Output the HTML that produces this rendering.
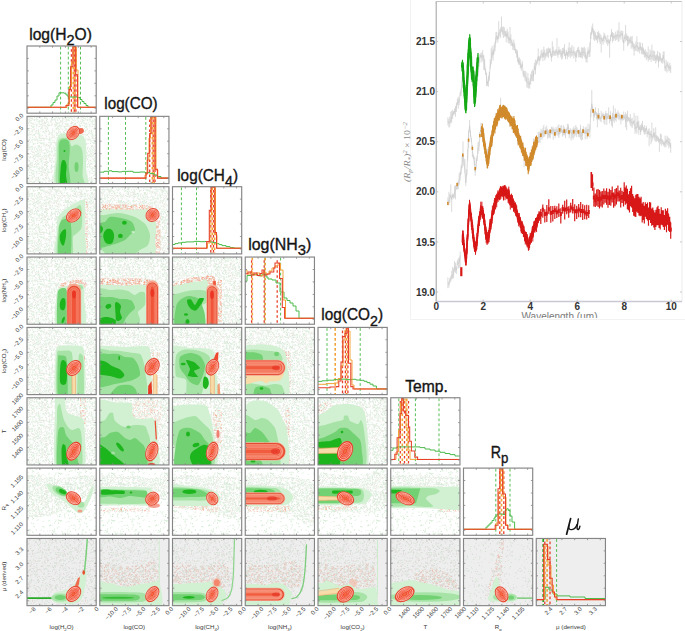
<!DOCTYPE html>
<html><head><meta charset="utf-8"><style>
html,body{margin:0;padding:0;background:#fff;width:685px;height:631px;overflow:hidden}
svg{display:block;font-family:"Liberation Sans", sans-serif}
</style></head><body>
<svg width="685" height="631" viewBox="0 0 685 631">
<defs><filter id="bl" x="-5%" y="-5%" width="110%" height="110%"><feGaussianBlur stdDeviation="0.55"/></filter><pattern id="spg" width="53" height="47" patternUnits="userSpaceOnUse"><path fill="#dcefdc" d="M7.1 39.8h1v1h-1zM22.9 35.8h1v1h-1zM11.5 19.8h1v1h-1zM52.6 40.4h1v1h-1zM29.0 45.0h1v1h-1zM9.4 27.5h1v1h-1zM1.7 44.3h1v1h-1zM4.4 0.8h1v1h-1zM17.1 22.3h1v1h-1zM15.8 45.5h1v1h-1zM22.1 11.9h1v1h-1zM46.2 42.3h1v1h-1zM12.4 34.1h1v1h-1zM7.2 25.9h1v1h-1zM47.5 5.1h1v1h-1zM0.8 19.4h1v1h-1zM36.1 7.5h1v1h-1zM34.6 1.9h1v1h-1zM51.4 45.6h1v1h-1zM4.7 35.4h1v1h-1zM21.3 12.6h1v1h-1zM38.6 1.0h1v1h-1zM24.8 40.4h1v1h-1zM26.6 37.4h1v1h-1zM45.7 11.6h1v1h-1zM49.4 45.9h1v1h-1zM24.6 4.0h1v1h-1zM11.5 26.8h1v1h-1zM5.4 34.6h1v1h-1zM13.2 35.2h1v1h-1zM28.9 23.1h1v1h-1zM10.9 38.1h1v1h-1zM37.1 45.5h1v1h-1zM51.3 13.7h1v1h-1zM37.5 39.7h1v1h-1zM10.9 32.0h1v1h-1zM49.2 44.9h1v1h-1zM6.3 32.6h1v1h-1zM13.7 23.3h1v1h-1zM48.2 46.7h1v1h-1zM7.7 31.2h1v1h-1zM29.9 11.9h1v1h-1zM24.5 39.5h1v1h-1zM2.3 12.9h1v1h-1zM34.0 11.4h1v1h-1zM9.4 4.5h1v1h-1zM48.7 40.2h1v1h-1zM6.9 37.3h1v1h-1zM50.7 27.5h1v1h-1zM51.4 38.3h1v1h-1zM42.2 27.5h1v1h-1zM18.6 46.4h1v1h-1zM47.5 31.5h1v1h-1zM18.8 19.5h1v1h-1zM38.3 39.2h1v1h-1zM22.7 44.9h1v1h-1zM2.5 30.6h1v1h-1zM34.1 40.7h1v1h-1zM17.9 22.8h1v1h-1zM21.6 29.6h1v1h-1zM22.4 0.2h1v1h-1zM31.9 24.4h1v1h-1zM6.4 16.3h1v1h-1zM30.4 16.3h1v1h-1zM0.4 41.7h1v1h-1zM33.5 25.8h1v1h-1zM32.0 0.4h1v1h-1zM39.6 44.3h1v1h-1zM21.6 28.5h1v1h-1zM37.3 0.0h1v1h-1zM13.4 29.4h1v1h-1zM0.6 19.5h1v1h-1zM43.8 44.5h1v1h-1zM5.0 38.3h1v1h-1zM51.8 11.2h1v1h-1zM50.8 10.6h1v1h-1zM37.7 3.9h1v1h-1zM8.1 31.4h1v1h-1zM42.4 29.2h1v1h-1zM9.9 0.7h1v1h-1zM5.0 31.9h1v1h-1zM52.0 36.5h1v1h-1zM18.1 2.4h1v1h-1zM14.2 16.6h1v1h-1zM29.5 46.9h1v1h-1zM22.0 46.9h1v1h-1zM1.8 17.4h1v1h-1zM5.2 33.9h1v1h-1zM51.6 9.3h1v1h-1zM0.5 46.1h1v1h-1zM8.7 42.2h1v1h-1zM0.5 35.9h1v1h-1zM25.1 1.1h1v1h-1zM45.7 2.5h1v1h-1zM18.9 36.9h1v1h-1zM13.6 25.4h1v1h-1zM16.4 41.3h1v1h-1zM11.1 3.8h1v1h-1zM35.6 38.6h1v1h-1zM51.6 38.1h1v1h-1zM39.4 41.3h1v1h-1zM26.4 31.7h1v1h-1zM22.8 39.6h1v1h-1zM19.8 10.8h1v1h-1zM6.9 43.4h1v1h-1zM38.8 40.1h1v1h-1zM17.6 0.9h1v1h-1zM11.6 8.3h1v1h-1zM42.1 31.2h1v1h-1zM48.3 28.4h1v1h-1zM6.4 44.6h1v1h-1zM21.4 16.9h1v1h-1zM16.8 22.6h1v1h-1zM29.6 6.4h1v1h-1zM9.1 6.7h1v1h-1zM29.8 23.4h1v1h-1zM7.1 43.7h1v1h-1zM12.4 41.2h1v1h-1zM52.3 46.7h1v1h-1zM15.0 7.3h1v1h-1zM2.9 33.9h1v1h-1zM14.5 41.2h1v1h-1zM29.5 37.5h1v1h-1zM5.5 4.8h1v1h-1zM17.0 13.2h1v1h-1zM8.1 5.0h1v1h-1zM20.4 36.4h1v1h-1zM8.5 45.5h1v1h-1zM47.4 16.4h1v1h-1zM10.0 37.5h1v1h-1zM41.6 20.7h1v1h-1zM41.3 27.5h1v1h-1zM19.3 2.8h1v1h-1zM6.6 44.7h1v1h-1zM19.4 7.1h1v1h-1zM25.0 1.3h1v1h-1zM32.4 32.8h1v1h-1zM5.9 30.7h1v1h-1zM4.8 22.9h1v1h-1zM33.3 31.5h1v1h-1zM26.2 38.6h1v1h-1zM28.7 5.9h1v1h-1zM36.6 26.6h1v1h-1zM9.0 29.0h1v1h-1zM3.7 28.0h1v1h-1zM42.9 2.8h1v1h-1zM12.3 23.2h1v1h-1zM29.3 19.8h1v1h-1zM14.0 39.0h1v1h-1zM27.0 17.7h1v1h-1zM32.4 16.3h1v1h-1zM51.5 40.5h1v1h-1zM48.8 12.5h1v1h-1zM36.4 31.4h1v1h-1zM47.8 9.8h1v1h-1zM20.6 12.8h1v1h-1zM50.7 42.7h1v1h-1zM0.8 37.6h1v1h-1zM12.1 42.4h1v1h-1zM13.5 13.5h1v1h-1zM1.8 0.9h1v1h-1zM32.7 32.0h1v1h-1zM14.4 15.8h1v1h-1zM37.3 10.6h1v1h-1zM29.1 30.8h1v1h-1zM41.3 25.0h1v1h-1zM39.4 44.5h1v1h-1zM14.0 18.1h1v1h-1zM37.5 21.8h1v1h-1zM32.9 14.9h1v1h-1zM45.3 32.4h1v1h-1zM6.7 42.0h1v1h-1zM13.8 23.0h1v1h-1zM14.5 12.0h1v1h-1zM51.4 39.2h1v1h-1zM41.5 2.0h1v1h-1zM2.0 30.9h1v1h-1zM42.9 2.3h1v1h-1zM4.6 40.9h1v1h-1zM27.0 41.6h1v1h-1zM19.4 33.3h1v1h-1zM14.6 16.6h1v1h-1zM41.0 33.7h1v1h-1zM35.5 18.5h1v1h-1zM34.8 45.5h1v1h-1zM2.7 35.0h1v1h-1zM33.2 15.2h1v1h-1zM5.9 13.5h1v1h-1zM36.0 10.3h1v1h-1zM14.9 12.2h1v1h-1zM33.7 17.6h1v1h-1zM18.9 18.3h1v1h-1zM45.7 13.6h1v1h-1zM2.8 28.6h1v1h-1zM36.0 35.9h1v1h-1zM14.5 44.4h1v1h-1zM35.5 46.9h1v1h-1zM15.9 9.9h1v1h-1zM52.9 26.3h1v1h-1zM20.2 4.4h1v1h-1zM38.2 38.5h1v1h-1zM47.3 21.8h1v1h-1zM17.5 15.6h1v1h-1z"/><path fill="#e3f2e3" d="M25.0 17.8h1v1h-1zM36.9 12.5h1v1h-1zM42.3 19.5h1v1h-1zM12.0 0.6h1v1h-1zM28.6 40.4h1v1h-1zM46.1 26.8h1v1h-1zM16.5 16.1h1v1h-1zM22.9 45.9h1v1h-1zM35.9 25.6h1v1h-1zM48.6 14.0h1v1h-1zM33.0 1.8h1v1h-1zM41.5 15.9h1v1h-1zM45.9 37.0h1v1h-1zM22.3 5.4h1v1h-1zM37.7 14.8h1v1h-1zM34.6 30.2h1v1h-1zM4.9 10.3h1v1h-1zM27.0 31.3h1v1h-1zM15.6 42.0h1v1h-1zM3.3 16.7h1v1h-1zM4.7 22.8h1v1h-1zM18.4 24.2h1v1h-1zM4.3 40.0h1v1h-1zM6.7 42.7h1v1h-1zM12.8 12.2h1v1h-1zM23.7 40.5h1v1h-1zM1.0 23.8h1v1h-1zM14.3 28.7h1v1h-1zM16.8 20.3h1v1h-1zM27.9 6.5h1v1h-1zM2.9 28.1h1v1h-1zM20.0 7.9h1v1h-1zM15.2 9.2h1v1h-1zM46.6 35.7h1v1h-1zM1.9 2.9h1v1h-1zM31.2 37.0h1v1h-1zM44.6 23.6h1v1h-1zM48.9 37.7h1v1h-1zM51.9 25.0h1v1h-1zM1.5 11.8h1v1h-1zM29.8 42.6h1v1h-1zM36.1 33.6h1v1h-1zM34.0 40.2h1v1h-1zM37.6 13.3h1v1h-1zM31.7 40.7h1v1h-1zM31.1 25.8h1v1h-1zM38.0 4.3h1v1h-1zM32.5 33.0h1v1h-1zM40.3 39.6h1v1h-1zM26.9 12.7h1v1h-1zM21.8 6.1h1v1h-1zM28.2 28.6h1v1h-1zM36.9 12.6h1v1h-1zM26.4 28.2h1v1h-1zM17.9 28.5h1v1h-1zM28.0 6.3h1v1h-1zM43.9 2.4h1v1h-1zM36.3 10.6h1v1h-1zM43.6 38.6h1v1h-1zM28.4 18.5h1v1h-1zM31.8 5.2h1v1h-1zM7.5 41.3h1v1h-1zM19.3 13.7h1v1h-1zM21.5 45.9h1v1h-1zM13.0 38.0h1v1h-1zM5.6 44.7h1v1h-1zM51.7 15.5h1v1h-1zM49.1 39.5h1v1h-1zM42.6 46.2h1v1h-1zM35.1 16.1h1v1h-1zM1.1 10.2h1v1h-1zM34.6 25.2h1v1h-1zM21.0 18.3h1v1h-1zM26.3 13.1h1v1h-1zM13.8 13.1h1v1h-1zM30.0 0.6h1v1h-1zM42.5 25.3h1v1h-1zM28.8 33.7h1v1h-1zM28.5 3.5h1v1h-1zM45.0 6.6h1v1h-1zM33.6 11.6h1v1h-1zM12.2 1.8h1v1h-1zM26.2 31.5h1v1h-1zM28.5 43.4h1v1h-1zM44.9 39.2h1v1h-1zM50.7 28.0h1v1h-1zM44.2 8.3h1v1h-1zM38.5 12.4h1v1h-1zM39.1 14.2h1v1h-1zM33.4 24.7h1v1h-1zM6.5 12.5h1v1h-1zM10.6 20.8h1v1h-1zM49.8 19.2h1v1h-1zM33.9 5.4h1v1h-1zM31.6 24.2h1v1h-1zM21.6 0.8h1v1h-1zM26.8 4.4h1v1h-1zM7.8 39.1h1v1h-1zM3.1 4.2h1v1h-1zM1.7 11.8h1v1h-1zM20.5 20.0h1v1h-1zM34.2 7.2h1v1h-1zM4.2 28.8h1v1h-1zM51.1 9.9h1v1h-1zM0.4 4.6h1v1h-1zM10.9 35.9h1v1h-1zM34.8 28.3h1v1h-1zM37.5 43.7h1v1h-1zM12.9 34.3h1v1h-1zM17.3 24.5h1v1h-1zM40.2 16.8h1v1h-1zM50.6 26.7h1v1h-1zM23.5 7.7h1v1h-1zM16.7 6.5h1v1h-1zM26.9 14.5h1v1h-1zM43.2 20.8h1v1h-1zM39.3 22.5h1v1h-1zM16.9 16.4h1v1h-1zM32.4 10.6h1v1h-1zM47.0 30.5h1v1h-1zM36.6 38.7h1v1h-1zM32.0 36.7h1v1h-1zM4.9 19.2h1v1h-1zM5.9 37.2h1v1h-1zM27.7 13.0h1v1h-1zM37.2 14.9h1v1h-1zM1.1 36.6h1v1h-1zM1.8 30.6h1v1h-1zM28.2 26.5h1v1h-1zM47.0 33.8h1v1h-1zM19.5 25.8h1v1h-1zM10.4 6.8h1v1h-1zM5.1 5.0h1v1h-1zM0.2 20.3h1v1h-1zM28.3 12.6h1v1h-1zM11.7 0.8h1v1h-1zM7.3 23.6h1v1h-1zM31.2 31.9h1v1h-1zM6.2 24.9h1v1h-1zM8.6 7.1h1v1h-1zM7.1 27.2h1v1h-1zM23.1 38.0h1v1h-1zM18.8 16.7h1v1h-1zM52.5 37.1h1v1h-1zM46.0 15.1h1v1h-1zM15.4 45.9h1v1h-1zM24.2 40.7h1v1h-1zM10.6 15.7h1v1h-1zM12.9 27.0h1v1h-1zM33.2 44.4h1v1h-1zM32.7 30.0h1v1h-1zM51.4 23.1h1v1h-1zM46.3 36.9h1v1h-1zM13.8 9.5h1v1h-1zM11.2 1.8h1v1h-1zM17.8 3.2h1v1h-1zM24.3 28.2h1v1h-1zM24.3 25.4h1v1h-1zM46.1 9.1h1v1h-1zM50.3 0.4h1v1h-1zM28.3 13.1h1v1h-1zM40.3 26.5h1v1h-1zM27.4 39.8h1v1h-1zM27.6 25.1h1v1h-1zM12.2 9.9h1v1h-1zM37.5 20.2h1v1h-1zM21.5 10.5h1v1h-1zM47.7 29.4h1v1h-1zM16.5 20.8h1v1h-1zM24.1 16.1h1v1h-1zM3.1 20.7h1v1h-1zM20.9 46.7h1v1h-1zM27.5 45.1h1v1h-1zM22.2 42.2h1v1h-1zM23.1 12.5h1v1h-1zM42.0 14.9h1v1h-1zM9.3 34.5h1v1h-1zM28.6 27.9h1v1h-1zM42.6 34.7h1v1h-1zM24.8 7.1h1v1h-1zM51.7 28.9h1v1h-1zM8.4 27.0h1v1h-1zM41.9 26.6h1v1h-1zM11.8 30.1h1v1h-1zM52.6 38.1h1v1h-1zM14.6 17.5h1v1h-1zM11.8 28.9h1v1h-1zM16.9 45.9h1v1h-1zM35.3 37.5h1v1h-1zM28.4 16.1h1v1h-1zM37.0 12.2h1v1h-1zM52.3 35.4h1v1h-1zM31.5 44.7h1v1h-1zM32.9 3.2h1v1h-1zM21.7 36.8h1v1h-1zM47.8 31.0h1v1h-1zM45.6 13.8h1v1h-1zM13.9 42.1h1v1h-1zM14.9 31.5h1v1h-1zM21.4 30.8h1v1h-1zM22.0 29.0h1v1h-1zM34.6 9.0h1v1h-1zM14.6 30.1h1v1h-1zM28.5 1.0h1v1h-1zM14.6 34.7h1v1h-1zM11.6 12.3h1v1h-1zM41.3 16.7h1v1h-1zM13.8 36.4h1v1h-1zM20.3 32.2h1v1h-1zM26.8 38.1h1v1h-1zM50.9 1.8h1v1h-1zM0.3 13.4h1v1h-1zM7.8 3.2h1v1h-1zM31.2 12.6h1v1h-1zM3.9 9.1h1v1h-1zM3.4 23.4h1v1h-1zM3.9 7.1h1v1h-1zM32.3 33.0h1v1h-1zM37.6 10.4h1v1h-1zM28.4 28.1h1v1h-1zM26.1 2.9h1v1h-1zM2.7 18.0h1v1h-1zM51.1 30.7h1v1h-1zM34.3 14.8h1v1h-1zM11.7 22.6h1v1h-1zM30.4 23.8h1v1h-1zM41.9 33.6h1v1h-1zM19.0 46.0h1v1h-1z"/><path fill="#d4ebd4" d="M31.3 4.8h1v1h-1zM11.6 21.6h1v1h-1zM44.0 31.5h1v1h-1zM49.9 19.4h1v1h-1zM42.3 37.5h1v1h-1zM40.0 13.2h1v1h-1zM5.8 29.4h1v1h-1zM15.4 7.9h1v1h-1zM28.0 7.9h1v1h-1zM1.6 31.7h1v1h-1zM16.2 40.4h1v1h-1zM5.5 31.3h1v1h-1zM26.8 12.0h1v1h-1zM4.3 12.5h1v1h-1zM48.2 13.8h1v1h-1zM31.6 21.1h1v1h-1zM21.1 3.0h1v1h-1zM46.0 22.0h1v1h-1zM13.7 25.5h1v1h-1zM10.6 16.9h1v1h-1zM20.7 14.4h1v1h-1zM47.4 14.2h1v1h-1zM41.1 46.3h1v1h-1zM28.9 34.0h1v1h-1zM52.3 9.7h1v1h-1zM24.0 18.6h1v1h-1zM31.5 6.5h1v1h-1zM40.6 41.5h1v1h-1zM48.2 31.0h1v1h-1zM15.1 25.5h1v1h-1zM20.3 26.2h1v1h-1zM41.3 18.7h1v1h-1zM21.8 32.2h1v1h-1zM9.0 24.0h1v1h-1zM11.0 41.6h1v1h-1zM41.9 40.7h1v1h-1zM47.4 20.7h1v1h-1zM23.4 31.2h1v1h-1zM20.7 29.7h1v1h-1zM33.8 45.5h1v1h-1zM38.2 35.4h1v1h-1zM24.9 17.4h1v1h-1zM27.8 4.2h1v1h-1zM37.2 25.2h1v1h-1zM27.6 4.6h1v1h-1zM6.7 3.0h1v1h-1zM43.2 30.6h1v1h-1zM22.1 15.0h1v1h-1zM0.5 5.7h1v1h-1zM48.5 15.3h1v1h-1zM30.4 21.2h1v1h-1zM2.6 23.1h1v1h-1zM38.5 38.3h1v1h-1zM34.0 25.4h1v1h-1zM27.2 46.7h1v1h-1zM21.6 29.6h1v1h-1zM39.0 26.6h1v1h-1zM14.3 12.8h1v1h-1zM33.7 40.1h1v1h-1zM52.7 38.3h1v1h-1zM45.5 27.7h1v1h-1zM15.2 19.8h1v1h-1zM29.1 25.1h1v1h-1zM40.2 34.3h1v1h-1zM49.1 45.5h1v1h-1zM3.0 29.4h1v1h-1zM28.3 2.7h1v1h-1zM16.7 23.2h1v1h-1zM26.7 31.0h1v1h-1zM33.2 40.5h1v1h-1zM38.4 4.9h1v1h-1zM13.2 24.9h1v1h-1zM12.8 31.9h1v1h-1zM38.4 5.9h1v1h-1zM25.7 37.6h1v1h-1zM36.0 13.0h1v1h-1zM26.9 16.7h1v1h-1zM16.6 41.3h1v1h-1zM32.7 19.5h1v1h-1zM34.1 22.9h1v1h-1zM38.0 4.7h1v1h-1zM40.6 31.4h1v1h-1zM7.1 26.4h1v1h-1zM19.1 43.6h1v1h-1zM13.5 16.4h1v1h-1zM35.1 46.4h1v1h-1zM39.7 8.4h1v1h-1zM15.5 24.2h1v1h-1zM11.1 21.8h1v1h-1zM32.6 35.5h1v1h-1zM32.8 2.4h1v1h-1zM12.4 19.3h1v1h-1zM40.8 19.8h1v1h-1zM44.9 18.1h1v1h-1zM45.8 37.0h1v1h-1zM28.1 4.7h1v1h-1zM0.2 7.6h1v1h-1zM7.9 5.1h1v1h-1zM45.9 19.8h1v1h-1zM4.4 33.3h1v1h-1zM43.6 3.5h1v1h-1zM7.1 20.8h1v1h-1zM42.3 1.8h1v1h-1zM9.6 32.2h1v1h-1zM43.8 27.4h1v1h-1zM32.0 7.8h1v1h-1zM11.1 22.4h1v1h-1zM16.2 0.7h1v1h-1zM39.7 30.1h1v1h-1zM11.1 7.1h1v1h-1zM52.6 20.5h1v1h-1zM46.3 24.1h1v1h-1zM15.5 25.8h1v1h-1zM2.9 1.6h1v1h-1zM29.6 22.0h1v1h-1zM15.7 25.9h1v1h-1zM37.1 1.7h1v1h-1zM12.2 35.1h1v1h-1zM11.7 13.4h1v1h-1zM44.1 23.0h1v1h-1zM46.9 25.0h1v1h-1zM27.1 17.4h1v1h-1zM18.9 14.8h1v1h-1zM51.0 23.9h1v1h-1zM11.8 23.8h1v1h-1zM7.5 10.7h1v1h-1zM25.2 24.1h1v1h-1zM10.4 37.8h1v1h-1zM19.2 2.3h1v1h-1zM35.5 14.6h1v1h-1zM17.9 40.0h1v1h-1zM3.3 30.9h1v1h-1zM1.0 8.5h1v1h-1zM12.0 12.3h1v1h-1zM49.1 10.2h1v1h-1zM23.9 27.9h1v1h-1zM2.7 34.1h1v1h-1zM23.8 18.3h1v1h-1zM14.7 19.2h1v1h-1zM20.5 33.7h1v1h-1zM20.5 39.9h1v1h-1zM49.5 2.4h1v1h-1zM48.0 35.7h1v1h-1zM22.2 1.4h1v1h-1zM46.3 9.8h1v1h-1zM20.6 42.4h1v1h-1zM12.4 38.7h1v1h-1zM20.4 33.4h1v1h-1zM5.1 0.2h1v1h-1zM11.1 33.3h1v1h-1zM37.6 22.7h1v1h-1zM7.6 17.5h1v1h-1zM0.4 20.2h1v1h-1zM20.1 39.1h1v1h-1zM11.6 42.7h1v1h-1zM39.5 20.6h1v1h-1zM43.8 12.2h1v1h-1zM41.8 25.4h1v1h-1zM24.9 26.8h1v1h-1zM42.9 36.9h1v1h-1zM4.9 23.4h1v1h-1zM38.9 4.6h1v1h-1zM24.1 35.3h1v1h-1zM2.1 21.4h1v1h-1zM24.9 16.8h1v1h-1zM18.8 24.7h1v1h-1zM40.9 10.2h1v1h-1zM44.1 15.2h1v1h-1zM31.2 30.9h1v1h-1zM21.2 5.3h1v1h-1zM40.9 33.9h1v1h-1zM32.1 42.7h1v1h-1zM3.3 40.9h1v1h-1zM2.8 39.5h1v1h-1zM13.1 44.7h1v1h-1zM24.1 24.1h1v1h-1zM27.8 28.9h1v1h-1zM4.3 1.9h1v1h-1zM38.6 29.3h1v1h-1zM52.5 35.2h1v1h-1zM46.1 25.9h1v1h-1zM47.1 30.2h1v1h-1zM31.6 5.2h1v1h-1zM45.4 15.5h1v1h-1zM37.7 36.3h1v1h-1zM0.4 1.1h1v1h-1zM31.6 35.8h1v1h-1zM13.4 6.9h1v1h-1zM49.4 44.5h1v1h-1zM47.7 20.7h1v1h-1zM44.3 11.4h1v1h-1zM4.8 37.6h1v1h-1zM40.0 1.5h1v1h-1zM11.8 22.2h1v1h-1zM13.3 30.5h1v1h-1zM17.0 13.1h1v1h-1zM26.6 40.5h1v1h-1zM26.4 12.4h1v1h-1zM2.1 27.4h1v1h-1zM36.8 14.4h1v1h-1zM41.8 22.4h1v1h-1zM15.7 34.2h1v1h-1zM17.7 31.3h1v1h-1zM13.1 13.7h1v1h-1zM15.2 13.2h1v1h-1zM24.1 14.5h1v1h-1zM32.8 32.6h1v1h-1zM48.6 46.5h1v1h-1zM35.8 44.7h1v1h-1zM40.6 2.3h1v1h-1zM38.2 26.9h1v1h-1zM27.1 31.5h1v1h-1zM45.5 17.2h1v1h-1z"/><path fill="#e8f1e8" d="M13.5 23.3h1v1h-1zM5.0 1.3h1v1h-1zM28.0 35.9h1v1h-1zM15.1 45.8h1v1h-1zM10.9 44.6h1v1h-1zM33.0 28.8h1v1h-1zM47.5 27.8h1v1h-1zM14.1 4.5h1v1h-1zM41.3 33.6h1v1h-1zM17.0 19.1h1v1h-1zM18.1 28.9h1v1h-1zM29.9 43.5h1v1h-1zM15.4 37.2h1v1h-1zM36.2 21.0h1v1h-1zM38.8 11.2h1v1h-1zM20.0 7.3h1v1h-1zM51.5 18.0h1v1h-1zM21.1 42.8h1v1h-1zM6.3 28.2h1v1h-1zM40.8 26.8h1v1h-1zM19.8 37.9h1v1h-1zM23.8 14.3h1v1h-1zM26.1 30.4h1v1h-1zM44.0 24.0h1v1h-1zM20.6 20.0h1v1h-1zM8.1 39.1h1v1h-1zM27.0 35.0h1v1h-1zM3.7 3.1h1v1h-1zM20.8 18.8h1v1h-1zM45.1 40.8h1v1h-1zM7.9 44.4h1v1h-1zM5.6 18.7h1v1h-1zM11.8 11.0h1v1h-1zM0.8 0.2h1v1h-1zM42.1 1.4h1v1h-1zM22.9 8.9h1v1h-1zM43.3 9.0h1v1h-1zM2.1 25.0h1v1h-1zM4.5 1.6h1v1h-1zM45.4 14.3h1v1h-1zM17.5 15.9h1v1h-1zM39.4 9.4h1v1h-1zM34.1 8.1h1v1h-1zM1.2 17.3h1v1h-1zM48.4 8.9h1v1h-1zM40.8 24.2h1v1h-1zM52.7 13.3h1v1h-1zM24.0 6.2h1v1h-1zM13.4 0.5h1v1h-1zM49.0 39.8h1v1h-1zM20.6 37.8h1v1h-1zM23.0 36.5h1v1h-1zM11.4 39.0h1v1h-1zM1.4 11.9h1v1h-1zM45.3 5.0h1v1h-1zM50.1 12.7h1v1h-1zM39.2 27.3h1v1h-1zM1.7 6.5h1v1h-1zM38.4 22.4h1v1h-1zM30.8 29.1h1v1h-1zM45.0 17.9h1v1h-1zM48.7 30.2h1v1h-1zM15.6 38.4h1v1h-1zM1.1 42.2h1v1h-1zM33.5 44.8h1v1h-1zM41.6 21.7h1v1h-1zM38.3 9.1h1v1h-1zM21.1 5.7h1v1h-1zM34.6 44.2h1v1h-1zM1.1 40.4h1v1h-1zM30.6 26.0h1v1h-1zM43.6 5.3h1v1h-1zM45.3 44.1h1v1h-1zM44.6 30.4h1v1h-1zM29.3 42.8h1v1h-1zM13.1 37.2h1v1h-1zM41.4 17.0h1v1h-1zM26.0 17.5h1v1h-1zM35.2 44.8h1v1h-1zM30.5 40.3h1v1h-1zM40.1 36.8h1v1h-1zM47.3 10.9h1v1h-1zM36.9 29.4h1v1h-1zM6.8 32.5h1v1h-1zM11.9 33.5h1v1h-1zM37.8 32.3h1v1h-1zM51.6 43.6h1v1h-1zM11.6 31.6h1v1h-1zM47.1 8.6h1v1h-1zM12.7 36.3h1v1h-1zM40.0 17.4h1v1h-1zM19.3 14.8h1v1h-1zM37.7 7.0h1v1h-1zM45.4 14.6h1v1h-1zM8.2 16.6h1v1h-1zM16.7 32.2h1v1h-1zM31.8 40.6h1v1h-1zM40.9 1.0h1v1h-1zM47.8 40.1h1v1h-1zM47.2 26.9h1v1h-1zM46.1 44.7h1v1h-1zM15.4 5.4h1v1h-1zM40.7 33.8h1v1h-1zM36.9 9.0h1v1h-1zM29.0 40.0h1v1h-1zM43.1 16.0h1v1h-1zM9.5 41.7h1v1h-1zM28.5 6.5h1v1h-1zM51.7 25.9h1v1h-1zM5.4 2.5h1v1h-1zM9.2 23.0h1v1h-1zM28.4 14.9h1v1h-1zM31.4 21.7h1v1h-1zM39.9 6.8h1v1h-1zM23.4 24.5h1v1h-1zM12.5 23.4h1v1h-1zM20.3 1.4h1v1h-1zM46.0 15.6h1v1h-1zM49.4 18.0h1v1h-1zM1.1 31.5h1v1h-1zM40.9 17.6h1v1h-1zM30.4 26.3h1v1h-1zM14.7 29.2h1v1h-1zM41.0 44.6h1v1h-1zM52.9 40.0h1v1h-1zM33.8 32.4h1v1h-1zM51.1 39.6h1v1h-1zM52.0 35.6h1v1h-1zM42.3 32.4h1v1h-1zM35.1 37.0h1v1h-1zM47.0 33.0h1v1h-1zM33.6 29.4h1v1h-1zM22.6 2.9h1v1h-1zM31.7 22.5h1v1h-1zM27.1 37.3h1v1h-1zM1.5 0.5h1v1h-1zM2.2 3.6h1v1h-1zM11.6 18.7h1v1h-1zM11.5 14.3h1v1h-1zM49.9 10.3h1v1h-1zM42.7 3.6h1v1h-1zM46.4 23.2h1v1h-1zM4.3 21.4h1v1h-1zM33.7 36.5h1v1h-1zM14.2 8.3h1v1h-1zM27.9 1.8h1v1h-1zM20.0 18.7h1v1h-1zM50.8 44.0h1v1h-1zM13.4 0.7h1v1h-1zM5.9 7.1h1v1h-1zM3.0 3.2h1v1h-1zM3.1 2.4h1v1h-1zM46.3 44.0h1v1h-1zM23.4 16.4h1v1h-1zM19.5 7.3h1v1h-1zM23.5 27.7h1v1h-1zM31.6 15.9h1v1h-1zM32.0 29.6h1v1h-1zM2.7 38.2h1v1h-1zM13.6 31.9h1v1h-1zM32.1 44.9h1v1h-1zM44.6 44.0h1v1h-1zM6.0 39.6h1v1h-1zM42.8 14.0h1v1h-1zM6.7 31.4h1v1h-1zM13.6 0.1h1v1h-1zM40.9 6.6h1v1h-1zM5.3 5.1h1v1h-1zM5.6 0.2h1v1h-1zM18.0 15.5h1v1h-1zM49.2 43.4h1v1h-1zM23.3 13.8h1v1h-1zM38.7 9.8h1v1h-1zM13.7 41.4h1v1h-1zM49.9 39.1h1v1h-1zM38.2 42.1h1v1h-1zM8.7 1.8h1v1h-1zM27.4 39.2h1v1h-1zM45.9 37.7h1v1h-1zM9.5 11.9h1v1h-1zM30.0 1.1h1v1h-1zM2.8 43.1h1v1h-1zM10.2 28.0h1v1h-1zM45.8 33.8h1v1h-1zM16.0 40.0h1v1h-1zM36.0 23.3h1v1h-1zM43.2 42.7h1v1h-1zM25.8 9.1h1v1h-1zM17.9 17.2h1v1h-1zM37.4 5.8h1v1h-1zM52.9 40.4h1v1h-1zM31.9 10.2h1v1h-1zM29.4 5.5h1v1h-1zM39.3 17.3h1v1h-1zM8.3 9.4h1v1h-1zM4.7 10.7h1v1h-1zM53.0 21.5h1v1h-1zM49.4 0.8h1v1h-1zM49.1 17.3h1v1h-1zM23.2 33.0h1v1h-1zM3.8 44.5h1v1h-1zM19.4 1.8h1v1h-1zM17.9 32.7h1v1h-1zM9.5 25.4h1v1h-1zM0.4 20.9h1v1h-1z"/><path fill="#dde9df" d="M1.6 1.2h1v1h-1zM49.1 19.6h1v1h-1zM26.5 45.5h1v1h-1zM44.8 23.7h1v1h-1zM26.9 36.6h1v1h-1zM45.0 28.9h1v1h-1zM20.9 8.0h1v1h-1zM21.4 16.2h1v1h-1zM27.2 6.1h1v1h-1zM22.0 0.1h1v1h-1zM27.0 9.8h1v1h-1zM50.9 20.9h1v1h-1zM29.7 40.0h1v1h-1zM43.4 45.2h1v1h-1zM26.7 0.8h1v1h-1zM8.3 40.3h1v1h-1zM28.3 36.1h1v1h-1zM7.0 7.8h1v1h-1zM11.3 35.7h1v1h-1zM18.0 13.7h1v1h-1zM4.1 25.9h1v1h-1zM10.0 36.9h1v1h-1zM23.1 45.3h1v1h-1zM13.3 36.9h1v1h-1zM9.9 37.3h1v1h-1zM5.4 28.7h1v1h-1zM16.2 33.3h1v1h-1zM29.1 25.4h1v1h-1zM21.1 18.9h1v1h-1zM11.6 43.3h1v1h-1zM34.2 17.3h1v1h-1zM15.8 14.1h1v1h-1zM47.5 45.1h1v1h-1zM28.8 46.7h1v1h-1zM50.9 6.5h1v1h-1zM50.9 24.8h1v1h-1zM1.1 29.5h1v1h-1zM6.3 35.1h1v1h-1zM51.6 6.4h1v1h-1zM26.7 16.8h1v1h-1zM18.0 34.4h1v1h-1zM9.0 29.1h1v1h-1zM44.9 36.1h1v1h-1zM14.6 14.3h1v1h-1zM3.6 32.9h1v1h-1zM34.9 22.0h1v1h-1zM39.0 46.8h1v1h-1zM38.0 12.2h1v1h-1zM38.8 40.9h1v1h-1zM36.2 23.2h1v1h-1zM43.2 45.3h1v1h-1zM12.5 13.3h1v1h-1zM16.9 18.0h1v1h-1zM18.5 28.5h1v1h-1zM3.7 12.6h1v1h-1zM2.8 4.3h1v1h-1zM6.9 38.3h1v1h-1zM52.4 33.8h1v1h-1zM17.2 35.2h1v1h-1zM19.6 14.4h1v1h-1zM40.6 44.1h1v1h-1zM2.7 4.7h1v1h-1zM13.9 29.7h1v1h-1zM22.5 31.8h1v1h-1zM21.6 0.4h1v1h-1zM4.0 28.9h1v1h-1zM51.5 25.5h1v1h-1zM28.7 38.5h1v1h-1zM50.3 19.4h1v1h-1zM35.4 13.8h1v1h-1zM26.4 18.5h1v1h-1zM27.6 19.6h1v1h-1zM15.3 23.1h1v1h-1zM48.4 37.1h1v1h-1zM13.6 4.1h1v1h-1zM21.5 31.9h1v1h-1zM11.4 20.4h1v1h-1zM1.1 25.3h1v1h-1zM51.8 17.1h1v1h-1zM36.2 7.3h1v1h-1zM24.4 36.6h1v1h-1zM44.1 27.6h1v1h-1zM42.3 11.2h1v1h-1zM6.0 24.1h1v1h-1zM40.1 5.7h1v1h-1zM48.7 7.3h1v1h-1zM39.0 42.9h1v1h-1zM36.9 46.6h1v1h-1zM4.0 25.2h1v1h-1zM50.9 8.3h1v1h-1zM10.1 23.7h1v1h-1zM21.1 21.9h1v1h-1zM34.1 18.2h1v1h-1zM14.7 19.5h1v1h-1zM40.8 29.9h1v1h-1zM37.6 16.3h1v1h-1zM6.4 9.5h1v1h-1zM20.0 22.7h1v1h-1zM35.6 43.3h1v1h-1zM10.4 16.9h1v1h-1zM2.3 23.5h1v1h-1zM21.0 46.7h1v1h-1zM16.8 7.0h1v1h-1zM30.5 5.3h1v1h-1zM17.8 17.3h1v1h-1zM25.7 29.8h1v1h-1zM23.6 23.5h1v1h-1zM19.1 6.9h1v1h-1zM52.8 40.0h1v1h-1zM29.2 27.0h1v1h-1zM21.9 5.9h1v1h-1zM18.0 13.9h1v1h-1zM22.1 7.7h1v1h-1zM31.1 45.8h1v1h-1zM27.8 8.1h1v1h-1zM50.1 3.5h1v1h-1zM50.6 27.3h1v1h-1zM49.3 31.0h1v1h-1zM27.3 23.2h1v1h-1zM29.9 25.9h1v1h-1zM35.8 24.6h1v1h-1zM40.5 18.6h1v1h-1zM13.7 14.6h1v1h-1zM37.1 8.6h1v1h-1zM15.6 19.8h1v1h-1zM47.0 11.2h1v1h-1zM8.9 26.6h1v1h-1zM44.4 14.3h1v1h-1zM12.3 13.7h1v1h-1zM30.4 23.9h1v1h-1zM45.7 20.6h1v1h-1zM27.1 31.2h1v1h-1zM21.0 24.5h1v1h-1zM4.2 3.3h1v1h-1zM30.1 22.5h1v1h-1zM32.7 14.5h1v1h-1zM37.4 22.0h1v1h-1zM29.3 8.0h1v1h-1zM9.6 21.1h1v1h-1zM1.9 9.1h1v1h-1zM41.1 8.2h1v1h-1zM26.9 7.7h1v1h-1zM45.9 41.5h1v1h-1zM24.0 46.5h1v1h-1zM39.3 14.2h1v1h-1zM18.1 27.3h1v1h-1zM8.8 25.2h1v1h-1zM10.3 7.7h1v1h-1zM37.0 2.0h1v1h-1zM38.1 46.7h1v1h-1zM2.9 38.3h1v1h-1zM26.8 6.1h1v1h-1zM39.8 46.0h1v1h-1zM22.8 22.1h1v1h-1zM37.5 18.5h1v1h-1zM28.9 19.3h1v1h-1zM23.2 3.2h1v1h-1zM31.0 8.6h1v1h-1zM36.7 46.5h1v1h-1zM28.5 36.2h1v1h-1zM0.6 12.5h1v1h-1zM5.2 15.1h1v1h-1zM44.5 20.5h1v1h-1zM49.5 1.0h1v1h-1zM38.8 43.7h1v1h-1zM26.3 33.2h1v1h-1zM17.3 44.3h1v1h-1zM51.5 1.3h1v1h-1zM38.1 36.4h1v1h-1zM3.6 38.9h1v1h-1zM16.3 14.5h1v1h-1zM43.2 45.4h1v1h-1zM6.4 21.8h1v1h-1zM0.8 14.5h1v1h-1zM33.7 6.4h1v1h-1zM23.3 34.2h1v1h-1zM12.1 22.3h1v1h-1zM48.4 4.0h1v1h-1zM13.8 18.7h1v1h-1zM14.8 12.2h1v1h-1zM20.4 19.0h1v1h-1zM38.6 27.9h1v1h-1zM1.8 26.1h1v1h-1zM49.4 12.5h1v1h-1zM17.9 22.3h1v1h-1zM35.0 20.3h1v1h-1zM49.9 16.7h1v1h-1zM35.9 13.0h1v1h-1zM25.9 18.0h1v1h-1zM30.0 15.3h1v1h-1zM35.2 39.2h1v1h-1zM0.2 25.3h1v1h-1zM44.3 23.9h1v1h-1zM46.5 7.5h1v1h-1zM51.3 3.2h1v1h-1zM47.7 3.8h1v1h-1zM2.9 6.5h1v1h-1zM22.4 34.6h1v1h-1zM52.7 0.8h1v1h-1zM49.2 37.9h1v1h-1zM15.6 38.1h1v1h-1zM17.2 21.3h1v1h-1zM18.7 28.4h1v1h-1zM39.3 25.8h1v1h-1zM17.4 29.2h1v1h-1zM2.8 13.9h1v1h-1zM7.5 31.3h1v1h-1zM17.3 35.1h1v1h-1zM48.9 42.4h1v1h-1zM13.6 18.9h1v1h-1zM33.0 10.6h1v1h-1zM25.2 20.5h1v1h-1zM22.0 5.1h1v1h-1zM18.3 29.4h1v1h-1zM23.0 33.5h1v1h-1zM52.9 15.7h1v1h-1zM30.5 28.2h1v1h-1zM21.2 0.5h1v1h-1zM36.1 30.1h1v1h-1zM36.2 31.6h1v1h-1zM4.9 21.2h1v1h-1zM8.6 30.3h1v1h-1zM25.6 7.2h1v1h-1zM20.1 44.3h1v1h-1zM28.7 23.0h1v1h-1zM29.1 45.4h1v1h-1zM28.0 8.4h1v1h-1zM24.9 36.8h1v1h-1zM12.9 4.9h1v1h-1zM23.1 45.2h1v1h-1zM7.8 11.8h1v1h-1zM43.8 37.8h1v1h-1zM14.9 45.6h1v1h-1zM52.5 35.7h1v1h-1z"/><path fill="#ebe5df" d="M0.5 41.4h1v1h-1zM29.3 16.2h1v1h-1zM48.9 4.7h1v1h-1zM39.4 42.1h1v1h-1zM45.2 22.6h1v1h-1zM19.5 41.5h1v1h-1zM39.1 4.1h1v1h-1zM44.5 17.4h1v1h-1zM1.6 2.0h1v1h-1zM18.7 42.8h1v1h-1zM20.3 40.3h1v1h-1zM31.8 37.8h1v1h-1zM34.4 13.8h1v1h-1zM13.7 11.9h1v1h-1zM0.9 6.9h1v1h-1zM51.8 29.6h1v1h-1zM27.4 10.5h1v1h-1zM35.0 20.0h1v1h-1zM24.4 38.9h1v1h-1zM18.4 9.7h1v1h-1zM49.4 16.2h1v1h-1zM43.9 0.6h1v1h-1zM41.7 43.5h1v1h-1zM43.5 29.3h1v1h-1zM48.1 39.5h1v1h-1zM22.9 7.4h1v1h-1zM9.1 22.8h1v1h-1zM28.0 23.5h1v1h-1zM48.8 43.7h1v1h-1zM36.4 45.0h1v1h-1zM21.8 26.3h1v1h-1zM48.6 12.9h1v1h-1zM19.7 33.0h1v1h-1zM26.2 18.5h1v1h-1zM52.0 38.0h1v1h-1zM44.6 31.0h1v1h-1zM16.5 35.6h1v1h-1zM15.7 31.7h1v1h-1zM17.2 5.8h1v1h-1zM33.7 33.9h1v1h-1zM31.8 24.3h1v1h-1zM37.7 46.4h1v1h-1zM10.5 24.7h1v1h-1zM17.8 29.2h1v1h-1zM26.1 35.1h1v1h-1zM21.6 29.6h1v1h-1zM0.5 42.9h1v1h-1zM36.6 18.9h1v1h-1zM39.0 7.9h1v1h-1zM41.6 8.9h1v1h-1zM23.5 42.9h1v1h-1zM39.8 11.3h1v1h-1zM30.7 10.0h1v1h-1zM33.8 35.0h1v1h-1zM29.0 25.3h1v1h-1zM46.6 19.9h1v1h-1zM35.2 42.1h1v1h-1zM47.6 21.0h1v1h-1zM3.1 12.3h1v1h-1zM25.4 42.9h1v1h-1zM41.5 33.0h1v1h-1zM17.9 46.6h1v1h-1zM10.1 14.1h1v1h-1zM22.3 13.2h1v1h-1zM10.9 7.0h1v1h-1zM41.1 4.7h1v1h-1zM38.9 31.9h1v1h-1zM39.3 46.8h1v1h-1zM14.8 22.5h1v1h-1zM45.5 37.0h1v1h-1zM6.3 41.7h1v1h-1zM4.5 10.6h1v1h-1zM13.3 36.2h1v1h-1zM19.7 33.8h1v1h-1zM18.7 37.8h1v1h-1zM13.9 5.9h1v1h-1zM5.5 17.6h1v1h-1zM44.7 34.0h1v1h-1zM14.3 31.3h1v1h-1zM5.3 36.6h1v1h-1zM41.5 26.7h1v1h-1zM18.9 22.3h1v1h-1zM6.2 1.9h1v1h-1zM27.5 2.6h1v1h-1zM19.6 30.6h1v1h-1zM24.6 38.1h1v1h-1zM42.1 44.0h1v1h-1zM42.6 26.0h1v1h-1zM41.4 29.2h1v1h-1zM39.6 18.0h1v1h-1zM7.3 28.1h1v1h-1zM8.5 6.2h1v1h-1zM26.7 18.7h1v1h-1zM11.2 44.5h1v1h-1zM48.9 6.3h1v1h-1zM30.7 34.1h1v1h-1zM25.9 18.5h1v1h-1zM0.9 14.3h1v1h-1zM19.5 33.4h1v1h-1zM2.2 27.7h1v1h-1zM17.8 45.3h1v1h-1zM18.8 43.5h1v1h-1zM3.9 19.7h1v1h-1zM45.3 28.2h1v1h-1zM32.2 10.9h1v1h-1zM32.2 29.0h1v1h-1zM49.8 5.2h1v1h-1zM46.1 35.2h1v1h-1zM3.1 14.8h1v1h-1zM3.0 2.5h1v1h-1zM6.1 44.8h1v1h-1zM27.9 40.9h1v1h-1zM17.3 16.8h1v1h-1zM46.0 18.0h1v1h-1zM48.6 39.7h1v1h-1zM28.3 46.3h1v1h-1zM50.6 30.5h1v1h-1zM45.5 36.7h1v1h-1zM42.9 17.6h1v1h-1zM51.8 41.6h1v1h-1zM4.4 11.2h1v1h-1zM46.0 4.1h1v1h-1zM30.5 39.4h1v1h-1zM50.4 13.8h1v1h-1zM30.5 28.6h1v1h-1zM8.0 22.6h1v1h-1zM26.9 26.8h1v1h-1zM20.5 34.0h1v1h-1zM23.2 32.3h1v1h-1zM17.5 8.5h1v1h-1zM20.1 30.8h1v1h-1zM45.0 20.8h1v1h-1zM50.4 26.3h1v1h-1zM19.2 28.0h1v1h-1zM48.1 14.7h1v1h-1zM17.3 41.0h1v1h-1zM7.1 15.7h1v1h-1zM36.5 37.5h1v1h-1zM22.0 40.4h1v1h-1zM44.6 11.5h1v1h-1zM26.6 6.0h1v1h-1zM51.6 18.7h1v1h-1zM31.6 22.4h1v1h-1zM4.8 16.6h1v1h-1zM11.4 31.9h1v1h-1zM11.6 7.3h1v1h-1zM27.6 5.0h1v1h-1zM0.1 14.7h1v1h-1zM37.9 36.8h1v1h-1zM47.8 1.2h1v1h-1zM7.4 4.0h1v1h-1zM21.8 3.9h1v1h-1zM45.4 8.0h1v1h-1zM32.0 46.4h1v1h-1zM3.9 18.1h1v1h-1zM35.1 5.4h1v1h-1zM46.6 3.1h1v1h-1zM43.1 44.0h1v1h-1zM9.6 40.8h1v1h-1zM6.9 7.9h1v1h-1zM35.1 10.3h1v1h-1zM45.9 31.9h1v1h-1zM25.9 3.9h1v1h-1zM18.3 39.7h1v1h-1zM11.8 44.1h1v1h-1zM44.4 28.4h1v1h-1zM4.1 39.1h1v1h-1zM12.7 25.5h1v1h-1zM45.2 3.4h1v1h-1zM15.4 10.8h1v1h-1zM22.9 42.5h1v1h-1zM7.7 33.8h1v1h-1zM6.1 9.6h1v1h-1zM12.4 29.0h1v1h-1zM9.1 35.2h1v1h-1zM21.2 23.0h1v1h-1zM10.3 21.6h1v1h-1zM28.7 12.8h1v1h-1zM38.5 14.7h1v1h-1zM33.8 13.6h1v1h-1zM45.8 42.6h1v1h-1zM40.4 14.8h1v1h-1zM41.7 32.6h1v1h-1zM37.2 19.3h1v1h-1zM8.8 26.8h1v1h-1zM52.3 43.0h1v1h-1zM5.7 43.8h1v1h-1zM17.3 40.2h1v1h-1zM24.3 5.5h1v1h-1zM37.5 22.7h1v1h-1zM11.4 17.2h1v1h-1zM3.9 32.3h1v1h-1zM18.2 27.7h1v1h-1zM4.4 15.7h1v1h-1zM23.5 7.9h1v1h-1zM45.2 20.2h1v1h-1zM46.1 25.4h1v1h-1zM27.1 4.2h1v1h-1zM29.1 5.9h1v1h-1zM5.1 7.6h1v1h-1zM10.6 8.2h1v1h-1zM47.3 33.5h1v1h-1zM33.5 17.0h1v1h-1zM17.9 0.2h1v1h-1zM40.0 43.8h1v1h-1zM4.3 34.2h1v1h-1zM2.9 14.7h1v1h-1zM45.7 21.8h1v1h-1zM32.3 13.3h1v1h-1zM33.7 2.5h1v1h-1zM1.5 30.3h1v1h-1zM8.9 9.3h1v1h-1zM16.7 37.3h1v1h-1zM16.9 31.4h1v1h-1zM11.2 16.7h1v1h-1zM16.3 8.1h1v1h-1zM51.2 30.6h1v1h-1z"/></pattern><pattern id="sps" width="53" height="47" patternUnits="userSpaceOnUse"><path fill="#d2e9d2" d="M25.4 4.2h1v1h-1zM21.3 43.1h1v1h-1zM8.5 14.3h1v1h-1zM7.7 31.7h1v1h-1zM24.3 2.0h1v1h-1zM41.1 19.3h1v1h-1zM17.6 0.4h1v1h-1zM31.6 45.6h1v1h-1zM2.7 43.6h1v1h-1zM52.5 18.9h1v1h-1zM40.6 12.7h1v1h-1zM0.7 41.2h1v1h-1zM48.5 20.7h1v1h-1zM2.2 3.7h1v1h-1zM15.7 16.3h1v1h-1zM0.3 14.7h1v1h-1zM52.2 29.5h1v1h-1zM35.8 41.5h1v1h-1zM15.9 1.1h1v1h-1zM27.8 35.5h1v1h-1zM42.5 37.9h1v1h-1zM35.0 46.6h1v1h-1zM40.3 45.5h1v1h-1zM21.4 18.3h1v1h-1zM32.0 14.7h1v1h-1zM1.0 11.5h1v1h-1zM10.9 44.6h1v1h-1zM52.0 13.1h1v1h-1zM16.1 37.1h1v1h-1zM8.3 39.9h1v1h-1zM47.3 41.5h1v1h-1zM49.2 8.3h1v1h-1zM6.2 46.0h1v1h-1zM33.0 0.9h1v1h-1zM40.5 30.3h1v1h-1zM5.0 24.4h1v1h-1zM36.3 46.0h1v1h-1zM44.4 35.7h1v1h-1zM11.2 15.5h1v1h-1zM47.4 22.6h1v1h-1zM31.8 34.1h1v1h-1zM13.7 15.7h1v1h-1zM26.2 38.9h1v1h-1zM7.6 33.4h1v1h-1zM28.6 16.3h1v1h-1zM28.8 12.4h1v1h-1zM28.1 35.4h1v1h-1zM3.8 20.4h1v1h-1zM42.4 37.1h1v1h-1zM43.4 9.5h1v1h-1zM52.9 0.5h1v1h-1zM35.4 29.6h1v1h-1zM31.1 5.6h1v1h-1zM31.9 0.2h1v1h-1zM52.9 27.3h1v1h-1zM5.1 46.8h1v1h-1zM27.6 2.2h1v1h-1zM15.4 4.2h1v1h-1zM5.1 2.6h1v1h-1zM20.8 7.7h1v1h-1z"/><path fill="#dcefdc" d="M5.4 2.9h1v1h-1zM14.7 27.4h1v1h-1zM1.0 13.6h1v1h-1zM15.5 11.8h1v1h-1zM52.0 19.9h1v1h-1zM6.0 2.9h1v1h-1zM41.0 19.2h1v1h-1zM13.2 41.8h1v1h-1zM13.4 24.7h1v1h-1zM26.2 4.4h1v1h-1zM49.3 26.9h1v1h-1zM3.9 45.6h1v1h-1zM2.4 42.3h1v1h-1zM11.6 0.2h1v1h-1zM46.5 25.9h1v1h-1zM29.7 12.1h1v1h-1zM3.5 41.4h1v1h-1zM22.4 37.5h1v1h-1zM19.7 7.7h1v1h-1zM28.7 42.5h1v1h-1zM44.9 16.8h1v1h-1zM32.5 20.8h1v1h-1zM7.1 3.9h1v1h-1zM21.3 44.0h1v1h-1zM17.5 17.5h1v1h-1zM9.1 22.5h1v1h-1zM45.2 32.3h1v1h-1zM21.8 0.6h1v1h-1zM47.3 36.6h1v1h-1zM49.0 3.2h1v1h-1zM32.3 29.7h1v1h-1zM38.8 30.8h1v1h-1zM36.8 34.0h1v1h-1zM25.7 3.2h1v1h-1zM17.8 8.1h1v1h-1zM31.8 1.7h1v1h-1zM42.8 3.9h1v1h-1zM26.4 25.6h1v1h-1zM0.6 32.8h1v1h-1zM33.5 18.9h1v1h-1zM29.7 13.3h1v1h-1zM37.3 20.6h1v1h-1zM14.0 13.5h1v1h-1zM32.5 14.7h1v1h-1zM24.1 46.5h1v1h-1zM46.1 27.4h1v1h-1zM48.1 3.6h1v1h-1zM47.7 35.1h1v1h-1zM52.3 7.6h1v1h-1zM2.6 2.5h1v1h-1zM5.5 9.4h1v1h-1zM12.6 27.0h1v1h-1zM19.3 33.3h1v1h-1zM10.1 16.4h1v1h-1zM18.6 0.3h1v1h-1zM20.3 10.9h1v1h-1zM28.8 17.2h1v1h-1zM46.8 28.0h1v1h-1zM37.6 2.2h1v1h-1zM15.0 39.7h1v1h-1zM27.2 31.3h1v1h-1zM41.0 27.9h1v1h-1zM27.8 25.2h1v1h-1zM30.8 26.8h1v1h-1zM50.0 7.6h1v1h-1zM14.3 40.4h1v1h-1zM46.4 32.1h1v1h-1zM26.9 41.3h1v1h-1z"/><path fill="#c8e4c8" d="M11.8 25.2h1v1h-1zM41.3 38.9h1v1h-1zM11.4 43.6h1v1h-1zM42.4 9.1h1v1h-1zM15.4 40.8h1v1h-1zM14.8 44.4h1v1h-1zM0.4 13.7h1v1h-1zM4.3 21.7h1v1h-1zM27.5 30.5h1v1h-1zM14.6 16.7h1v1h-1zM33.6 9.3h1v1h-1zM6.5 43.9h1v1h-1zM47.5 44.9h1v1h-1zM24.1 17.2h1v1h-1zM29.0 27.4h1v1h-1zM52.9 5.7h1v1h-1zM26.4 1.5h1v1h-1zM22.1 12.3h1v1h-1zM17.8 30.9h1v1h-1zM43.2 24.8h1v1h-1zM5.0 5.4h1v1h-1zM17.3 40.4h1v1h-1zM13.3 28.1h1v1h-1zM35.8 29.2h1v1h-1zM47.8 17.5h1v1h-1zM32.7 39.1h1v1h-1zM47.5 33.1h1v1h-1zM47.6 21.6h1v1h-1zM8.3 3.2h1v1h-1zM50.2 7.7h1v1h-1zM6.5 2.9h1v1h-1zM46.6 33.8h1v1h-1zM26.6 7.2h1v1h-1zM5.7 29.1h1v1h-1zM13.6 40.3h1v1h-1zM41.6 22.4h1v1h-1zM32.0 24.8h1v1h-1zM2.1 31.8h1v1h-1zM41.4 42.7h1v1h-1zM3.8 10.6h1v1h-1zM19.1 41.8h1v1h-1zM21.9 45.8h1v1h-1zM17.0 29.1h1v1h-1zM32.9 32.9h1v1h-1zM6.0 45.7h1v1h-1zM35.9 12.4h1v1h-1zM33.5 34.6h1v1h-1zM9.6 16.8h1v1h-1zM1.1 5.5h1v1h-1zM9.6 28.9h1v1h-1zM32.9 6.3h1v1h-1zM12.4 34.8h1v1h-1zM9.0 16.2h1v1h-1zM15.6 41.5h1v1h-1zM11.1 22.2h1v1h-1zM2.4 16.3h1v1h-1zM3.4 24.6h1v1h-1zM51.1 41.9h1v1h-1zM16.8 14.1h1v1h-1zM37.4 25.1h1v1h-1zM16.7 40.6h1v1h-1zM29.6 45.8h1v1h-1z"/><path fill="#e4efe4" d="M12.5 4.8h1v1h-1zM4.6 28.5h1v1h-1zM26.8 8.4h1v1h-1zM44.9 23.9h1v1h-1zM22.5 13.5h1v1h-1zM21.9 9.5h1v1h-1zM15.6 9.0h1v1h-1zM52.9 26.9h1v1h-1zM25.3 11.4h1v1h-1zM26.1 10.3h1v1h-1zM17.9 18.4h1v1h-1zM46.1 32.3h1v1h-1zM30.2 35.1h1v1h-1zM21.0 36.2h1v1h-1zM8.6 28.6h1v1h-1zM1.8 27.9h1v1h-1zM4.5 25.5h1v1h-1zM10.9 45.9h1v1h-1zM12.4 22.9h1v1h-1zM27.2 20.4h1v1h-1zM33.8 43.7h1v1h-1zM25.8 33.6h1v1h-1zM27.9 24.5h1v1h-1zM32.3 14.7h1v1h-1zM41.5 26.7h1v1h-1zM8.4 27.5h1v1h-1zM19.5 35.0h1v1h-1zM47.6 18.8h1v1h-1zM51.4 14.7h1v1h-1zM40.0 22.7h1v1h-1zM8.7 41.8h1v1h-1zM28.5 14.2h1v1h-1zM17.4 18.2h1v1h-1zM12.3 26.0h1v1h-1zM48.3 25.0h1v1h-1zM52.8 33.2h1v1h-1zM16.2 30.4h1v1h-1zM43.2 14.0h1v1h-1zM11.4 22.5h1v1h-1zM49.4 13.0h1v1h-1zM50.3 43.6h1v1h-1zM14.8 4.1h1v1h-1zM35.4 41.9h1v1h-1zM35.7 12.3h1v1h-1zM20.8 28.3h1v1h-1zM28.7 17.0h1v1h-1zM49.8 31.8h1v1h-1zM43.7 34.4h1v1h-1zM49.9 44.7h1v1h-1zM8.7 46.8h1v1h-1zM23.7 34.9h1v1h-1zM47.1 13.5h1v1h-1zM50.7 24.4h1v1h-1zM36.6 3.0h1v1h-1zM40.7 25.6h1v1h-1zM52.2 21.3h1v1h-1zM13.9 27.6h1v1h-1zM33.8 9.1h1v1h-1zM11.8 11.5h1v1h-1zM20.5 29.7h1v1h-1z"/></pattern><pattern id="spr" width="41" height="37" patternUnits="userSpaceOnUse"><path fill="#f5c2b0" d="M39.2 35.1h1v1h-1zM10.3 7.9h1v1h-1zM20.6 33.3h1v1h-1zM23.0 8.7h1v1h-1zM38.3 23.1h1v1h-1zM32.2 12.6h1v1h-1zM4.4 21.3h1v1h-1zM11.2 8.4h1v1h-1zM10.0 7.8h1v1h-1zM17.3 26.5h1v1h-1zM27.6 3.1h1v1h-1zM1.0 27.0h1v1h-1zM30.1 19.4h1v1h-1zM4.6 12.5h1v1h-1zM29.3 2.7h1v1h-1zM1.5 15.1h1v1h-1zM21.0 3.2h1v1h-1zM38.1 21.5h1v1h-1zM27.2 17.8h1v1h-1zM33.8 30.0h1v1h-1zM36.5 22.7h1v1h-1zM36.4 9.4h1v1h-1zM16.0 7.8h1v1h-1zM1.0 24.4h1v1h-1zM15.8 8.0h1v1h-1zM29.2 36.0h1v1h-1zM0.4 20.6h1v1h-1zM26.8 14.5h1v1h-1zM11.4 35.4h1v1h-1zM12.9 14.0h1v1h-1zM4.3 6.2h1v1h-1zM29.0 26.9h1v1h-1zM2.5 5.3h1v1h-1zM13.2 21.3h1v1h-1zM39.3 8.4h1v1h-1zM15.8 16.7h1v1h-1zM18.5 21.9h1v1h-1zM2.5 7.4h1v1h-1zM20.2 4.9h1v1h-1zM10.1 17.3h1v1h-1zM5.6 20.2h1v1h-1zM8.7 14.5h1v1h-1zM34.3 22.1h1v1h-1zM30.1 34.9h1v1h-1zM34.9 12.5h1v1h-1zM4.0 29.2h1v1h-1zM38.6 18.2h1v1h-1zM11.5 1.1h1v1h-1zM26.5 34.9h1v1h-1zM31.3 25.4h1v1h-1zM20.9 35.8h1v1h-1zM29.3 31.9h1v1h-1zM27.6 10.9h1v1h-1zM16.5 33.6h1v1h-1zM9.6 7.0h1v1h-1zM34.3 15.8h1v1h-1zM24.3 7.6h1v1h-1zM19.6 33.2h1v1h-1zM15.0 14.1h1v1h-1zM6.1 17.9h1v1h-1zM32.8 10.6h1v1h-1zM22.4 20.7h1v1h-1zM12.6 34.2h1v1h-1zM28.5 17.0h1v1h-1zM4.9 3.8h1v1h-1zM19.7 10.9h1v1h-1zM36.1 19.8h1v1h-1zM37.9 19.5h1v1h-1zM18.7 15.0h1v1h-1zM12.9 1.8h1v1h-1zM19.0 4.1h1v1h-1zM36.3 17.0h1v1h-1zM39.6 13.7h1v1h-1zM31.3 2.0h1v1h-1zM39.7 21.5h1v1h-1zM28.2 12.2h1v1h-1zM4.9 23.8h1v1h-1zM38.1 33.3h1v1h-1zM29.4 20.1h1v1h-1zM37.0 0.0h1v1h-1zM1.7 11.5h1v1h-1zM26.0 2.4h1v1h-1zM37.5 1.7h1v1h-1zM9.9 2.8h1v1h-1zM24.9 6.5h1v1h-1zM32.9 17.0h1v1h-1zM33.5 12.3h1v1h-1zM9.9 25.7h1v1h-1zM35.7 26.4h1v1h-1zM22.7 27.8h1v1h-1zM36.1 9.0h1v1h-1zM39.3 35.2h1v1h-1zM38.7 26.5h1v1h-1zM16.3 5.5h1v1h-1zM6.7 19.1h1v1h-1zM22.6 22.7h1v1h-1zM30.7 27.3h1v1h-1z"/><path fill="#f3ccbc" d="M3.8 13.4h1v1h-1zM17.4 32.7h1v1h-1zM30.3 24.2h1v1h-1zM29.7 18.0h1v1h-1zM38.6 30.1h1v1h-1zM2.3 13.3h1v1h-1zM15.3 4.7h1v1h-1zM15.8 1.6h1v1h-1zM26.8 25.9h1v1h-1zM27.5 9.4h1v1h-1zM38.3 36.8h1v1h-1zM11.4 27.8h1v1h-1zM4.1 6.7h1v1h-1zM15.6 25.3h1v1h-1zM16.8 18.0h1v1h-1zM3.1 27.9h1v1h-1zM40.5 24.0h1v1h-1zM7.1 10.6h1v1h-1zM21.1 6.3h1v1h-1zM16.0 20.6h1v1h-1zM7.9 29.8h1v1h-1zM40.7 25.0h1v1h-1zM25.8 11.4h1v1h-1zM35.6 17.1h1v1h-1zM8.9 10.1h1v1h-1zM4.1 8.8h1v1h-1zM30.8 31.3h1v1h-1zM14.6 29.4h1v1h-1zM18.1 3.2h1v1h-1zM17.9 20.1h1v1h-1zM11.7 23.6h1v1h-1zM3.9 5.3h1v1h-1zM10.3 12.7h1v1h-1zM17.6 28.8h1v1h-1zM38.4 25.1h1v1h-1zM6.7 3.9h1v1h-1zM8.3 12.6h1v1h-1zM1.3 20.4h1v1h-1zM2.0 28.6h1v1h-1zM28.3 36.9h1v1h-1zM26.1 20.1h1v1h-1zM37.9 7.4h1v1h-1zM19.4 9.4h1v1h-1zM23.8 4.9h1v1h-1zM26.4 18.3h1v1h-1zM6.2 11.1h1v1h-1zM2.5 24.6h1v1h-1zM19.5 14.1h1v1h-1zM28.9 27.2h1v1h-1zM9.9 1.8h1v1h-1zM27.5 16.2h1v1h-1zM17.6 8.9h1v1h-1zM39.7 20.9h1v1h-1zM38.1 33.8h1v1h-1zM17.5 29.0h1v1h-1zM2.2 35.5h1v1h-1zM18.3 18.3h1v1h-1zM4.5 25.3h1v1h-1zM31.3 3.2h1v1h-1zM40.2 6.7h1v1h-1zM9.2 21.7h1v1h-1zM16.3 9.8h1v1h-1zM25.2 29.3h1v1h-1zM37.6 36.8h1v1h-1zM26.4 31.4h1v1h-1zM4.7 30.4h1v1h-1zM14.4 31.3h1v1h-1zM34.2 26.7h1v1h-1zM33.3 13.1h1v1h-1zM13.8 8.4h1v1h-1zM34.1 6.3h1v1h-1zM28.3 30.9h1v1h-1zM33.6 31.4h1v1h-1zM19.3 23.6h1v1h-1zM5.2 18.9h1v1h-1zM20.8 33.0h1v1h-1zM22.4 11.2h1v1h-1zM29.8 29.3h1v1h-1zM2.1 29.0h1v1h-1zM13.8 16.5h1v1h-1zM41.0 2.7h1v1h-1zM27.0 15.2h1v1h-1zM8.4 4.9h1v1h-1zM40.8 18.5h1v1h-1zM33.3 35.2h1v1h-1zM24.9 17.8h1v1h-1zM26.7 16.0h1v1h-1zM38.4 28.1h1v1h-1zM1.1 4.6h1v1h-1zM4.6 36.3h1v1h-1zM26.4 21.7h1v1h-1zM6.0 12.0h1v1h-1zM30.7 32.7h1v1h-1zM30.9 32.6h1v1h-1zM30.0 25.0h1v1h-1zM29.0 1.6h1v1h-1zM10.4 28.3h1v1h-1zM11.8 0.2h1v1h-1zM31.6 2.1h1v1h-1zM5.3 21.1h1v1h-1zM13.2 33.0h1v1h-1z"/><path fill="#f1cec8" d="M30.2 24.8h1v1h-1zM32.7 27.2h1v1h-1zM26.7 21.8h1v1h-1zM30.0 18.1h1v1h-1zM30.9 5.1h1v1h-1zM6.2 1.3h1v1h-1zM13.4 32.4h1v1h-1zM15.0 25.5h1v1h-1zM29.7 18.4h1v1h-1zM39.3 5.2h1v1h-1zM38.2 30.9h1v1h-1zM33.5 3.6h1v1h-1zM19.9 25.0h1v1h-1zM1.1 3.0h1v1h-1zM28.3 26.3h1v1h-1zM3.1 30.5h1v1h-1zM13.7 35.1h1v1h-1zM27.7 29.1h1v1h-1zM8.8 13.2h1v1h-1zM16.4 30.5h1v1h-1zM20.6 25.5h1v1h-1zM7.2 35.4h1v1h-1zM13.6 5.2h1v1h-1zM0.4 3.9h1v1h-1zM21.7 8.8h1v1h-1zM25.3 23.2h1v1h-1zM17.5 14.7h1v1h-1zM36.9 17.2h1v1h-1zM39.5 5.8h1v1h-1zM27.4 1.2h1v1h-1zM23.7 4.7h1v1h-1zM35.6 19.8h1v1h-1zM8.1 11.6h1v1h-1zM19.3 26.3h1v1h-1zM2.7 21.8h1v1h-1zM8.3 26.0h1v1h-1zM17.7 8.6h1v1h-1zM5.3 5.2h1v1h-1zM1.4 18.9h1v1h-1zM19.4 34.9h1v1h-1zM24.8 4.0h1v1h-1zM11.3 17.7h1v1h-1zM31.2 26.6h1v1h-1zM28.4 3.0h1v1h-1zM17.5 17.0h1v1h-1zM35.0 5.4h1v1h-1zM34.8 5.9h1v1h-1zM14.9 29.5h1v1h-1zM12.3 26.4h1v1h-1zM4.7 34.9h1v1h-1zM7.3 30.8h1v1h-1zM36.3 22.3h1v1h-1zM8.3 27.4h1v1h-1zM23.5 8.9h1v1h-1zM25.3 0.8h1v1h-1zM37.3 23.7h1v1h-1zM33.4 8.2h1v1h-1zM31.2 27.8h1v1h-1zM20.2 15.4h1v1h-1zM31.9 8.5h1v1h-1zM37.9 24.2h1v1h-1zM29.1 19.9h1v1h-1zM11.0 9.9h1v1h-1zM23.4 35.7h1v1h-1zM35.4 14.3h1v1h-1zM10.8 18.6h1v1h-1zM1.2 1.1h1v1h-1zM23.9 23.9h1v1h-1zM7.7 7.9h1v1h-1zM11.4 34.0h1v1h-1zM11.0 16.7h1v1h-1zM11.2 29.9h1v1h-1zM35.8 1.8h1v1h-1zM24.3 15.4h1v1h-1zM10.8 30.0h1v1h-1zM20.4 33.8h1v1h-1zM19.1 29.1h1v1h-1z"/><path fill="#d2ead2" d="M23.8 5.9h1v1h-1zM38.9 20.1h1v1h-1zM14.9 34.5h1v1h-1zM23.0 36.8h1v1h-1zM32.4 13.1h1v1h-1zM36.2 33.3h1v1h-1zM35.9 22.8h1v1h-1zM30.3 33.4h1v1h-1zM35.4 26.1h1v1h-1zM13.0 3.8h1v1h-1zM10.6 22.4h1v1h-1zM29.1 9.5h1v1h-1zM0.9 21.9h1v1h-1zM12.6 32.4h1v1h-1zM19.0 27.9h1v1h-1zM11.0 19.5h1v1h-1zM29.5 26.9h1v1h-1zM7.2 20.2h1v1h-1zM27.5 25.2h1v1h-1zM22.2 35.1h1v1h-1zM18.9 26.0h1v1h-1zM7.4 18.9h1v1h-1zM38.4 26.1h1v1h-1zM9.2 23.0h1v1h-1zM7.3 3.5h1v1h-1zM0.3 25.1h1v1h-1zM10.4 20.9h1v1h-1zM18.8 32.5h1v1h-1zM7.1 27.8h1v1h-1zM5.5 6.0h1v1h-1zM15.0 19.9h1v1h-1zM12.6 24.0h1v1h-1zM18.8 6.2h1v1h-1zM11.0 20.4h1v1h-1zM3.0 11.4h1v1h-1zM14.8 7.5h1v1h-1zM27.3 18.3h1v1h-1zM34.5 16.8h1v1h-1zM9.0 0.9h1v1h-1zM19.1 31.8h1v1h-1zM25.7 7.8h1v1h-1zM33.3 20.8h1v1h-1zM11.2 19.5h1v1h-1zM23.3 15.3h1v1h-1zM28.4 29.1h1v1h-1zM35.7 35.9h1v1h-1zM23.8 16.5h1v1h-1zM7.0 22.4h1v1h-1zM14.1 16.3h1v1h-1zM38.7 27.1h1v1h-1zM4.9 16.9h1v1h-1zM28.3 18.7h1v1h-1zM21.2 19.5h1v1h-1zM21.2 16.3h1v1h-1zM16.9 23.3h1v1h-1zM19.3 7.0h1v1h-1zM10.7 10.0h1v1h-1zM39.0 27.9h1v1h-1zM30.6 24.2h1v1h-1zM40.5 29.9h1v1h-1zM10.8 11.6h1v1h-1zM27.5 24.7h1v1h-1zM13.2 11.7h1v1h-1zM32.1 19.5h1v1h-1zM16.5 34.0h1v1h-1zM29.0 0.3h1v1h-1zM6.8 11.2h1v1h-1zM23.3 26.9h1v1h-1zM20.9 6.0h1v1h-1zM24.9 6.7h1v1h-1zM8.1 6.8h1v1h-1zM39.3 6.5h1v1h-1zM25.2 13.0h1v1h-1zM1.5 35.9h1v1h-1zM40.7 23.9h1v1h-1zM17.8 7.1h1v1h-1zM12.7 15.4h1v1h-1zM40.4 6.4h1v1h-1zM3.0 0.3h1v1h-1zM30.1 36.4h1v1h-1zM35.5 11.4h1v1h-1zM1.7 20.8h1v1h-1zM39.2 23.9h1v1h-1zM15.1 36.0h1v1h-1zM1.9 11.9h1v1h-1zM26.7 28.1h1v1h-1zM4.3 12.6h1v1h-1zM5.6 21.8h1v1h-1zM8.5 2.1h1v1h-1zM6.9 7.2h1v1h-1zM40.6 10.2h1v1h-1zM24.1 8.3h1v1h-1zM35.9 29.9h1v1h-1zM32.0 30.0h1v1h-1zM25.0 6.1h1v1h-1zM38.5 8.0h1v1h-1zM36.1 27.7h1v1h-1zM26.6 19.6h1v1h-1zM2.5 28.6h1v1h-1z"/><path fill="#f7d2bc" d="M26.2 29.7h1v1h-1zM7.2 6.4h1v1h-1zM20.1 34.2h1v1h-1zM14.4 26.9h1v1h-1zM34.1 20.8h1v1h-1zM12.6 20.4h1v1h-1zM32.3 35.1h1v1h-1zM24.0 14.5h1v1h-1zM24.2 23.1h1v1h-1zM29.9 16.0h1v1h-1zM21.3 34.1h1v1h-1zM16.2 5.8h1v1h-1zM35.9 13.3h1v1h-1zM37.5 11.6h1v1h-1zM38.7 27.0h1v1h-1zM11.3 34.1h1v1h-1zM14.4 33.5h1v1h-1zM34.3 24.4h1v1h-1zM20.8 7.8h1v1h-1zM21.7 31.5h1v1h-1zM38.9 20.8h1v1h-1zM11.5 26.6h1v1h-1zM33.8 22.0h1v1h-1zM13.8 13.8h1v1h-1zM13.9 28.4h1v1h-1zM16.1 17.5h1v1h-1zM35.7 20.2h1v1h-1zM24.5 21.8h1v1h-1zM9.9 17.8h1v1h-1zM1.2 25.7h1v1h-1zM10.8 26.7h1v1h-1zM28.7 10.3h1v1h-1zM8.8 12.3h1v1h-1zM24.2 26.0h1v1h-1zM16.7 23.8h1v1h-1zM9.9 2.0h1v1h-1zM33.5 3.3h1v1h-1zM4.1 18.9h1v1h-1zM0.3 24.9h1v1h-1zM6.7 1.7h1v1h-1zM23.9 8.2h1v1h-1zM39.1 30.4h1v1h-1zM39.9 20.3h1v1h-1zM29.2 13.5h1v1h-1zM18.9 24.5h1v1h-1zM4.8 22.1h1v1h-1zM39.7 14.5h1v1h-1zM35.9 23.6h1v1h-1zM22.1 24.0h1v1h-1zM36.0 11.3h1v1h-1zM17.1 4.6h1v1h-1zM6.3 8.5h1v1h-1zM30.0 7.3h1v1h-1zM26.2 26.6h1v1h-1zM9.1 9.9h1v1h-1zM28.7 4.6h1v1h-1zM12.1 21.3h1v1h-1zM17.4 25.5h1v1h-1zM36.6 31.4h1v1h-1zM15.3 6.9h1v1h-1zM23.5 30.5h1v1h-1zM36.7 20.4h1v1h-1zM10.7 0.9h1v1h-1zM17.7 24.8h1v1h-1zM3.2 0.9h1v1h-1zM34.7 28.5h1v1h-1zM8.9 6.0h1v1h-1zM23.6 3.8h1v1h-1zM9.7 30.5h1v1h-1zM0.1 8.5h1v1h-1zM12.5 13.7h1v1h-1zM24.9 13.1h1v1h-1zM26.5 8.6h1v1h-1zM15.4 17.7h1v1h-1zM4.6 4.1h1v1h-1zM38.4 15.7h1v1h-1zM40.7 10.1h1v1h-1zM5.2 32.6h1v1h-1zM3.4 16.0h1v1h-1zM12.7 31.3h1v1h-1zM7.0 6.4h1v1h-1zM32.1 22.6h1v1h-1z"/><path fill="#f2b49e" d="M20.9 37.0h1v1h-1zM6.6 27.9h1v1h-1zM21.1 29.5h1v1h-1zM12.7 35.4h1v1h-1zM37.2 7.1h1v1h-1zM38.5 23.2h1v1h-1zM39.3 3.5h1v1h-1zM6.6 3.5h1v1h-1zM9.5 33.9h1v1h-1zM4.3 0.9h1v1h-1zM19.0 11.5h1v1h-1zM4.1 11.3h1v1h-1zM11.7 13.8h1v1h-1zM4.7 13.8h1v1h-1zM3.3 31.5h1v1h-1zM10.6 15.8h1v1h-1zM28.7 3.1h1v1h-1zM36.8 29.5h1v1h-1zM39.9 14.5h1v1h-1zM3.9 19.1h1v1h-1zM29.9 17.3h1v1h-1zM1.2 22.0h1v1h-1zM11.2 9.4h1v1h-1zM14.8 20.3h1v1h-1zM30.6 24.4h1v1h-1zM33.5 14.2h1v1h-1zM29.2 32.7h1v1h-1zM10.5 23.1h1v1h-1zM23.1 7.6h1v1h-1zM37.8 16.4h1v1h-1zM30.4 27.8h1v1h-1zM38.4 27.9h1v1h-1zM12.0 23.0h1v1h-1zM37.6 32.7h1v1h-1zM3.2 11.3h1v1h-1zM27.5 3.4h1v1h-1zM33.7 19.3h1v1h-1zM25.5 31.8h1v1h-1zM21.5 28.9h1v1h-1zM40.5 8.5h1v1h-1zM26.4 23.1h1v1h-1zM31.3 3.4h1v1h-1zM27.0 4.5h1v1h-1zM29.8 22.0h1v1h-1zM9.1 22.8h1v1h-1zM21.9 29.3h1v1h-1zM6.7 28.5h1v1h-1zM27.7 2.0h1v1h-1zM26.3 20.0h1v1h-1zM14.9 35.1h1v1h-1zM1.8 16.1h1v1h-1zM24.6 30.4h1v1h-1zM28.9 36.2h1v1h-1zM11.0 8.1h1v1h-1zM21.4 3.3h1v1h-1zM38.6 26.3h1v1h-1zM6.8 8.6h1v1h-1zM7.1 16.7h1v1h-1zM1.2 18.3h1v1h-1zM31.5 27.4h1v1h-1zM7.4 7.3h1v1h-1zM0.1 3.1h1v1h-1zM37.4 33.2h1v1h-1zM14.4 11.3h1v1h-1zM20.7 34.1h1v1h-1zM30.9 5.1h1v1h-1zM36.5 5.6h1v1h-1zM38.9 28.7h1v1h-1zM40.7 8.5h1v1h-1zM40.5 32.4h1v1h-1zM17.9 15.2h1v1h-1zM26.9 1.6h1v1h-1zM39.0 5.4h1v1h-1zM8.1 36.3h1v1h-1zM5.3 8.8h1v1h-1zM16.1 20.8h1v1h-1zM6.9 4.8h1v1h-1zM5.8 19.1h1v1h-1zM39.3 18.9h1v1h-1zM22.7 34.7h1v1h-1zM26.8 6.8h1v1h-1zM27.9 5.0h1v1h-1zM1.2 7.9h1v1h-1zM15.9 33.4h1v1h-1zM10.0 8.0h1v1h-1zM13.5 3.1h1v1h-1zM40.5 13.3h1v1h-1zM31.8 35.6h1v1h-1zM17.3 22.0h1v1h-1zM33.0 34.2h1v1h-1zM38.9 27.8h1v1h-1zM34.0 3.0h1v1h-1zM31.6 11.2h1v1h-1zM37.4 24.7h1v1h-1zM18.2 18.0h1v1h-1zM18.8 15.9h1v1h-1zM39.0 35.1h1v1h-1zM30.8 10.2h1v1h-1zM1.5 33.6h1v1h-1zM6.4 36.9h1v1h-1zM4.0 17.1h1v1h-1zM21.2 1.0h1v1h-1zM40.0 22.0h1v1h-1zM24.0 35.4h1v1h-1z"/></pattern><pattern id="sprd" width="37" height="31" patternUnits="userSpaceOnUse"><path fill="#f4b09a" d="M33.7 16.7h1v1h-1zM3.3 13.2h1v1h-1zM25.9 24.7h1v1h-1zM0.5 24.1h1v1h-1zM22.0 30.9h1v1h-1zM36.3 7.6h1v1h-1zM16.5 25.8h1v1h-1zM26.7 29.9h1v1h-1zM20.7 19.3h1v1h-1zM18.2 14.5h1v1h-1zM26.8 2.1h1v1h-1zM26.0 3.9h1v1h-1zM10.2 22.1h1v1h-1zM10.6 29.1h1v1h-1zM23.6 16.6h1v1h-1zM27.3 10.4h1v1h-1zM25.9 10.6h1v1h-1zM36.4 1.6h1v1h-1zM3.5 18.5h1v1h-1zM35.1 13.5h1v1h-1zM9.4 9.3h1v1h-1zM21.3 29.4h1v1h-1zM5.7 28.5h1v1h-1zM28.4 28.7h1v1h-1zM18.7 24.3h1v1h-1zM3.2 25.8h1v1h-1zM27.3 14.2h1v1h-1zM3.8 13.8h1v1h-1zM25.1 14.9h1v1h-1zM24.5 19.3h1v1h-1zM19.9 5.3h1v1h-1zM11.3 4.8h1v1h-1zM32.9 19.3h1v1h-1zM21.1 7.0h1v1h-1zM27.7 28.5h1v1h-1zM21.7 18.1h1v1h-1zM37.0 0.4h1v1h-1zM0.2 1.4h1v1h-1zM36.1 16.4h1v1h-1zM24.9 19.8h1v1h-1zM6.9 6.5h1v1h-1zM11.0 18.6h1v1h-1zM23.3 0.2h1v1h-1zM19.6 10.9h1v1h-1zM2.6 30.5h1v1h-1zM14.2 17.5h1v1h-1zM20.0 24.9h1v1h-1zM4.3 14.9h1v1h-1zM14.8 23.0h1v1h-1zM10.1 16.7h1v1h-1zM16.6 10.8h1v1h-1zM1.5 22.5h1v1h-1zM12.0 24.2h1v1h-1zM23.3 18.8h1v1h-1zM4.1 7.8h1v1h-1zM13.4 20.7h1v1h-1zM15.4 8.1h1v1h-1zM6.4 1.0h1v1h-1zM10.1 4.9h1v1h-1zM28.5 29.2h1v1h-1zM12.3 16.2h1v1h-1zM26.8 9.9h1v1h-1zM6.5 6.6h1v1h-1zM25.8 6.0h1v1h-1zM4.4 29.2h1v1h-1zM17.5 24.8h1v1h-1zM35.3 24.4h1v1h-1zM17.2 0.0h1v1h-1zM8.7 5.7h1v1h-1zM31.4 6.6h1v1h-1zM4.5 10.9h1v1h-1zM32.5 19.2h1v1h-1zM1.0 0.3h1v1h-1zM3.1 10.8h1v1h-1zM10.5 7.0h1v1h-1zM34.3 16.6h1v1h-1zM22.3 25.8h1v1h-1zM8.6 28.0h1v1h-1zM18.2 17.1h1v1h-1zM28.8 8.7h1v1h-1zM27.6 11.6h1v1h-1zM26.4 10.6h1v1h-1zM34.7 13.6h1v1h-1zM16.7 22.1h1v1h-1zM31.2 19.4h1v1h-1zM28.1 4.8h1v1h-1zM30.4 23.9h1v1h-1zM7.1 14.4h1v1h-1zM33.1 2.1h1v1h-1zM7.2 27.9h1v1h-1zM27.8 13.9h1v1h-1zM24.6 17.8h1v1h-1zM36.8 1.2h1v1h-1zM12.2 18.4h1v1h-1zM32.4 16.5h1v1h-1zM26.8 16.4h1v1h-1zM18.6 11.0h1v1h-1zM12.6 25.1h1v1h-1zM10.8 21.7h1v1h-1zM20.0 19.7h1v1h-1zM32.5 12.9h1v1h-1zM1.6 12.7h1v1h-1zM23.7 6.1h1v1h-1zM21.4 22.5h1v1h-1zM1.9 3.3h1v1h-1zM13.5 13.4h1v1h-1zM4.5 16.3h1v1h-1zM7.0 20.3h1v1h-1zM29.7 26.8h1v1h-1zM18.7 7.1h1v1h-1zM5.7 1.9h1v1h-1zM20.8 5.1h1v1h-1zM5.3 3.4h1v1h-1zM7.9 29.0h1v1h-1zM18.0 16.8h1v1h-1zM0.7 30.2h1v1h-1zM27.5 28.9h1v1h-1zM1.5 5.1h1v1h-1zM7.0 3.5h1v1h-1zM15.3 20.2h1v1h-1zM26.8 22.9h1v1h-1zM15.5 5.7h1v1h-1zM25.7 13.8h1v1h-1zM36.9 2.8h1v1h-1zM5.6 23.8h1v1h-1zM16.9 17.1h1v1h-1zM7.8 19.9h1v1h-1zM21.3 25.6h1v1h-1z"/><path fill="#f2bca6" d="M28.2 1.1h1v1h-1zM16.5 2.9h1v1h-1zM35.2 18.2h1v1h-1zM17.9 4.3h1v1h-1zM30.2 29.2h1v1h-1zM23.1 18.8h1v1h-1zM1.9 30.8h1v1h-1zM25.6 23.5h1v1h-1zM13.8 20.7h1v1h-1zM28.8 24.4h1v1h-1zM13.4 21.4h1v1h-1zM7.1 13.9h1v1h-1zM12.5 7.8h1v1h-1zM7.2 12.8h1v1h-1zM30.3 7.6h1v1h-1zM26.9 4.2h1v1h-1zM29.1 29.3h1v1h-1zM33.0 29.2h1v1h-1zM17.7 12.4h1v1h-1zM29.4 30.7h1v1h-1zM28.5 15.5h1v1h-1zM2.0 27.6h1v1h-1zM26.9 27.7h1v1h-1zM20.1 11.8h1v1h-1zM33.3 3.3h1v1h-1zM28.3 27.6h1v1h-1zM3.7 0.7h1v1h-1zM11.9 19.1h1v1h-1zM29.6 16.5h1v1h-1zM24.8 4.3h1v1h-1zM10.2 26.0h1v1h-1zM10.7 20.6h1v1h-1zM3.8 27.6h1v1h-1zM36.9 5.0h1v1h-1zM1.4 16.8h1v1h-1zM7.5 11.6h1v1h-1zM4.1 1.5h1v1h-1zM32.1 8.4h1v1h-1zM10.8 12.6h1v1h-1zM31.9 27.9h1v1h-1zM7.3 14.5h1v1h-1zM21.4 28.3h1v1h-1zM11.3 30.6h1v1h-1zM22.8 24.6h1v1h-1zM13.1 17.5h1v1h-1zM2.7 27.8h1v1h-1zM18.4 29.5h1v1h-1zM35.7 10.9h1v1h-1zM12.6 13.1h1v1h-1zM6.3 25.9h1v1h-1zM8.2 3.2h1v1h-1zM23.5 9.3h1v1h-1zM0.0 9.2h1v1h-1zM35.3 30.9h1v1h-1zM10.1 22.8h1v1h-1zM5.5 7.6h1v1h-1zM11.7 22.8h1v1h-1zM6.6 29.8h1v1h-1zM2.6 30.2h1v1h-1zM19.4 15.3h1v1h-1zM16.7 23.4h1v1h-1zM13.5 11.5h1v1h-1zM5.7 26.5h1v1h-1zM36.2 22.4h1v1h-1zM35.4 8.3h1v1h-1zM24.3 17.1h1v1h-1zM36.9 23.1h1v1h-1zM35.0 17.4h1v1h-1zM33.4 0.2h1v1h-1zM23.5 14.9h1v1h-1zM0.9 17.5h1v1h-1zM21.9 28.8h1v1h-1zM23.9 1.3h1v1h-1zM32.4 15.5h1v1h-1zM11.1 15.5h1v1h-1zM20.8 23.8h1v1h-1zM36.3 4.5h1v1h-1zM19.9 14.5h1v1h-1zM31.1 12.3h1v1h-1zM3.4 24.6h1v1h-1zM36.8 16.0h1v1h-1zM16.2 7.1h1v1h-1zM0.1 20.3h1v1h-1zM25.1 26.3h1v1h-1zM1.8 8.3h1v1h-1zM4.5 13.6h1v1h-1zM21.1 0.9h1v1h-1zM25.5 22.6h1v1h-1zM3.6 19.0h1v1h-1zM23.5 28.0h1v1h-1zM14.2 24.5h1v1h-1zM10.6 25.7h1v1h-1zM33.4 15.2h1v1h-1zM3.6 6.9h1v1h-1zM9.3 29.6h1v1h-1zM4.3 27.8h1v1h-1zM17.1 26.6h1v1h-1zM27.0 3.3h1v1h-1zM22.6 18.2h1v1h-1zM21.4 15.2h1v1h-1zM30.6 30.2h1v1h-1zM4.8 28.6h1v1h-1zM15.2 2.5h1v1h-1zM22.2 30.8h1v1h-1zM14.3 19.5h1v1h-1zM7.4 11.5h1v1h-1zM14.7 5.3h1v1h-1z"/><path fill="#f0a888" d="M13.8 23.9h1v1h-1zM13.4 12.7h1v1h-1zM36.1 0.9h1v1h-1zM9.1 13.3h1v1h-1zM16.7 28.8h1v1h-1zM13.9 18.7h1v1h-1zM29.4 29.0h1v1h-1zM4.1 22.3h1v1h-1zM2.3 6.0h1v1h-1zM6.0 19.6h1v1h-1zM30.8 9.0h1v1h-1zM18.6 8.5h1v1h-1zM35.8 13.4h1v1h-1zM23.7 4.0h1v1h-1zM8.3 17.5h1v1h-1zM15.7 22.0h1v1h-1zM12.7 0.9h1v1h-1zM2.5 0.1h1v1h-1zM3.2 18.3h1v1h-1zM23.2 14.9h1v1h-1zM13.4 0.2h1v1h-1zM19.4 30.0h1v1h-1zM24.6 30.0h1v1h-1zM21.2 22.8h1v1h-1zM23.2 28.3h1v1h-1zM3.8 28.9h1v1h-1zM3.8 25.9h1v1h-1zM5.3 23.4h1v1h-1zM10.1 9.4h1v1h-1zM0.1 25.3h1v1h-1zM23.8 25.9h1v1h-1zM19.3 19.9h1v1h-1zM11.1 13.2h1v1h-1zM33.2 5.0h1v1h-1zM3.4 21.3h1v1h-1zM0.0 8.2h1v1h-1zM20.7 1.0h1v1h-1zM18.1 2.2h1v1h-1zM15.2 18.3h1v1h-1zM36.1 16.0h1v1h-1zM8.6 22.8h1v1h-1zM30.7 18.9h1v1h-1zM11.1 15.3h1v1h-1zM13.2 11.5h1v1h-1zM33.9 11.2h1v1h-1zM0.5 6.5h1v1h-1zM1.5 12.0h1v1h-1zM36.6 28.4h1v1h-1zM29.4 26.7h1v1h-1zM8.7 29.5h1v1h-1zM6.2 5.5h1v1h-1zM34.3 18.0h1v1h-1zM21.0 7.0h1v1h-1zM28.6 18.5h1v1h-1zM10.2 13.4h1v1h-1zM21.7 27.0h1v1h-1zM7.1 30.5h1v1h-1zM17.0 13.3h1v1h-1zM32.3 25.7h1v1h-1zM8.5 18.7h1v1h-1zM34.7 10.0h1v1h-1zM35.6 5.0h1v1h-1zM35.8 0.4h1v1h-1zM24.1 11.4h1v1h-1zM33.1 9.0h1v1h-1zM9.2 22.3h1v1h-1zM16.4 10.5h1v1h-1zM36.3 26.3h1v1h-1zM10.8 15.6h1v1h-1zM6.9 4.0h1v1h-1zM0.8 26.0h1v1h-1zM17.6 13.9h1v1h-1zM34.9 5.9h1v1h-1zM18.8 11.6h1v1h-1zM15.7 15.0h1v1h-1zM2.2 13.8h1v1h-1zM31.0 21.3h1v1h-1zM25.8 15.2h1v1h-1zM21.6 24.8h1v1h-1zM18.3 22.3h1v1h-1zM4.4 26.6h1v1h-1zM6.3 26.6h1v1h-1zM27.1 28.5h1v1h-1zM3.4 24.2h1v1h-1zM24.9 24.6h1v1h-1zM12.8 17.3h1v1h-1zM13.6 23.5h1v1h-1zM8.7 9.3h1v1h-1zM16.4 1.9h1v1h-1zM9.2 14.6h1v1h-1zM5.1 22.4h1v1h-1zM16.4 10.9h1v1h-1zM30.8 18.3h1v1h-1zM13.2 13.5h1v1h-1zM5.5 4.1h1v1h-1zM35.3 23.5h1v1h-1zM5.0 22.1h1v1h-1zM35.0 2.7h1v1h-1zM27.7 9.8h1v1h-1zM0.8 8.9h1v1h-1zM20.8 29.0h1v1h-1zM1.8 9.1h1v1h-1zM30.0 1.8h1v1h-1zM22.0 22.9h1v1h-1zM11.2 3.6h1v1h-1zM12.9 28.5h1v1h-1zM28.2 0.1h1v1h-1zM8.4 8.0h1v1h-1zM11.8 14.4h1v1h-1zM31.0 13.1h1v1h-1zM4.2 6.1h1v1h-1zM26.9 14.0h1v1h-1zM25.4 7.6h1v1h-1zM34.8 22.1h1v1h-1zM21.3 27.9h1v1h-1z"/><path fill="#f6c4a8" d="M29.4 25.5h1v1h-1zM18.1 6.1h1v1h-1zM30.6 28.3h1v1h-1zM9.9 22.3h1v1h-1zM22.9 9.5h1v1h-1zM37.0 1.7h1v1h-1zM33.0 20.8h1v1h-1zM27.6 8.2h1v1h-1zM36.3 28.7h1v1h-1zM22.7 8.3h1v1h-1zM14.0 9.5h1v1h-1zM3.9 20.0h1v1h-1zM33.6 27.7h1v1h-1zM5.1 29.2h1v1h-1zM5.8 21.0h1v1h-1zM20.2 14.4h1v1h-1zM5.6 17.6h1v1h-1zM20.9 28.2h1v1h-1zM14.3 23.6h1v1h-1zM6.1 19.4h1v1h-1zM2.7 0.4h1v1h-1zM1.2 16.8h1v1h-1zM6.7 30.3h1v1h-1zM28.4 16.8h1v1h-1zM8.0 20.0h1v1h-1zM8.3 3.9h1v1h-1zM1.1 30.8h1v1h-1zM24.7 14.5h1v1h-1zM21.4 10.8h1v1h-1zM34.2 6.8h1v1h-1zM24.3 2.7h1v1h-1zM3.5 23.7h1v1h-1zM4.2 24.9h1v1h-1zM17.6 17.8h1v1h-1zM33.4 11.3h1v1h-1zM23.9 30.9h1v1h-1zM13.6 13.3h1v1h-1zM29.6 2.2h1v1h-1zM35.0 19.2h1v1h-1zM17.6 3.2h1v1h-1zM17.9 29.0h1v1h-1zM2.1 6.2h1v1h-1zM14.8 1.0h1v1h-1zM15.0 11.1h1v1h-1zM34.2 17.9h1v1h-1zM1.5 11.6h1v1h-1zM10.3 23.5h1v1h-1zM32.2 2.9h1v1h-1zM6.9 1.4h1v1h-1zM24.4 26.2h1v1h-1zM30.1 9.8h1v1h-1zM14.6 15.1h1v1h-1zM15.2 15.5h1v1h-1zM15.5 12.3h1v1h-1zM4.5 3.4h1v1h-1zM28.6 22.5h1v1h-1zM16.1 17.0h1v1h-1zM10.4 7.5h1v1h-1zM32.9 3.7h1v1h-1zM15.1 5.4h1v1h-1zM36.9 25.9h1v1h-1zM5.5 18.9h1v1h-1zM25.3 4.4h1v1h-1zM8.6 30.4h1v1h-1zM20.1 20.3h1v1h-1zM18.5 3.3h1v1h-1zM7.1 27.7h1v1h-1zM14.4 27.6h1v1h-1zM24.8 20.3h1v1h-1zM0.3 21.9h1v1h-1zM1.7 8.7h1v1h-1zM14.6 5.7h1v1h-1zM22.0 28.5h1v1h-1zM25.6 11.1h1v1h-1zM8.0 26.5h1v1h-1zM2.6 9.3h1v1h-1zM6.7 3.4h1v1h-1zM34.6 12.8h1v1h-1zM13.0 25.3h1v1h-1zM23.8 5.3h1v1h-1zM24.0 0.1h1v1h-1zM10.7 23.8h1v1h-1zM9.3 22.8h1v1h-1zM11.6 30.2h1v1h-1zM5.9 16.8h1v1h-1zM35.0 15.7h1v1h-1zM10.1 25.6h1v1h-1zM31.3 10.2h1v1h-1zM10.0 15.8h1v1h-1zM4.9 21.8h1v1h-1zM18.5 12.7h1v1h-1zM11.2 25.7h1v1h-1zM8.8 13.7h1v1h-1zM36.1 10.4h1v1h-1zM0.2 6.6h1v1h-1zM6.6 24.5h1v1h-1zM34.1 20.5h1v1h-1zM2.0 20.7h1v1h-1zM17.9 7.5h1v1h-1zM28.9 10.8h1v1h-1zM31.6 7.6h1v1h-1zM5.7 20.0h1v1h-1zM4.4 6.5h1v1h-1zM27.7 6.6h1v1h-1zM8.2 25.6h1v1h-1zM11.0 23.6h1v1h-1zM15.2 26.2h1v1h-1zM3.5 23.7h1v1h-1zM24.3 19.0h1v1h-1zM24.5 19.5h1v1h-1zM14.5 5.6h1v1h-1zM22.4 4.0h1v1h-1zM4.9 7.6h1v1h-1z"/><path fill="#eec0b8" d="M34.5 28.2h1v1h-1zM21.3 30.1h1v1h-1zM30.9 27.2h1v1h-1zM0.8 3.8h1v1h-1zM29.7 5.8h1v1h-1zM12.0 20.4h1v1h-1zM6.8 18.9h1v1h-1zM36.4 15.4h1v1h-1zM22.7 13.1h1v1h-1zM17.7 13.6h1v1h-1zM1.2 2.7h1v1h-1zM19.2 0.9h1v1h-1zM20.8 0.1h1v1h-1zM19.5 0.3h1v1h-1zM20.0 20.9h1v1h-1zM3.4 2.4h1v1h-1zM10.3 0.4h1v1h-1zM32.2 10.3h1v1h-1zM8.5 3.9h1v1h-1zM36.3 13.3h1v1h-1zM19.0 3.7h1v1h-1zM14.5 15.1h1v1h-1zM6.5 12.6h1v1h-1zM19.2 29.6h1v1h-1zM4.9 3.4h1v1h-1zM22.6 30.7h1v1h-1zM16.2 7.9h1v1h-1zM19.5 25.3h1v1h-1zM11.9 26.6h1v1h-1zM8.1 22.6h1v1h-1zM4.1 13.6h1v1h-1zM28.4 28.6h1v1h-1zM15.1 12.3h1v1h-1zM17.8 2.2h1v1h-1zM10.3 5.9h1v1h-1zM22.5 24.5h1v1h-1zM36.7 3.1h1v1h-1zM8.2 6.6h1v1h-1zM24.6 22.6h1v1h-1zM22.0 20.3h1v1h-1zM34.2 2.8h1v1h-1zM30.9 24.3h1v1h-1zM8.3 7.9h1v1h-1zM2.2 26.8h1v1h-1zM12.0 26.9h1v1h-1zM2.2 20.3h1v1h-1zM5.9 3.9h1v1h-1zM16.7 3.5h1v1h-1zM33.1 13.8h1v1h-1zM24.5 12.1h1v1h-1zM18.9 10.3h1v1h-1zM28.5 30.6h1v1h-1zM16.4 12.8h1v1h-1zM5.8 0.5h1v1h-1zM34.2 22.5h1v1h-1zM33.6 30.1h1v1h-1zM28.5 8.6h1v1h-1zM21.1 28.4h1v1h-1zM8.2 10.2h1v1h-1zM8.9 3.6h1v1h-1zM3.4 2.9h1v1h-1zM12.5 28.5h1v1h-1zM25.1 28.0h1v1h-1zM25.9 20.6h1v1h-1zM6.8 7.3h1v1h-1zM18.3 26.2h1v1h-1zM30.1 7.3h1v1h-1zM16.7 17.3h1v1h-1zM6.0 9.4h1v1h-1zM16.9 30.3h1v1h-1zM25.3 1.7h1v1h-1zM22.7 8.6h1v1h-1zM6.3 20.2h1v1h-1zM14.5 17.4h1v1h-1zM6.9 26.8h1v1h-1zM2.2 8.7h1v1h-1zM9.7 4.6h1v1h-1zM28.3 3.8h1v1h-1zM1.7 30.5h1v1h-1zM31.9 17.5h1v1h-1zM26.3 0.5h1v1h-1zM5.8 12.0h1v1h-1zM11.6 4.5h1v1h-1zM10.9 26.5h1v1h-1zM28.5 3.7h1v1h-1zM12.8 0.9h1v1h-1zM36.9 4.3h1v1h-1zM0.8 25.8h1v1h-1zM19.0 6.1h1v1h-1zM7.6 0.1h1v1h-1zM15.2 18.8h1v1h-1zM6.0 26.5h1v1h-1zM2.6 8.4h1v1h-1zM7.2 17.0h1v1h-1zM0.0 26.9h1v1h-1zM3.4 9.5h1v1h-1zM9.3 27.6h1v1h-1zM7.4 18.5h1v1h-1zM5.8 2.2h1v1h-1zM34.6 25.6h1v1h-1zM4.7 10.7h1v1h-1zM14.5 11.8h1v1h-1zM22.3 10.7h1v1h-1zM24.3 7.2h1v1h-1zM32.4 12.6h1v1h-1zM0.8 2.5h1v1h-1zM10.6 3.5h1v1h-1zM5.3 9.0h1v1h-1zM12.0 15.0h1v1h-1z"/><path fill="#f39c80" d="M24.5 14.6h1v1h-1zM7.1 17.2h1v1h-1zM9.8 24.9h1v1h-1zM21.8 2.8h1v1h-1zM19.4 3.6h1v1h-1zM24.0 17.3h1v1h-1zM19.5 9.0h1v1h-1zM19.1 14.6h1v1h-1zM24.3 15.3h1v1h-1zM23.9 30.2h1v1h-1zM13.7 29.8h1v1h-1zM1.4 20.7h1v1h-1zM18.5 0.6h1v1h-1zM26.2 5.7h1v1h-1zM29.5 29.3h1v1h-1zM20.4 20.5h1v1h-1zM8.6 16.9h1v1h-1zM28.1 3.6h1v1h-1zM32.0 5.2h1v1h-1zM16.2 29.7h1v1h-1zM27.8 21.0h1v1h-1zM16.4 6.3h1v1h-1zM29.2 23.1h1v1h-1zM35.1 0.9h1v1h-1zM10.6 18.2h1v1h-1zM32.7 10.2h1v1h-1zM21.9 26.9h1v1h-1zM8.0 10.5h1v1h-1zM27.9 1.9h1v1h-1zM11.8 0.3h1v1h-1zM28.7 9.1h1v1h-1zM32.7 14.0h1v1h-1zM22.5 8.3h1v1h-1zM36.4 1.7h1v1h-1zM2.3 15.6h1v1h-1zM36.3 1.8h1v1h-1zM12.8 12.5h1v1h-1zM31.6 22.2h1v1h-1zM29.0 19.9h1v1h-1zM22.0 27.7h1v1h-1zM21.7 14.4h1v1h-1zM13.9 11.2h1v1h-1zM22.5 14.9h1v1h-1zM2.2 0.8h1v1h-1zM22.2 0.9h1v1h-1zM30.8 12.0h1v1h-1zM25.7 27.5h1v1h-1zM34.1 29.2h1v1h-1zM2.8 2.5h1v1h-1zM21.1 30.2h1v1h-1zM24.9 6.2h1v1h-1zM31.4 13.1h1v1h-1zM8.0 9.2h1v1h-1zM16.0 23.4h1v1h-1zM35.8 18.5h1v1h-1zM23.4 2.7h1v1h-1zM34.1 5.4h1v1h-1zM28.9 0.2h1v1h-1zM0.3 27.4h1v1h-1zM0.6 20.4h1v1h-1zM8.8 27.3h1v1h-1zM8.0 25.9h1v1h-1zM8.0 17.6h1v1h-1zM3.0 10.8h1v1h-1zM25.6 0.3h1v1h-1zM17.4 19.9h1v1h-1zM23.3 17.6h1v1h-1zM13.8 3.5h1v1h-1zM20.3 25.5h1v1h-1zM15.1 10.0h1v1h-1zM14.1 19.6h1v1h-1zM32.2 23.1h1v1h-1zM31.7 28.1h1v1h-1zM20.3 26.7h1v1h-1zM28.0 17.7h1v1h-1zM0.8 10.3h1v1h-1zM9.5 28.1h1v1h-1zM14.9 4.1h1v1h-1zM5.1 25.8h1v1h-1zM26.2 6.7h1v1h-1zM15.8 13.2h1v1h-1zM27.2 16.9h1v1h-1zM32.5 13.4h1v1h-1zM30.1 20.7h1v1h-1zM19.1 7.2h1v1h-1zM19.8 21.3h1v1h-1zM5.4 22.0h1v1h-1zM35.0 23.6h1v1h-1zM36.3 11.9h1v1h-1zM24.7 30.5h1v1h-1zM11.2 29.6h1v1h-1zM35.1 25.3h1v1h-1zM7.7 21.0h1v1h-1zM3.7 2.7h1v1h-1zM16.3 30.9h1v1h-1zM30.2 9.4h1v1h-1zM32.3 22.2h1v1h-1zM4.1 1.2h1v1h-1zM23.9 23.8h1v1h-1zM33.0 3.2h1v1h-1zM18.5 22.3h1v1h-1zM9.0 25.1h1v1h-1zM30.6 30.8h1v1h-1zM36.9 14.5h1v1h-1zM12.5 17.6h1v1h-1zM1.4 11.7h1v1h-1zM4.5 21.1h1v1h-1zM28.9 24.7h1v1h-1zM16.4 24.9h1v1h-1zM17.3 29.0h1v1h-1zM17.5 7.9h1v1h-1zM35.6 30.8h1v1h-1zM5.6 1.7h1v1h-1zM5.8 7.7h1v1h-1zM30.8 19.5h1v1h-1zM5.3 18.6h1v1h-1zM23.5 25.9h1v1h-1zM21.8 24.2h1v1h-1zM9.7 29.7h1v1h-1zM18.6 22.9h1v1h-1zM2.1 2.7h1v1h-1zM1.4 1.3h1v1h-1zM8.7 10.0h1v1h-1zM15.3 4.5h1v1h-1zM36.2 24.6h1v1h-1zM12.9 12.7h1v1h-1zM6.7 2.5h1v1h-1zM14.1 1.3h1v1h-1z"/></pattern><pattern id="spgg" width="53" height="47" patternUnits="userSpaceOnUse"><path fill="#d6d6d6" d="M46.0 24.6h1v1h-1zM47.9 32.1h1v1h-1zM40.7 41.0h1v1h-1zM15.5 12.4h1v1h-1zM27.6 25.8h1v1h-1zM37.5 34.7h1v1h-1zM31.2 44.9h1v1h-1zM17.4 31.9h1v1h-1zM9.7 13.1h1v1h-1zM6.4 11.5h1v1h-1zM2.6 22.6h1v1h-1zM9.1 14.1h1v1h-1zM11.7 5.7h1v1h-1zM22.4 22.2h1v1h-1zM45.4 36.4h1v1h-1zM6.6 3.2h1v1h-1zM26.0 7.4h1v1h-1zM22.7 6.0h1v1h-1zM38.0 17.9h1v1h-1zM11.9 6.1h1v1h-1zM41.0 2.1h1v1h-1zM9.5 1.1h1v1h-1zM27.1 33.6h1v1h-1zM47.6 7.0h1v1h-1zM1.5 46.7h1v1h-1zM45.4 18.8h1v1h-1zM34.4 36.5h1v1h-1zM9.9 33.1h1v1h-1zM47.7 12.0h1v1h-1zM16.6 19.9h1v1h-1zM47.0 42.7h1v1h-1zM35.7 25.2h1v1h-1zM35.3 23.9h1v1h-1zM23.8 38.0h1v1h-1zM18.7 39.8h1v1h-1zM8.0 27.7h1v1h-1zM29.9 42.8h1v1h-1zM47.5 31.4h1v1h-1zM31.9 34.2h1v1h-1zM4.3 39.4h1v1h-1zM52.9 9.6h1v1h-1zM25.7 5.1h1v1h-1zM20.7 22.2h1v1h-1zM23.2 21.4h1v1h-1zM28.3 7.5h1v1h-1zM8.9 23.0h1v1h-1zM21.6 33.1h1v1h-1zM33.3 16.2h1v1h-1zM3.0 20.5h1v1h-1zM31.4 0.2h1v1h-1zM2.3 8.1h1v1h-1zM43.6 4.3h1v1h-1zM17.0 28.2h1v1h-1zM21.2 44.9h1v1h-1zM24.8 29.3h1v1h-1zM43.8 5.3h1v1h-1zM43.7 32.0h1v1h-1zM21.4 31.1h1v1h-1zM0.4 14.1h1v1h-1zM18.1 9.0h1v1h-1zM27.5 11.7h1v1h-1zM17.8 20.2h1v1h-1zM24.9 27.6h1v1h-1zM49.3 24.4h1v1h-1zM1.1 44.7h1v1h-1zM44.3 28.4h1v1h-1zM22.2 12.2h1v1h-1zM7.1 0.8h1v1h-1zM16.8 12.7h1v1h-1zM13.3 46.1h1v1h-1zM26.2 45.0h1v1h-1zM37.0 5.4h1v1h-1zM33.4 38.4h1v1h-1zM49.9 45.8h1v1h-1zM14.2 25.7h1v1h-1zM34.3 6.7h1v1h-1zM11.4 25.8h1v1h-1zM19.7 20.6h1v1h-1zM0.0 3.0h1v1h-1zM23.1 9.3h1v1h-1zM23.4 32.1h1v1h-1zM31.7 4.0h1v1h-1zM23.1 4.6h1v1h-1zM48.4 29.7h1v1h-1zM10.7 18.4h1v1h-1zM27.8 27.0h1v1h-1zM44.6 14.8h1v1h-1zM17.3 11.6h1v1h-1zM2.8 45.4h1v1h-1zM29.3 17.2h1v1h-1zM26.8 7.9h1v1h-1zM41.9 34.5h1v1h-1zM5.2 33.1h1v1h-1zM11.9 21.5h1v1h-1zM6.3 10.2h1v1h-1zM38.7 12.2h1v1h-1zM23.5 8.3h1v1h-1zM35.3 11.5h1v1h-1zM33.2 4.2h1v1h-1zM27.2 45.2h1v1h-1zM12.8 8.5h1v1h-1zM30.6 17.7h1v1h-1zM48.5 9.1h1v1h-1zM49.2 11.9h1v1h-1zM11.0 34.3h1v1h-1zM9.9 46.1h1v1h-1zM16.6 17.0h1v1h-1zM44.5 39.7h1v1h-1zM23.9 35.0h1v1h-1zM39.3 5.1h1v1h-1zM35.3 9.5h1v1h-1zM14.9 31.1h1v1h-1zM16.1 15.1h1v1h-1zM45.6 33.0h1v1h-1z"/><path fill="#cfe0cf" d="M33.9 7.1h1v1h-1zM38.6 27.1h1v1h-1zM46.6 4.6h1v1h-1zM28.3 19.2h1v1h-1zM45.4 46.6h1v1h-1zM47.9 26.7h1v1h-1zM14.4 29.8h1v1h-1zM1.1 28.9h1v1h-1zM15.8 28.3h1v1h-1zM11.8 37.8h1v1h-1zM35.8 10.5h1v1h-1zM4.2 34.9h1v1h-1zM46.9 21.2h1v1h-1zM41.7 1.6h1v1h-1zM42.7 16.2h1v1h-1zM52.3 20.4h1v1h-1zM51.1 25.6h1v1h-1zM47.9 32.6h1v1h-1zM9.1 37.2h1v1h-1zM38.0 22.3h1v1h-1zM9.6 3.6h1v1h-1zM50.4 27.6h1v1h-1zM7.2 35.3h1v1h-1zM31.0 14.8h1v1h-1zM25.4 18.0h1v1h-1zM24.8 10.8h1v1h-1zM50.8 40.1h1v1h-1zM47.2 36.5h1v1h-1zM39.3 23.0h1v1h-1zM39.3 30.4h1v1h-1zM6.5 43.8h1v1h-1zM22.3 14.1h1v1h-1zM24.3 14.7h1v1h-1zM37.4 5.0h1v1h-1zM35.5 18.4h1v1h-1zM42.3 25.6h1v1h-1zM5.7 35.5h1v1h-1zM10.5 36.8h1v1h-1zM5.9 13.3h1v1h-1zM46.1 32.6h1v1h-1zM45.7 20.5h1v1h-1zM21.6 39.7h1v1h-1zM11.9 0.1h1v1h-1zM9.1 19.0h1v1h-1zM1.4 45.4h1v1h-1zM12.8 18.3h1v1h-1zM44.3 26.0h1v1h-1zM19.2 19.5h1v1h-1zM52.8 0.1h1v1h-1zM4.3 30.5h1v1h-1zM36.5 45.9h1v1h-1zM31.0 0.5h1v1h-1zM16.9 41.5h1v1h-1zM4.5 21.9h1v1h-1zM13.3 15.2h1v1h-1zM15.5 43.9h1v1h-1zM47.3 1.3h1v1h-1zM25.1 46.9h1v1h-1zM42.8 14.0h1v1h-1zM51.9 1.7h1v1h-1zM1.6 1.8h1v1h-1zM48.4 38.0h1v1h-1zM27.3 17.4h1v1h-1zM15.6 3.5h1v1h-1zM2.0 22.8h1v1h-1zM10.3 43.3h1v1h-1zM9.3 22.9h1v1h-1zM7.6 42.6h1v1h-1zM10.0 38.7h1v1h-1zM52.8 46.1h1v1h-1zM15.7 35.2h1v1h-1zM15.9 40.4h1v1h-1zM16.8 39.5h1v1h-1zM28.6 20.7h1v1h-1zM51.7 14.0h1v1h-1zM17.7 37.1h1v1h-1zM31.0 6.9h1v1h-1zM23.6 17.1h1v1h-1zM27.0 43.6h1v1h-1zM29.3 5.5h1v1h-1zM35.1 24.8h1v1h-1zM45.4 34.7h1v1h-1zM33.4 23.2h1v1h-1zM12.5 17.2h1v1h-1zM11.0 14.3h1v1h-1zM29.9 11.5h1v1h-1zM17.0 16.4h1v1h-1zM26.1 27.4h1v1h-1zM37.8 15.2h1v1h-1zM16.9 34.1h1v1h-1zM32.1 33.0h1v1h-1zM12.2 12.3h1v1h-1zM7.8 17.4h1v1h-1zM14.0 36.7h1v1h-1zM17.3 35.8h1v1h-1zM33.9 9.9h1v1h-1zM39.5 43.3h1v1h-1zM25.7 34.7h1v1h-1zM33.1 41.6h1v1h-1zM33.2 20.7h1v1h-1zM42.4 16.2h1v1h-1zM20.2 42.2h1v1h-1zM6.7 47.0h1v1h-1zM6.0 32.0h1v1h-1zM39.7 34.0h1v1h-1zM41.7 35.1h1v1h-1zM50.7 22.4h1v1h-1zM38.1 28.2h1v1h-1zM27.9 6.5h1v1h-1zM20.9 30.4h1v1h-1zM26.9 14.0h1v1h-1zM3.7 11.8h1v1h-1zM15.4 16.2h1v1h-1zM42.1 36.6h1v1h-1zM41.3 20.6h1v1h-1zM25.6 5.7h1v1h-1zM2.0 24.0h1v1h-1zM11.5 27.6h1v1h-1zM27.7 31.5h1v1h-1zM45.6 13.2h1v1h-1z"/><path fill="#dbe3db" d="M12.6 25.6h1v1h-1zM2.3 36.7h1v1h-1zM26.9 18.1h1v1h-1zM33.5 46.4h1v1h-1zM38.1 15.6h1v1h-1zM26.8 46.9h1v1h-1zM51.9 16.0h1v1h-1zM49.6 20.6h1v1h-1zM41.8 46.4h1v1h-1zM19.3 14.7h1v1h-1zM5.4 15.1h1v1h-1zM22.3 24.4h1v1h-1zM24.6 29.8h1v1h-1zM45.7 40.3h1v1h-1zM25.3 36.8h1v1h-1zM45.7 2.3h1v1h-1zM16.1 12.5h1v1h-1zM2.8 29.5h1v1h-1zM1.0 10.3h1v1h-1zM42.0 31.4h1v1h-1zM13.4 28.2h1v1h-1zM45.1 25.3h1v1h-1zM45.2 27.5h1v1h-1zM47.1 14.4h1v1h-1zM6.3 12.4h1v1h-1zM1.9 21.3h1v1h-1zM28.9 5.6h1v1h-1zM28.0 32.9h1v1h-1zM40.1 13.9h1v1h-1zM5.7 44.4h1v1h-1zM30.1 9.5h1v1h-1zM16.7 42.6h1v1h-1zM33.6 45.9h1v1h-1zM1.0 16.0h1v1h-1zM37.9 34.8h1v1h-1zM38.1 17.2h1v1h-1zM44.6 18.9h1v1h-1zM8.7 29.3h1v1h-1zM48.4 27.9h1v1h-1zM13.2 12.5h1v1h-1zM18.0 22.5h1v1h-1zM49.8 1.6h1v1h-1zM6.1 18.3h1v1h-1zM23.6 33.0h1v1h-1zM24.7 40.8h1v1h-1zM45.5 4.8h1v1h-1zM34.0 35.8h1v1h-1zM49.0 32.3h1v1h-1zM2.1 35.0h1v1h-1zM39.3 35.1h1v1h-1zM51.9 41.2h1v1h-1zM19.1 40.1h1v1h-1zM1.6 17.6h1v1h-1zM18.8 45.4h1v1h-1zM12.7 13.0h1v1h-1zM41.0 20.9h1v1h-1zM29.1 22.9h1v1h-1zM41.6 35.4h1v1h-1zM5.4 31.4h1v1h-1zM9.6 29.5h1v1h-1zM20.7 46.4h1v1h-1zM5.5 5.4h1v1h-1zM4.1 9.0h1v1h-1zM26.8 17.6h1v1h-1zM31.3 33.0h1v1h-1zM45.7 39.3h1v1h-1zM6.5 23.5h1v1h-1zM22.6 39.8h1v1h-1zM7.4 3.8h1v1h-1zM25.2 41.8h1v1h-1zM44.1 8.6h1v1h-1zM31.1 44.6h1v1h-1zM3.4 41.2h1v1h-1zM46.7 10.6h1v1h-1zM23.7 33.9h1v1h-1zM9.4 11.8h1v1h-1zM9.4 14.2h1v1h-1zM26.0 27.2h1v1h-1zM8.1 43.3h1v1h-1zM31.4 27.5h1v1h-1zM28.7 46.5h1v1h-1zM19.6 8.5h1v1h-1zM14.5 22.5h1v1h-1zM35.3 11.6h1v1h-1zM22.7 37.8h1v1h-1zM26.8 44.8h1v1h-1zM38.5 39.2h1v1h-1zM0.6 25.2h1v1h-1zM1.3 1.2h1v1h-1zM27.6 20.0h1v1h-1zM12.0 24.7h1v1h-1zM48.0 2.3h1v1h-1zM16.2 22.2h1v1h-1zM41.3 37.7h1v1h-1zM33.4 3.9h1v1h-1zM49.1 19.8h1v1h-1zM18.2 44.1h1v1h-1zM16.2 34.7h1v1h-1zM19.3 34.1h1v1h-1zM20.4 45.9h1v1h-1zM12.9 10.4h1v1h-1zM12.2 42.4h1v1h-1zM41.4 21.4h1v1h-1zM3.0 42.5h1v1h-1zM10.6 43.4h1v1h-1zM47.6 18.7h1v1h-1zM6.5 8.1h1v1h-1zM18.2 8.0h1v1h-1zM28.8 19.1h1v1h-1zM19.6 40.1h1v1h-1zM19.9 17.0h1v1h-1zM38.8 43.9h1v1h-1zM0.5 3.5h1v1h-1zM35.0 8.2h1v1h-1zM32.8 43.0h1v1h-1zM40.2 25.6h1v1h-1z"/><path fill="#e0d6d2" d="M3.5 0.6h1v1h-1zM13.7 11.0h1v1h-1zM28.7 25.8h1v1h-1zM25.1 33.8h1v1h-1zM37.8 43.3h1v1h-1zM26.2 12.1h1v1h-1zM41.3 40.2h1v1h-1zM15.1 3.0h1v1h-1zM4.7 37.6h1v1h-1zM47.5 0.9h1v1h-1zM32.1 35.8h1v1h-1zM1.7 9.3h1v1h-1zM50.8 42.1h1v1h-1zM20.0 40.9h1v1h-1zM3.2 29.5h1v1h-1zM51.1 11.8h1v1h-1zM44.7 12.4h1v1h-1zM22.2 19.2h1v1h-1zM30.0 2.0h1v1h-1zM32.0 36.8h1v1h-1zM33.7 2.0h1v1h-1zM22.3 32.6h1v1h-1zM36.8 3.4h1v1h-1zM41.9 12.3h1v1h-1zM29.9 31.0h1v1h-1zM1.3 5.4h1v1h-1zM34.2 21.3h1v1h-1zM29.5 45.4h1v1h-1zM26.5 45.7h1v1h-1zM44.7 45.5h1v1h-1zM36.3 7.3h1v1h-1zM30.2 11.2h1v1h-1zM41.0 6.7h1v1h-1zM0.4 15.7h1v1h-1zM4.0 20.3h1v1h-1zM9.5 41.8h1v1h-1zM40.0 25.5h1v1h-1zM19.0 12.5h1v1h-1zM2.8 6.4h1v1h-1zM18.8 15.6h1v1h-1zM9.8 8.9h1v1h-1zM31.4 6.9h1v1h-1zM19.6 13.8h1v1h-1zM47.2 44.6h1v1h-1zM26.1 24.6h1v1h-1zM2.0 23.5h1v1h-1zM28.5 19.8h1v1h-1zM16.1 21.8h1v1h-1zM23.7 17.0h1v1h-1zM13.7 17.4h1v1h-1zM12.7 1.8h1v1h-1zM14.6 37.0h1v1h-1zM41.8 45.2h1v1h-1zM47.7 9.4h1v1h-1zM39.8 29.7h1v1h-1zM4.7 13.8h1v1h-1zM28.4 36.6h1v1h-1zM9.3 34.8h1v1h-1zM48.5 32.8h1v1h-1zM46.6 41.0h1v1h-1zM17.9 14.6h1v1h-1zM15.5 44.4h1v1h-1zM24.6 33.4h1v1h-1zM50.3 22.8h1v1h-1zM15.6 24.4h1v1h-1zM26.1 1.8h1v1h-1zM7.6 20.9h1v1h-1zM23.5 9.7h1v1h-1zM40.4 32.9h1v1h-1zM50.0 20.3h1v1h-1zM10.8 36.2h1v1h-1zM23.9 12.3h1v1h-1zM50.5 35.0h1v1h-1zM0.9 30.2h1v1h-1zM52.6 25.7h1v1h-1zM1.8 22.9h1v1h-1zM34.7 44.3h1v1h-1zM50.0 14.9h1v1h-1zM29.4 1.7h1v1h-1zM22.9 46.2h1v1h-1zM36.6 22.0h1v1h-1zM11.4 36.6h1v1h-1zM3.4 25.7h1v1h-1zM5.5 39.8h1v1h-1zM1.1 16.2h1v1h-1zM16.2 7.0h1v1h-1zM2.8 46.0h1v1h-1zM0.7 40.9h1v1h-1zM36.9 12.9h1v1h-1zM31.3 10.3h1v1h-1zM38.6 11.7h1v1h-1zM51.2 21.3h1v1h-1zM52.3 24.8h1v1h-1zM52.7 2.4h1v1h-1zM3.1 40.2h1v1h-1zM42.2 18.0h1v1h-1zM7.4 9.6h1v1h-1zM3.5 0.4h1v1h-1zM43.8 15.6h1v1h-1zM21.0 16.2h1v1h-1zM9.7 4.9h1v1h-1zM6.3 42.9h1v1h-1zM3.0 37.0h1v1h-1zM27.5 19.7h1v1h-1zM11.8 38.4h1v1h-1zM18.3 46.8h1v1h-1zM40.2 5.4h1v1h-1zM39.0 16.5h1v1h-1zM37.0 26.4h1v1h-1zM28.7 21.9h1v1h-1zM29.3 5.5h1v1h-1zM46.0 24.2h1v1h-1zM50.2 22.4h1v1h-1zM7.0 42.3h1v1h-1zM15.7 12.8h1v1h-1zM8.2 1.5h1v1h-1zM3.7 32.1h1v1h-1zM5.4 37.7h1v1h-1zM8.4 18.4h1v1h-1zM42.4 8.4h1v1h-1zM6.5 23.5h1v1h-1zM42.5 34.8h1v1h-1zM0.2 33.3h1v1h-1zM26.3 17.0h1v1h-1zM29.7 18.4h1v1h-1zM19.0 30.6h1v1h-1zM52.9 2.3h1v1h-1zM34.7 42.9h1v1h-1zM19.3 38.4h1v1h-1zM40.6 1.5h1v1h-1zM38.6 4.9h1v1h-1zM29.6 28.8h1v1h-1zM45.3 42.6h1v1h-1zM52.6 7.4h1v1h-1zM10.5 9.7h1v1h-1zM18.5 4.2h1v1h-1zM29.5 0.9h1v1h-1zM20.3 24.2h1v1h-1zM25.4 23.3h1v1h-1zM51.9 2.5h1v1h-1zM42.4 2.3h1v1h-1z"/><path fill="#d2dcd2" d="M48.5 22.3h1v1h-1zM35.6 3.0h1v1h-1zM37.0 15.3h1v1h-1zM0.4 5.1h1v1h-1zM34.1 28.0h1v1h-1zM5.4 45.7h1v1h-1zM18.7 43.1h1v1h-1zM5.6 38.2h1v1h-1zM36.2 6.2h1v1h-1zM16.7 39.3h1v1h-1zM8.3 0.2h1v1h-1zM1.7 21.5h1v1h-1zM47.5 42.3h1v1h-1zM27.8 19.4h1v1h-1zM6.0 5.9h1v1h-1zM43.6 0.4h1v1h-1zM13.2 29.1h1v1h-1zM45.3 4.0h1v1h-1zM18.6 30.4h1v1h-1zM49.6 17.6h1v1h-1zM36.6 44.1h1v1h-1zM29.9 4.8h1v1h-1zM44.3 44.8h1v1h-1zM15.9 4.2h1v1h-1zM29.4 4.7h1v1h-1zM3.2 15.2h1v1h-1zM36.6 35.5h1v1h-1zM26.4 22.7h1v1h-1zM35.6 40.2h1v1h-1zM37.2 9.7h1v1h-1zM44.2 38.6h1v1h-1zM20.1 3.7h1v1h-1zM38.1 31.9h1v1h-1zM48.8 30.3h1v1h-1zM26.7 11.6h1v1h-1zM7.2 37.2h1v1h-1zM48.9 1.2h1v1h-1zM12.4 3.7h1v1h-1zM33.7 6.5h1v1h-1zM36.1 0.9h1v1h-1zM1.9 2.5h1v1h-1zM14.3 8.0h1v1h-1zM15.2 9.8h1v1h-1zM27.3 23.7h1v1h-1zM43.2 9.7h1v1h-1zM22.4 30.5h1v1h-1zM38.5 41.1h1v1h-1zM19.5 9.0h1v1h-1zM7.0 25.0h1v1h-1zM27.0 39.1h1v1h-1zM24.8 31.3h1v1h-1zM42.6 21.3h1v1h-1zM8.2 14.8h1v1h-1zM43.9 43.8h1v1h-1zM14.5 14.9h1v1h-1zM2.6 45.2h1v1h-1zM6.7 16.6h1v1h-1zM30.2 21.8h1v1h-1zM44.1 9.4h1v1h-1zM32.6 8.4h1v1h-1zM52.6 32.2h1v1h-1zM11.2 3.5h1v1h-1zM22.8 40.8h1v1h-1zM19.2 14.1h1v1h-1zM28.6 43.3h1v1h-1zM2.8 24.3h1v1h-1zM9.5 38.6h1v1h-1zM30.4 16.1h1v1h-1zM7.0 25.0h1v1h-1zM27.5 14.8h1v1h-1zM11.4 31.5h1v1h-1zM12.3 32.1h1v1h-1zM20.9 25.4h1v1h-1zM18.0 34.4h1v1h-1zM45.1 22.5h1v1h-1zM33.0 33.0h1v1h-1zM49.0 19.9h1v1h-1zM2.3 23.1h1v1h-1zM39.5 23.7h1v1h-1zM13.6 29.5h1v1h-1zM6.2 15.8h1v1h-1zM5.1 32.8h1v1h-1zM20.7 21.4h1v1h-1zM9.1 1.5h1v1h-1zM16.7 26.9h1v1h-1zM11.8 21.3h1v1h-1zM14.1 35.8h1v1h-1zM26.5 4.7h1v1h-1zM49.7 7.0h1v1h-1zM1.1 1.1h1v1h-1zM4.4 35.0h1v1h-1zM13.5 41.5h1v1h-1zM25.3 17.8h1v1h-1zM51.9 6.5h1v1h-1zM47.7 5.7h1v1h-1zM11.4 43.2h1v1h-1zM26.4 29.4h1v1h-1zM31.3 16.1h1v1h-1zM29.6 36.4h1v1h-1zM49.5 35.4h1v1h-1zM48.0 43.0h1v1h-1zM30.7 38.9h1v1h-1zM13.3 5.8h1v1h-1zM2.5 36.6h1v1h-1zM8.7 30.1h1v1h-1zM52.9 31.8h1v1h-1zM17.3 20.9h1v1h-1zM37.2 16.4h1v1h-1zM23.2 18.3h1v1h-1z"/></pattern><pattern id="spgs" width="53" height="47" patternUnits="userSpaceOnUse"><path fill="#d6d6d6" d="M17.2 7.1h1v1h-1zM2.0 20.4h1v1h-1zM12.8 25.9h1v1h-1zM33.4 27.4h1v1h-1zM19.7 25.7h1v1h-1zM49.5 19.8h1v1h-1zM30.7 21.4h1v1h-1zM50.1 22.3h1v1h-1zM8.0 31.0h1v1h-1zM20.8 18.8h1v1h-1zM5.8 28.2h1v1h-1zM0.0 7.1h1v1h-1zM50.3 28.8h1v1h-1zM19.2 32.4h1v1h-1zM40.2 14.0h1v1h-1zM10.6 23.2h1v1h-1zM42.4 4.0h1v1h-1zM24.5 34.9h1v1h-1zM8.3 25.8h1v1h-1zM0.8 45.6h1v1h-1zM28.9 39.2h1v1h-1zM9.1 22.3h1v1h-1zM28.1 22.7h1v1h-1zM24.0 1.3h1v1h-1zM44.5 6.4h1v1h-1zM16.9 33.9h1v1h-1zM17.9 21.6h1v1h-1zM30.2 32.9h1v1h-1zM22.5 3.4h1v1h-1zM33.6 37.7h1v1h-1zM21.4 16.3h1v1h-1zM31.7 32.6h1v1h-1zM13.2 36.5h1v1h-1zM30.1 38.2h1v1h-1zM36.1 23.0h1v1h-1zM48.3 13.5h1v1h-1z"/><path fill="#cfe0cf" d="M30.9 42.8h1v1h-1zM43.8 5.8h1v1h-1zM30.6 18.6h1v1h-1zM16.3 38.4h1v1h-1zM5.5 26.8h1v1h-1zM15.9 37.3h1v1h-1zM22.2 35.6h1v1h-1zM1.2 21.7h1v1h-1zM32.4 23.2h1v1h-1zM40.7 6.1h1v1h-1zM50.8 7.1h1v1h-1zM19.6 26.6h1v1h-1zM25.5 18.8h1v1h-1zM3.6 9.8h1v1h-1zM46.3 28.9h1v1h-1zM39.2 22.5h1v1h-1zM48.1 16.7h1v1h-1zM33.7 28.8h1v1h-1zM42.7 38.5h1v1h-1zM50.6 17.1h1v1h-1zM48.2 36.8h1v1h-1zM38.4 8.0h1v1h-1zM52.3 9.2h1v1h-1zM1.0 20.7h1v1h-1zM32.3 36.5h1v1h-1zM46.8 2.7h1v1h-1zM48.9 42.0h1v1h-1zM20.8 14.9h1v1h-1zM41.5 42.2h1v1h-1zM46.9 7.7h1v1h-1zM27.1 3.0h1v1h-1zM14.4 42.6h1v1h-1zM14.8 37.6h1v1h-1zM33.0 2.0h1v1h-1zM33.3 25.0h1v1h-1zM15.4 23.5h1v1h-1zM51.4 14.5h1v1h-1zM52.1 16.1h1v1h-1zM51.5 25.7h1v1h-1zM1.8 41.5h1v1h-1zM4.4 13.1h1v1h-1zM50.8 40.1h1v1h-1zM7.9 34.0h1v1h-1zM43.8 27.5h1v1h-1zM42.9 39.8h1v1h-1z"/><path fill="#dbe3db" d="M3.8 25.2h1v1h-1zM2.5 40.3h1v1h-1zM36.1 20.1h1v1h-1zM24.7 43.4h1v1h-1zM46.4 34.3h1v1h-1zM40.5 26.9h1v1h-1zM52.6 38.6h1v1h-1zM38.0 41.7h1v1h-1zM25.7 27.7h1v1h-1zM16.5 6.8h1v1h-1zM36.9 12.3h1v1h-1zM28.2 36.6h1v1h-1zM13.7 32.5h1v1h-1zM23.7 44.0h1v1h-1zM5.4 22.1h1v1h-1zM44.5 22.5h1v1h-1zM25.3 8.4h1v1h-1zM52.0 30.9h1v1h-1zM12.7 27.6h1v1h-1zM32.1 9.4h1v1h-1zM46.5 44.3h1v1h-1zM22.7 10.0h1v1h-1zM49.8 30.2h1v1h-1zM21.4 19.8h1v1h-1zM20.4 24.3h1v1h-1zM51.5 4.9h1v1h-1zM45.0 31.8h1v1h-1zM32.2 10.5h1v1h-1zM45.7 21.3h1v1h-1zM52.7 19.6h1v1h-1zM49.7 45.6h1v1h-1zM2.7 9.5h1v1h-1zM14.3 37.8h1v1h-1zM44.4 0.7h1v1h-1zM46.1 31.5h1v1h-1zM0.2 17.1h1v1h-1zM31.1 18.5h1v1h-1zM4.5 2.0h1v1h-1zM3.5 34.6h1v1h-1z"/><path fill="#e0d6d2" d="M29.9 29.1h1v1h-1zM4.3 14.1h1v1h-1zM18.0 16.5h1v1h-1zM21.1 43.1h1v1h-1zM14.7 6.4h1v1h-1zM45.8 13.1h1v1h-1zM52.3 32.1h1v1h-1zM34.7 34.8h1v1h-1zM19.3 5.8h1v1h-1zM52.6 21.9h1v1h-1zM52.4 37.1h1v1h-1zM4.6 44.5h1v1h-1zM1.5 27.8h1v1h-1zM27.9 43.9h1v1h-1zM48.2 16.6h1v1h-1zM24.0 25.1h1v1h-1zM7.6 41.5h1v1h-1zM11.6 44.8h1v1h-1zM14.3 6.1h1v1h-1zM29.2 8.9h1v1h-1zM13.0 21.0h1v1h-1zM34.8 25.7h1v1h-1zM22.8 2.6h1v1h-1zM24.4 7.4h1v1h-1zM18.9 0.1h1v1h-1zM14.0 4.2h1v1h-1zM20.6 15.3h1v1h-1zM50.9 17.7h1v1h-1zM38.7 9.6h1v1h-1zM26.2 18.0h1v1h-1z"/><path fill="#d2dcd2" d="M22.2 25.4h1v1h-1zM32.3 3.4h1v1h-1zM3.2 33.0h1v1h-1zM4.3 21.1h1v1h-1zM14.9 6.8h1v1h-1zM36.6 24.2h1v1h-1zM47.7 36.7h1v1h-1zM33.6 44.9h1v1h-1zM27.4 9.6h1v1h-1zM10.8 29.3h1v1h-1zM42.7 6.9h1v1h-1zM1.5 10.0h1v1h-1zM35.1 38.3h1v1h-1zM22.3 43.1h1v1h-1zM6.9 7.1h1v1h-1zM29.5 15.3h1v1h-1zM14.7 36.3h1v1h-1zM23.5 28.8h1v1h-1zM26.9 11.6h1v1h-1zM8.6 20.3h1v1h-1zM21.5 25.2h1v1h-1zM2.0 0.9h1v1h-1zM16.1 10.9h1v1h-1zM34.8 33.7h1v1h-1zM2.3 39.3h1v1h-1zM33.2 34.5h1v1h-1zM7.4 24.6h1v1h-1zM29.6 29.5h1v1h-1zM24.2 3.3h1v1h-1zM47.6 4.3h1v1h-1z"/></pattern><pattern id="sprg" width="41" height="37" patternUnits="userSpaceOnUse"><path fill="#e8c0b4" d="M26.6 33.3h1v1h-1zM22.3 21.2h1v1h-1zM25.3 4.7h1v1h-1zM12.4 22.3h1v1h-1zM24.4 26.2h1v1h-1zM28.9 2.1h1v1h-1zM1.5 35.0h1v1h-1zM18.7 15.6h1v1h-1zM9.0 25.4h1v1h-1zM9.8 33.4h1v1h-1zM3.7 30.4h1v1h-1zM39.4 9.1h1v1h-1zM32.0 30.6h1v1h-1zM21.2 31.9h1v1h-1zM36.9 17.2h1v1h-1zM11.0 3.2h1v1h-1zM25.2 30.5h1v1h-1zM4.4 14.0h1v1h-1zM11.5 21.1h1v1h-1zM3.5 24.7h1v1h-1zM1.2 26.8h1v1h-1zM27.9 8.3h1v1h-1zM39.4 13.4h1v1h-1zM16.2 3.6h1v1h-1zM37.9 13.7h1v1h-1zM7.6 13.4h1v1h-1zM23.2 34.8h1v1h-1zM9.7 29.7h1v1h-1zM26.4 18.4h1v1h-1zM12.5 1.9h1v1h-1zM3.5 11.6h1v1h-1zM21.4 4.9h1v1h-1zM4.7 11.5h1v1h-1zM12.8 4.8h1v1h-1zM2.5 25.9h1v1h-1zM15.6 28.5h1v1h-1zM23.6 16.4h1v1h-1zM25.4 6.0h1v1h-1zM28.1 7.7h1v1h-1zM15.0 29.9h1v1h-1zM1.5 6.3h1v1h-1zM3.7 7.4h1v1h-1zM37.9 25.6h1v1h-1zM8.5 10.6h1v1h-1zM38.1 8.7h1v1h-1zM32.7 29.5h1v1h-1zM31.4 8.3h1v1h-1zM5.6 19.2h1v1h-1zM34.5 17.6h1v1h-1zM0.1 24.9h1v1h-1zM25.6 35.7h1v1h-1zM36.5 36.6h1v1h-1zM39.4 4.9h1v1h-1zM20.3 35.6h1v1h-1zM26.3 28.3h1v1h-1zM14.6 30.0h1v1h-1zM33.5 5.2h1v1h-1zM7.9 29.7h1v1h-1zM26.1 1.3h1v1h-1zM5.7 13.4h1v1h-1zM39.6 5.2h1v1h-1zM9.7 24.6h1v1h-1zM12.4 6.2h1v1h-1zM18.6 2.2h1v1h-1zM19.8 5.3h1v1h-1zM23.0 0.4h1v1h-1zM28.4 22.6h1v1h-1zM23.7 19.8h1v1h-1zM3.6 13.1h1v1h-1zM18.3 21.2h1v1h-1zM10.8 23.3h1v1h-1zM39.2 4.3h1v1h-1zM34.6 21.6h1v1h-1zM4.1 31.7h1v1h-1zM16.8 32.2h1v1h-1zM2.7 2.5h1v1h-1zM16.7 17.1h1v1h-1zM13.3 13.4h1v1h-1zM4.7 19.9h1v1h-1zM18.6 30.4h1v1h-1zM16.6 26.3h1v1h-1zM5.5 7.5h1v1h-1zM26.9 28.0h1v1h-1zM13.4 25.5h1v1h-1zM6.5 18.3h1v1h-1zM9.8 30.7h1v1h-1zM22.6 29.8h1v1h-1zM36.6 19.6h1v1h-1zM6.0 2.1h1v1h-1zM19.5 19.3h1v1h-1zM40.6 7.4h1v1h-1zM16.2 1.2h1v1h-1zM16.0 28.6h1v1h-1zM10.3 25.2h1v1h-1zM6.2 0.3h1v1h-1zM16.1 20.7h1v1h-1zM7.1 13.0h1v1h-1zM12.7 25.1h1v1h-1zM38.0 32.9h1v1h-1zM11.4 16.6h1v1h-1zM34.1 21.8h1v1h-1zM38.2 10.8h1v1h-1zM1.5 35.7h1v1h-1zM21.6 19.0h1v1h-1zM38.3 4.6h1v1h-1zM30.1 1.5h1v1h-1zM24.2 25.9h1v1h-1zM11.7 24.3h1v1h-1zM15.2 29.0h1v1h-1z"/><path fill="#e4c8bc" d="M1.2 17.2h1v1h-1zM30.0 15.1h1v1h-1zM37.6 28.3h1v1h-1zM39.9 0.2h1v1h-1zM39.4 6.1h1v1h-1zM35.9 23.2h1v1h-1zM12.3 13.4h1v1h-1zM1.9 6.7h1v1h-1zM7.3 2.9h1v1h-1zM21.9 15.0h1v1h-1zM4.4 16.1h1v1h-1zM2.4 15.6h1v1h-1zM18.6 37.0h1v1h-1zM11.9 14.9h1v1h-1zM39.2 12.6h1v1h-1zM5.8 36.3h1v1h-1zM29.5 1.0h1v1h-1zM24.0 23.1h1v1h-1zM40.4 36.3h1v1h-1zM27.2 2.7h1v1h-1zM26.3 13.7h1v1h-1zM15.4 16.0h1v1h-1zM15.7 31.6h1v1h-1zM19.7 20.7h1v1h-1zM38.3 28.9h1v1h-1zM16.1 31.5h1v1h-1zM33.3 2.5h1v1h-1zM2.0 31.2h1v1h-1zM28.9 16.2h1v1h-1zM25.0 15.3h1v1h-1zM30.4 32.5h1v1h-1zM21.2 4.9h1v1h-1zM24.3 21.2h1v1h-1zM4.1 5.7h1v1h-1zM33.6 27.8h1v1h-1zM11.9 25.0h1v1h-1zM30.0 26.6h1v1h-1zM31.8 6.5h1v1h-1zM38.4 2.0h1v1h-1zM26.3 7.0h1v1h-1zM3.6 36.5h1v1h-1zM24.5 31.7h1v1h-1zM36.7 24.2h1v1h-1zM5.3 2.4h1v1h-1zM1.1 4.5h1v1h-1zM38.9 22.6h1v1h-1zM21.6 4.6h1v1h-1zM11.0 22.4h1v1h-1zM4.8 11.7h1v1h-1zM2.0 24.7h1v1h-1zM8.8 10.3h1v1h-1zM12.4 19.1h1v1h-1zM25.3 14.8h1v1h-1zM30.9 10.4h1v1h-1zM7.3 24.2h1v1h-1zM28.2 36.4h1v1h-1zM19.8 22.1h1v1h-1zM30.2 30.2h1v1h-1zM15.0 30.1h1v1h-1zM2.1 15.6h1v1h-1zM11.1 26.6h1v1h-1zM35.6 2.9h1v1h-1zM37.5 14.0h1v1h-1zM36.6 5.5h1v1h-1zM27.3 4.6h1v1h-1zM1.5 15.2h1v1h-1zM39.4 22.2h1v1h-1zM38.4 1.2h1v1h-1zM33.3 3.2h1v1h-1zM30.9 13.8h1v1h-1zM22.5 16.4h1v1h-1zM22.4 27.1h1v1h-1zM9.5 26.5h1v1h-1zM26.4 2.0h1v1h-1zM15.9 23.3h1v1h-1zM26.7 6.5h1v1h-1zM20.6 35.2h1v1h-1zM31.8 20.1h1v1h-1zM19.1 3.8h1v1h-1zM8.6 19.0h1v1h-1zM15.7 23.5h1v1h-1zM26.1 9.5h1v1h-1zM18.3 8.7h1v1h-1zM10.5 17.2h1v1h-1zM0.1 35.9h1v1h-1zM15.8 23.9h1v1h-1zM26.5 34.0h1v1h-1zM15.3 21.5h1v1h-1zM7.8 7.0h1v1h-1zM15.1 3.3h1v1h-1zM36.7 25.5h1v1h-1zM5.4 33.3h1v1h-1zM7.9 19.7h1v1h-1zM24.9 19.9h1v1h-1zM2.9 19.9h1v1h-1zM3.6 12.7h1v1h-1zM4.4 0.3h1v1h-1z"/><path fill="#dcd0c8" d="M38.4 9.8h1v1h-1zM0.7 29.1h1v1h-1zM30.7 29.5h1v1h-1zM8.5 19.0h1v1h-1zM3.8 25.4h1v1h-1zM30.4 12.7h1v1h-1zM28.2 11.8h1v1h-1zM14.8 29.1h1v1h-1zM28.5 24.6h1v1h-1zM14.9 26.1h1v1h-1zM34.2 9.8h1v1h-1zM31.7 12.1h1v1h-1zM19.0 30.2h1v1h-1zM21.2 34.6h1v1h-1zM25.6 28.7h1v1h-1zM2.2 4.9h1v1h-1zM13.9 21.5h1v1h-1zM24.4 9.6h1v1h-1zM20.3 15.4h1v1h-1zM38.8 11.4h1v1h-1zM20.1 31.2h1v1h-1zM0.7 4.7h1v1h-1zM21.9 12.4h1v1h-1zM30.0 1.0h1v1h-1zM28.5 32.9h1v1h-1zM29.2 5.0h1v1h-1zM20.1 13.1h1v1h-1zM37.5 5.1h1v1h-1zM9.7 30.8h1v1h-1zM7.4 26.4h1v1h-1zM15.4 30.9h1v1h-1zM13.7 22.7h1v1h-1zM32.6 14.0h1v1h-1zM36.5 17.8h1v1h-1zM6.2 9.4h1v1h-1zM1.4 33.2h1v1h-1zM34.8 5.8h1v1h-1zM37.4 26.1h1v1h-1zM25.6 16.3h1v1h-1zM39.7 24.7h1v1h-1zM28.8 29.5h1v1h-1zM36.3 2.7h1v1h-1zM29.8 25.9h1v1h-1zM5.6 18.4h1v1h-1zM33.9 16.1h1v1h-1zM7.6 14.4h1v1h-1zM22.0 29.6h1v1h-1zM12.6 34.4h1v1h-1zM30.9 24.8h1v1h-1zM3.8 4.5h1v1h-1zM36.4 7.9h1v1h-1zM7.8 22.0h1v1h-1zM20.1 34.7h1v1h-1zM0.6 30.0h1v1h-1zM30.8 7.2h1v1h-1zM23.6 11.0h1v1h-1zM19.3 3.2h1v1h-1zM17.3 36.0h1v1h-1zM8.9 15.6h1v1h-1zM19.2 2.9h1v1h-1zM9.8 25.6h1v1h-1zM18.5 24.2h1v1h-1zM4.8 32.8h1v1h-1zM39.7 9.7h1v1h-1zM10.7 30.7h1v1h-1zM5.6 1.9h1v1h-1zM29.6 2.6h1v1h-1zM4.9 27.9h1v1h-1zM18.6 11.1h1v1h-1zM15.6 24.3h1v1h-1zM22.6 9.3h1v1h-1zM12.0 4.0h1v1h-1zM13.8 3.8h1v1h-1zM26.1 26.8h1v1h-1zM12.8 10.8h1v1h-1zM32.9 17.8h1v1h-1zM23.8 9.3h1v1h-1zM5.0 28.3h1v1h-1zM11.6 12.4h1v1h-1zM15.2 28.6h1v1h-1zM0.0 34.9h1v1h-1zM39.5 15.4h1v1h-1zM21.5 7.4h1v1h-1zM17.8 30.2h1v1h-1zM19.1 30.7h1v1h-1zM10.9 21.1h1v1h-1zM3.4 24.2h1v1h-1zM39.8 19.1h1v1h-1zM14.6 3.8h1v1h-1zM4.0 31.9h1v1h-1zM24.4 32.9h1v1h-1zM18.0 32.5h1v1h-1zM2.8 3.0h1v1h-1zM17.8 11.0h1v1h-1zM19.0 1.4h1v1h-1zM3.6 16.2h1v1h-1zM16.0 31.7h1v1h-1z"/><path fill="#d0dcd0" d="M15.2 32.1h1v1h-1zM38.6 25.6h1v1h-1zM12.7 30.3h1v1h-1zM28.6 6.8h1v1h-1zM38.9 13.2h1v1h-1zM15.4 31.1h1v1h-1zM4.9 9.1h1v1h-1zM29.6 11.4h1v1h-1zM40.1 23.6h1v1h-1zM38.9 23.3h1v1h-1zM40.0 16.8h1v1h-1zM39.4 23.2h1v1h-1zM35.6 6.7h1v1h-1zM14.3 23.8h1v1h-1zM14.4 31.2h1v1h-1zM34.3 34.7h1v1h-1zM11.6 2.9h1v1h-1zM1.5 17.2h1v1h-1zM14.4 35.2h1v1h-1zM6.4 14.2h1v1h-1zM20.2 17.7h1v1h-1zM12.0 22.5h1v1h-1zM7.8 15.9h1v1h-1zM24.4 25.5h1v1h-1zM35.2 31.1h1v1h-1zM12.4 0.1h1v1h-1zM23.9 24.0h1v1h-1zM37.3 5.3h1v1h-1zM27.2 0.9h1v1h-1zM40.1 36.9h1v1h-1zM35.4 16.8h1v1h-1zM35.4 18.7h1v1h-1zM9.8 32.4h1v1h-1zM34.8 35.0h1v1h-1zM3.4 33.7h1v1h-1zM26.6 29.8h1v1h-1zM7.6 7.2h1v1h-1zM37.8 12.0h1v1h-1zM2.9 32.2h1v1h-1zM28.2 24.9h1v1h-1zM9.4 2.9h1v1h-1zM38.6 23.9h1v1h-1zM29.8 10.0h1v1h-1zM2.5 28.8h1v1h-1zM2.0 30.8h1v1h-1zM19.9 21.1h1v1h-1zM37.4 11.4h1v1h-1zM32.0 9.7h1v1h-1zM19.3 25.8h1v1h-1zM18.3 34.7h1v1h-1zM18.9 16.1h1v1h-1zM0.1 4.7h1v1h-1zM1.3 21.3h1v1h-1zM28.9 13.1h1v1h-1zM5.9 8.8h1v1h-1zM32.7 27.9h1v1h-1zM15.7 17.6h1v1h-1zM35.4 34.8h1v1h-1zM40.0 20.1h1v1h-1zM39.7 24.8h1v1h-1zM37.3 22.7h1v1h-1zM36.8 6.2h1v1h-1zM29.8 15.4h1v1h-1zM36.5 12.2h1v1h-1zM22.8 20.8h1v1h-1zM29.9 2.3h1v1h-1zM13.1 31.5h1v1h-1zM31.2 21.3h1v1h-1zM8.5 13.9h1v1h-1zM10.1 34.8h1v1h-1zM15.7 10.8h1v1h-1zM38.7 2.3h1v1h-1zM11.1 3.6h1v1h-1zM17.7 6.7h1v1h-1zM35.1 9.1h1v1h-1zM0.9 20.8h1v1h-1zM24.5 31.0h1v1h-1zM20.8 2.0h1v1h-1zM17.3 26.8h1v1h-1zM31.1 2.8h1v1h-1zM8.1 0.7h1v1h-1zM3.7 4.1h1v1h-1zM15.4 13.6h1v1h-1zM0.3 28.5h1v1h-1zM31.8 20.6h1v1h-1zM38.4 35.1h1v1h-1zM12.3 20.4h1v1h-1zM5.7 13.0h1v1h-1zM28.8 21.9h1v1h-1zM1.1 15.2h1v1h-1zM3.8 2.5h1v1h-1zM21.1 33.4h1v1h-1zM12.9 22.6h1v1h-1zM5.9 9.9h1v1h-1zM22.8 24.5h1v1h-1zM26.8 24.6h1v1h-1zM2.9 11.3h1v1h-1zM30.5 9.5h1v1h-1zM6.9 3.3h1v1h-1zM23.7 17.8h1v1h-1zM5.4 15.5h1v1h-1zM17.3 31.0h1v1h-1zM22.1 17.9h1v1h-1zM18.8 16.2h1v1h-1zM8.4 24.1h1v1h-1zM12.3 27.0h1v1h-1zM16.8 1.0h1v1h-1zM31.3 32.2h1v1h-1zM36.2 26.4h1v1h-1zM7.5 20.1h1v1h-1zM29.8 32.8h1v1h-1zM29.6 13.7h1v1h-1zM3.9 27.0h1v1h-1zM1.7 19.0h1v1h-1zM8.9 11.2h1v1h-1zM6.5 23.2h1v1h-1zM34.7 21.1h1v1h-1zM16.9 7.3h1v1h-1z"/><path fill="#eab8a8" d="M25.5 27.4h1v1h-1zM31.2 2.7h1v1h-1zM11.9 35.6h1v1h-1zM14.1 13.1h1v1h-1zM10.3 17.1h1v1h-1zM37.6 12.6h1v1h-1zM6.6 1.8h1v1h-1zM13.7 7.7h1v1h-1zM4.6 30.4h1v1h-1zM11.2 28.9h1v1h-1zM23.8 0.4h1v1h-1zM40.0 35.4h1v1h-1zM7.0 28.9h1v1h-1zM39.7 17.9h1v1h-1zM35.5 25.5h1v1h-1zM15.3 1.3h1v1h-1zM12.4 10.9h1v1h-1zM33.6 15.5h1v1h-1zM39.2 35.8h1v1h-1zM15.7 12.1h1v1h-1zM22.1 12.0h1v1h-1zM5.9 0.9h1v1h-1zM14.8 27.6h1v1h-1zM5.4 0.1h1v1h-1zM18.7 33.9h1v1h-1zM22.1 15.7h1v1h-1zM2.8 7.9h1v1h-1zM0.4 3.4h1v1h-1zM6.2 23.4h1v1h-1zM11.9 34.9h1v1h-1zM25.5 9.7h1v1h-1zM39.5 4.0h1v1h-1zM33.6 5.2h1v1h-1zM0.0 17.4h1v1h-1zM1.4 26.4h1v1h-1zM7.0 1.2h1v1h-1zM39.0 7.2h1v1h-1zM36.6 37.0h1v1h-1zM4.4 29.8h1v1h-1zM11.7 2.4h1v1h-1zM13.5 0.5h1v1h-1zM21.8 35.9h1v1h-1zM28.0 31.9h1v1h-1zM4.2 22.4h1v1h-1zM27.8 22.6h1v1h-1zM18.4 29.1h1v1h-1zM39.3 0.7h1v1h-1zM3.6 13.2h1v1h-1zM36.8 25.4h1v1h-1zM25.1 7.7h1v1h-1zM13.3 31.2h1v1h-1zM23.4 23.2h1v1h-1zM12.4 10.4h1v1h-1zM1.2 4.3h1v1h-1zM38.0 8.5h1v1h-1zM3.8 5.6h1v1h-1zM29.2 34.2h1v1h-1zM15.4 4.3h1v1h-1zM31.6 18.5h1v1h-1zM38.5 24.5h1v1h-1zM6.2 19.2h1v1h-1zM32.5 2.1h1v1h-1zM23.3 10.2h1v1h-1zM21.7 14.4h1v1h-1zM0.2 20.9h1v1h-1zM37.5 30.9h1v1h-1zM29.6 22.6h1v1h-1zM28.9 26.6h1v1h-1zM12.5 19.4h1v1h-1zM26.2 16.2h1v1h-1zM37.5 6.3h1v1h-1zM17.4 31.3h1v1h-1zM38.7 29.2h1v1h-1zM9.3 1.0h1v1h-1zM22.2 24.1h1v1h-1zM17.9 10.1h1v1h-1zM13.4 30.0h1v1h-1zM12.6 20.5h1v1h-1zM28.6 20.1h1v1h-1zM35.9 19.3h1v1h-1zM13.9 27.1h1v1h-1zM34.3 1.6h1v1h-1zM6.9 6.3h1v1h-1zM26.9 21.5h1v1h-1zM30.1 13.8h1v1h-1zM31.5 25.9h1v1h-1zM25.6 30.9h1v1h-1zM24.8 33.6h1v1h-1zM28.6 7.4h1v1h-1zM32.5 15.4h1v1h-1zM30.0 7.5h1v1h-1zM15.0 3.5h1v1h-1zM38.9 27.5h1v1h-1zM9.4 10.9h1v1h-1zM10.8 30.4h1v1h-1zM32.2 15.6h1v1h-1zM21.6 36.9h1v1h-1zM35.0 31.1h1v1h-1zM19.5 11.8h1v1h-1z"/></pattern></defs>
<rect width="685" height="631" fill="#fff"/>
<rect x="27.00" y="46.00" width="69.2" height="67.2" fill="#ffffff"/>
<rect x="27.00" y="116.35" width="69.2" height="67.2" fill="#ffffff"/>
<rect x="99.75" y="116.35" width="69.2" height="67.2" fill="#ffffff"/>
<rect x="27.00" y="186.70" width="69.2" height="67.2" fill="#ffffff"/>
<rect x="99.75" y="186.70" width="69.2" height="67.2" fill="#ffffff"/>
<rect x="172.50" y="186.70" width="69.2" height="67.2" fill="#ffffff"/>
<rect x="27.00" y="257.05" width="69.2" height="67.2" fill="#ffffff"/>
<rect x="99.75" y="257.05" width="69.2" height="67.2" fill="#ffffff"/>
<rect x="172.50" y="257.05" width="69.2" height="67.2" fill="#ffffff"/>
<rect x="245.25" y="257.05" width="69.2" height="67.2" fill="#ffffff"/>
<rect x="27.00" y="327.40" width="69.2" height="67.2" fill="#ffffff"/>
<rect x="99.75" y="327.40" width="69.2" height="67.2" fill="#ffffff"/>
<rect x="172.50" y="327.40" width="69.2" height="67.2" fill="#ffffff"/>
<rect x="245.25" y="327.40" width="69.2" height="67.2" fill="#ffffff"/>
<rect x="318.00" y="327.40" width="69.2" height="67.2" fill="#ffffff"/>
<rect x="27.00" y="397.75" width="69.2" height="67.2" fill="#ffffff"/>
<rect x="99.75" y="397.75" width="69.2" height="67.2" fill="#ffffff"/>
<rect x="172.50" y="397.75" width="69.2" height="67.2" fill="#ffffff"/>
<rect x="245.25" y="397.75" width="69.2" height="67.2" fill="#ffffff"/>
<rect x="318.00" y="397.75" width="69.2" height="67.2" fill="#ffffff"/>
<rect x="390.75" y="397.75" width="69.2" height="67.2" fill="#ffffff"/>
<rect x="27.00" y="468.10" width="69.2" height="67.2" fill="#ffffff"/>
<rect x="99.75" y="468.10" width="69.2" height="67.2" fill="#ffffff"/>
<rect x="172.50" y="468.10" width="69.2" height="67.2" fill="#ffffff"/>
<rect x="245.25" y="468.10" width="69.2" height="67.2" fill="#ffffff"/>
<rect x="318.00" y="468.10" width="69.2" height="67.2" fill="#ffffff"/>
<rect x="390.75" y="468.10" width="69.2" height="67.2" fill="#ffffff"/>
<rect x="463.50" y="468.10" width="69.2" height="67.2" fill="#ffffff"/>
<rect x="27.00" y="538.45" width="69.2" height="67.2" fill="#eeeeee"/>
<rect x="99.75" y="538.45" width="69.2" height="67.2" fill="#eeeeee"/>
<rect x="172.50" y="538.45" width="69.2" height="67.2" fill="#eeeeee"/>
<rect x="245.25" y="538.45" width="69.2" height="67.2" fill="#eeeeee"/>
<rect x="318.00" y="538.45" width="69.2" height="67.2" fill="#eeeeee"/>
<rect x="390.75" y="538.45" width="69.2" height="67.2" fill="#eeeeee"/>
<rect x="463.50" y="538.45" width="69.2" height="67.2" fill="#eeeeee"/>
<rect x="536.25" y="538.45" width="69.2" height="67.2" fill="#eeeeee"/>
<line x1="60.6" y1="46.7" x2="60.6" y2="112.5" stroke="#4cbc4c" stroke-width="0.95" stroke-dasharray="2.8,2.2" stroke-dashoffset="0"/><line x1="68.3" y1="46.7" x2="68.3" y2="112.5" stroke="#4cbc4c" stroke-width="0.95" stroke-dasharray="2.8,2.2" stroke-dashoffset="0"/><line x1="80.5" y1="46.7" x2="80.5" y2="112.5" stroke="#4cbc4c" stroke-width="0.95" stroke-dasharray="2.8,2.2" stroke-dashoffset="0"/><line x1="73.3" y1="46.7" x2="73.3" y2="112.5" stroke="#f2a43a" stroke-width="1.6" stroke-dasharray="2.6,2.4" stroke-dashoffset="0"/><line x1="75.0" y1="46.7" x2="75.0" y2="112.5" stroke="#f2a43a" stroke-width="1.6" stroke-dasharray="2.6,2.4" stroke-dashoffset="0"/><line x1="71.4" y1="46.7" x2="71.4" y2="112.5" stroke="#e8402a" stroke-width="1.3" stroke-dasharray="2.6,2.4" stroke-dashoffset="2.5"/><line x1="74.3" y1="46.7" x2="74.3" y2="112.5" stroke="#e8402a" stroke-width="1.3" stroke-dasharray="2.6,2.4" stroke-dashoffset="2.5"/><line x1="75.9" y1="46.7" x2="75.9" y2="112.5" stroke="#e8402a" stroke-width="1.3" stroke-dasharray="2.6,2.4" stroke-dashoffset="2.5"/><path d="M27.0,107.3H51.0V105.0H53.0V102.5H55.0V100.0H57.0V96.0H59.0V92.8H64.0V93.2H66.0V95.0H68.0V97.0H78.0V97.5H80.0V99.5H82.0V101.5H84.0V103.5H86.0V105.5H88.0V107.3H96.2" fill="none" stroke="#4cbb4c" stroke-width="1.0" stroke-opacity="1"/><path d="M27.0,107.3H67.0V104.0H69.5V86.0H71.5V62.0H73.3V46.8H76.3V70.0H78.0V107.3H96.2" fill="none" stroke="#f2a43a" stroke-width="1.0" stroke-opacity="1"/><path d="M27.0,107.3H66.0V105.5H68.9V89.6H70.6V66.8H72.9V46.6H75.7V74.8H77.5V107.3H96.2" fill="none" stroke="#e8402a" stroke-width="1.05" stroke-opacity="1"/><line x1="108.4" y1="117.0" x2="108.4" y2="182.9" stroke="#4cbc4c" stroke-width="0.95" stroke-dasharray="2.8,2.2" stroke-dashoffset="0"/><line x1="125.5" y1="117.0" x2="125.5" y2="182.9" stroke="#4cbc4c" stroke-width="0.95" stroke-dasharray="2.8,2.2" stroke-dashoffset="0"/><line x1="145.8" y1="117.0" x2="145.8" y2="182.9" stroke="#4cbc4c" stroke-width="0.95" stroke-dasharray="2.8,2.2" stroke-dashoffset="0"/><line x1="152.3" y1="117.0" x2="152.3" y2="182.9" stroke="#f2a43a" stroke-width="1.6" stroke-dasharray="2.6,2.4" stroke-dashoffset="0"/><line x1="154.2" y1="117.0" x2="154.2" y2="182.9" stroke="#f2a43a" stroke-width="1.6" stroke-dasharray="2.6,2.4" stroke-dashoffset="0"/><line x1="149.7" y1="117.0" x2="149.7" y2="182.9" stroke="#e8402a" stroke-width="1.3" stroke-dasharray="2.6,2.4" stroke-dashoffset="2.5"/><line x1="153.2" y1="117.0" x2="153.2" y2="182.9" stroke="#e8402a" stroke-width="1.3" stroke-dasharray="2.6,2.4" stroke-dashoffset="2.5"/><line x1="155.0" y1="117.0" x2="155.0" y2="182.9" stroke="#e8402a" stroke-width="1.3" stroke-dasharray="2.6,2.4" stroke-dashoffset="2.5"/><path d="M99.8,172.2H104.0V171.3H109.0V170.8H112.0V171.6H118.0V171.9H122.0V171.4H128.0V171.3H133.0V172.3H140.0V172.0H145.0V172.6H150.0V173.6H154.0V175.0H157.0V176.5H161.0V178.1H168.9" fill="none" stroke="#4cbb4c" stroke-width="1.0" stroke-opacity="1"/><path d="M99.8,178.1H145.0V175.0H147.0V160.0H149.0V138.0H150.5V117.0H154.5V117.0H156.0V170.0H157.8V178.1H168.9" fill="none" stroke="#f2a43a" stroke-width="1.0" stroke-opacity="1"/><path d="M99.8,178.1H146.0V173.3H147.7V153.3H149.7V133.4H151.2V116.8H155.2V169.3H157.4V178.1H168.9" fill="none" stroke="#e8402a" stroke-width="1.05" stroke-opacity="1"/><line x1="181.4" y1="187.4" x2="181.4" y2="253.2" stroke="#4cbc4c" stroke-width="0.95" stroke-dasharray="2.8,2.2" stroke-dashoffset="0"/><line x1="196.5" y1="187.4" x2="196.5" y2="253.2" stroke="#4cbc4c" stroke-width="0.95" stroke-dasharray="2.8,2.2" stroke-dashoffset="0"/><line x1="212.2" y1="187.4" x2="212.2" y2="253.2" stroke="#f2a43a" stroke-width="1.6" stroke-dasharray="2.6,2.4" stroke-dashoffset="0"/><line x1="214.6" y1="187.4" x2="214.6" y2="253.2" stroke="#f2a43a" stroke-width="1.6" stroke-dasharray="2.6,2.4" stroke-dashoffset="0"/><line x1="210.8" y1="187.4" x2="210.8" y2="253.2" stroke="#e8402a" stroke-width="1.3" stroke-dasharray="2.6,2.4" stroke-dashoffset="2.5"/><line x1="213.5" y1="187.4" x2="213.5" y2="253.2" stroke="#e8402a" stroke-width="1.3" stroke-dasharray="2.6,2.4" stroke-dashoffset="2.5"/><path d="M172.5,244.5H175.0V243.6H178.0V242.9H182.0V242.3H186.0V241.9H194.0V241.4H200.0V241.7H205.0V241.5H210.0V242.0H213.0V242.6H216.0V243.6H219.0V244.6H222.0V245.6H226.0V246.6H230.0V247.5H234.0V248.2H241.7" fill="none" stroke="#4cbb4c" stroke-width="1.0" stroke-opacity="1"/><path d="M172.5,248.2H207.5V243.0H210.0V215.0H211.5V187.3H215.5V235.0H217.0V248.2H241.7" fill="none" stroke="#f2a43a" stroke-width="1.0" stroke-opacity="1"/><path d="M172.5,248.2H206.7V241.6H209.3V210.2H211.0V187.2H214.8V232.5H216.5V248.2H241.7" fill="none" stroke="#e8402a" stroke-width="1.05" stroke-opacity="1"/><line x1="264.9" y1="257.7" x2="264.9" y2="323.5" stroke="#4cbc4c" stroke-width="0.95" stroke-dasharray="2.8,2.2" stroke-dashoffset="0"/><line x1="280.6" y1="257.7" x2="280.6" y2="323.5" stroke="#4cbc4c" stroke-width="0.95" stroke-dasharray="2.8,2.2" stroke-dashoffset="0"/><line x1="252.3" y1="257.7" x2="252.3" y2="323.5" stroke="#f2a43a" stroke-width="1.6" stroke-dasharray="2.6,2.4" stroke-dashoffset="0"/><line x1="265.2" y1="257.7" x2="265.2" y2="323.5" stroke="#f2a43a" stroke-width="1.6" stroke-dasharray="2.6,2.4" stroke-dashoffset="0"/><line x1="251.6" y1="257.7" x2="251.6" y2="323.5" stroke="#e8402a" stroke-width="1.3" stroke-dasharray="2.6,2.4" stroke-dashoffset="2.5"/><line x1="264.2" y1="257.7" x2="264.2" y2="323.5" stroke="#e8402a" stroke-width="1.3" stroke-dasharray="2.6,2.4" stroke-dashoffset="2.5"/><line x1="277.2" y1="257.7" x2="277.2" y2="323.5" stroke="#e8402a" stroke-width="1.3" stroke-dasharray="2.6,2.4" stroke-dashoffset="2.5"/><path d="M245.2,281.2H247.0V275.5H252.0V274.5H258.0V275.8H262.0V274.2H266.0V277.0H268.0V279.0H272.0V280.0H276.0V283.0H280.0V292.0H284.0V298.0H287.0V300.5H290.0V303.0H293.0V306.0H296.0V311.0H299.0V318.3H314.4" fill="none" stroke="#4cbb4c" stroke-width="1.0" stroke-opacity="1"/><path d="M245.2,270.0H247.0V274.0H250.0V272.0H253.0V275.0H256.0V273.0H260.0V276.0H263.0V272.0H266.0V274.0H269.0V271.0H272.0V268.0H275.0V266.0H278.0V263.5H280.5V270.0H283.0V300.0H285.5V318.3H314.4" fill="none" stroke="#f2a43a" stroke-width="1.0" stroke-opacity="1"/><path d="M245.2,273.8H248.0V272.0H251.0V275.0H254.0V273.0H257.0V275.5H260.0V273.5H262.0V270.0H264.0V275.0H267.0V274.0H270.0V272.0H273.8V268.0H275.0V263.0H279.5V278.4H282.3V307.5H284.6V318.3H314.4" fill="none" stroke="#e8402a" stroke-width="1.05" stroke-opacity="1"/><line x1="327.0" y1="328.1" x2="327.0" y2="393.9" stroke="#4cbc4c" stroke-width="0.95" stroke-dasharray="2.8,2.2" stroke-dashoffset="0"/><line x1="360.2" y1="328.1" x2="360.2" y2="393.9" stroke="#4cbc4c" stroke-width="0.95" stroke-dasharray="2.8,2.2" stroke-dashoffset="0"/><line x1="335.2" y1="328.1" x2="335.2" y2="393.9" stroke="#f2a43a" stroke-width="1.6" stroke-dasharray="2.6,2.4" stroke-dashoffset="0"/><line x1="346.6" y1="328.1" x2="346.6" y2="393.9" stroke="#f2a43a" stroke-width="1.6" stroke-dasharray="2.6,2.4" stroke-dashoffset="0"/><line x1="342.5" y1="328.1" x2="342.5" y2="393.9" stroke="#e8402a" stroke-width="1.3" stroke-dasharray="2.6,2.4" stroke-dashoffset="2.5"/><line x1="345.4" y1="328.1" x2="345.4" y2="393.9" stroke="#e8402a" stroke-width="1.3" stroke-dasharray="2.6,2.4" stroke-dashoffset="2.5"/><line x1="347.9" y1="328.1" x2="347.9" y2="393.9" stroke="#e8402a" stroke-width="1.3" stroke-dasharray="2.6,2.4" stroke-dashoffset="2.5"/><path d="M318.0,381.4H322.0V380.8H328.0V380.2H334.0V379.6H340.0V379.2H346.0V379.6H352.0V379.3H356.0V380.0H360.0V380.3H364.0V381.3H367.0V382.6H370.0V384.2H373.0V386.0H376.4V388.9H387.2" fill="none" stroke="#4cbb4c" stroke-width="1.0" stroke-opacity="1"/><path d="M318.0,384.3H326.0V383.6H334.0V383.0H338.0V378.5H341.0V366.0H343.0V340.0H345.0V330.0H348.0V331.0H350.0V360.0H352.0V385.0H354.0V388.9H387.2" fill="none" stroke="#f2a43a" stroke-width="1.0" stroke-opacity="1"/><path d="M318.0,387.7H330.0V387.0H336.5V386.6H338.8V380.9H341.0V362.0H342.8V336.4H345.0V333.5H346.8V328.2H348.5V363.2H350.8V386.6H353.0V388.9H387.2" fill="none" stroke="#e8402a" stroke-width="1.05" stroke-opacity="1"/><line x1="398.8" y1="398.4" x2="398.8" y2="464.2" stroke="#4cbc4c" stroke-width="0.95" stroke-dasharray="2.8,2.2" stroke-dashoffset="0"/><line x1="415.4" y1="398.4" x2="415.4" y2="464.2" stroke="#4cbc4c" stroke-width="0.95" stroke-dasharray="2.8,2.2" stroke-dashoffset="0"/><line x1="439.0" y1="398.4" x2="439.0" y2="464.2" stroke="#4cbc4c" stroke-width="0.95" stroke-dasharray="2.8,2.2" stroke-dashoffset="0"/><line x1="402.3" y1="398.4" x2="402.3" y2="464.2" stroke="#f2a43a" stroke-width="1.6" stroke-dasharray="2.6,2.4" stroke-dashoffset="0"/><line x1="406.8" y1="398.4" x2="406.8" y2="464.2" stroke="#f2a43a" stroke-width="1.6" stroke-dasharray="2.6,2.4" stroke-dashoffset="0"/><line x1="400.3" y1="398.4" x2="400.3" y2="464.2" stroke="#e8402a" stroke-width="1.3" stroke-dasharray="2.6,2.4" stroke-dashoffset="2.5"/><line x1="404.5" y1="398.4" x2="404.5" y2="464.2" stroke="#e8402a" stroke-width="1.3" stroke-dasharray="2.6,2.4" stroke-dashoffset="2.5"/><line x1="408.5" y1="398.4" x2="408.5" y2="464.2" stroke="#e8402a" stroke-width="1.3" stroke-dasharray="2.6,2.4" stroke-dashoffset="2.5"/><path d="M390.8,450.3H393.0V448.0H397.0V446.9H420.0V447.6H425.0V449.0H430.0V450.0H435.0V451.2H440.0V452.3H445.0V453.5H450.0V454.6H455.0V456.0H459.9" fill="none" stroke="#4cbb4c" stroke-width="1.0" stroke-opacity="1"/><path d="M390.8,459.4H396.0V452.0H398.5V430.0H400.5V403.0H404.0V399.0H406.0V428.0H408.0V450.0H410.0V459.4H459.9" fill="none" stroke="#f2a43a" stroke-width="1.0" stroke-opacity="1"/><path d="M390.8,459.4H394.8V454.3H397.1V437.8H400.0V413.8H401.7V398.6H403.4V411.0H405.7V415.5H408.5V427.0H409.7V441.2H411.4V450.9H414.8V457.1H417.6V459.4H459.9" fill="none" stroke="#e8402a" stroke-width="1.05" stroke-opacity="1"/><line x1="495.8" y1="468.8" x2="495.8" y2="534.6" stroke="#4cbc4c" stroke-width="0.95" stroke-dasharray="2.8,2.2" stroke-dashoffset="0"/><line x1="510.0" y1="468.8" x2="510.0" y2="534.6" stroke="#4cbc4c" stroke-width="0.95" stroke-dasharray="2.8,2.2" stroke-dashoffset="0"/><line x1="501.5" y1="468.8" x2="501.5" y2="534.6" stroke="#f2a43a" stroke-width="1.6" stroke-dasharray="2.6,2.4" stroke-dashoffset="0"/><line x1="499.8" y1="468.8" x2="499.8" y2="534.6" stroke="#e8402a" stroke-width="1.3" stroke-dasharray="2.6,2.4" stroke-dashoffset="2.5"/><line x1="503.8" y1="468.8" x2="503.8" y2="534.6" stroke="#e8402a" stroke-width="1.3" stroke-dasharray="2.6,2.4" stroke-dashoffset="2.5"/><path d="M463.5,529.3H486.0V527.0H488.0V525.0H490.0V523.0H492.0V520.5H494.0V518.0H495.2V516.2H497.0V514.0H503.0V514.5H505.0V510.5H506.6V508.8H508.3V510.5H510.0V516.0H512.0V522.0H514.6V529.3H532.7" fill="none" stroke="#4cbb4c" stroke-width="1.0" stroke-opacity="1"/><path d="M463.5,529.3H496.0V523.0H498.6V492.0H500.3V468.6H503.2V497.0H506.0V525.0H508.0V529.3H532.7" fill="none" stroke="#f2a43a" stroke-width="1.0" stroke-opacity="1"/><path d="M463.5,529.3H495.2V525.3H498.0V488.8H499.8V468.6H502.6V494.0H505.5V525.3H507.7V529.3H532.7" fill="none" stroke="#e8402a" stroke-width="1.05" stroke-opacity="1"/><line x1="556.6" y1="539.1" x2="556.6" y2="604.9" stroke="#4cbc4c" stroke-width="0.95" stroke-dasharray="2.8,2.2" stroke-dashoffset="0"/><line x1="547.1" y1="539.1" x2="547.1" y2="604.9" stroke="#f2a43a" stroke-width="1.6" stroke-dasharray="2.6,2.4" stroke-dashoffset="0"/><line x1="544.8" y1="539.1" x2="544.8" y2="604.9" stroke="#e8402a" stroke-width="1.3" stroke-dasharray="2.6,2.4" stroke-dashoffset="2.5"/><line x1="550.0" y1="539.1" x2="550.0" y2="604.9" stroke="#e8402a" stroke-width="1.3" stroke-dasharray="2.6,2.4" stroke-dashoffset="2.5"/><line x1="543.2" y1="539.1" x2="543.2" y2="604.9" stroke="#22a822" stroke-width="1.6" stroke-dasharray="2.8,2.2" stroke-dashoffset="0"/><path d="M536.2,599.6H545.0V587.3H549.0V590.0H553.0V594.0H557.0V595.9H570.0V597.0H585.0V598.5H605.5" fill="none" stroke="#4cbb4c" stroke-width="1.0" stroke-opacity="1"/><path d="M536.2,599.6H544.5V546.0H548.0V565.0H551.0V585.0H553.5V594.0H556.0V599.6H605.5" fill="none" stroke="#f2a43a" stroke-width="1.0" stroke-opacity="1"/><path d="M536.2,599.6H543.7V544.2H547.5V559.4H550.0V578.2H552.2V591.9H554.5V597.0H557.0V599.6H605.5" fill="none" stroke="#e8402a" stroke-width="1.05" stroke-opacity="1"/>
<defs><clipPath id="cp10"><rect x="27.00" y="116.35" width="69.2" height="67.2"/></clipPath><clipPath id="cp20"><rect x="27.00" y="186.70" width="69.2" height="67.2"/></clipPath><clipPath id="cp21"><rect x="99.75" y="186.70" width="69.2" height="67.2"/></clipPath><clipPath id="cp30"><rect x="27.00" y="257.05" width="69.2" height="67.2"/></clipPath><clipPath id="cp31"><rect x="99.75" y="257.05" width="69.2" height="67.2"/></clipPath><clipPath id="cp32"><rect x="172.50" y="257.05" width="69.2" height="67.2"/></clipPath><clipPath id="cp40"><rect x="27.00" y="327.40" width="69.2" height="67.2"/></clipPath><clipPath id="cp41"><rect x="99.75" y="327.40" width="69.2" height="67.2"/></clipPath><clipPath id="cp42"><rect x="172.50" y="327.40" width="69.2" height="67.2"/></clipPath><clipPath id="cp43"><rect x="245.25" y="327.40" width="69.2" height="67.2"/></clipPath><clipPath id="cp50"><rect x="27.00" y="397.75" width="69.2" height="67.2"/></clipPath><clipPath id="cp51"><rect x="99.75" y="397.75" width="69.2" height="67.2"/></clipPath><clipPath id="cp52"><rect x="172.50" y="397.75" width="69.2" height="67.2"/></clipPath><clipPath id="cp53"><rect x="245.25" y="397.75" width="69.2" height="67.2"/></clipPath><clipPath id="cp54"><rect x="318.00" y="397.75" width="69.2" height="67.2"/></clipPath><clipPath id="cp60"><rect x="27.00" y="468.10" width="69.2" height="67.2"/></clipPath><clipPath id="cp61"><rect x="99.75" y="468.10" width="69.2" height="67.2"/></clipPath><clipPath id="cp62"><rect x="172.50" y="468.10" width="69.2" height="67.2"/></clipPath><clipPath id="cp63"><rect x="245.25" y="468.10" width="69.2" height="67.2"/></clipPath><clipPath id="cp64"><rect x="318.00" y="468.10" width="69.2" height="67.2"/></clipPath><clipPath id="cp65"><rect x="390.75" y="468.10" width="69.2" height="67.2"/></clipPath><clipPath id="cp70"><rect x="27.00" y="538.45" width="69.2" height="67.2"/></clipPath><clipPath id="cp71"><rect x="99.75" y="538.45" width="69.2" height="67.2"/></clipPath><clipPath id="cp72"><rect x="172.50" y="538.45" width="69.2" height="67.2"/></clipPath><clipPath id="cp73"><rect x="245.25" y="538.45" width="69.2" height="67.2"/></clipPath><clipPath id="cp74"><rect x="318.00" y="538.45" width="69.2" height="67.2"/></clipPath><clipPath id="cp75"><rect x="390.75" y="538.45" width="69.2" height="67.2"/></clipPath><clipPath id="cp76"><rect x="463.50" y="538.45" width="69.2" height="67.2"/></clipPath></defs>
<g clip-path="url(#cp10)"><rect x="27.00" y="116.35" width="69.2" height="67.2" fill="url(#spg)" filter="url(#bl)"/><path d="M55.8,186.6 C50.6,182.1 55.4,167.4 55.5,160.0 C55.6,152.6 55.7,146.2 56.3,142.0 C56.9,137.8 57.4,136.5 59.0,135.0 C60.6,133.5 63.3,133.2 66.0,133.0 C68.7,132.8 72.0,133.3 75.0,134.0 C78.0,134.7 82.1,134.3 84.0,137.0 C85.9,139.7 86.0,144.5 86.3,150.0 C86.6,155.5 86.0,163.9 86.0,170.0 C86.0,176.1 91.5,183.8 86.5,186.6 C81.5,189.3 61.0,191.0 55.8,186.6 Z" fill="#d2f0d2" fill-opacity="1"/><path d="M57.5,186.6 C53.2,181.3 57.2,162.6 57.3,155.0 C57.4,147.4 57.3,143.9 58.3,141.0 C59.2,138.1 61.2,138.1 63.0,137.8 C64.8,137.5 67.6,137.6 69.0,139.0 C70.4,140.4 70.3,145.1 71.5,146.0 C72.7,146.9 74.3,144.2 76.0,144.5 C77.7,144.8 80.3,145.4 81.5,148.0 C82.7,150.6 82.8,155.5 83.0,160.0 C83.2,164.5 82.5,170.6 82.5,175.0 C82.5,179.4 87.2,184.6 83.0,186.6 C78.8,188.5 61.8,191.8 57.5,186.6 Z" fill="#a7e3a7" fill-opacity="1"/><path d="M59.3,186.6 C57.4,182.1 58.8,167.3 58.8,160.0 C58.8,152.7 58.5,146.4 59.3,143.0 C60.1,139.6 62.0,139.6 63.5,139.3 C65.0,139.0 67.5,139.2 68.5,141.0 C69.5,142.8 69.8,146.0 69.8,150.0 C69.8,154.0 68.7,158.9 68.7,165.0 C68.7,171.1 71.6,183.0 70.0,186.6 C68.4,190.1 61.2,191.0 59.3,186.6 Z" fill="#72d172" fill-opacity="1"/><ellipse cx="76.5" cy="167" rx="2" ry="5" fill="#72d172" fill-opacity="1"/><path d="M60.3,186.6 C59.2,183.8 60.2,174.2 60.5,170.0 C60.8,165.8 61.1,163.1 61.8,161.5 C62.5,159.9 64.0,159.8 64.8,160.5 C65.6,161.2 66.4,163.6 66.6,166.0 C66.8,168.4 65.9,171.6 66.0,175.0 C66.1,178.4 68.0,184.6 67.0,186.6 C66.0,188.5 61.4,189.3 60.3,186.6 Z" fill="#1db51d" fill-opacity="1"/><ellipse cx="64.5" cy="151" rx="1" ry="1" fill="#1db51d" fill-opacity="1"/><ellipse cx="80.5" cy="131" rx="3.5" ry="2.8" fill="#f05a3e" fill-opacity="0.9" transform="rotate(-20 80.5 131)"/><g transform="translate(73.2 133) rotate(-50)"><ellipse rx="8.1" ry="6.1" fill="#f7ac98" fill-opacity=".5"/><ellipse rx="7.3999999999999995" ry="5.3999999999999995" fill="#f0462e" stroke="#dc3520" stroke-width=".7"/><ellipse rx="6.38" ry="4.70" fill="none" stroke="#ffe4d8" stroke-width="0.7" stroke-opacity=".9"/><ellipse rx="5.09" ry="3.75" fill="none" stroke="#fdd0bf" stroke-width="0.6" stroke-opacity=".9"/><ellipse rx="3.80" ry="2.80" fill="none" stroke="#fcc2ae" stroke-width="0.55" stroke-opacity=".9"/><ellipse rx="2.51" ry="1.85" fill="none" stroke="#fbb89e" stroke-width="0.5" stroke-opacity=".9"/><ellipse rx="1.37" ry="1.01" fill="#f26a40"/></g></g><g clip-path="url(#cp20)"><rect x="27.00" y="186.70" width="69.2" height="67.2" fill="url(#spg)" filter="url(#bl)"/><rect x="83" y="200" width="5" height="53.89999999999998" fill="url(#spr)" fill-opacity="0.9" filter="url(#bl)"/><rect x="73" y="245" width="15" height="8.899999999999977" fill="url(#spr)" fill-opacity="0.9" filter="url(#bl)"/><path d="M55.8,256.9 C52.1,254.0 56.2,240.3 56.5,235.0 C56.8,229.7 56.7,220.5 58.0,217.0 C59.3,213.5 63.7,210.9 66.0,209.0 C68.3,207.1 72.7,204.3 75.0,203.0 C77.3,201.7 81.9,199.8 83.2,199.5 C84.5,199.2 84.8,197.6 85.0,201.0 C85.2,204.4 84.7,217.5 84.6,225.0 C84.5,232.5 88.1,252.6 84.3,256.9 C80.5,261.2 59.5,259.8 55.8,256.9 Z" fill="#d2f0d2" fill-opacity="1"/><path d="M57.5,256.9 C55.6,254.0 57.4,239.3 57.6,235.0 C57.8,230.7 58.3,227.4 59.0,225.0 C59.7,222.6 61.5,218.6 63.0,217.0 C64.5,215.4 67.7,214.6 70.0,213.0 C72.3,211.4 78.4,204.9 80.0,205.0 C81.6,205.1 81.8,210.9 82.0,214.0 C82.2,217.1 82.2,225.3 81.4,228.0 C80.6,230.7 77.1,232.7 76.0,234.0 C74.9,235.3 73.4,234.5 72.9,237.6 C72.4,240.7 74.1,254.3 72.0,256.9 C69.9,259.5 59.4,259.8 57.5,256.9 Z" fill="#a7e3a7" fill-opacity="1"/><path d="M58.5,256.9 C57.0,253.6 58.7,236.3 58.8,232.0 C58.9,227.7 59.1,226.6 59.5,225.0 C59.9,223.4 61.0,220.8 62.0,220.0 C63.0,219.2 65.9,218.7 67.0,219.0 C68.1,219.3 69.9,219.9 70.5,222.0 C71.1,224.1 71.6,230.3 71.5,235.0 C71.4,239.7 71.7,254.0 70.0,256.9 C68.3,259.8 60.0,260.2 58.5,256.9 Z" fill="#72d172" fill-opacity="1"/><path d="M65.3,229.0 C66.2,229.3 66.3,233.2 66.0,236.0 C65.7,238.8 64.5,244.8 63.5,245.6 C62.5,246.4 60.7,242.9 60.2,241.0 C59.7,239.1 59.4,236.0 60.3,234.0 C61.1,232.0 64.3,228.7 65.3,229.0 Z" fill="#1db51d" fill-opacity="1"/><g transform="translate(73.6 215.5) rotate(-38)"><ellipse rx="8.7" ry="6.3" fill="#f7ac98" fill-opacity=".5"/><ellipse rx="7.999999999999999" ry="5.6" fill="#f0462e" stroke="#dc3520" stroke-width=".7"/><ellipse rx="6.89" ry="4.87" fill="none" stroke="#ffe4d8" stroke-width="0.7" stroke-opacity=".9"/><ellipse rx="5.49" ry="3.89" fill="none" stroke="#fdd0bf" stroke-width="0.6" stroke-opacity=".9"/><ellipse rx="4.10" ry="2.90" fill="none" stroke="#fcc2ae" stroke-width="0.55" stroke-opacity=".9"/><ellipse rx="2.71" ry="1.91" fill="none" stroke="#fbb89e" stroke-width="0.5" stroke-opacity=".9"/><ellipse rx="1.48" ry="1.04" fill="#f26a40"/></g></g><g clip-path="url(#cp21)"><rect x="99.75" y="186.70" width="69.2" height="67.2" fill="url(#spg)" filter="url(#bl)"/><path d="M99.0,205.0 C102.5,203.6 112.3,204.5 120.0,204.5 C127.7,204.5 139.7,204.6 145.0,205.0 C150.3,205.4 151.2,205.8 152.0,207.0 C152.8,208.2 154.5,211.3 150.0,212.0 C145.5,212.7 133.5,210.8 125.0,211.0 C116.5,211.2 103.3,214.0 99.0,213.0 C94.7,212.0 95.5,206.4 99.0,205.0 Z" fill="url(#sprd)" fill-opacity="0.9" filter="url(#bl)"/><rect x="154" y="215" width="6.5" height="38.89999999999998" fill="url(#sprd)" fill-opacity="0.8" filter="url(#bl)"/><path d="M96.8,256.9 C90.3,251.7 96.0,217.5 96.8,212.0 C97.5,206.5 99.7,210.0 103.0,209.7 C106.3,209.4 119.8,209.7 125.0,209.7 C130.2,209.7 143.9,209.2 147.2,209.7 C150.5,210.2 151.9,212.2 153.0,214.0 C154.1,215.8 156.1,222.0 156.3,225.0 C156.5,228.0 155.5,236.3 155.0,240.0 C154.5,243.7 158.8,254.9 152.0,256.9 C145.2,258.9 103.2,262.1 96.8,256.9 Z" fill="#d2f0d2" fill-opacity="1"/><path d="M96.8,248.0 C96.0,243.7 95.7,222.4 96.8,218.0 C97.8,213.6 102.2,215.7 105.0,215.0 C107.8,214.3 114.8,213.1 117.5,213.0 C120.2,212.9 122.7,213.5 125.0,214.0 C127.3,214.5 133.0,216.2 135.0,217.0 C137.0,217.8 138.5,218.9 140.0,220.0 C141.5,221.1 144.7,223.0 146.0,225.0 C147.3,227.0 149.7,232.3 150.0,235.0 C150.3,237.7 149.3,243.0 148.0,245.0 C146.7,247.0 142.4,248.4 140.0,250.0 C137.6,251.6 134.0,256.0 130.0,256.9 C126.0,257.8 113.7,257.8 110.0,256.9 C106.3,256.0 103.8,251.2 102.0,250.0 C100.2,248.8 97.5,252.3 96.8,248.0 Z" fill="#a7e3a7" fill-opacity="1"/><path d="M96.8,247.0 C95.2,244.2 95.7,228.3 96.8,225.0 C97.8,221.7 103.3,223.1 105.0,222.0 C106.7,220.9 107.8,217.6 109.5,217.0 C111.2,216.4 115.9,217.2 118.0,217.5 C120.1,217.8 123.1,218.4 125.0,219.0 C126.9,219.6 130.7,220.5 132.0,222.0 C133.3,223.5 135.3,228.3 135.0,230.0 C134.7,231.7 131.3,233.7 130.0,235.0 C128.7,236.3 126.6,238.9 125.0,240.0 C123.4,241.1 120.3,242.2 118.0,243.0 C115.7,243.8 110.8,245.5 108.0,246.0 C105.2,246.5 98.2,249.8 96.8,247.0 Z" fill="#72d172" fill-opacity="1"/><path d="M103.8,233.0 C104.4,231.5 105.6,229.5 107.0,229.0 C108.4,228.5 110.8,228.8 112.0,230.0 C113.2,231.2 114.1,233.8 114.1,236.0 C114.1,238.2 113.3,242.1 112.0,243.3 C110.7,244.5 107.4,243.9 106.0,243.0 C104.6,242.1 103.9,239.7 103.5,238.0 C103.1,236.3 103.2,234.5 103.8,233.0 Z" fill="#1db51d" fill-opacity="1"/><path d="M96.8,225.0 C97.5,223.8 100.0,224.8 101.0,225.5 C102.0,226.2 103.0,227.8 103.0,229.0 C103.0,230.2 102.0,232.3 101.0,233.0 C100.0,233.7 97.5,234.3 96.8,233.0 C96.0,231.7 96.0,226.2 96.8,225.0 Z" fill="#1db51d" fill-opacity="1"/><ellipse cx="124.4" cy="222.8" rx="2.4" ry="2" fill="#1db51d" fill-opacity="1"/><ellipse cx="120.4" cy="235.9" rx="2.4" ry="2.2" fill="#1db51d" fill-opacity="1"/><ellipse cx="133" cy="232" rx="1.6" ry="1.2" fill="#ffffff" fill-opacity="0.5"/><g transform="translate(152.5 215) rotate(-45)"><ellipse rx="7.5" ry="6.8" fill="#f7ac98" fill-opacity=".5"/><ellipse rx="6.8" ry="6.1" fill="#f0462e" stroke="#dc3520" stroke-width=".7"/><ellipse rx="5.88" ry="5.29" fill="none" stroke="#ffe4d8" stroke-width="0.7" stroke-opacity=".9"/><ellipse rx="4.69" ry="4.22" fill="none" stroke="#fdd0bf" stroke-width="0.6" stroke-opacity=".9"/><ellipse rx="3.50" ry="3.15" fill="none" stroke="#fcc2ae" stroke-width="0.55" stroke-opacity=".9"/><ellipse rx="2.31" ry="2.08" fill="none" stroke="#fbb89e" stroke-width="0.5" stroke-opacity=".9"/><ellipse rx="1.26" ry="1.13" fill="#f26a40"/></g></g><g clip-path="url(#cp30)"><rect x="27.00" y="257.05" width="69.2" height="67.2" fill="url(#spg)" filter="url(#bl)"/><path d="M60.0,284.0 C61.7,282.7 66.3,281.8 70.0,281.0 C73.7,280.2 79.2,278.8 82.0,279.0 C84.8,279.2 86.7,280.5 87.0,282.0 C87.3,283.5 86.8,287.2 84.0,288.0 C81.2,288.8 74.0,286.8 70.0,287.0 C66.0,287.2 61.7,289.5 60.0,289.0 C58.3,288.5 58.3,285.3 60.0,284.0 Z" fill="url(#sprd)" fill-opacity="0.9" filter="url(#bl)"/><path d="M56.5,327.2 C52.8,322.9 56.2,300.2 56.5,295.0 C56.8,289.8 57.6,289.2 59.0,288.0 C60.4,286.8 64.7,286.4 67.0,286.0 C69.3,285.6 74.1,285.3 76.0,285.0 C77.9,284.7 79.9,283.2 81.0,283.5 C82.1,283.8 83.5,284.8 84.0,287.0 C84.5,289.2 84.3,294.6 84.4,300.0 C84.5,305.4 88.3,323.6 84.6,327.2 C80.9,330.9 60.2,331.5 56.5,327.2 Z" fill="#d2f0d2" fill-opacity="1"/><path d="M57.5,327.2 C56.1,322.9 57.2,300.1 57.5,295.0 C57.8,289.9 58.9,289.8 60.0,289.0 C61.1,288.2 64.9,287.4 66.0,288.9 C67.1,290.4 67.7,294.9 68.0,300.0 C68.3,305.1 69.3,323.6 67.9,327.2 C66.5,330.9 58.9,331.5 57.5,327.2 Z" fill="#72d172" fill-opacity="1"/><ellipse cx="80" cy="287.5" rx="3" ry="2.5" fill="#a7e3a7" fill-opacity="1"/><path d="M62.0,298.4 C62.9,297.7 64.4,297.9 65.0,299.0 C65.6,300.1 65.7,303.2 65.5,305.0 C65.3,306.8 64.8,309.3 64.0,310.0 C63.2,310.7 61.2,310.2 60.5,309.0 C59.8,307.8 59.6,304.8 59.9,303.0 C60.1,301.2 61.1,299.1 62.0,298.4 Z" fill="#1db51d" fill-opacity="1"/><ellipse cx="63.2" cy="320" rx="1.2" ry="3.5" fill="#1db51d" fill-opacity="1" transform="rotate(20 63.2 320)"/><path d="M66.7,326.2 V290.7 A7.2,7.2 0 0 1 81.2,290.7 V326.2 Z" fill="#f7a890"/><path d="M67.9,326.2 V292.2 A6.0,6.0 0 0 1 80.0,292.2 V326.2 Z" fill="#f0553a" stroke="#e03c24" stroke-width="0.8"/><path d="M68.9,326.2 V292.2 A5.1,5.1 0 0 1 79.0,292.2 V326.2" fill="none" stroke="#fbb9a2" stroke-width="0.55" stroke-opacity=".9"/><path d="M70.2,326.2 V292.2 A3.8,3.8 0 0 1 77.7,292.2 V326.2" fill="none" stroke="#fbb9a2" stroke-width="0.45" stroke-opacity=".9"/><path d="M71.5,326.2 V292.2 A2.4,2.4 0 0 1 76.4,292.2 V326.2" fill="none" stroke="#fbb9a2" stroke-width="0.4" stroke-opacity=".9"/><ellipse cx="74" cy="294.5" rx="2" ry="4" fill="#ea2c1e" fill-opacity="0.75"/></g><g clip-path="url(#cp31)"><rect x="99.75" y="257.05" width="69.2" height="67.2" fill="url(#spg)" filter="url(#bl)"/><path d="M96.8,279.0 C100.6,277.5 111.6,278.5 120.0,278.5 C128.4,278.5 142.0,278.2 147.0,279.0 C152.0,279.8 150.0,281.7 150.0,283.0 C150.0,284.3 152.0,286.3 147.0,287.0 C142.0,287.7 128.4,286.9 120.0,287.0 C111.6,287.1 100.6,288.8 96.8,287.5 C92.9,286.2 92.9,280.5 96.8,279.0 Z" fill="url(#sprd)" fill-opacity="1" filter="url(#bl)"/><path d="M96.8,327.2 C94.2,325.2 95.3,287.9 96.8,285.8 C98.2,283.7 122.5,285.8 125.0,285.8 C127.5,285.8 146.6,283.7 147.7,285.8 C148.8,287.9 150.2,325.2 147.7,327.2 C145.2,329.3 99.3,329.3 96.8,327.2 Z" fill="#d2f0d2" fill-opacity="1"/><path d="M96.8,327.2 C92.3,322.9 95.2,294.6 96.8,290.3 C98.3,286.0 107.3,290.1 110.0,290.0 C112.7,289.9 117.9,289.4 120.0,289.5 C122.1,289.6 126.3,290.4 128.0,291.0 C129.7,291.6 133.2,294.9 134.6,295.0 C136.0,295.1 138.8,292.2 140.0,292.0 C141.2,291.8 144.3,291.5 144.9,293.0 C145.5,294.5 145.7,302.8 144.9,305.0 C144.1,307.2 138.6,310.2 138.0,312.0 C137.4,313.8 140.3,318.2 140.0,320.0 C139.7,321.8 140.0,326.4 135.0,327.2 C130.0,328.1 101.2,331.6 96.8,327.2 Z" fill="#a7e3a7" fill-opacity="1"/><path d="M96.8,327.2 C94.0,324.0 95.8,302.5 96.8,299.0 C97.7,295.5 103.2,297.4 105.0,297.2 C106.8,297.0 110.2,296.8 112.0,297.0 C113.8,297.2 118.4,298.8 120.0,299.0 C121.6,299.2 124.6,298.8 126.0,299.0 C127.4,299.2 130.9,299.9 132.0,301.0 C133.1,302.1 135.2,306.6 135.0,308.0 C134.8,309.4 131.1,311.8 130.0,313.0 C128.9,314.2 127.2,316.3 126.0,318.0 C124.8,319.7 123.4,326.2 120.0,327.2 C116.6,328.3 99.5,330.5 96.8,327.2 Z" fill="#72d172" fill-opacity="1"/><ellipse cx="108.4" cy="306.3" rx="3" ry="2.3" fill="#1db51d" fill-opacity="1" transform="rotate(-30 108.4 306.3)"/><path d="M115.0,304.0 C115.3,301.1 117.3,302.3 118.0,302.5 C118.7,302.7 120.8,304.9 121.0,306.0 C121.2,307.1 119.9,310.6 120.0,312.0 C120.1,313.4 122.2,316.9 122.0,318.0 C121.8,319.1 119.2,321.0 118.0,321.0 C116.8,321.0 113.4,318.5 112.0,318.0 C110.6,317.5 107.3,317.0 106.0,317.0 C104.7,317.0 102.1,317.6 101.0,318.0 C99.9,318.4 97.2,318.9 96.8,320.0 C96.3,321.1 94.6,326.4 96.8,327.2 C98.9,328.1 112.9,330.0 115.0,327.2 C117.1,324.5 114.7,306.9 115.0,304.0 Z" fill="#1db51d" fill-opacity="1"/><path d="M146.0,326.2 V286.6 A6.3,6.3 0 0 1 158.6,286.6 V326.2 Z" fill="#f7a890"/><path d="M147.2,326.2 V288.1 A5.1,5.1 0 0 1 157.4,288.1 V326.2 Z" fill="#f0553a" stroke="#e03c24" stroke-width="0.8"/><path d="M148.0,326.2 V288.1 A4.3,4.3 0 0 1 156.6,288.1 V326.2" fill="none" stroke="#fbb9a2" stroke-width="0.55" stroke-opacity=".9"/><path d="M149.1,326.2 V288.1 A3.2,3.2 0 0 1 155.5,288.1 V326.2" fill="none" stroke="#fbb9a2" stroke-width="0.45" stroke-opacity=".9"/><path d="M150.3,326.2 V288.1 A2.0,2.0 0 0 1 154.3,288.1 V326.2" fill="none" stroke="#fbb9a2" stroke-width="0.4" stroke-opacity=".9"/><ellipse cx="152.3" cy="293" rx="2" ry="4" fill="#ea2c1e" fill-opacity="0.75"/></g><g clip-path="url(#cp32)"><rect x="172.50" y="257.05" width="69.2" height="67.2" fill="url(#spg)" filter="url(#bl)"/><path d="M171.0,286.0 C173.3,283.7 180.2,280.6 185.0,279.0 C189.8,277.4 195.3,277.0 200.0,276.5 C204.7,276.0 210.5,274.8 213.0,276.0 C215.5,277.2 217.2,282.6 215.0,284.0 C212.8,285.4 205.0,284.0 200.0,284.5 C195.0,285.0 189.8,285.6 185.0,287.0 C180.2,288.4 173.3,293.2 171.0,293.0 C168.7,292.8 168.7,288.3 171.0,286.0 Z" fill="url(#sprd)" fill-opacity="1" filter="url(#bl)"/><rect x="216.5" y="280" width="5.5" height="42" fill="url(#sprd)" fill-opacity="0.8" filter="url(#bl)"/><path d="M169.5,327.2 C164.4,322.2 168.1,295.1 169.5,289.5 C170.9,283.9 177.3,285.9 180.0,285.0 C182.7,284.1 187.3,283.0 190.0,282.5 C192.7,282.0 197.7,281.6 200.0,281.5 C202.3,281.4 206.6,275.9 207.6,282.0 C208.6,288.1 212.7,321.2 207.6,327.2 C202.5,333.3 174.6,332.3 169.5,327.2 Z" fill="#d2f0d2" fill-opacity="1"/><path d="M169.5,327.2 C166.0,323.3 168.1,302.6 169.5,298.0 C170.9,293.4 177.3,294.0 180.0,293.0 C182.7,292.0 187.3,290.9 190.0,290.5 C192.7,290.1 197.7,289.8 200.0,290.0 C202.3,290.2 206.1,290.4 207.0,292.0 C207.9,293.6 207.9,300.1 207.0,302.0 C206.1,303.9 201.5,304.7 200.0,306.0 C198.5,307.3 196.0,310.4 196.0,312.0 C196.0,313.6 200.0,316.0 200.0,318.0 C200.0,320.0 200.1,326.0 196.0,327.2 C191.9,328.5 173.0,331.1 169.5,327.2 Z" fill="#a7e3a7" fill-opacity="1"/><path d="M176.0,327.2 C172.4,324.5 175.5,310.6 176.0,307.0 C176.5,303.4 178.4,301.5 180.0,300.0 C181.6,298.5 186.0,296.4 188.0,296.0 C190.0,295.6 193.4,296.5 195.0,297.0 C196.6,297.5 198.9,298.5 200.0,300.0 C201.1,301.5 202.3,305.9 203.0,308.0 C203.7,310.1 205.0,313.4 205.0,316.0 C205.0,318.6 206.9,325.7 203.0,327.2 C199.1,328.7 179.6,329.9 176.0,327.2 Z" fill="#72d172" fill-opacity="1"/><path d="M187.0,300.0 C187.3,299.4 190.2,299.0 191.0,299.5 C191.8,300.0 194.2,305.1 195.0,305.0 C195.8,304.9 198.1,299.1 199.0,298.5 C199.9,297.9 203.7,298.1 204.0,298.5 C204.3,298.9 202.8,301.8 202.0,303.0 C201.2,304.2 197.1,309.9 196.0,310.5 C194.9,311.1 191.8,309.6 191.0,309.0 C190.2,308.4 188.4,305.9 188.0,305.0 C187.6,304.1 186.7,300.6 187.0,300.0 Z" fill="#1db51d" fill-opacity="1"/><ellipse cx="186" cy="314.5" rx="2" ry="1.2" fill="#1db51d" fill-opacity="1"/><ellipse cx="187.5" cy="321.5" rx="2" ry="2.5" fill="#1db51d" fill-opacity="1"/><ellipse cx="214.5" cy="283.5" rx="1.5" ry="3" fill="#f05a3e" fill-opacity="1"/><path d="M206.4,326.2 V289.9 A5.7,5.7 0 0 1 217.9,289.9 V326.2 Z" fill="#f7a890"/><path d="M207.6,326.2 V291.4 A4.5,4.5 0 0 1 216.7,291.4 V326.2 Z" fill="#f0553a" stroke="#e03c24" stroke-width="0.8"/><path d="M208.3,326.2 V291.4 A3.8,3.8 0 0 1 216.0,291.4 V326.2" fill="none" stroke="#fbb9a2" stroke-width="0.55" stroke-opacity=".9"/><path d="M209.3,326.2 V291.4 A2.8,2.8 0 0 1 215.0,291.4 V326.2" fill="none" stroke="#fbb9a2" stroke-width="0.45" stroke-opacity=".9"/><path d="M210.3,326.2 V291.4 A1.8,1.8 0 0 1 214.0,291.4 V326.2" fill="none" stroke="#fbb9a2" stroke-width="0.4" stroke-opacity=".9"/><ellipse cx="212" cy="295" rx="2" ry="4" fill="#ea2c1e" fill-opacity="0.75"/></g><g clip-path="url(#cp40)"><rect x="27.00" y="327.40" width="69.2" height="67.2" fill="url(#spg)" filter="url(#bl)"/><ellipse cx="83.5" cy="358" rx="1.3" ry="2.5" fill="#f06a50" fill-opacity="1"/><path d="M56.0,397.6 C52.7,392.3 55.6,358.0 56.0,352.0 C56.4,346.0 57.4,346.8 59.0,346.0 C60.6,345.2 67.5,345.4 70.0,345.4 C72.5,345.4 78.4,345.3 80.0,346.0 C81.6,346.7 83.5,345.0 84.0,351.0 C84.5,357.0 87.3,392.2 84.0,397.6 C80.7,403.0 59.3,402.9 56.0,397.6 Z" fill="#d2f0d2" fill-opacity="1"/><path d="M57.0,397.6 C55.2,392.5 56.5,359.4 57.0,354.0 C57.5,348.6 59.5,351.4 61.0,351.0 C62.5,350.6 68.7,350.3 70.0,351.0 C71.3,351.7 72.2,351.6 72.5,357.0 C72.8,362.4 74.3,392.9 72.5,397.6 C70.7,402.3 58.8,402.7 57.0,397.6 Z" fill="#a7e3a7" fill-opacity="1"/><path d="M77.5,397.6 C76.7,391.0 77.8,365.1 78.5,358.0 C79.2,350.9 81.2,354.3 82.0,355.0 C82.8,355.7 83.2,354.9 83.5,362.0 C83.8,369.1 84.5,391.7 83.5,397.6 C82.5,403.5 78.3,404.2 77.5,397.6 Z" fill="#a7e3a7" fill-opacity="1"/><path d="M58.0,397.6 C56.8,392.3 57.6,363.6 58.0,358.0 C58.4,352.4 59.9,355.6 61.0,355.5 C62.1,355.4 65.1,355.1 66.0,357.0 C66.9,358.9 67.4,364.6 67.5,370.0 C67.6,375.4 68.3,393.9 67.0,397.6 C65.7,401.3 59.2,402.9 58.0,397.6 Z" fill="#72d172" fill-opacity="1"/><path d="M60.4,383.0 C59.4,380.5 60.0,371.7 60.2,368.0 C60.4,364.3 60.8,362.2 61.5,361.0 C62.2,359.8 63.6,359.7 64.5,360.5 C65.4,361.3 66.5,362.2 66.8,366.0 C67.1,369.8 67.3,380.2 66.2,383.0 C65.1,385.8 61.4,385.5 60.4,383.0 Z" fill="#1db51d" fill-opacity="1"/><path d="M72.0,374.0 L75.5,374.0 L75.8,397.6 L72.2,397.6 Z" fill="#f7dba8" fill-opacity="1"/><path d="M72,375 V397.59999999999997 M75.6,375 V397.59999999999997" stroke="#f0a060" stroke-width=".6"/><g transform="translate(73.8 368) rotate(-50)"><ellipse rx="9.1" ry="6.9" fill="#f7ac98" fill-opacity=".5"/><ellipse rx="8.4" ry="6.2" fill="#f0462e" stroke="#dc3520" stroke-width=".7"/><ellipse rx="7.22" ry="5.38" fill="none" stroke="#ffe4d8" stroke-width="0.7" stroke-opacity=".9"/><ellipse rx="5.76" ry="4.29" fill="none" stroke="#fdd0bf" stroke-width="0.6" stroke-opacity=".9"/><ellipse rx="4.30" ry="3.20" fill="none" stroke="#fcc2ae" stroke-width="0.55" stroke-opacity=".9"/><ellipse rx="2.84" ry="2.11" fill="none" stroke="#fbb89e" stroke-width="0.5" stroke-opacity=".9"/><ellipse rx="1.55" ry="1.15" fill="#f26a40"/></g></g><g clip-path="url(#cp41)"><rect x="99.75" y="327.40" width="69.2" height="67.2" fill="url(#spg)" filter="url(#bl)"/><rect x="148" y="352" width="12" height="8" fill="url(#spr)" fill-opacity="0.8" filter="url(#bl)"/><path d="M96.8,397.6 C93.2,394.2 94.9,350.6 96.8,347.2 C98.6,343.8 121.5,347.2 125.0,347.2 C128.5,347.2 147.8,344.1 149.5,347.5 C151.2,350.9 153.5,394.3 150.0,397.6 C146.5,400.9 100.3,401.0 96.8,397.6 Z" fill="#d2f0d2" fill-opacity="1"/><path d="M96.8,397.6 C91.1,392.3 95.2,357.5 96.8,352.0 C98.3,346.5 107.3,350.6 110.0,350.5 C112.7,350.4 117.7,350.8 120.0,351.0 C122.3,351.2 127.7,352.1 130.0,352.5 C132.3,352.9 138.5,353.1 140.0,354.0 C141.5,354.9 142.4,358.1 143.0,360.0 C143.6,361.9 144.7,365.6 144.9,370.0 C145.1,374.4 150.5,394.4 144.9,397.6 C139.3,400.8 102.4,402.9 96.8,397.6 Z" fill="#a7e3a7" fill-opacity="1"/><path d="M96.8,386.0 C94.3,382.3 95.0,360.3 96.8,356.0 C98.5,351.7 107.2,354.3 110.0,354.0 C112.8,353.7 116.0,353.6 118.0,354.0 C120.0,354.4 123.0,356.5 125.0,357.0 C127.0,357.5 131.3,356.9 133.0,358.0 C134.7,359.1 137.1,362.7 138.0,365.0 C138.9,367.3 140.7,373.0 140.0,375.0 C139.3,377.0 135.0,379.1 133.0,380.0 C131.0,380.9 127.4,381.5 125.0,382.0 C122.6,382.5 118.8,383.5 115.0,384.0 C111.2,384.5 99.2,389.7 96.8,386.0 Z" fill="#72d172" fill-opacity="1"/><path d="M110.0,394.6 C111.1,393.1 115.3,387.3 118.0,386.0 C120.7,384.7 127.6,384.5 130.0,385.0 C132.4,385.5 135.3,388.3 136.0,390.0 C136.7,391.7 138.5,396.6 135.0,397.6 C131.5,398.6 113.3,398.0 110.0,397.6 C106.7,397.2 108.9,396.1 110.0,394.6 Z" fill="#72d172" fill-opacity="1"/><path d="M96.8,361.0 C97.8,359.5 103.0,360.8 105.0,361.5 C107.0,362.2 110.0,364.9 112.0,366.0 C114.0,367.1 118.3,368.3 120.0,369.5 C121.7,370.7 124.4,373.8 124.4,375.0 C124.4,376.2 121.9,378.5 120.0,378.6 C118.1,378.7 113.1,376.7 110.0,376.0 C106.9,375.3 98.5,375.0 96.8,373.0 C95.0,371.0 95.7,362.5 96.8,361.0 Z" fill="#1db51d" fill-opacity="1"/><ellipse cx="119.2" cy="358" rx="0.8" ry="2.2" fill="#1db51d" fill-opacity="1"/><path d="M153.0,374.0 L157.0,374.0 L157.3,397.6 L153.5,397.6 Z" fill="#f7dba8" fill-opacity="1"/><path d="M153.2,375 V397.59999999999997 M157,375 V397.59999999999997" stroke="#f0a060" stroke-width=".6"/><path d="M148.2,386.0 L151.5,381.0 L152.3,397.6 L148.0,397.6 Z" fill="#e63a24" fill-opacity="1"/><g transform="translate(152.2 366.7) rotate(-60)"><ellipse rx="9.5" ry="7.1" fill="#f7ac98" fill-opacity=".5"/><ellipse rx="8.8" ry="6.3999999999999995" fill="#f0462e" stroke="#dc3520" stroke-width=".7"/><ellipse rx="7.56" ry="5.54" fill="none" stroke="#ffe4d8" stroke-width="0.7" stroke-opacity=".9"/><ellipse rx="6.03" ry="4.42" fill="none" stroke="#fdd0bf" stroke-width="0.6" stroke-opacity=".9"/><ellipse rx="4.50" ry="3.30" fill="none" stroke="#fcc2ae" stroke-width="0.55" stroke-opacity=".9"/><ellipse rx="2.97" ry="2.18" fill="none" stroke="#fbb89e" stroke-width="0.5" stroke-opacity=".9"/><ellipse rx="1.62" ry="1.19" fill="#f26a40"/></g></g><g clip-path="url(#cp42)"><rect x="172.50" y="327.40" width="69.2" height="67.2" fill="url(#spg)" filter="url(#bl)"/><path d="M169.5,397.6 C164.8,392.6 167.4,353.0 169.5,348.0 C171.6,343.0 186.2,347.8 190.0,347.8 C193.8,347.9 204.6,348.1 207.0,348.5 C209.4,348.9 213.0,349.9 213.9,352.0 C214.8,354.1 215.8,365.4 216.0,370.0 C216.2,374.6 220.7,394.8 216.0,397.6 C211.3,400.4 174.2,402.6 169.5,397.6 Z" fill="#d2f0d2" fill-opacity="1"/><path d="M176.0,376.0 C174.7,372.8 175.1,359.5 176.0,356.0 C176.9,352.5 180.5,350.8 183.0,350.0 C185.5,349.2 192.1,349.6 195.0,350.0 C197.9,350.4 203.0,351.9 205.0,353.0 C207.0,354.1 209.7,355.7 210.0,358.0 C210.3,360.3 207.7,367.1 207.0,370.0 C206.3,372.9 205.9,376.3 205.0,380.0 C204.1,383.7 202.4,395.3 200.0,397.6 C197.6,399.9 188.9,399.9 187.0,397.6 C185.1,395.3 187.5,382.9 186.0,380.0 C184.5,377.1 177.3,379.2 176.0,376.0 Z" fill="#a7e3a7" fill-opacity="1"/><path d="M180.0,368.0 C179.3,365.6 178.7,359.0 180.0,357.0 C181.3,355.0 187.3,353.1 190.0,353.0 C192.7,352.9 198.0,354.4 200.0,356.0 C202.0,357.6 204.6,362.5 205.0,365.0 C205.4,367.5 203.9,372.3 203.0,375.0 C202.1,377.7 199.7,384.1 198.0,385.0 C196.3,385.9 191.7,383.3 190.0,382.0 C188.3,380.7 186.3,376.9 185.0,375.0 C183.7,373.1 180.7,370.4 180.0,368.0 Z" fill="#72d172" fill-opacity="1"/><path d="M186.0,360.0 C186.3,359.4 192.8,361.3 194.0,362.0 C195.2,362.7 200.0,367.2 200.0,368.0 C200.0,368.8 194.2,370.2 194.0,371.0 C193.8,371.8 198.5,376.6 198.0,377.0 C197.5,377.4 188.7,376.7 188.0,376.0 C187.3,375.3 190.2,370.3 190.0,369.0 C189.8,367.7 185.7,360.6 186.0,360.0 Z" fill="#1db51d" fill-opacity="1"/><ellipse cx="183.2" cy="364" rx="2.5" ry="1.3" fill="#1db51d" fill-opacity="1"/><path d="M204.0,377.0 C204.8,375.7 206.7,376.8 207.5,378.0 C208.3,379.2 209.1,382.2 208.8,384.0 C208.6,385.8 207.0,388.7 206.0,389.0 C205.0,389.3 203.3,388.0 203.0,386.0 C202.7,384.0 203.2,378.3 204.0,377.0 Z" fill="#1db51d" fill-opacity="1"/><path d="M210.5,374.0 L214.0,374.0 L214.5,397.6 L210.5,397.6 Z" fill="#f7dba8" fill-opacity="1"/><path d="M210.6,375 V397.59999999999997 M214.3,375 V397.59999999999997" stroke="#f0a060" stroke-width=".6"/><path d="M217.5,385.0 L219.5,383.0 L220.5,397.6 L217.5,397.6 Z" fill="#f39a70" fill-opacity="1"/><path d="M213.0,361.0 L216.0,353.0 L218.5,352.0 L218.0,360.0 L215.0,365.0 Z" fill="#ee4a30" fill-opacity="1"/><g transform="translate(212.4 367.2) rotate(-65)"><ellipse rx="9.0" ry="6.5" fill="#f7ac98" fill-opacity=".5"/><ellipse rx="8.3" ry="5.8" fill="#f0462e" stroke="#dc3520" stroke-width=".7"/><ellipse rx="7.14" ry="5.04" fill="none" stroke="#ffe4d8" stroke-width="0.7" stroke-opacity=".9"/><ellipse rx="5.70" ry="4.02" fill="none" stroke="#fdd0bf" stroke-width="0.6" stroke-opacity=".9"/><ellipse rx="4.25" ry="3.00" fill="none" stroke="#fcc2ae" stroke-width="0.55" stroke-opacity=".9"/><ellipse rx="2.81" ry="1.98" fill="none" stroke="#fbb89e" stroke-width="0.5" stroke-opacity=".9"/><ellipse rx="1.53" ry="1.08" fill="#f26a40"/></g></g><g clip-path="url(#cp43)"><rect x="245.25" y="327.40" width="69.2" height="67.2" fill="url(#spg)" filter="url(#bl)"/><rect x="283" y="350" width="8" height="47.599999999999966" fill="url(#spr)" fill-opacity="1" filter="url(#bl)"/><ellipse cx="286" cy="378" rx="2.5" ry="3" fill="#f6b48c" fill-opacity="1"/><ellipse cx="284" cy="390" rx="2" ry="3" fill="#f6b48c" fill-opacity="1"/><path d="M242.2,397.6 C236.3,391.3 240.6,357.0 242.2,350.0 C243.9,343.0 252.0,345.7 255.0,345.0 C258.0,344.3 262.3,344.3 265.0,344.4 C267.7,344.5 272.6,345.3 275.0,346.0 C277.4,346.7 281.5,348.4 283.0,350.0 C284.5,351.6 285.8,351.7 286.3,358.0 C286.8,364.3 292.9,392.3 287.0,397.6 C281.1,402.9 248.2,403.9 242.2,397.6 Z" fill="#d2f0d2" fill-opacity="1"/><path d="M242.2,362.0 C238.4,361.0 241.0,352.2 242.2,351.0 C243.5,349.8 252.7,349.6 255.0,349.5 C257.3,349.4 263.0,350.3 265.0,350.5 C267.0,350.7 273.5,351.2 275.0,351.5 C276.5,351.8 279.4,352.1 280.0,353.0 C280.6,353.9 284.8,360.1 281.0,361.0 C277.2,361.9 246.1,363.0 242.2,362.0 Z" fill="#a7e3a7" fill-opacity="1"/><path d="M242.2,362.0 C240.3,361.1 241.0,353.9 242.2,353.0 C243.5,352.1 253.0,352.3 255.0,352.5 C257.0,352.7 261.3,354.1 262.0,355.0 C262.7,355.9 264.0,361.3 262.0,362.0 C260.0,362.7 244.2,362.9 242.2,362.0 Z" fill="#72d172" fill-opacity="1"/><ellipse cx="276.6" cy="354" rx="2.5" ry="2.3" fill="#72d172" fill-opacity="1"/><path d="M242.2,397.6 C238.2,396.1 241.0,384.4 242.2,383.0 C243.5,381.6 252.7,383.8 255.0,384.0 C257.3,384.2 263.0,385.5 265.0,385.5 C267.0,385.5 273.3,383.9 275.0,384.0 C276.7,384.1 281.2,384.6 282.0,386.0 C282.8,387.4 287.0,396.4 283.0,397.6 C279.0,398.8 246.3,399.1 242.2,397.6 Z" fill="#a7e3a7" fill-opacity="1"/><path d="M254.0,397.6 C252.5,396.6 254.2,389.2 255.0,388.0 C255.8,386.8 260.5,385.9 262.0,386.0 C263.5,386.1 269.2,387.8 270.0,389.0 C270.8,390.2 271.6,396.7 270.0,397.6 C268.4,398.5 255.5,398.6 254.0,397.6 Z" fill="#72d172" fill-opacity="1"/><ellipse cx="261.5" cy="388.5" rx="1.8" ry="1.3" fill="#1db51d" fill-opacity="1"/><path d="M242.2,372.0 C246.2,370.8 277.8,371.4 281.8,372.0 C285.8,372.6 282.4,377.1 282.0,378.0 C281.6,378.9 279.2,380.7 278.0,381.0 C276.8,381.3 271.2,381.1 270.0,381.4 C268.8,381.6 266.6,383.5 265.8,383.5 C265.0,383.5 263.2,381.1 262.0,381.0 C260.8,380.9 255.4,381.7 254.0,382.0 C252.6,382.3 249.2,383.8 248.0,384.0 C246.8,384.2 242.8,385.2 242.2,384.0 C241.7,382.8 238.3,373.2 242.2,372.0 Z" fill="#f7dba8" fill-opacity="1"/><path d="M243.2,359.7 H278.3 A8.1,8.1 0 0 1 278.3,375.8 H243.2 Z" fill="#f7b09c"/><path d="M243.2,360.9 H278.3 A6.9,6.9 0 0 1 278.3,374.6 H243.2 Z" fill="#f15c3e" stroke="#e03c24" stroke-width="0.8"/><path d="M243.2,362.0 H278.3 A5.8,5.8 0 0 1 278.3,373.5 H243.2" fill="none" stroke="#ffd8c8" stroke-width="0.6" stroke-opacity=".9"/><path d="M243.2,363.2 H278.3 A4.5,4.5 0 0 1 278.3,372.3 H243.2" fill="none" stroke="#ffd8c8" stroke-width="0.5" stroke-opacity=".9"/><path d="M243.2,364.5 H278.3 A3.3,3.3 0 0 1 278.3,371.0 H243.2" fill="none" stroke="#ffd8c8" stroke-width="0.45" stroke-opacity=".9"/><path d="M243.2,365.7 H278.3 A2.1,2.1 0 0 1 278.3,369.8 H243.2" fill="none" stroke="#ffd8c8" stroke-width="0.4" stroke-opacity=".9"/><ellipse cx="276" cy="367.8" rx="4" ry="2.4" fill="#e42a1c" fill-opacity="0.6"/></g><g clip-path="url(#cp50)"><rect x="27.00" y="397.75" width="69.2" height="67.2" fill="url(#spg)" filter="url(#bl)"/><rect x="80" y="398" width="6" height="27" fill="url(#spr)" fill-opacity="1" filter="url(#bl)"/><path d="M55.2,467.9 C52.3,462.2 55.2,417.3 55.2,410.0 C55.2,402.7 54.6,396.3 55.5,394.8 C56.4,393.2 63.2,393.2 64.3,394.8 C65.3,396.3 65.4,408.1 66.0,410.0 C66.6,411.9 69.0,413.4 70.0,414.0 C71.0,414.6 74.8,415.6 76.0,416.0 C77.2,416.4 81.2,417.1 82.0,418.0 C82.8,418.9 84.1,420.0 84.3,425.0 C84.5,430.0 87.2,463.7 84.3,467.9 C81.4,472.2 58.1,473.7 55.2,467.9 Z" fill="#d2f0d2" fill-opacity="1"/><path d="M57.0,467.9 C54.2,462.4 56.9,427.1 57.0,420.0 C57.1,412.9 57.1,408.9 57.5,407.0 C57.9,405.1 59.5,403.6 60.0,404.0 C60.5,404.4 61.0,408.1 61.5,410.0 C62.0,411.9 63.2,418.0 64.0,420.0 C64.8,422.0 67.1,425.8 68.0,427.0 C68.9,428.2 70.8,429.9 72.0,430.0 C73.2,430.1 77.5,427.8 78.6,428.0 C79.6,428.2 80.6,430.0 81.0,432.0 C81.4,434.0 82.0,440.8 82.0,445.0 C82.0,449.2 83.9,465.3 81.0,467.9 C78.1,470.6 59.8,473.5 57.0,467.9 Z" fill="#a7e3a7" fill-opacity="1"/><path d="M58.0,467.9 C55.6,464.7 57.4,444.4 57.5,440.0 C57.6,435.6 58.1,431.5 58.5,430.0 C58.9,428.5 60.4,427.2 61.0,427.0 C61.6,426.8 63.4,427.1 64.0,428.0 C64.6,428.9 65.3,433.6 66.0,435.0 C66.7,436.4 69.1,438.8 70.0,440.0 C70.9,441.2 73.1,441.7 74.0,445.0 C74.9,448.3 79.9,465.3 78.0,467.9 C76.1,470.6 60.4,471.2 58.0,467.9 Z" fill="#72d172" fill-opacity="1"/><path d="M62.6,467.9 C61.7,465.9 61.5,452.8 61.5,450.0 C61.5,447.2 62.5,444.5 63.0,444.0 C63.5,443.5 65.1,444.7 65.5,446.0 C65.9,447.3 66.1,452.4 66.5,455.0 C66.9,457.6 69.5,466.4 69.0,467.9 C68.5,469.5 63.5,470.0 62.6,467.9 Z" fill="#1db51d" fill-opacity="1"/><g transform="translate(73.7 451.2) rotate(-62)"><ellipse rx="10.5" ry="6.7" fill="#f7ac98" fill-opacity=".5"/><ellipse rx="9.8" ry="6.0" fill="#f0462e" stroke="#dc3520" stroke-width=".7"/><ellipse rx="8.40" ry="5.21" fill="none" stroke="#ffe4d8" stroke-width="0.7" stroke-opacity=".9"/><ellipse rx="6.70" ry="4.15" fill="none" stroke="#fdd0bf" stroke-width="0.6" stroke-opacity=".9"/><ellipse rx="5.00" ry="3.10" fill="none" stroke="#fcc2ae" stroke-width="0.55" stroke-opacity=".9"/><ellipse rx="3.30" ry="2.05" fill="none" stroke="#fbb89e" stroke-width="0.5" stroke-opacity=".9"/><ellipse rx="1.80" ry="1.12" fill="#f26a40"/></g></g><g clip-path="url(#cp51)"><rect x="99.75" y="397.75" width="69.2" height="67.2" fill="url(#spg)" filter="url(#bl)"/><path d="M128.0,405.0 C130.2,402.0 139.7,400.5 145.0,400.0 C150.3,399.5 157.3,397.8 160.0,402.0 C162.7,406.2 161.8,420.7 161.0,425.0 C160.2,429.3 157.7,428.8 155.0,428.0 C152.3,427.2 148.8,421.7 145.0,420.0 C141.2,418.3 134.8,420.5 132.0,418.0 C129.2,415.5 125.8,408.0 128.0,405.0 Z" fill="url(#spr)" fill-opacity="0.65" filter="url(#bl)"/><path d="M96.8,467.9 C90.7,461.4 94.9,409.0 96.8,402.5 C98.6,396.0 111.6,402.4 115.0,402.5 C118.4,402.6 129.5,402.1 131.2,403.0 C132.9,403.9 131.6,410.5 132.0,412.0 C132.4,413.5 133.7,417.3 135.0,418.0 C136.3,418.7 143.3,419.0 145.0,419.0 C146.7,419.0 150.8,417.6 152.0,418.0 C153.2,418.4 156.4,420.8 157.0,423.0 C157.6,425.2 157.5,435.5 157.5,440.0 C157.5,444.5 163.1,465.2 157.0,467.9 C150.9,470.7 102.8,474.5 96.8,467.9 Z" fill="#d2f0d2" fill-opacity="1"/><path d="M96.8,467.9 C90.5,462.9 95.8,430.6 96.8,425.0 C97.7,419.4 103.5,421.4 105.0,420.0 C106.5,418.6 108.6,413.8 109.5,413.0 C110.4,412.2 112.4,412.2 113.0,413.0 C113.6,413.8 113.7,418.6 114.5,420.0 C115.3,421.4 118.8,424.2 120.0,425.0 C121.2,425.8 123.2,427.0 125.0,427.0 C126.8,427.0 132.7,425.1 135.0,425.0 C137.3,424.9 143.5,425.1 145.0,426.0 C146.5,426.9 147.4,431.4 148.0,433.0 C148.6,434.6 149.8,435.9 150.0,440.0 C150.2,444.1 156.2,464.7 150.0,467.9 C143.8,471.2 103.0,473.0 96.8,467.9 Z" fill="#a7e3a7" fill-opacity="1"/><path d="M96.8,467.9 C91.1,464.7 95.8,443.6 96.8,440.0 C97.7,436.4 103.5,437.8 105.0,437.0 C106.5,436.2 108.5,433.6 110.0,433.0 C111.5,432.4 116.2,431.4 118.0,432.0 C119.8,432.6 123.6,437.1 125.0,438.0 C126.4,438.9 128.8,440.0 130.0,440.0 C131.2,440.0 133.8,437.8 135.0,438.0 C136.2,438.2 138.8,440.8 140.0,442.0 C141.2,443.2 144.4,445.0 145.0,448.0 C145.6,451.0 150.6,465.6 145.0,467.9 C139.4,470.3 102.4,471.2 96.8,467.9 Z" fill="#72d172" fill-opacity="1"/><ellipse cx="128.5" cy="427" rx="2.2" ry="1.6" fill="#72d172" fill-opacity="1"/><path d="M96.8,467.9 C93.3,465.2 95.9,446.4 96.8,444.0 C97.6,441.6 102.5,446.1 104.0,447.0 C105.5,447.9 108.5,450.7 110.0,452.0 C111.5,453.3 115.6,456.8 117.0,458.0 C118.4,459.2 121.0,460.8 122.0,462.0 C123.0,463.2 128.9,467.3 126.0,467.9 C123.1,468.6 100.2,470.7 96.8,467.9 Z" fill="#1db51d" fill-opacity="1"/><ellipse cx="120" cy="447" rx="1.8" ry="5.5" fill="#1db51d" fill-opacity="1" transform="rotate(-40 120 447)"/><ellipse cx="113" cy="453" rx="2" ry="1.5" fill="#ffffff" fill-opacity="0.35"/><path d="M155.2,421.0 L156.3,439.0" fill="none" stroke="#ee4a30" stroke-width="1.2" stroke-opacity="1" stroke-linecap="round" stroke-linejoin="round"/><ellipse cx="151.5" cy="465" rx="4" ry="2" fill="#e8402a" fill-opacity="1"/><g transform="translate(151.8 451.5) rotate(-72)"><ellipse rx="10.5" ry="6.3" fill="#f7ac98" fill-opacity=".5"/><ellipse rx="9.8" ry="5.6" fill="#f0462e" stroke="#dc3520" stroke-width=".7"/><ellipse rx="8.40" ry="4.87" fill="none" stroke="#ffe4d8" stroke-width="0.7" stroke-opacity=".9"/><ellipse rx="6.70" ry="3.89" fill="none" stroke="#fdd0bf" stroke-width="0.6" stroke-opacity=".9"/><ellipse rx="5.00" ry="2.90" fill="none" stroke="#fcc2ae" stroke-width="0.55" stroke-opacity=".9"/><ellipse rx="3.30" ry="1.91" fill="none" stroke="#fbb89e" stroke-width="0.5" stroke-opacity=".9"/><ellipse rx="1.80" ry="1.04" fill="#f26a40"/></g></g><g clip-path="url(#cp52)"><rect x="172.50" y="397.75" width="69.2" height="67.2" fill="url(#spg)" filter="url(#bl)"/><rect x="213" y="410" width="9" height="36" fill="url(#spr)" fill-opacity="1" filter="url(#bl)"/><ellipse cx="218" cy="434" rx="1.5" ry="4" fill="#f08070" fill-opacity="1"/><path d="M169.5,467.9 C164.1,461.4 168.3,419.3 169.5,412.0 C170.7,404.7 175.9,406.1 180.0,405.3 C184.1,404.5 201.5,404.2 205.0,405.3 C208.5,406.4 209.0,412.1 210.0,415.0 C211.0,417.9 212.6,423.8 213.3,430.0 C214.0,436.2 220.7,463.5 215.6,467.9 C210.5,472.4 174.9,474.5 169.5,467.9 Z" fill="#d2f0d2" fill-opacity="1"/><path d="M169.5,438.0 C168.7,435.1 167.7,427.3 169.5,425.0 C171.3,422.7 182.0,419.1 185.0,418.0 C188.0,416.9 193.2,415.8 195.0,416.0 C196.8,416.2 198.8,418.9 200.0,420.0 C201.2,421.1 203.8,423.8 205.0,425.0 C206.2,426.2 209.1,428.2 210.0,430.0 C210.9,431.8 212.7,435.6 213.0,440.0 C213.3,444.4 217.3,464.7 213.0,467.9 C208.7,471.2 180.3,470.0 176.0,467.9 C171.7,465.9 176.8,453.5 176.0,450.0 C175.2,446.5 170.3,440.9 169.5,438.0 Z" fill="#a7e3a7" fill-opacity="1"/><path d="M176.0,467.9 C172.0,465.3 175.5,449.4 176.0,445.0 C176.5,440.6 178.4,432.0 180.0,430.0 C181.6,428.0 187.7,427.6 190.0,428.0 C192.3,428.4 198.2,431.6 200.0,433.0 C201.8,434.4 203.8,438.4 205.0,440.0 C206.2,441.6 209.4,443.7 210.0,447.0 C210.6,450.3 214.0,465.5 210.0,467.9 C206.0,470.4 180.0,470.6 176.0,467.9 Z" fill="#72d172" fill-opacity="1"/><ellipse cx="188" cy="434" rx="2" ry="2.5" fill="#1db51d" fill-opacity="1"/><ellipse cx="196" cy="445" rx="3.5" ry="2" fill="#1db51d" fill-opacity="1" transform="rotate(-15 196 445)"/><path d="M192.0,452.0 C193.5,450.5 200.9,445.5 203.0,445.0 C205.1,444.5 209.2,445.3 210.0,448.0 C210.8,450.7 211.8,465.6 210.0,467.9 C208.2,470.3 197.3,469.1 195.0,467.9 C192.7,466.8 190.3,459.9 190.0,458.0 C189.7,456.1 190.5,453.5 192.0,452.0 Z" fill="#1db51d" fill-opacity="1"/><g transform="translate(212.2 451.3) rotate(-75)"><ellipse rx="10.1" ry="6.1" fill="#f7ac98" fill-opacity=".5"/><ellipse rx="9.4" ry="5.3999999999999995" fill="#f0462e" stroke="#dc3520" stroke-width=".7"/><ellipse rx="8.06" ry="4.70" fill="none" stroke="#ffe4d8" stroke-width="0.7" stroke-opacity=".9"/><ellipse rx="6.43" ry="3.75" fill="none" stroke="#fdd0bf" stroke-width="0.6" stroke-opacity=".9"/><ellipse rx="4.80" ry="2.80" fill="none" stroke="#fcc2ae" stroke-width="0.55" stroke-opacity=".9"/><ellipse rx="3.17" ry="1.85" fill="none" stroke="#fbb89e" stroke-width="0.5" stroke-opacity=".9"/><ellipse rx="1.73" ry="1.01" fill="#f26a40"/></g></g><g clip-path="url(#cp53)"><rect x="245.25" y="397.75" width="69.2" height="67.2" fill="url(#spg)" filter="url(#bl)"/><rect x="285.5" y="408" width="4.5" height="59.94999999999999" fill="url(#spr)" fill-opacity="1" filter="url(#bl)"/><path d="M242.2,467.9 C237.0,461.4 241.3,419.7 242.2,412.0 C243.2,404.3 248.5,403.3 250.0,402.0 C251.5,400.7 253.2,400.6 255.0,400.5 C256.8,400.4 263.0,400.5 265.0,401.0 C267.0,401.5 270.5,403.9 272.0,405.0 C273.5,406.1 276.7,408.2 278.0,410.0 C279.3,411.8 282.0,417.7 283.0,420.0 C284.0,422.3 286.4,424.4 286.9,430.0 C287.4,435.6 292.1,463.5 286.9,467.9 C281.7,472.4 247.5,474.5 242.2,467.9 Z" fill="#d2f0d2" fill-opacity="1"/><path d="M242.2,467.9 C238.1,461.9 240.8,421.6 242.2,416.0 C243.7,410.4 252.7,419.8 255.0,420.0 C257.3,420.2 260.5,418.0 262.0,418.0 C263.5,418.0 266.5,418.8 268.0,420.0 C269.5,421.2 273.8,425.7 275.0,428.0 C276.2,430.3 277.4,436.9 278.0,440.0 C278.6,443.1 280.0,451.7 280.0,455.0 C280.0,458.3 282.4,466.4 278.0,467.9 C273.6,469.5 246.4,474.0 242.2,467.9 Z" fill="#a7e3a7" fill-opacity="1"/><path d="M242.2,445.0 C239.0,443.5 241.3,433.4 242.2,432.0 C243.2,430.6 248.5,433.5 250.0,433.0 C251.5,432.5 253.6,428.1 255.0,428.0 C256.4,427.9 260.5,430.6 262.0,432.0 C263.5,433.4 267.1,438.5 268.0,440.0 C268.9,441.5 273.0,444.4 270.0,445.0 C267.0,445.6 245.5,446.5 242.2,445.0 Z" fill="#72d172" fill-opacity="1"/><ellipse cx="265.2" cy="443.5" rx="2" ry="1.5" fill="#1db51d" fill-opacity="1"/><path d="M242.2,467.9 C239.9,466.9 240.2,459.9 242.2,459.0 C244.3,458.1 257.7,459.0 260.0,460.0 C262.3,461.0 264.1,467.0 262.0,467.9 C259.9,468.9 244.6,469.0 242.2,467.9 Z" fill="#72d172" fill-opacity="1"/><ellipse cx="253" cy="461" rx="2.5" ry="1.5" fill="#1db51d" fill-opacity="1"/><path d="M243.2,442.3 H276.7 A9.1,9.1 0 0 1 276.7,460.6 H243.2 Z" fill="#f7b09c"/><path d="M243.2,443.5 H276.7 A7.9,7.9 0 0 1 276.7,459.4 H243.2 Z" fill="#f15c3e" stroke="#e03c24" stroke-width="0.8"/><path d="M243.2,444.8 H276.7 A6.7,6.7 0 0 1 276.7,458.1 H243.2" fill="none" stroke="#ffd8c8" stroke-width="0.6" stroke-opacity=".9"/><path d="M243.2,446.2 H276.7 A5.2,5.2 0 0 1 276.7,456.7 H243.2" fill="none" stroke="#ffd8c8" stroke-width="0.5" stroke-opacity=".9"/><path d="M243.2,447.6 H276.7 A3.8,3.8 0 0 1 276.7,455.3 H243.2" fill="none" stroke="#ffd8c8" stroke-width="0.45" stroke-opacity=".9"/><path d="M243.2,449.1 H276.7 A2.4,2.4 0 0 1 276.7,453.8 H243.2" fill="none" stroke="#ffd8c8" stroke-width="0.4" stroke-opacity=".9"/><ellipse cx="275.5" cy="451.4" rx="4.5" ry="2.8" fill="#e42a1c" fill-opacity="0.6"/></g><g clip-path="url(#cp54)"><rect x="318.00" y="397.75" width="69.2" height="67.2" fill="url(#spg)" filter="url(#bl)"/><path d="M318.0,405.0 C320.0,401.7 327.2,401.2 330.0,402.0 C332.8,402.8 335.0,407.0 335.0,410.0 C335.0,413.0 332.8,418.0 330.0,420.0 C327.2,422.0 320.0,424.5 318.0,422.0 C316.0,419.5 316.0,408.3 318.0,405.0 Z" fill="url(#spr)" fill-opacity="0.8" filter="url(#bl)"/><path d="M315.0,467.9 C309.9,463.2 314.0,425.6 315.0,420.0 C316.0,414.4 323.0,413.5 325.0,412.0 C327.0,410.5 332.5,405.8 335.0,405.0 C337.5,404.2 347.3,403.7 350.0,404.0 C352.7,404.3 360.4,406.4 362.0,408.0 C363.6,409.6 365.8,414.0 366.2,420.0 C366.6,426.0 371.6,463.2 366.5,467.9 C361.4,472.7 320.1,472.7 315.0,467.9 Z" fill="#d2f0d2" fill-opacity="1"/><path d="M315.0,467.9 C309.3,463.5 313.8,435.0 315.0,430.0 C316.2,425.0 322.7,425.9 325.0,425.0 C327.3,424.1 332.9,422.6 335.0,422.0 C337.1,421.4 341.9,420.7 343.0,420.0 C344.1,419.3 343.4,416.5 344.0,416.0 C344.6,415.5 347.3,415.4 348.0,416.0 C348.7,416.6 348.8,420.1 350.0,421.0 C351.2,421.9 356.7,424.1 358.0,424.0 C359.3,423.9 360.3,419.3 361.0,420.0 C361.7,420.7 363.6,424.4 364.0,430.0 C364.4,435.6 369.7,463.5 364.0,467.9 C358.3,472.4 320.7,472.4 315.0,467.9 Z" fill="#a7e3a7" fill-opacity="1"/><path d="M315.0,467.9 C309.8,464.9 313.8,445.6 315.0,442.0 C316.2,438.4 322.7,438.2 325.0,437.0 C327.3,435.8 333.2,433.1 335.0,432.0 C336.8,430.9 338.6,428.5 340.0,428.0 C341.4,427.5 345.6,427.5 347.0,428.0 C348.4,428.5 350.5,430.6 352.0,432.0 C353.5,433.4 358.9,437.9 360.0,440.0 C361.1,442.1 361.7,446.7 361.7,450.0 C361.7,453.3 365.4,465.9 360.0,467.9 C354.6,470.0 320.2,471.0 315.0,467.9 Z" fill="#72d172" fill-opacity="1"/><path d="M315.0,467.9 C312.3,465.2 313.2,447.1 315.0,444.0 C316.8,440.9 327.1,441.7 330.0,441.0 C332.9,440.3 338.6,437.3 340.0,438.0 C341.4,438.7 342.2,443.5 342.0,447.0 C341.8,450.5 341.1,465.5 338.0,467.9 C334.9,470.4 317.7,470.7 315.0,467.9 Z" fill="#1db51d" fill-opacity="1"/><ellipse cx="342" cy="432" rx="1.3" ry="1.3" fill="#1db51d" fill-opacity="1"/><path d="M315.0,448.5 L340.0,447.5 L340.0,453.2 L315.0,453.5 Z" fill="#f7dba8" fill-opacity="1"/><path d="M315.0,448.5 L340,447.5 M315.0,453.5 L340,453.2" stroke="#eea060" stroke-width=".6"/><g transform="translate(345.1 451.2) rotate(-65)"><ellipse rx="11.0" ry="7.7" fill="#f7ac98" fill-opacity=".5"/><ellipse rx="10.3" ry="7.0" fill="#f0462e" stroke="#dc3520" stroke-width=".7"/><ellipse rx="8.82" ry="6.05" fill="none" stroke="#ffe4d8" stroke-width="0.7" stroke-opacity=".9"/><ellipse rx="7.04" ry="4.82" fill="none" stroke="#fdd0bf" stroke-width="0.6" stroke-opacity=".9"/><ellipse rx="5.25" ry="3.60" fill="none" stroke="#fcc2ae" stroke-width="0.55" stroke-opacity=".9"/><ellipse rx="3.47" ry="2.38" fill="none" stroke="#fbb89e" stroke-width="0.5" stroke-opacity=".9"/><ellipse rx="1.89" ry="1.30" fill="#f26a40"/></g></g><g clip-path="url(#cp60)"><rect x="27.00" y="468.10" width="69.2" height="67.2" fill="url(#sps)" filter="url(#bl)"/><path d="M27.0,476.0 C32.5,469.8 48.7,478.0 60.0,478.0 C71.3,478.0 89.0,473.7 95.0,476.0 C101.0,478.3 98.5,488.0 96.0,492.0 C93.5,496.0 86.0,496.7 80.0,500.0 C74.0,503.3 68.8,509.5 60.0,512.0 C51.2,514.5 32.5,521.0 27.0,515.0 C21.5,509.0 21.5,482.2 27.0,476.0 Z" fill="url(#spg)" fill-opacity="1" filter="url(#bl)"/><path d="M47.0,484.0 C47.7,483.2 53.0,485.2 55.0,486.0 C57.0,486.8 60.0,488.8 62.0,490.0 C64.0,491.2 67.9,493.7 70.0,495.0 C72.1,496.3 76.1,499.1 78.0,500.0 C79.9,500.9 82.7,502.7 84.0,502.0 C85.3,501.3 87.1,496.9 88.0,495.0 C88.9,493.1 90.3,489.3 91.0,488.0 C91.7,486.7 93.4,484.6 93.5,485.5 C93.6,486.4 92.8,492.4 92.0,495.0 C91.2,497.6 88.7,502.7 87.5,505.0 C86.3,507.3 84.3,510.9 83.0,512.0 C81.7,513.1 79.5,513.5 78.0,513.0 C76.5,512.5 73.7,509.5 72.0,508.0 C70.3,506.5 67.0,503.5 65.0,502.0 C63.0,500.5 59.0,498.3 57.0,497.0 C55.0,495.7 51.3,493.7 50.0,492.0 C48.7,490.3 46.3,484.8 47.0,484.0 Z" fill="#d2f0d2" fill-opacity="1"/><ellipse cx="60" cy="491" rx="8.5" ry="4" fill="#a7e3a7" fill-opacity="1" transform="rotate(30 60 491)"/><ellipse cx="61.5" cy="491.5" rx="6.5" ry="3.3" fill="#72d172" fill-opacity="1" transform="rotate(27 61.5 491.5)"/><ellipse cx="62.6" cy="491.7" rx="4" ry="2" fill="#1db51d" fill-opacity="1" transform="rotate(25 62.6 491.7)"/><ellipse cx="80.9" cy="504.8" rx="3.5" ry="3" fill="#a7e3a7" fill-opacity="1"/><ellipse cx="80" cy="511" rx="2.5" ry="1.5" fill="#f3a08a" fill-opacity="1"/><g transform="translate(73.5 498.2) rotate(35)"><ellipse rx="8.5" ry="6.3" fill="#f7ac98" fill-opacity=".5"/><ellipse rx="7.8" ry="5.6" fill="#f0462e" stroke="#dc3520" stroke-width=".7"/><ellipse rx="6.72" ry="4.87" fill="none" stroke="#ffe4d8" stroke-width="0.7" stroke-opacity=".9"/><ellipse rx="5.36" ry="3.89" fill="none" stroke="#fdd0bf" stroke-width="0.6" stroke-opacity=".9"/><ellipse rx="4.00" ry="2.90" fill="none" stroke="#fcc2ae" stroke-width="0.55" stroke-opacity=".9"/><ellipse rx="2.64" ry="1.91" fill="none" stroke="#fbb89e" stroke-width="0.5" stroke-opacity=".9"/><ellipse rx="1.44" ry="1.04" fill="#f26a40"/></g></g><g clip-path="url(#cp61)"><rect x="99.75" y="468.10" width="69.2" height="67.2" fill="url(#sps)" filter="url(#bl)"/><path d="M99.8,476.0 C104.8,473.3 120.0,475.7 130.0,476.0 C140.0,476.3 153.7,479.3 160.0,478.0 C166.3,476.7 166.3,467.7 168.0,468.0 C169.7,468.3 170.5,474.7 170.0,480.0 C169.5,485.3 168.3,498.0 165.0,500.0 C161.7,502.0 160.9,493.3 150.0,492.0 C139.1,490.7 108.1,494.7 99.8,492.0 C91.4,489.3 94.7,478.7 99.8,476.0 Z" fill="url(#spg)" fill-opacity="1" filter="url(#bl)"/><rect x="99.75" y="507.6" width="50.25" height="4.0" fill="url(#spr)" fill-opacity="1" filter="url(#bl)"/><path d="M96.8,487.1 C98.2,486.2 122.3,487.0 125.0,487.0 C127.7,487.0 149.9,487.1 151.2,488.0 C152.5,488.9 152.5,504.4 151.2,505.3 C149.9,506.2 127.7,505.3 125.0,505.3 C122.3,505.3 98.2,506.2 96.8,505.3 C95.3,504.4 95.3,488.0 96.8,487.1 Z" fill="#d2f0d2" fill-opacity="1"/><path d="M96.8,489.4 C98.2,488.7 122.5,489.4 125.0,489.4 C127.5,489.4 144.9,489.3 146.0,490.0 C147.1,490.7 148.5,502.9 146.0,503.6 C143.5,504.3 99.2,504.3 96.8,503.6 C94.3,502.9 95.3,490.1 96.8,489.4 Z" fill="#a7e3a7" fill-opacity="1"/><path d="M96.8,490.0 C98.7,489.4 115.9,489.9 120.0,490.0 C124.1,490.1 143.8,490.4 146.0,491.0 C148.2,491.6 147.3,497.0 146.0,497.4 C144.7,497.8 132.2,495.9 130.0,496.0 C127.8,496.1 121.7,498.0 120.0,498.0 C118.3,498.0 111.9,496.6 110.0,496.5 C108.1,496.4 97.9,497.9 96.8,497.4 C95.6,496.9 94.8,490.6 96.8,490.0 Z" fill="#72d172" fill-opacity="1"/><path d="M101.6,490.0 C102.2,489.5 107.0,489.6 108.0,489.6 C109.0,489.7 111.3,490.4 112.0,490.5 C112.7,490.6 113.8,490.2 115.0,490.3 C116.2,490.4 123.5,490.6 124.4,491.0 C125.3,491.4 124.9,493.7 124.0,494.0 C123.1,494.3 116.2,493.9 115.0,494.0 C113.8,494.1 113.3,494.6 112.0,494.6 C110.7,494.7 102.6,495.0 101.6,494.5 C100.6,494.0 101.0,490.5 101.6,490.0 Z" fill="#1db51d" fill-opacity="1"/><ellipse cx="131" cy="492.5" rx="1.3" ry="1.1" fill="#1db51d" fill-opacity="1"/><ellipse cx="154" cy="505.5" rx="6" ry="2.5" fill="#f38a78" fill-opacity="0.8"/><g transform="translate(152.3 498.7) rotate(-40)"><ellipse rx="7.7" ry="6.8" fill="#f7ac98" fill-opacity=".5"/><ellipse rx="7.0" ry="6.1" fill="#f0462e" stroke="#dc3520" stroke-width=".7"/><ellipse rx="6.05" ry="5.29" fill="none" stroke="#ffe4d8" stroke-width="0.7" stroke-opacity=".9"/><ellipse rx="4.82" ry="4.22" fill="none" stroke="#fdd0bf" stroke-width="0.6" stroke-opacity=".9"/><ellipse rx="3.60" ry="3.15" fill="none" stroke="#fcc2ae" stroke-width="0.55" stroke-opacity=".9"/><ellipse rx="2.38" ry="2.08" fill="none" stroke="#fbb89e" stroke-width="0.5" stroke-opacity=".9"/><ellipse rx="1.30" ry="1.13" fill="#f26a40"/></g></g><g clip-path="url(#cp62)"><rect x="172.50" y="468.10" width="69.2" height="67.2" fill="url(#sps)" filter="url(#bl)"/><path d="M172.5,478.0 C178.8,473.0 198.8,475.7 210.0,476.0 C221.2,476.3 235.0,473.5 240.0,480.0 C245.0,486.5 243.3,509.2 240.0,515.0 C236.7,520.8 226.7,516.2 220.0,515.0 C213.3,513.8 207.9,509.5 200.0,508.0 C192.1,506.5 177.1,511.0 172.5,506.0 C167.9,501.0 166.2,483.0 172.5,478.0 Z" fill="url(#spg)" fill-opacity="1" filter="url(#bl)"/><path d="M172.5,501.5 C176.2,501.2 187.9,504.2 195.0,505.0 C202.1,505.8 210.8,505.5 215.0,506.0 C219.2,506.5 220.0,507.0 220.0,508.0 C220.0,509.0 219.2,511.7 215.0,512.0 C210.8,512.3 202.1,510.8 195.0,510.0 C187.9,509.2 176.2,508.4 172.5,507.0 C168.8,505.6 168.8,501.8 172.5,501.5 Z" fill="url(#spr)" fill-opacity="1" filter="url(#bl)"/><path d="M169.5,485.5 C172.2,483.1 185.3,485.7 190.0,486.0 C194.7,486.3 201.7,487.2 205.0,488.0 C208.3,488.8 213.0,490.7 215.0,492.0 C217.0,493.3 220.2,496.3 220.2,498.0 C220.2,499.7 218.4,503.9 215.0,505.0 C211.6,506.1 201.1,506.1 195.0,506.0 C188.9,505.9 172.9,506.7 169.5,504.0 C166.1,501.3 166.8,487.9 169.5,485.5 Z" fill="#d2f0d2" fill-opacity="1"/><path d="M169.5,487.5 C173.6,486.1 194.6,488.4 200.0,489.0 C205.4,489.6 208.3,490.8 210.0,492.0 C211.7,493.2 213.7,496.9 213.0,498.0 C212.3,499.1 208.1,500.2 205.0,500.5 C201.9,500.8 194.7,500.6 190.0,500.5 C185.3,500.4 172.2,501.2 169.5,499.5 C166.8,497.8 165.4,488.9 169.5,487.5 Z" fill="#a7e3a7" fill-opacity="1"/><path d="M169.5,489.0 C172.9,488.0 190.3,488.6 195.0,489.0 C199.7,489.4 203.3,491.1 205.0,492.0 C206.7,492.9 209.3,495.3 208.0,496.0 C206.7,496.7 200.1,496.9 195.0,497.0 C189.9,497.1 172.9,497.6 169.5,496.5 C166.1,495.4 166.1,490.0 169.5,489.0 Z" fill="#72d172" fill-opacity="1"/><ellipse cx="189.4" cy="491.7" rx="7" ry="2.3" fill="#1db51d" fill-opacity="1"/><g transform="translate(212.2 498.5) rotate(60)"><ellipse rx="7.3" ry="5.9" fill="#f7ac98" fill-opacity=".5"/><ellipse rx="6.6" ry="5.2" fill="#f0462e" stroke="#dc3520" stroke-width=".7"/><ellipse rx="5.71" ry="4.54" fill="none" stroke="#ffe4d8" stroke-width="0.7" stroke-opacity=".9"/><ellipse rx="4.56" ry="3.62" fill="none" stroke="#fdd0bf" stroke-width="0.6" stroke-opacity=".9"/><ellipse rx="3.40" ry="2.70" fill="none" stroke="#fcc2ae" stroke-width="0.55" stroke-opacity=".9"/><ellipse rx="2.24" ry="1.78" fill="none" stroke="#fbb89e" stroke-width="0.5" stroke-opacity=".9"/><ellipse rx="1.22" ry="0.97" fill="#f26a40"/></g></g><g clip-path="url(#cp63)"><rect x="245.25" y="468.10" width="69.2" height="67.2" fill="url(#sps)" filter="url(#bl)"/><path d="M245.2,476.0 C251.0,471.0 268.5,474.5 280.0,476.0 C291.5,477.5 308.3,476.8 314.0,485.0 C319.7,493.2 318.0,520.0 314.0,525.0 C310.0,530.0 297.3,517.5 290.0,515.0 C282.7,512.5 277.5,511.5 270.0,510.0 C262.5,508.5 249.4,511.7 245.2,506.0 C241.1,500.3 239.5,481.0 245.2,476.0 Z" fill="url(#spg)" fill-opacity="1" filter="url(#bl)"/><rect x="245.25" y="506" width="44.75" height="6" fill="url(#spr)" fill-opacity="1" filter="url(#bl)"/><path d="M242.2,486.5 C246.6,484.0 268.9,486.0 275.0,486.5 C281.1,487.0 285.6,488.6 288.0,490.0 C290.4,491.4 293.2,495.1 293.2,497.0 C293.2,498.9 290.4,502.9 288.0,504.0 C285.6,505.1 281.1,505.1 275.0,505.3 C268.9,505.5 246.6,507.8 242.2,505.3 C237.9,502.8 237.9,489.0 242.2,486.5 Z" fill="#d2f0d2" fill-opacity="1"/><path d="M242.2,487.5 C245.5,486.5 271.1,487.6 275.0,488.0 C278.9,488.4 280.4,491.0 281.0,492.0 C281.6,493.0 284.9,497.4 281.0,498.0 C277.1,498.6 246.1,499.1 242.2,498.0 C238.4,496.9 239.0,488.5 242.2,487.5 Z" fill="#a7e3a7" fill-opacity="1"/><path d="M242.2,488.5 C245.0,488.0 266.8,488.6 270.0,489.0 C273.2,489.4 276.8,492.5 274.0,493.0 C271.2,493.5 245.4,494.4 242.2,494.0 C239.1,493.6 239.5,489.0 242.2,488.5 Z" fill="#72d172" fill-opacity="1"/><ellipse cx="260.7" cy="491.7" rx="7" ry="2" fill="#1db51d" fill-opacity="1"/><path d="M243.2,492.2 H278.9 A6.3,6.3 0 0 1 278.9,504.8 H243.2 Z" fill="#f7b09c"/><path d="M243.2,493.4 H278.9 A5.1,5.1 0 0 1 278.9,503.6 H243.2 Z" fill="#f15c3e" stroke="#e03c24" stroke-width="0.8"/><path d="M243.2,494.2 H278.9 A4.3,4.3 0 0 1 278.9,502.8 H243.2" fill="none" stroke="#ffd8c8" stroke-width="0.6" stroke-opacity=".9"/><path d="M243.2,495.1 H278.9 A3.4,3.4 0 0 1 278.9,501.9 H243.2" fill="none" stroke="#ffd8c8" stroke-width="0.5" stroke-opacity=".9"/><path d="M243.2,496.1 H278.9 A2.4,2.4 0 0 1 278.9,500.9 H243.2" fill="none" stroke="#ffd8c8" stroke-width="0.45" stroke-opacity=".9"/><path d="M243.2,497.0 H278.9 A1.5,1.5 0 0 1 278.9,500.0 H243.2" fill="none" stroke="#ffd8c8" stroke-width="0.4" stroke-opacity=".9"/><ellipse cx="272" cy="498.4" rx="5" ry="2.2" fill="#e42a1c" fill-opacity="0.6"/></g><g clip-path="url(#cp64)"><rect x="318.00" y="468.10" width="69.2" height="67.2" fill="url(#sps)" filter="url(#bl)"/><path d="M318.0,476.0 C325.0,470.7 349.7,477.3 360.0,476.0 C370.3,474.7 375.5,469.0 380.0,468.0 C384.5,467.0 385.8,463.8 387.0,470.0 C388.2,476.2 389.8,498.0 387.0,505.0 C384.2,512.0 376.2,510.8 370.0,512.0 C363.8,513.2 358.7,512.7 350.0,512.0 C341.3,511.3 323.3,514.0 318.0,508.0 C312.7,502.0 311.0,481.3 318.0,476.0 Z" fill="url(#spg)" fill-opacity="1" filter="url(#bl)"/><rect x="318" y="505.9" width="39" height="4.0" fill="url(#spr)" fill-opacity="1" filter="url(#bl)"/><path d="M315.0,487.6 C319.7,485.7 349.2,487.4 355.0,487.6 C360.8,487.8 362.6,488.3 364.6,489.0 C366.6,489.7 371.8,492.4 372.0,494.0 C372.2,495.6 368.0,501.8 366.0,503.0 C364.0,504.2 360.9,504.1 355.0,504.3 C349.1,504.5 319.7,506.2 315.0,504.3 C310.3,502.4 310.3,489.5 315.0,487.6 Z" fill="#d2f0d2" fill-opacity="1"/><path d="M315.0,488.6 C319.3,487.2 353.1,488.3 358.0,488.6 C362.9,488.9 362.9,491.0 363.5,492.0 C364.1,493.0 364.1,497.9 363.5,499.0 C362.9,500.1 362.9,502.3 358.0,502.7 C353.1,503.1 319.3,504.1 315.0,502.7 C310.7,501.3 310.7,490.0 315.0,488.6 Z" fill="#a7e3a7" fill-opacity="1"/><path d="M315.0,489.0 C319.2,488.3 352.4,488.6 357.0,489.0 C361.6,489.4 361.0,491.8 361.0,492.5 C361.0,493.2 361.6,495.6 357.0,496.0 C352.4,496.4 319.2,496.7 315.0,496.0 C310.8,495.3 310.8,489.7 315.0,489.0 Z" fill="#72d172" fill-opacity="1"/><path d="M315.0,500.3 C317.5,500.0 337.4,500.0 340.0,500.3 C342.6,500.6 343.5,502.7 341.0,503.0 C338.5,503.3 317.6,503.3 315.0,503.0 C312.4,502.7 312.5,500.6 315.0,500.3 Z" fill="#72d172" fill-opacity="1"/><path d="M332.7,490.8 C333.6,490.5 340.1,490.6 342.0,490.6 C343.9,490.6 351.2,490.5 352.2,490.8 C353.2,491.1 353.0,493.2 352.0,493.5 C351.0,493.8 343.9,493.6 342.0,493.6 C340.1,493.6 333.6,493.8 332.7,493.5 C331.8,493.2 331.8,491.1 332.7,490.8 Z" fill="#1db51d" fill-opacity="1"/><path d="M315.0,496.2 C316.5,495.8 327.6,496.5 330.0,496.6 C332.4,496.7 338.3,496.7 339.2,497.0 C340.1,497.3 340.1,499.7 339.2,500.0 C338.3,500.3 332.4,500.2 330.0,500.3 C327.6,500.4 316.5,500.9 315.0,500.5 C313.5,500.1 313.5,496.6 315.0,496.2 Z" fill="#f7dba8" fill-opacity="1"/><path d="M315.0,496.2 L339,497 M315.0,500.5 L339,500" stroke="#eea060" stroke-width=".5"/><g transform="translate(345.5 498.4) rotate(25)"><ellipse rx="9.3" ry="6.7" fill="#f7ac98" fill-opacity=".5"/><ellipse rx="8.600000000000001" ry="6.0" fill="#f0462e" stroke="#dc3520" stroke-width=".7"/><ellipse rx="7.39" ry="5.21" fill="none" stroke="#ffe4d8" stroke-width="0.7" stroke-opacity=".9"/><ellipse rx="5.90" ry="4.15" fill="none" stroke="#fdd0bf" stroke-width="0.6" stroke-opacity=".9"/><ellipse rx="4.40" ry="3.10" fill="none" stroke="#fcc2ae" stroke-width="0.55" stroke-opacity=".9"/><ellipse rx="2.90" ry="2.05" fill="none" stroke="#fbb89e" stroke-width="0.5" stroke-opacity=".9"/><ellipse rx="1.58" ry="1.12" fill="#f26a40"/></g></g><g clip-path="url(#cp65)"><rect x="390.75" y="468.10" width="69.2" height="67.2" fill="url(#sps)" filter="url(#bl)"/><path d="M390.8,476.0 C402.3,474.0 448.5,475.7 460.0,478.0 C471.5,480.3 471.5,488.0 460.0,490.0 C448.5,492.0 402.3,492.3 390.8,490.0 C379.2,487.7 379.2,478.0 390.8,476.0 Z" fill="url(#spg)" fill-opacity="1" filter="url(#bl)"/><rect x="438" y="496" width="21.94999999999999" height="16" fill="url(#spr)" fill-opacity="1" filter="url(#bl)"/><path d="M387.8,487.0 C393.0,485.0 432.5,486.9 440.0,487.0 C447.5,487.1 460.7,485.8 462.9,488.0 C465.2,490.2 465.2,506.9 462.9,509.0 C460.7,511.1 444.3,509.1 440.0,509.0 C435.7,508.9 425.2,508.2 420.0,508.0 C414.8,507.8 391.0,509.1 387.8,507.0 C384.5,504.9 382.5,489.0 387.8,487.0 Z" fill="#d2f0d2" fill-opacity="1"/><path d="M387.8,488.0 C391.5,486.2 420.2,487.9 425.0,488.0 C429.8,488.1 434.5,488.2 436.0,488.5 C437.5,488.8 439.8,490.4 439.8,491.0 C439.8,491.6 437.2,493.5 436.0,494.0 C434.8,494.5 429.0,495.5 428.0,496.0 C427.0,496.5 425.8,498.3 426.0,499.0 C426.2,499.7 429.3,502.2 430.0,503.0 C430.7,503.8 433.8,506.1 433.3,506.5 C432.8,506.9 427.3,507.1 425.0,507.0 C422.7,506.9 413.7,506.1 410.0,506.0 C406.3,505.9 390.0,507.8 387.8,506.0 C385.5,504.2 384.0,489.8 387.8,488.0 Z" fill="#a7e3a7" fill-opacity="1"/><path d="M387.8,488.5 L420.3,488.5 L416.0,503.2 L387.8,503.2 Z" fill="#72d172" fill-opacity="1"/><path d="M387.8,489.7 L402.0,490.0 L398.0,493.5 L387.8,493.5 Z" fill="#1db51d" fill-opacity="1"/><g transform="translate(405.2 498.4) rotate(25)"><ellipse rx="10.5" ry="6.1" fill="#f7ac98" fill-opacity=".5"/><ellipse rx="9.8" ry="5.3999999999999995" fill="#f0462e" stroke="#dc3520" stroke-width=".7"/><ellipse rx="8.40" ry="4.70" fill="none" stroke="#ffe4d8" stroke-width="0.7" stroke-opacity=".9"/><ellipse rx="6.70" ry="3.75" fill="none" stroke="#fdd0bf" stroke-width="0.6" stroke-opacity=".9"/><ellipse rx="5.00" ry="2.80" fill="none" stroke="#fcc2ae" stroke-width="0.55" stroke-opacity=".9"/><ellipse rx="3.30" ry="1.85" fill="none" stroke="#fbb89e" stroke-width="0.5" stroke-opacity=".9"/><ellipse rx="1.80" ry="1.01" fill="#f26a40"/></g></g><g clip-path="url(#cp70)"><rect x="27.00" y="538.45" width="69.2" height="67.2" fill="url(#spgg)" filter="url(#bl)"/><path d="M27.0,598.1 L51.2,598.1" fill="none" stroke="#2aaa2a" stroke-width="1.6" stroke-opacity="1" stroke-linecap="round" stroke-linejoin="round"/><path d="M52.0,597.5 C52.3,596.4 53.5,593.4 55.0,592.5 C56.5,591.6 61.0,591.0 63.0,590.5 C65.0,590.0 68.4,589.5 70.0,588.5 C71.6,587.5 73.7,584.7 75.0,583.0 C76.3,581.3 78.8,577.7 80.0,576.0 C81.2,574.3 83.1,570.9 84.0,570.5 C84.9,570.1 86.3,571.1 86.5,573.0 C86.7,574.9 86.0,582.1 85.5,585.0 C85.0,587.9 83.7,592.9 83.0,595.0 C82.3,597.1 81.5,599.8 80.0,601.0 C78.5,602.2 74.7,603.7 72.0,604.0 C69.3,604.3 62.5,603.9 60.0,603.5 C57.5,603.1 54.1,601.8 53.0,601.0 C51.9,600.2 51.7,598.6 52.0,597.5 Z" fill="#d2f0d2" fill-opacity="1"/><path d="M84.3,573.0 C84.6,570.2 85.5,561.7 86.0,556.0 C86.5,550.3 87.1,541.8 87.3,539.0" fill="none" stroke="#7bcf7b" stroke-width="1.5" stroke-opacity="1" stroke-linecap="round"/><ellipse cx="60.3" cy="597.6" rx="9" ry="4" fill="#a7e3a7" fill-opacity="1"/><ellipse cx="60.3" cy="597.6" rx="5.5" ry="2.5" fill="#72d172" fill-opacity="1"/><ellipse cx="83.7" cy="572.5" rx="1.3" ry="2.2" fill="#ee4a30" fill-opacity="1"/><path d="M74.0,588.0 L78.0,578.0 L80.0,577.0 L79.0,584.0 L77.0,589.0 Z" fill="#f06a50" fill-opacity="1"/><g transform="translate(73.5 593.9) rotate(-50)"><ellipse rx="9.3" ry="6.8" fill="#f7ac98" fill-opacity=".5"/><ellipse rx="8.600000000000001" ry="6.1" fill="#f0462e" stroke="#dc3520" stroke-width=".7"/><ellipse rx="7.39" ry="5.29" fill="none" stroke="#ffe4d8" stroke-width="0.7" stroke-opacity=".9"/><ellipse rx="5.90" ry="4.22" fill="none" stroke="#fdd0bf" stroke-width="0.6" stroke-opacity=".9"/><ellipse rx="4.40" ry="3.15" fill="none" stroke="#fcc2ae" stroke-width="0.55" stroke-opacity=".9"/><ellipse rx="2.90" ry="2.08" fill="none" stroke="#fbb89e" stroke-width="0.5" stroke-opacity=".9"/><ellipse rx="1.58" ry="1.13" fill="#f26a40"/></g></g><g clip-path="url(#cp71)"><rect x="99.75" y="538.45" width="69.2" height="67.2" fill="url(#spgg)" filter="url(#bl)"/><path d="M99.8,565.0 C104.8,561.3 120.3,566.5 130.0,566.0 C139.7,565.5 153.2,558.8 158.0,562.0 C162.8,565.2 162.0,581.0 159.0,585.0 C156.0,589.0 146.5,585.5 140.0,586.0 C133.5,586.5 126.7,587.7 120.0,588.0 C113.3,588.3 103.1,591.8 99.8,588.0 C96.4,584.2 94.7,568.7 99.8,565.0 Z" fill="url(#sprg)" fill-opacity="0.9" filter="url(#bl)"/><rect x="159.5" y="538.4499999999999" width="12" height="67.2" fill="#eeeeee"/><path d="M96.8,608.6 C89.5,605.5 95.8,584.7 96.8,581.6 C97.7,578.5 103.1,582.3 105.0,582.5 C106.9,582.7 111.2,583.1 113.0,583.5 C114.8,583.9 118.0,585.9 120.0,586.2 C122.0,586.5 127.7,586.5 130.0,586.2 C132.3,585.9 137.9,584.4 140.0,584.0 C142.1,583.6 146.2,583.3 148.0,583.0 C149.8,582.7 153.7,581.7 155.0,581.5 C156.3,581.3 158.6,577.8 159.1,581.0 C159.6,584.2 166.4,605.4 159.1,608.6 C151.8,611.9 104.0,611.8 96.8,608.6 Z" fill="#d2f0d2" fill-opacity="1"/><path d="M96.8,592.4 C101.1,591.4 135.1,592.1 140.0,592.4 C144.9,592.7 145.4,594.2 146.0,595.0 C146.6,595.8 146.6,599.3 146.0,600.0 C145.4,600.7 144.9,601.9 140.0,602.1 C135.1,602.3 101.1,603.1 96.8,602.1 C92.4,601.1 92.4,593.4 96.8,592.4 Z" fill="#a7e3a7" fill-opacity="1"/><path d="M96.8,594.7 C100.6,594.1 130.7,594.4 135.0,594.7 C139.3,595.0 140.0,596.9 140.0,597.5 C140.0,598.1 139.3,600.1 135.0,600.4 C130.7,600.7 100.6,601.0 96.8,600.4 C92.9,599.8 92.9,595.3 96.8,594.7 Z" fill="#72d172" fill-opacity="1"/><ellipse cx="118" cy="597.8" rx="16" ry="1" fill="#1db51d" fill-opacity="0.7"/><path d="M159.3,540.0 L159.3,583.0" fill="none" stroke="#d2ebd2" stroke-width="1" stroke-opacity="1" stroke-linecap="round" stroke-linejoin="round"/><g transform="translate(152.3 594.1) rotate(-55)"><ellipse rx="9.0" ry="6.3" fill="#f7ac98" fill-opacity=".5"/><ellipse rx="8.3" ry="5.6" fill="#f0462e" stroke="#dc3520" stroke-width=".7"/><ellipse rx="7.14" ry="4.87" fill="none" stroke="#ffe4d8" stroke-width="0.7" stroke-opacity=".9"/><ellipse rx="5.70" ry="3.89" fill="none" stroke="#fdd0bf" stroke-width="0.6" stroke-opacity=".9"/><ellipse rx="4.25" ry="2.90" fill="none" stroke="#fcc2ae" stroke-width="0.55" stroke-opacity=".9"/><ellipse rx="2.81" ry="1.91" fill="none" stroke="#fbb89e" stroke-width="0.5" stroke-opacity=".9"/><ellipse rx="1.53" ry="1.04" fill="#f26a40"/></g></g><g clip-path="url(#cp72)"><rect x="172.50" y="538.45" width="69.2" height="67.2" fill="url(#spgg)" filter="url(#bl)"/><path d="M172.5,565.0 C177.1,561.0 191.2,566.5 200.0,566.0 C208.8,565.5 220.3,558.8 225.0,562.0 C229.7,565.2 229.7,580.7 228.0,585.0 C226.3,589.3 219.7,587.2 215.0,588.0 C210.3,588.8 207.1,589.7 200.0,590.0 C192.9,590.3 177.1,594.2 172.5,590.0 C167.9,585.8 167.9,569.0 172.5,565.0 Z" fill="url(#sprg)" fill-opacity="0.9" filter="url(#bl)"/><path d="M234.6,538.4499999999999 V580 Q234,598 222,604 L241.7,604 L241.7,538.4499999999999 Z" fill="#eeeeee"/><path d="M169.5,608.6 C163.6,606.0 168.3,588.9 169.5,586.0 C170.7,583.1 177.6,584.4 180.0,584.0 C182.4,583.6 187.7,583.1 190.0,583.0 C192.3,582.9 197.7,583.2 200.0,583.0 C202.3,582.8 208.1,581.4 210.0,581.5 C211.9,581.6 214.8,583.4 216.0,584.0 C217.2,584.6 218.9,586.2 220.0,587.0 C221.1,587.8 224.3,589.8 225.0,591.0 C225.7,592.2 226.3,595.7 226.0,597.0 C225.7,598.3 222.7,600.6 222.0,602.0 C221.3,603.4 226.1,607.9 220.0,608.6 C213.9,609.4 175.4,611.3 169.5,608.6 Z" fill="#d2f0d2" fill-opacity="1"/><path d="M222.0,600.5 C223.0,600.0 226.4,599.2 228.0,597.5 C229.6,595.8 230.6,593.8 231.5,590.0 C232.4,586.2 232.9,580.8 233.3,575.0 C233.7,569.2 233.8,561.0 234.0,555.0 C234.2,549.0 234.4,541.7 234.5,539.0" fill="none" stroke="#8cd48c" stroke-width="1.2" stroke-opacity="1" stroke-linecap="round"/><path d="M169.5,592.4 C172.6,591.4 196.3,592.1 200.0,592.4 C203.7,592.7 205.8,594.2 206.5,595.0 C207.2,595.8 207.2,599.3 206.5,600.0 C205.8,600.7 203.7,601.9 200.0,602.1 C196.3,602.3 172.6,603.1 169.5,602.1 C166.4,601.1 166.4,593.4 169.5,592.4 Z" fill="#a7e3a7" fill-opacity="1"/><path d="M169.5,594.5 C172.6,594.0 196.4,594.2 200.0,594.5 C203.6,594.8 205.0,596.5 205.0,597.0 C205.0,597.5 203.6,599.7 200.0,600.0 C196.4,600.3 172.6,600.5 169.5,600.0 C166.4,599.5 166.4,595.0 169.5,594.5 Z" fill="#72d172" fill-opacity="1"/><ellipse cx="188.8" cy="597.4" rx="6" ry="1.3" fill="#1db51d" fill-opacity="1"/><ellipse cx="216.8" cy="582.7" rx="3" ry="3.5" fill="#f0603e" fill-opacity="1"/><ellipse cx="216.8" cy="582.7" rx="4.5" ry="5" fill="#f7b09c" fill-opacity="0.5"/><g transform="translate(212.1 594.5) rotate(-65)"><ellipse rx="8.5" ry="6.0" fill="#f7ac98" fill-opacity=".5"/><ellipse rx="7.8" ry="5.3" fill="#f0462e" stroke="#dc3520" stroke-width=".7"/><ellipse rx="6.72" ry="4.62" fill="none" stroke="#ffe4d8" stroke-width="0.7" stroke-opacity=".9"/><ellipse rx="5.36" ry="3.69" fill="none" stroke="#fdd0bf" stroke-width="0.6" stroke-opacity=".9"/><ellipse rx="4.00" ry="2.75" fill="none" stroke="#fcc2ae" stroke-width="0.55" stroke-opacity=".9"/><ellipse rx="2.64" ry="1.82" fill="none" stroke="#fbb89e" stroke-width="0.5" stroke-opacity=".9"/><ellipse rx="1.44" ry="0.99" fill="#f26a40"/></g></g><g clip-path="url(#cp73)"><rect x="245.25" y="538.45" width="69.2" height="67.2" fill="url(#spgg)" filter="url(#bl)"/><path d="M245.2,565.0 C249.4,561.2 261.2,565.5 270.0,565.0 C278.8,564.5 293.0,558.7 298.0,562.0 C303.0,565.3 302.2,580.7 300.0,585.0 C297.8,589.3 291.7,587.5 285.0,588.0 C278.3,588.5 266.6,588.0 260.0,588.0 C253.4,588.0 247.7,591.8 245.2,588.0 C242.8,584.2 241.1,568.8 245.2,565.0 Z" fill="url(#sprg)" fill-opacity="0.9" filter="url(#bl)"/><path d="M307,538.4499999999999 V575 Q305,597 292,603 L314.45,603 L314.45,538.4499999999999 Z" fill="#eeeeee"/><path d="M242.2,608.6 C237.3,606.0 240.8,588.9 242.2,586.0 C243.7,583.1 252.3,584.1 255.0,584.0 C257.7,583.9 262.7,585.1 265.0,585.0 C267.3,584.9 272.9,583.1 275.0,583.0 C277.1,582.9 281.5,583.4 283.0,584.0 C284.5,584.6 286.9,586.8 288.0,588.0 C289.1,589.2 291.8,592.6 292.0,594.0 C292.2,595.4 290.8,598.3 290.0,600.0 C289.2,601.7 290.6,607.6 285.0,608.6 C279.4,609.7 247.2,611.3 242.2,608.6 Z" fill="#d2f0d2" fill-opacity="1"/><path d="M292.0,598.5 C292.7,598.3 294.7,598.4 296.0,597.5 C297.3,596.6 298.8,595.1 300.0,593.0 C301.2,590.9 302.2,588.8 303.0,585.0 C303.8,581.2 304.4,576.7 305.0,570.0 C305.6,563.3 306.2,549.2 306.5,545.0" fill="none" stroke="#7ccc7c" stroke-width="1.3" stroke-opacity="1" stroke-linecap="round"/><path d="M243.2,587.8 H278.1 A6.6,6.6 0 0 1 278.1,601.1 H243.2 Z" fill="#f7b09c"/><path d="M243.2,589.0 H278.1 A5.4,5.4 0 0 1 278.1,599.9 H243.2 Z" fill="#f15c3e" stroke="#e03c24" stroke-width="0.8"/><path d="M243.2,589.9 H278.1 A4.6,4.6 0 0 1 278.1,599.0 H243.2" fill="none" stroke="#ffd8c8" stroke-width="0.6" stroke-opacity=".9"/><path d="M243.2,590.9 H278.1 A3.6,3.6 0 0 1 278.1,598.0 H243.2" fill="none" stroke="#ffd8c8" stroke-width="0.5" stroke-opacity=".9"/><path d="M243.2,591.8 H278.1 A2.6,2.6 0 0 1 278.1,597.1 H243.2" fill="none" stroke="#ffd8c8" stroke-width="0.45" stroke-opacity=".9"/><path d="M243.2,592.8 H278.1 A1.6,1.6 0 0 1 278.1,596.1 H243.2" fill="none" stroke="#ffd8c8" stroke-width="0.4" stroke-opacity=".9"/><ellipse cx="276" cy="594.5" rx="4" ry="2" fill="#e42a1c" fill-opacity="0.6"/></g><g clip-path="url(#cp74)"><rect x="318.00" y="538.45" width="69.2" height="67.2" fill="url(#spgg)" filter="url(#bl)"/><path d="M318.0,565.0 C321.7,561.3 331.0,566.0 340.0,566.0 C349.0,566.0 366.7,561.3 372.0,565.0 C377.3,568.7 375.7,583.8 372.0,588.0 C368.3,592.2 357.0,590.0 350.0,590.0 C343.0,590.0 335.3,588.3 330.0,588.0 C324.7,587.7 320.0,591.8 318.0,588.0 C316.0,584.2 314.3,568.7 318.0,565.0 Z" fill="url(#sprg)" fill-opacity="0.9" filter="url(#bl)"/><ellipse cx="353" cy="583" rx="4" ry="4" fill="#f4b8a4" fill-opacity="0.6"/><rect x="378" y="538.4499999999999" width="12" height="67.2" fill="#eeeeee"/><path d="M315.0,608.6 C308.1,605.9 314.1,588.0 315.0,585.0 C315.9,582.0 321.7,583.5 323.0,583.0 C324.3,582.5 325.1,580.5 326.3,580.5 C327.5,580.5 331.4,582.4 333.0,583.0 C334.6,583.6 338.6,585.8 340.0,586.0 C341.4,586.2 343.8,585.2 345.0,585.0 C346.2,584.8 348.8,583.6 350.0,584.0 C351.2,584.4 353.8,587.4 355.0,588.0 C356.2,588.6 358.2,589.0 360.0,589.0 C361.8,589.0 368.1,588.1 370.0,588.0 C371.9,587.9 375.1,586.6 376.0,588.0 C376.9,589.4 377.7,597.6 377.5,600.0 C377.3,602.4 381.3,607.6 374.0,608.6 C366.7,609.7 321.9,611.4 315.0,608.6 Z" fill="#d2f0d2" fill-opacity="1"/><path d="M377.5,540.0 L377.5,595.0" fill="none" stroke="#cdebcd" stroke-width="1" stroke-opacity="1" stroke-linecap="round" stroke-linejoin="round"/><path d="M315.0,592.4 C319.5,591.4 354.8,591.9 360.0,592.4 C365.2,592.9 367.3,596.0 367.3,597.0 C367.3,598.0 365.2,601.6 360.0,602.1 C354.8,602.6 319.5,603.1 315.0,602.1 C310.5,601.1 310.5,593.4 315.0,592.4 Z" fill="#a7e3a7" fill-opacity="1"/><path d="M315.0,595.0 C319.0,594.5 350.5,594.8 355.0,595.0 C359.5,595.2 360.0,597.0 360.0,597.5 C360.0,598.0 359.5,599.8 355.0,600.0 C350.5,600.2 319.0,600.5 315.0,600.0 C311.0,599.5 311.0,595.5 315.0,595.0 Z" fill="#72d172" fill-opacity="1"/><path d="M315.0,591.5 C316.0,591.0 322.6,591.3 325.0,591.0 C327.4,590.7 337.4,588.0 338.8,588.2 C340.2,588.4 340.2,592.5 338.8,593.2 C337.4,593.9 327.4,594.7 325.0,595.0 C322.6,595.3 316.0,596.4 315.0,596.0 C314.0,595.6 314.0,592.0 315.0,591.5 Z" fill="#f7dba8" fill-opacity="1"/><path d="M315.0,591.5 L338.8,588.2 M315.0,596 L338.8,593.2" stroke="#eea060" stroke-width=".5"/><g transform="translate(345.3 594.4) rotate(-40)"><ellipse rx="9.7" ry="7.5" fill="#f7ac98" fill-opacity=".5"/><ellipse rx="9.0" ry="6.8" fill="#f0462e" stroke="#dc3520" stroke-width=".7"/><ellipse rx="7.73" ry="5.88" fill="none" stroke="#ffe4d8" stroke-width="0.7" stroke-opacity=".9"/><ellipse rx="6.16" ry="4.69" fill="none" stroke="#fdd0bf" stroke-width="0.6" stroke-opacity=".9"/><ellipse rx="4.60" ry="3.50" fill="none" stroke="#fcc2ae" stroke-width="0.55" stroke-opacity=".9"/><ellipse rx="3.04" ry="2.31" fill="none" stroke="#fbb89e" stroke-width="0.5" stroke-opacity=".9"/><ellipse rx="1.66" ry="1.26" fill="#f26a40"/></g></g><g clip-path="url(#cp75)"><rect x="390.75" y="538.45" width="69.2" height="67.2" fill="url(#spgg)" filter="url(#bl)"/><path d="M415.0,575.0 C416.7,572.2 424.2,568.0 430.0,568.0 C435.8,568.0 445.3,571.3 450.0,575.0 C454.7,578.7 459.7,587.5 458.0,590.0 C456.3,592.5 446.3,590.8 440.0,590.0 C433.7,589.2 424.2,587.5 420.0,585.0 C415.8,582.5 413.3,577.8 415.0,575.0 Z" fill="url(#sprg)" fill-opacity="1" filter="url(#bl)"/><path d="M387.8,608.6 C379.0,605.9 386.3,588.1 387.8,585.0 C389.2,581.9 397.3,582.6 400.0,582.0 C402.7,581.4 408.4,579.9 410.7,579.9 C413.0,579.9 417.7,581.5 420.0,582.0 C422.3,582.5 427.7,583.4 430.0,584.0 C432.3,584.6 437.7,586.3 440.0,587.0 C442.3,587.7 447.3,589.4 450.0,590.0 C452.7,590.6 461.4,590.3 462.9,592.5 C464.5,594.7 471.7,606.8 462.9,608.6 C454.2,610.5 396.5,611.4 387.8,608.6 Z" fill="#d2f0d2" fill-opacity="1"/><ellipse cx="425" cy="597" rx="37" ry="4.8" fill="#a7e3a7" fill-opacity="1"/><ellipse cx="420" cy="597.5" rx="22" ry="2.5" fill="#72d172" fill-opacity="1"/><g transform="translate(404.7 594.2) rotate(-30)"><ellipse rx="11.0" ry="7.0" fill="#f7ac98" fill-opacity=".5"/><ellipse rx="10.3" ry="6.3" fill="#f0462e" stroke="#dc3520" stroke-width=".7"/><ellipse rx="8.82" ry="5.46" fill="none" stroke="#ffe4d8" stroke-width="0.7" stroke-opacity=".9"/><ellipse rx="7.04" ry="4.36" fill="none" stroke="#fdd0bf" stroke-width="0.6" stroke-opacity=".9"/><ellipse rx="5.25" ry="3.25" fill="none" stroke="#fcc2ae" stroke-width="0.55" stroke-opacity=".9"/><ellipse rx="3.47" ry="2.15" fill="none" stroke="#fbb89e" stroke-width="0.5" stroke-opacity=".9"/><ellipse rx="1.89" ry="1.17" fill="#f26a40"/></g></g><g clip-path="url(#cp76)"><rect x="463.50" y="538.45" width="69.2" height="67.2" fill="url(#spgs)" filter="url(#bl)"/><path d="M486.0,595.0 C485.2,592.5 490.2,581.7 492.0,575.0 C493.8,568.3 495.7,560.8 497.0,555.0 C498.3,549.2 498.8,542.5 500.0,540.0 C501.2,537.5 503.5,536.7 504.0,540.0 C504.5,543.3 503.3,553.3 503.0,560.0 C502.7,566.7 503.0,575.0 502.0,580.0 C501.0,585.0 499.7,587.5 497.0,590.0 C494.3,592.5 486.8,597.5 486.0,595.0 Z" fill="url(#sprg)" fill-opacity="0.9" filter="url(#bl)"/><path d="M487.9,598.8 C488.0,597.5 490.3,592.1 491.0,590.0 C491.7,587.9 493.4,582.6 494.0,581.0 C494.6,579.4 495.8,576.6 496.3,576.4 C496.8,576.2 498.1,578.3 498.5,579.0 C498.9,579.7 499.2,581.5 499.4,582.8 C499.6,584.1 498.8,588.8 500.0,590.0 C501.2,591.2 508.2,592.4 510.0,593.0 C511.8,593.6 514.1,594.4 515.0,595.0 C515.9,595.6 518.0,597.3 518.0,598.0 C518.0,598.7 516.5,600.5 515.0,601.0 C513.5,601.5 507.9,602.0 505.0,602.0 C502.1,602.0 492.0,601.4 490.0,601.0 C488.0,600.6 487.8,600.1 487.9,598.8 Z" fill="#d2f0d2" fill-opacity="1"/><ellipse cx="510.8" cy="597.3" rx="6" ry="3.5" fill="#a7e3a7" fill-opacity="1"/><ellipse cx="499" cy="597" rx="6" ry="3.5" fill="#a7e3a7" fill-opacity="1"/><ellipse cx="511" cy="597.5" rx="3" ry="2" fill="#72d172" fill-opacity="1"/><path d="M517.6,598.1 L532.7,598.1" fill="none" stroke="#44b844" stroke-width="1.0" stroke-opacity="1" stroke-linecap="round" stroke-linejoin="round"/><g transform="translate(501.6 594.3) rotate(60)"><ellipse rx="8.8" ry="6.3" fill="#f7ac98" fill-opacity=".5"/><ellipse rx="8.100000000000001" ry="5.6" fill="#f0462e" stroke="#dc3520" stroke-width=".7"/><ellipse rx="6.97" ry="4.87" fill="none" stroke="#ffe4d8" stroke-width="0.7" stroke-opacity=".9"/><ellipse rx="5.56" ry="3.89" fill="none" stroke="#fdd0bf" stroke-width="0.6" stroke-opacity=".9"/><ellipse rx="4.15" ry="2.90" fill="none" stroke="#fcc2ae" stroke-width="0.55" stroke-opacity=".9"/><ellipse rx="2.74" ry="1.91" fill="none" stroke="#fbb89e" stroke-width="0.5" stroke-opacity=".9"/><ellipse rx="1.49" ry="1.04" fill="#f26a40"/></g></g>
<path d="M39.8,46.0v1.8M39.8,113.2v-1.8M27.0,58.4h1.8M96.2,58.4h-1.8M52.6,46.0v1.8M52.6,113.2v-1.8M27.0,70.9h1.8M96.2,70.9h-1.8M65.4,46.0v1.8M65.4,113.2v-1.8M27.0,83.3h1.8M96.2,83.3h-1.8M78.3,46.0v1.8M78.3,113.2v-1.8M27.0,95.8h1.8M96.2,95.8h-1.8M91.1,46.0v1.8M91.1,113.2v-1.8M27.0,108.2h1.8M96.2,108.2h-1.8" stroke="#888" stroke-width="0.8" fill="none"/>
<rect x="27.00" y="46.00" width="69.2" height="67.2" fill="none" stroke="#858585" stroke-width="1.15"/>
<path d="M39.8,116.3v1.8M39.8,183.6v-1.8M27.0,128.8h1.8M96.2,128.8h-1.8M52.6,116.3v1.8M52.6,183.6v-1.8M27.0,141.2h1.8M96.2,141.2h-1.8M65.4,116.3v1.8M65.4,183.6v-1.8M27.0,153.7h1.8M96.2,153.7h-1.8M78.3,116.3v1.8M78.3,183.6v-1.8M27.0,166.1h1.8M96.2,166.1h-1.8M91.1,116.3v1.8M91.1,183.6v-1.8M27.0,178.6h1.8M96.2,178.6h-1.8" stroke="#888" stroke-width="0.8" fill="none"/>
<rect x="27.00" y="116.35" width="69.2" height="67.2" fill="none" stroke="#858585" stroke-width="1.15"/>
<path d="M112.6,116.3v1.8M112.6,183.6v-1.8M99.8,128.8h1.8M168.9,128.8h-1.8M125.4,116.3v1.8M125.4,183.6v-1.8M99.8,141.2h1.8M168.9,141.2h-1.8M138.2,116.3v1.8M138.2,183.6v-1.8M99.8,153.7h1.8M168.9,153.7h-1.8M151.0,116.3v1.8M151.0,183.6v-1.8M99.8,166.1h1.8M168.9,166.1h-1.8M163.8,116.3v1.8M163.8,183.6v-1.8M99.8,178.6h1.8M168.9,178.6h-1.8" stroke="#888" stroke-width="0.8" fill="none"/>
<rect x="99.75" y="116.35" width="69.2" height="67.2" fill="none" stroke="#858585" stroke-width="1.15"/>
<path d="M39.8,186.7v1.8M39.8,253.9v-1.8M27.0,199.1h1.8M96.2,199.1h-1.8M52.6,186.7v1.8M52.6,253.9v-1.8M27.0,211.6h1.8M96.2,211.6h-1.8M65.4,186.7v1.8M65.4,253.9v-1.8M27.0,224.0h1.8M96.2,224.0h-1.8M78.3,186.7v1.8M78.3,253.9v-1.8M27.0,236.5h1.8M96.2,236.5h-1.8M91.1,186.7v1.8M91.1,253.9v-1.8M27.0,248.9h1.8M96.2,248.9h-1.8" stroke="#888" stroke-width="0.8" fill="none"/>
<rect x="27.00" y="186.70" width="69.2" height="67.2" fill="none" stroke="#858585" stroke-width="1.15"/>
<path d="M112.6,186.7v1.8M112.6,253.9v-1.8M99.8,199.1h1.8M168.9,199.1h-1.8M125.4,186.7v1.8M125.4,253.9v-1.8M99.8,211.6h1.8M168.9,211.6h-1.8M138.2,186.7v1.8M138.2,253.9v-1.8M99.8,224.0h1.8M168.9,224.0h-1.8M151.0,186.7v1.8M151.0,253.9v-1.8M99.8,236.5h1.8M168.9,236.5h-1.8M163.8,186.7v1.8M163.8,253.9v-1.8M99.8,248.9h1.8M168.9,248.9h-1.8" stroke="#888" stroke-width="0.8" fill="none"/>
<rect x="99.75" y="186.70" width="69.2" height="67.2" fill="none" stroke="#858585" stroke-width="1.15"/>
<path d="M185.3,186.7v1.8M185.3,253.9v-1.8M172.5,199.1h1.8M241.7,199.1h-1.8M198.1,186.7v1.8M198.1,253.9v-1.8M172.5,211.6h1.8M241.7,211.6h-1.8M210.9,186.7v1.8M210.9,253.9v-1.8M172.5,224.0h1.8M241.7,224.0h-1.8M223.8,186.7v1.8M223.8,253.9v-1.8M172.5,236.5h1.8M241.7,236.5h-1.8M236.6,186.7v1.8M236.6,253.9v-1.8M172.5,248.9h1.8M241.7,248.9h-1.8" stroke="#888" stroke-width="0.8" fill="none"/>
<rect x="172.50" y="186.70" width="69.2" height="67.2" fill="none" stroke="#858585" stroke-width="1.15"/>
<path d="M39.8,257.0v1.8M39.8,324.2v-1.8M27.0,269.5h1.8M96.2,269.5h-1.8M52.6,257.0v1.8M52.6,324.2v-1.8M27.0,281.9h1.8M96.2,281.9h-1.8M65.4,257.0v1.8M65.4,324.2v-1.8M27.0,294.4h1.8M96.2,294.4h-1.8M78.3,257.0v1.8M78.3,324.2v-1.8M27.0,306.8h1.8M96.2,306.8h-1.8M91.1,257.0v1.8M91.1,324.2v-1.8M27.0,319.3h1.8M96.2,319.3h-1.8" stroke="#888" stroke-width="0.8" fill="none"/>
<rect x="27.00" y="257.05" width="69.2" height="67.2" fill="none" stroke="#858585" stroke-width="1.15"/>
<path d="M112.6,257.0v1.8M112.6,324.2v-1.8M99.8,269.5h1.8M168.9,269.5h-1.8M125.4,257.0v1.8M125.4,324.2v-1.8M99.8,281.9h1.8M168.9,281.9h-1.8M138.2,257.0v1.8M138.2,324.2v-1.8M99.8,294.4h1.8M168.9,294.4h-1.8M151.0,257.0v1.8M151.0,324.2v-1.8M99.8,306.8h1.8M168.9,306.8h-1.8M163.8,257.0v1.8M163.8,324.2v-1.8M99.8,319.3h1.8M168.9,319.3h-1.8" stroke="#888" stroke-width="0.8" fill="none"/>
<rect x="99.75" y="257.05" width="69.2" height="67.2" fill="none" stroke="#858585" stroke-width="1.15"/>
<path d="M185.3,257.0v1.8M185.3,324.2v-1.8M172.5,269.5h1.8M241.7,269.5h-1.8M198.1,257.0v1.8M198.1,324.2v-1.8M172.5,281.9h1.8M241.7,281.9h-1.8M210.9,257.0v1.8M210.9,324.2v-1.8M172.5,294.4h1.8M241.7,294.4h-1.8M223.8,257.0v1.8M223.8,324.2v-1.8M172.5,306.8h1.8M241.7,306.8h-1.8M236.6,257.0v1.8M236.6,324.2v-1.8M172.5,319.3h1.8M241.7,319.3h-1.8" stroke="#888" stroke-width="0.8" fill="none"/>
<rect x="172.50" y="257.05" width="69.2" height="67.2" fill="none" stroke="#858585" stroke-width="1.15"/>
<path d="M258.1,257.0v1.8M258.1,324.2v-1.8M245.2,269.5h1.8M314.4,269.5h-1.8M270.9,257.0v1.8M270.9,324.2v-1.8M245.2,281.9h1.8M314.4,281.9h-1.8M283.7,257.0v1.8M283.7,324.2v-1.8M245.2,294.4h1.8M314.4,294.4h-1.8M296.5,257.0v1.8M296.5,324.2v-1.8M245.2,306.8h1.8M314.4,306.8h-1.8M309.3,257.0v1.8M309.3,324.2v-1.8M245.2,319.3h1.8M314.4,319.3h-1.8" stroke="#888" stroke-width="0.8" fill="none"/>
<rect x="245.25" y="257.05" width="69.2" height="67.2" fill="none" stroke="#858585" stroke-width="1.15"/>
<path d="M39.8,327.4v1.8M39.8,394.6v-1.8M27.0,339.8h1.8M96.2,339.8h-1.8M52.6,327.4v1.8M52.6,394.6v-1.8M27.0,352.3h1.8M96.2,352.3h-1.8M65.4,327.4v1.8M65.4,394.6v-1.8M27.0,364.7h1.8M96.2,364.7h-1.8M78.3,327.4v1.8M78.3,394.6v-1.8M27.0,377.2h1.8M96.2,377.2h-1.8M91.1,327.4v1.8M91.1,394.6v-1.8M27.0,389.6h1.8M96.2,389.6h-1.8" stroke="#888" stroke-width="0.8" fill="none"/>
<rect x="27.00" y="327.40" width="69.2" height="67.2" fill="none" stroke="#858585" stroke-width="1.15"/>
<path d="M112.6,327.4v1.8M112.6,394.6v-1.8M99.8,339.8h1.8M168.9,339.8h-1.8M125.4,327.4v1.8M125.4,394.6v-1.8M99.8,352.3h1.8M168.9,352.3h-1.8M138.2,327.4v1.8M138.2,394.6v-1.8M99.8,364.7h1.8M168.9,364.7h-1.8M151.0,327.4v1.8M151.0,394.6v-1.8M99.8,377.2h1.8M168.9,377.2h-1.8M163.8,327.4v1.8M163.8,394.6v-1.8M99.8,389.6h1.8M168.9,389.6h-1.8" stroke="#888" stroke-width="0.8" fill="none"/>
<rect x="99.75" y="327.40" width="69.2" height="67.2" fill="none" stroke="#858585" stroke-width="1.15"/>
<path d="M185.3,327.4v1.8M185.3,394.6v-1.8M172.5,339.8h1.8M241.7,339.8h-1.8M198.1,327.4v1.8M198.1,394.6v-1.8M172.5,352.3h1.8M241.7,352.3h-1.8M210.9,327.4v1.8M210.9,394.6v-1.8M172.5,364.7h1.8M241.7,364.7h-1.8M223.8,327.4v1.8M223.8,394.6v-1.8M172.5,377.2h1.8M241.7,377.2h-1.8M236.6,327.4v1.8M236.6,394.6v-1.8M172.5,389.6h1.8M241.7,389.6h-1.8" stroke="#888" stroke-width="0.8" fill="none"/>
<rect x="172.50" y="327.40" width="69.2" height="67.2" fill="none" stroke="#858585" stroke-width="1.15"/>
<path d="M258.1,327.4v1.8M258.1,394.6v-1.8M245.2,339.8h1.8M314.4,339.8h-1.8M270.9,327.4v1.8M270.9,394.6v-1.8M245.2,352.3h1.8M314.4,352.3h-1.8M283.7,327.4v1.8M283.7,394.6v-1.8M245.2,364.7h1.8M314.4,364.7h-1.8M296.5,327.4v1.8M296.5,394.6v-1.8M245.2,377.2h1.8M314.4,377.2h-1.8M309.3,327.4v1.8M309.3,394.6v-1.8M245.2,389.6h1.8M314.4,389.6h-1.8" stroke="#888" stroke-width="0.8" fill="none"/>
<rect x="245.25" y="327.40" width="69.2" height="67.2" fill="none" stroke="#858585" stroke-width="1.15"/>
<path d="M330.8,327.4v1.8M330.8,394.6v-1.8M318.0,339.8h1.8M387.2,339.8h-1.8M343.6,327.4v1.8M343.6,394.6v-1.8M318.0,352.3h1.8M387.2,352.3h-1.8M356.4,327.4v1.8M356.4,394.6v-1.8M318.0,364.7h1.8M387.2,364.7h-1.8M369.3,327.4v1.8M369.3,394.6v-1.8M318.0,377.2h1.8M387.2,377.2h-1.8M382.1,327.4v1.8M382.1,394.6v-1.8M318.0,389.6h1.8M387.2,389.6h-1.8" stroke="#888" stroke-width="0.8" fill="none"/>
<rect x="318.00" y="327.40" width="69.2" height="67.2" fill="none" stroke="#858585" stroke-width="1.15"/>
<path d="M39.8,397.8v1.8M39.8,464.9v-1.8M27.0,410.2h1.8M96.2,410.2h-1.8M52.6,397.8v1.8M52.6,464.9v-1.8M27.0,422.6h1.8M96.2,422.6h-1.8M65.4,397.8v1.8M65.4,464.9v-1.8M27.0,435.1h1.8M96.2,435.1h-1.8M78.3,397.8v1.8M78.3,464.9v-1.8M27.0,447.5h1.8M96.2,447.5h-1.8M91.1,397.8v1.8M91.1,464.9v-1.8M27.0,460.0h1.8M96.2,460.0h-1.8" stroke="#888" stroke-width="0.8" fill="none"/>
<rect x="27.00" y="397.75" width="69.2" height="67.2" fill="none" stroke="#858585" stroke-width="1.15"/>
<path d="M112.6,397.8v1.8M112.6,464.9v-1.8M99.8,410.2h1.8M168.9,410.2h-1.8M125.4,397.8v1.8M125.4,464.9v-1.8M99.8,422.6h1.8M168.9,422.6h-1.8M138.2,397.8v1.8M138.2,464.9v-1.8M99.8,435.1h1.8M168.9,435.1h-1.8M151.0,397.8v1.8M151.0,464.9v-1.8M99.8,447.5h1.8M168.9,447.5h-1.8M163.8,397.8v1.8M163.8,464.9v-1.8M99.8,460.0h1.8M168.9,460.0h-1.8" stroke="#888" stroke-width="0.8" fill="none"/>
<rect x="99.75" y="397.75" width="69.2" height="67.2" fill="none" stroke="#858585" stroke-width="1.15"/>
<path d="M185.3,397.8v1.8M185.3,464.9v-1.8M172.5,410.2h1.8M241.7,410.2h-1.8M198.1,397.8v1.8M198.1,464.9v-1.8M172.5,422.6h1.8M241.7,422.6h-1.8M210.9,397.8v1.8M210.9,464.9v-1.8M172.5,435.1h1.8M241.7,435.1h-1.8M223.8,397.8v1.8M223.8,464.9v-1.8M172.5,447.5h1.8M241.7,447.5h-1.8M236.6,397.8v1.8M236.6,464.9v-1.8M172.5,460.0h1.8M241.7,460.0h-1.8" stroke="#888" stroke-width="0.8" fill="none"/>
<rect x="172.50" y="397.75" width="69.2" height="67.2" fill="none" stroke="#858585" stroke-width="1.15"/>
<path d="M258.1,397.8v1.8M258.1,464.9v-1.8M245.2,410.2h1.8M314.4,410.2h-1.8M270.9,397.8v1.8M270.9,464.9v-1.8M245.2,422.6h1.8M314.4,422.6h-1.8M283.7,397.8v1.8M283.7,464.9v-1.8M245.2,435.1h1.8M314.4,435.1h-1.8M296.5,397.8v1.8M296.5,464.9v-1.8M245.2,447.5h1.8M314.4,447.5h-1.8M309.3,397.8v1.8M309.3,464.9v-1.8M245.2,460.0h1.8M314.4,460.0h-1.8" stroke="#888" stroke-width="0.8" fill="none"/>
<rect x="245.25" y="397.75" width="69.2" height="67.2" fill="none" stroke="#858585" stroke-width="1.15"/>
<path d="M330.8,397.8v1.8M330.8,464.9v-1.8M318.0,410.2h1.8M387.2,410.2h-1.8M343.6,397.8v1.8M343.6,464.9v-1.8M318.0,422.6h1.8M387.2,422.6h-1.8M356.4,397.8v1.8M356.4,464.9v-1.8M318.0,435.1h1.8M387.2,435.1h-1.8M369.3,397.8v1.8M369.3,464.9v-1.8M318.0,447.5h1.8M387.2,447.5h-1.8M382.1,397.8v1.8M382.1,464.9v-1.8M318.0,460.0h1.8M387.2,460.0h-1.8" stroke="#888" stroke-width="0.8" fill="none"/>
<rect x="318.00" y="397.75" width="69.2" height="67.2" fill="none" stroke="#858585" stroke-width="1.15"/>
<path d="M403.6,397.8v1.8M403.6,464.9v-1.8M390.8,410.2h1.8M459.9,410.2h-1.8M416.4,397.8v1.8M416.4,464.9v-1.8M390.8,422.6h1.8M459.9,422.6h-1.8M429.2,397.8v1.8M429.2,464.9v-1.8M390.8,435.1h1.8M459.9,435.1h-1.8M442.0,397.8v1.8M442.0,464.9v-1.8M390.8,447.5h1.8M459.9,447.5h-1.8M454.8,397.8v1.8M454.8,464.9v-1.8M390.8,460.0h1.8M459.9,460.0h-1.8" stroke="#888" stroke-width="0.8" fill="none"/>
<rect x="390.75" y="397.75" width="69.2" height="67.2" fill="none" stroke="#858585" stroke-width="1.15"/>
<path d="M39.8,468.1v1.8M39.8,535.3v-1.8M27.0,480.5h1.8M96.2,480.5h-1.8M52.6,468.1v1.8M52.6,535.3v-1.8M27.0,493.0h1.8M96.2,493.0h-1.8M65.4,468.1v1.8M65.4,535.3v-1.8M27.0,505.4h1.8M96.2,505.4h-1.8M78.3,468.1v1.8M78.3,535.3v-1.8M27.0,517.9h1.8M96.2,517.9h-1.8M91.1,468.1v1.8M91.1,535.3v-1.8M27.0,530.3h1.8M96.2,530.3h-1.8" stroke="#888" stroke-width="0.8" fill="none"/>
<rect x="27.00" y="468.10" width="69.2" height="67.2" fill="none" stroke="#858585" stroke-width="1.15"/>
<path d="M112.6,468.1v1.8M112.6,535.3v-1.8M99.8,480.5h1.8M168.9,480.5h-1.8M125.4,468.1v1.8M125.4,535.3v-1.8M99.8,493.0h1.8M168.9,493.0h-1.8M138.2,468.1v1.8M138.2,535.3v-1.8M99.8,505.4h1.8M168.9,505.4h-1.8M151.0,468.1v1.8M151.0,535.3v-1.8M99.8,517.9h1.8M168.9,517.9h-1.8M163.8,468.1v1.8M163.8,535.3v-1.8M99.8,530.3h1.8M168.9,530.3h-1.8" stroke="#888" stroke-width="0.8" fill="none"/>
<rect x="99.75" y="468.10" width="69.2" height="67.2" fill="none" stroke="#858585" stroke-width="1.15"/>
<path d="M185.3,468.1v1.8M185.3,535.3v-1.8M172.5,480.5h1.8M241.7,480.5h-1.8M198.1,468.1v1.8M198.1,535.3v-1.8M172.5,493.0h1.8M241.7,493.0h-1.8M210.9,468.1v1.8M210.9,535.3v-1.8M172.5,505.4h1.8M241.7,505.4h-1.8M223.8,468.1v1.8M223.8,535.3v-1.8M172.5,517.9h1.8M241.7,517.9h-1.8M236.6,468.1v1.8M236.6,535.3v-1.8M172.5,530.3h1.8M241.7,530.3h-1.8" stroke="#888" stroke-width="0.8" fill="none"/>
<rect x="172.50" y="468.10" width="69.2" height="67.2" fill="none" stroke="#858585" stroke-width="1.15"/>
<path d="M258.1,468.1v1.8M258.1,535.3v-1.8M245.2,480.5h1.8M314.4,480.5h-1.8M270.9,468.1v1.8M270.9,535.3v-1.8M245.2,493.0h1.8M314.4,493.0h-1.8M283.7,468.1v1.8M283.7,535.3v-1.8M245.2,505.4h1.8M314.4,505.4h-1.8M296.5,468.1v1.8M296.5,535.3v-1.8M245.2,517.9h1.8M314.4,517.9h-1.8M309.3,468.1v1.8M309.3,535.3v-1.8M245.2,530.3h1.8M314.4,530.3h-1.8" stroke="#888" stroke-width="0.8" fill="none"/>
<rect x="245.25" y="468.10" width="69.2" height="67.2" fill="none" stroke="#858585" stroke-width="1.15"/>
<path d="M330.8,468.1v1.8M330.8,535.3v-1.8M318.0,480.5h1.8M387.2,480.5h-1.8M343.6,468.1v1.8M343.6,535.3v-1.8M318.0,493.0h1.8M387.2,493.0h-1.8M356.4,468.1v1.8M356.4,535.3v-1.8M318.0,505.4h1.8M387.2,505.4h-1.8M369.3,468.1v1.8M369.3,535.3v-1.8M318.0,517.9h1.8M387.2,517.9h-1.8M382.1,468.1v1.8M382.1,535.3v-1.8M318.0,530.3h1.8M387.2,530.3h-1.8" stroke="#888" stroke-width="0.8" fill="none"/>
<rect x="318.00" y="468.10" width="69.2" height="67.2" fill="none" stroke="#858585" stroke-width="1.15"/>
<path d="M403.6,468.1v1.8M403.6,535.3v-1.8M390.8,480.5h1.8M459.9,480.5h-1.8M416.4,468.1v1.8M416.4,535.3v-1.8M390.8,493.0h1.8M459.9,493.0h-1.8M429.2,468.1v1.8M429.2,535.3v-1.8M390.8,505.4h1.8M459.9,505.4h-1.8M442.0,468.1v1.8M442.0,535.3v-1.8M390.8,517.9h1.8M459.9,517.9h-1.8M454.8,468.1v1.8M454.8,535.3v-1.8M390.8,530.3h1.8M459.9,530.3h-1.8" stroke="#888" stroke-width="0.8" fill="none"/>
<rect x="390.75" y="468.10" width="69.2" height="67.2" fill="none" stroke="#858585" stroke-width="1.15"/>
<path d="M476.3,468.1v1.8M476.3,535.3v-1.8M463.5,480.5h1.8M532.7,480.5h-1.8M489.1,468.1v1.8M489.1,535.3v-1.8M463.5,493.0h1.8M532.7,493.0h-1.8M501.9,468.1v1.8M501.9,535.3v-1.8M463.5,505.4h1.8M532.7,505.4h-1.8M514.8,468.1v1.8M514.8,535.3v-1.8M463.5,517.9h1.8M532.7,517.9h-1.8M527.6,468.1v1.8M527.6,535.3v-1.8M463.5,530.3h1.8M532.7,530.3h-1.8" stroke="#888" stroke-width="0.8" fill="none"/>
<rect x="463.50" y="468.10" width="69.2" height="67.2" fill="none" stroke="#858585" stroke-width="1.15"/>
<path d="M39.8,538.4v1.8M39.8,605.6v-1.8M27.0,550.9h1.8M96.2,550.9h-1.8M52.6,538.4v1.8M52.6,605.6v-1.8M27.0,563.3h1.8M96.2,563.3h-1.8M65.4,538.4v1.8M65.4,605.6v-1.8M27.0,575.8h1.8M96.2,575.8h-1.8M78.3,538.4v1.8M78.3,605.6v-1.8M27.0,588.2h1.8M96.2,588.2h-1.8M91.1,538.4v1.8M91.1,605.6v-1.8M27.0,600.7h1.8M96.2,600.7h-1.8" stroke="#888" stroke-width="0.8" fill="none"/>
<rect x="27.00" y="538.45" width="69.2" height="67.2" fill="none" stroke="#858585" stroke-width="1.15"/>
<path d="M112.6,538.4v1.8M112.6,605.6v-1.8M99.8,550.9h1.8M168.9,550.9h-1.8M125.4,538.4v1.8M125.4,605.6v-1.8M99.8,563.3h1.8M168.9,563.3h-1.8M138.2,538.4v1.8M138.2,605.6v-1.8M99.8,575.8h1.8M168.9,575.8h-1.8M151.0,538.4v1.8M151.0,605.6v-1.8M99.8,588.2h1.8M168.9,588.2h-1.8M163.8,538.4v1.8M163.8,605.6v-1.8M99.8,600.7h1.8M168.9,600.7h-1.8" stroke="#888" stroke-width="0.8" fill="none"/>
<rect x="99.75" y="538.45" width="69.2" height="67.2" fill="none" stroke="#858585" stroke-width="1.15"/>
<path d="M185.3,538.4v1.8M185.3,605.6v-1.8M172.5,550.9h1.8M241.7,550.9h-1.8M198.1,538.4v1.8M198.1,605.6v-1.8M172.5,563.3h1.8M241.7,563.3h-1.8M210.9,538.4v1.8M210.9,605.6v-1.8M172.5,575.8h1.8M241.7,575.8h-1.8M223.8,538.4v1.8M223.8,605.6v-1.8M172.5,588.2h1.8M241.7,588.2h-1.8M236.6,538.4v1.8M236.6,605.6v-1.8M172.5,600.7h1.8M241.7,600.7h-1.8" stroke="#888" stroke-width="0.8" fill="none"/>
<rect x="172.50" y="538.45" width="69.2" height="67.2" fill="none" stroke="#858585" stroke-width="1.15"/>
<path d="M258.1,538.4v1.8M258.1,605.6v-1.8M245.2,550.9h1.8M314.4,550.9h-1.8M270.9,538.4v1.8M270.9,605.6v-1.8M245.2,563.3h1.8M314.4,563.3h-1.8M283.7,538.4v1.8M283.7,605.6v-1.8M245.2,575.8h1.8M314.4,575.8h-1.8M296.5,538.4v1.8M296.5,605.6v-1.8M245.2,588.2h1.8M314.4,588.2h-1.8M309.3,538.4v1.8M309.3,605.6v-1.8M245.2,600.7h1.8M314.4,600.7h-1.8" stroke="#888" stroke-width="0.8" fill="none"/>
<rect x="245.25" y="538.45" width="69.2" height="67.2" fill="none" stroke="#858585" stroke-width="1.15"/>
<path d="M330.8,538.4v1.8M330.8,605.6v-1.8M318.0,550.9h1.8M387.2,550.9h-1.8M343.6,538.4v1.8M343.6,605.6v-1.8M318.0,563.3h1.8M387.2,563.3h-1.8M356.4,538.4v1.8M356.4,605.6v-1.8M318.0,575.8h1.8M387.2,575.8h-1.8M369.3,538.4v1.8M369.3,605.6v-1.8M318.0,588.2h1.8M387.2,588.2h-1.8M382.1,538.4v1.8M382.1,605.6v-1.8M318.0,600.7h1.8M387.2,600.7h-1.8" stroke="#888" stroke-width="0.8" fill="none"/>
<rect x="318.00" y="538.45" width="69.2" height="67.2" fill="none" stroke="#858585" stroke-width="1.15"/>
<path d="M403.6,538.4v1.8M403.6,605.6v-1.8M390.8,550.9h1.8M459.9,550.9h-1.8M416.4,538.4v1.8M416.4,605.6v-1.8M390.8,563.3h1.8M459.9,563.3h-1.8M429.2,538.4v1.8M429.2,605.6v-1.8M390.8,575.8h1.8M459.9,575.8h-1.8M442.0,538.4v1.8M442.0,605.6v-1.8M390.8,588.2h1.8M459.9,588.2h-1.8M454.8,538.4v1.8M454.8,605.6v-1.8M390.8,600.7h1.8M459.9,600.7h-1.8" stroke="#888" stroke-width="0.8" fill="none"/>
<rect x="390.75" y="538.45" width="69.2" height="67.2" fill="none" stroke="#858585" stroke-width="1.15"/>
<path d="M476.3,538.4v1.8M476.3,605.6v-1.8M463.5,550.9h1.8M532.7,550.9h-1.8M489.1,538.4v1.8M489.1,605.6v-1.8M463.5,563.3h1.8M532.7,563.3h-1.8M501.9,538.4v1.8M501.9,605.6v-1.8M463.5,575.8h1.8M532.7,575.8h-1.8M514.8,538.4v1.8M514.8,605.6v-1.8M463.5,588.2h1.8M532.7,588.2h-1.8M527.6,538.4v1.8M527.6,605.6v-1.8M463.5,600.7h1.8M532.7,600.7h-1.8" stroke="#888" stroke-width="0.8" fill="none"/>
<rect x="463.50" y="538.45" width="69.2" height="67.2" fill="none" stroke="#858585" stroke-width="1.15"/>
<path d="M549.1,538.4v1.8M549.1,605.6v-1.8M536.2,550.9h1.8M605.5,550.9h-1.8M561.9,538.4v1.8M561.9,605.6v-1.8M536.2,563.3h1.8M605.5,563.3h-1.8M574.7,538.4v1.8M574.7,605.6v-1.8M536.2,575.8h1.8M605.5,575.8h-1.8M587.5,538.4v1.8M587.5,605.6v-1.8M536.2,588.2h1.8M605.5,588.2h-1.8M600.3,538.4v1.8M600.3,605.6v-1.8M536.2,600.7h1.8M605.5,600.7h-1.8" stroke="#888" stroke-width="0.8" fill="none"/>
<rect x="536.25" y="538.45" width="69.2" height="67.2" fill="none" stroke="#858585" stroke-width="1.15"/>
<text x="29.2" y="39.6" font-size="15.6" textLength="62.8" lengthAdjust="spacingAndGlyphs" fill="#141414" stroke="#141414" stroke-width="0.35">log(H<tspan dy="5.4" font-size="14.5">2</tspan><tspan dy="-5.4">O)</tspan></text><text x="104.3" y="109.2" font-size="15.6" textLength="53.3" lengthAdjust="spacingAndGlyphs" fill="#141414" stroke="#141414" stroke-width="0.35">log(CO)</text><text x="177.2" y="180.8" font-size="15.6" textLength="60.8" lengthAdjust="spacingAndGlyphs" fill="#141414" stroke="#141414" stroke-width="0.35">log(CH<tspan dy="5.4" font-size="14.5">4</tspan><tspan dy="-5.4">)</tspan></text><text x="248.2" y="249.7" font-size="15.6" textLength="63.1" lengthAdjust="spacingAndGlyphs" fill="#141414" stroke="#141414" stroke-width="0.35">log(NH<tspan dy="5.4" font-size="14.5">3</tspan><tspan dy="-5.4">)</tspan></text><text x="321.3" y="320.3" font-size="15.6" textLength="61.7" lengthAdjust="spacingAndGlyphs" fill="#141414" stroke="#141414" stroke-width="0.35">log(CO<tspan dy="5.4" font-size="14.5">2</tspan><tspan dy="-5.4">)</tspan></text><text x="405.2" y="392" font-size="15.6" textLength="42.6" lengthAdjust="spacingAndGlyphs" fill="#141414" stroke="#141414" stroke-width="0.35">Temp.</text><text x="490.7" y="457.9" font-size="15.6" textLength="17.6" lengthAdjust="spacingAndGlyphs" fill="#141414" stroke="#141414" stroke-width="0.35">R<tspan dy="5.4" font-size="14.5">p</tspan></text><g stroke="#141414" fill="none" stroke-linecap="round"><path d="M570.6,518.6 L566.6,534.2" stroke-width="1.7"/><path d="M568.9,525.5 C568.3,528.8 569.6,529.9 571.8,529.7 C574.2,529.4 576.1,527.4 577.1,524.3" stroke-width="1.3"/><path d="M578.3,519 L577.1,526.8 C576.8,529 577.6,529.9 578.6,529.3 C579.3,528.8 579.7,527.6 579.9,526.2" stroke-width="1.4"/></g>
<text transform="translate(19.3 117.3) rotate(-45)" font-size="6.0" text-anchor="middle" dy="2.10" fill="#383838">0.0</text><text transform="translate(18.0 131.2) rotate(-45)" font-size="6.0" text-anchor="middle" dy="2.10" fill="#383838">−2.5</text><text transform="translate(18.0 145.2) rotate(-45)" font-size="6.0" text-anchor="middle" dy="2.10" fill="#383838">−5.0</text><text transform="translate(18.0 159.1) rotate(-45)" font-size="6.0" text-anchor="middle" dy="2.10" fill="#383838">−7.5</text><text transform="translate(16.8 172.9) rotate(-45)" font-size="6.0" text-anchor="middle" dy="2.10" fill="#383838">−10.0</text><text transform="translate(5.6 149.9) rotate(-90)" font-size="6.2" text-anchor="middle" fill="#383838">log(CO)</text><text transform="translate(19.3 187.7) rotate(-45)" font-size="6.0" text-anchor="middle" dy="2.10" fill="#383838">0.0</text><text transform="translate(18.0 201.6) rotate(-45)" font-size="6.0" text-anchor="middle" dy="2.10" fill="#383838">−2.5</text><text transform="translate(18.0 215.5) rotate(-45)" font-size="6.0" text-anchor="middle" dy="2.10" fill="#383838">−5.0</text><text transform="translate(18.0 229.4) rotate(-45)" font-size="6.0" text-anchor="middle" dy="2.10" fill="#383838">−7.5</text><text transform="translate(16.8 243.3) rotate(-45)" font-size="6.0" text-anchor="middle" dy="2.10" fill="#383838">−10.0</text><text transform="translate(5.6 220.3) rotate(-90)" font-size="6.2" text-anchor="middle" fill="#383838">log(CH<tspan font-size="4.3" dy="1.9">4</tspan><tspan dy="-1.9">)</tspan></text><text transform="translate(19.3 258.0) rotate(-45)" font-size="6.0" text-anchor="middle" dy="2.10" fill="#383838">0.0</text><text transform="translate(18.0 271.9) rotate(-45)" font-size="6.0" text-anchor="middle" dy="2.10" fill="#383838">−2.5</text><text transform="translate(18.0 285.8) rotate(-45)" font-size="6.0" text-anchor="middle" dy="2.10" fill="#383838">−5.0</text><text transform="translate(18.0 299.7) rotate(-45)" font-size="6.0" text-anchor="middle" dy="2.10" fill="#383838">−7.5</text><text transform="translate(16.8 313.6) rotate(-45)" font-size="6.0" text-anchor="middle" dy="2.10" fill="#383838">−10.0</text><text transform="translate(5.6 290.6) rotate(-90)" font-size="6.2" text-anchor="middle" fill="#383838">log(NH<tspan font-size="4.3" dy="1.9">3</tspan><tspan dy="-1.9">)</tspan></text><text transform="translate(19.3 328.4) rotate(-45)" font-size="6.0" text-anchor="middle" dy="2.10" fill="#383838">0.0</text><text transform="translate(18.0 342.3) rotate(-45)" font-size="6.0" text-anchor="middle" dy="2.10" fill="#383838">−2.5</text><text transform="translate(18.0 356.2) rotate(-45)" font-size="6.0" text-anchor="middle" dy="2.10" fill="#383838">−5.0</text><text transform="translate(18.0 370.1) rotate(-45)" font-size="6.0" text-anchor="middle" dy="2.10" fill="#383838">−7.5</text><text transform="translate(16.8 384.0) rotate(-45)" font-size="6.0" text-anchor="middle" dy="2.10" fill="#383838">−10.0</text><text transform="translate(5.6 361.0) rotate(-90)" font-size="6.2" text-anchor="middle" fill="#383838">log(CO<tspan font-size="4.3" dy="1.9">2</tspan><tspan dy="-1.9">)</tspan></text><text transform="translate(17.5 398.8) rotate(-45)" font-size="6.0" text-anchor="middle" dy="2.10" fill="#383838">1800</text><text transform="translate(17.5 412.2) rotate(-45)" font-size="6.0" text-anchor="middle" dy="2.10" fill="#383838">1700</text><text transform="translate(17.5 425.6) rotate(-45)" font-size="6.0" text-anchor="middle" dy="2.10" fill="#383838">1600</text><text transform="translate(17.5 439.1) rotate(-45)" font-size="6.0" text-anchor="middle" dy="2.10" fill="#383838">1500</text><text transform="translate(17.5 452.6) rotate(-45)" font-size="6.0" text-anchor="middle" dy="2.10" fill="#383838">1400</text><text transform="translate(5.6 431.4) rotate(-90)" font-size="6.2" text-anchor="middle" fill="#383838">T</text><text transform="translate(16.9 481.1) rotate(-45)" font-size="6.0" text-anchor="middle" dy="2.10" fill="#383838">1.155</text><text transform="translate(16.9 496.9) rotate(-45)" font-size="6.0" text-anchor="middle" dy="2.10" fill="#383838">1.140</text><text transform="translate(16.9 512.4) rotate(-45)" font-size="6.0" text-anchor="middle" dy="2.10" fill="#383838">1.125</text><text transform="translate(16.9 528.3) rotate(-45)" font-size="6.0" text-anchor="middle" dy="2.10" fill="#383838">1.110</text><text transform="translate(5.6 507.2) rotate(-90)" font-size="6.2" text-anchor="middle" fill="#383838">R<tspan font-size="4.3" dy="1.9">p</tspan><tspan dy="-1.9"></tspan></text><text transform="translate(19.3 551.0) rotate(-45)" font-size="6.0" text-anchor="middle" dy="2.10" fill="#383838">3.3</text><text transform="translate(19.3 566.0) rotate(-45)" font-size="6.0" text-anchor="middle" dy="2.10" fill="#383838">3.0</text><text transform="translate(19.3 580.0) rotate(-45)" font-size="6.0" text-anchor="middle" dy="2.10" fill="#383838">2.7</text><text transform="translate(19.3 594.2) rotate(-45)" font-size="6.0" text-anchor="middle" dy="2.10" fill="#383838">2.4</text><text transform="translate(5.6 576.5) rotate(-90)" font-size="6.2" text-anchor="middle" fill="#383838">μ (derived)</text><text transform="translate(32.3 610.3) rotate(-45)" font-size="6.0" text-anchor="middle" dy="2.10" fill="#383838">−8</text><text transform="translate(48.3 610.3) rotate(-45)" font-size="6.0" text-anchor="middle" dy="2.10" fill="#383838">−6</text><text transform="translate(64.4 610.3) rotate(-45)" font-size="6.0" text-anchor="middle" dy="2.10" fill="#383838">−4</text><text transform="translate(80.4 610.3) rotate(-45)" font-size="6.0" text-anchor="middle" dy="2.10" fill="#383838">−2</text><text transform="translate(96.5 609.1) rotate(-45)" font-size="6.0" text-anchor="middle" dy="2.10" fill="#383838">0</text><text x="61.6" y="629.2" font-size="6.2" text-anchor="middle" fill="#383838">log(H<tspan font-size="4.3" dy="1.9">2</tspan><tspan dy="-1.9">O)</tspan></text><text transform="translate(111.4 613.3) rotate(-45)" font-size="6.0" text-anchor="middle" dy="2.10" fill="#383838">−10.0</text><text transform="translate(126.0 612.1) rotate(-45)" font-size="6.0" text-anchor="middle" dy="2.10" fill="#383838">−7.5</text><text transform="translate(140.3 612.1) rotate(-45)" font-size="6.0" text-anchor="middle" dy="2.10" fill="#383838">−5.0</text><text transform="translate(154.6 612.1) rotate(-45)" font-size="6.0" text-anchor="middle" dy="2.10" fill="#383838">−2.5</text><text transform="translate(169.2 610.8) rotate(-45)" font-size="6.0" text-anchor="middle" dy="2.10" fill="#383838">0.0</text><text x="134.3" y="629.2" font-size="6.2" text-anchor="middle" fill="#383838">log(CO)</text><text transform="translate(184.2 613.3) rotate(-45)" font-size="6.0" text-anchor="middle" dy="2.10" fill="#383838">−10.0</text><text transform="translate(198.8 612.1) rotate(-45)" font-size="6.0" text-anchor="middle" dy="2.10" fill="#383838">−7.5</text><text transform="translate(213.1 612.1) rotate(-45)" font-size="6.0" text-anchor="middle" dy="2.10" fill="#383838">−5.0</text><text transform="translate(227.3 612.1) rotate(-45)" font-size="6.0" text-anchor="middle" dy="2.10" fill="#383838">−2.5</text><text transform="translate(241.9 610.8) rotate(-45)" font-size="6.0" text-anchor="middle" dy="2.10" fill="#383838">0.0</text><text x="207.1" y="629.2" font-size="6.2" text-anchor="middle" fill="#383838">log(CH<tspan font-size="4.3" dy="1.9">4</tspan><tspan dy="-1.9">)</tspan></text><text transform="translate(256.9 613.3) rotate(-45)" font-size="6.0" text-anchor="middle" dy="2.10" fill="#383838">−10.0</text><text transform="translate(271.5 612.1) rotate(-45)" font-size="6.0" text-anchor="middle" dy="2.10" fill="#383838">−7.5</text><text transform="translate(285.8 612.1) rotate(-45)" font-size="6.0" text-anchor="middle" dy="2.10" fill="#383838">−5.0</text><text transform="translate(300.1 612.1) rotate(-45)" font-size="6.0" text-anchor="middle" dy="2.10" fill="#383838">−2.5</text><text transform="translate(314.7 610.8) rotate(-45)" font-size="6.0" text-anchor="middle" dy="2.10" fill="#383838">0.0</text><text x="279.9" y="629.2" font-size="6.2" text-anchor="middle" fill="#383838">log(NH<tspan font-size="4.3" dy="1.9">3</tspan><tspan dy="-1.9">)</tspan></text><text transform="translate(329.6 613.3) rotate(-45)" font-size="6.0" text-anchor="middle" dy="2.10" fill="#383838">−10.0</text><text transform="translate(344.2 612.1) rotate(-45)" font-size="6.0" text-anchor="middle" dy="2.10" fill="#383838">−7.5</text><text transform="translate(358.6 612.1) rotate(-45)" font-size="6.0" text-anchor="middle" dy="2.10" fill="#383838">−5.0</text><text transform="translate(372.9 612.1) rotate(-45)" font-size="6.0" text-anchor="middle" dy="2.10" fill="#383838">−2.5</text><text transform="translate(387.4 610.8) rotate(-45)" font-size="6.0" text-anchor="middle" dy="2.10" fill="#383838">0.0</text><text x="352.6" y="629.2" font-size="6.2" text-anchor="middle" fill="#383838">log(CO<tspan font-size="4.3" dy="1.9">2</tspan><tspan dy="-1.9">)</tspan></text><text transform="translate(404.3 612.6) rotate(-45)" font-size="6.0" text-anchor="middle" dy="2.10" fill="#383838">1400</text><text transform="translate(418.3 612.6) rotate(-45)" font-size="6.0" text-anchor="middle" dy="2.10" fill="#383838">1500</text><text transform="translate(432.3 612.6) rotate(-45)" font-size="6.0" text-anchor="middle" dy="2.10" fill="#383838">1600</text><text transform="translate(446.3 612.6) rotate(-45)" font-size="6.0" text-anchor="middle" dy="2.10" fill="#383838">1700</text><text transform="translate(460.3 612.6) rotate(-45)" font-size="6.0" text-anchor="middle" dy="2.10" fill="#383838">1800</text><text x="425.4" y="629.2" font-size="6.2" text-anchor="middle" fill="#383838">T</text><text transform="translate(472.5 613.2) rotate(-45)" font-size="6.0" text-anchor="middle" dy="2.10" fill="#383838">1.110</text><text transform="translate(487.7 613.2) rotate(-45)" font-size="6.0" text-anchor="middle" dy="2.10" fill="#383838">1.125</text><text transform="translate(502.9 613.2) rotate(-45)" font-size="6.0" text-anchor="middle" dy="2.10" fill="#383838">1.140</text><text transform="translate(518.1 613.2) rotate(-45)" font-size="6.0" text-anchor="middle" dy="2.10" fill="#383838">1.155</text><text x="498.1" y="629.2" font-size="6.2" text-anchor="middle" fill="#383838">R<tspan font-size="4.3" dy="1.9">p</tspan><tspan dy="-1.9"></tspan></text><text transform="translate(548.5 610.8) rotate(-45)" font-size="6.0" text-anchor="middle" dy="2.10" fill="#383838">2.4</text><text transform="translate(563.2 610.8) rotate(-45)" font-size="6.0" text-anchor="middle" dy="2.10" fill="#383838">2.7</text><text transform="translate(578.0 610.8) rotate(-45)" font-size="6.0" text-anchor="middle" dy="2.10" fill="#383838">3.0</text><text transform="translate(592.8 610.8) rotate(-45)" font-size="6.0" text-anchor="middle" dy="2.10" fill="#383838">3.3</text><text x="570.9" y="629.2" font-size="6.2" text-anchor="middle" fill="#383838">μ (derived)</text>
<rect x="410" y="0" width="275" height="320" fill="#fff"/><path d="M410.5,0 V319.5 H685" fill="none" stroke="#f2f2f2" stroke-width="1"/><path d="M436.2,1.5 H682" stroke="#c4c4c4" stroke-width="1.2"/><path d="M682,1.5 V301.5" stroke="#ececec" stroke-width="1"/><path d="M436.2,1.5 V301.5" stroke="#a8a8a8" stroke-width="1.1"/><path d="M436.2,301.5 H682" stroke="#c9c9d6" stroke-width="1.3"/><path d="M436.2,301.5v-2M436.2,1.5v2M483.2,301.5v-2M483.2,1.5v2M530.2,301.5v-2M530.2,1.5v2M577.2,301.5v-2M577.2,1.5v2M624.2,301.5v-2M624.2,1.5v2M671.2,301.5v-2M671.2,1.5v2M436.2,41.5h2M682,41.5h-2M436.2,91.6h2M682,91.6h-2M436.2,141.7h2M682,141.7h-2M436.2,191.8h2M682,191.8h-2M436.2,241.9h2M682,241.9h-2M436.2,292.0h2M682,292.0h-2" stroke="#bbb" stroke-width=".8"/><text x="435" y="45.1" font-size="10" text-anchor="end" fill="#333" font-weight="bold" letter-spacing="-0.1">21.5</text><text x="435" y="95.2" font-size="10" text-anchor="end" fill="#333" font-weight="bold" letter-spacing="-0.1">21.0</text><text x="435" y="145.3" font-size="10" text-anchor="end" fill="#333" font-weight="bold" letter-spacing="-0.1">20.5</text><text x="435" y="195.4" font-size="10" text-anchor="end" fill="#333" font-weight="bold" letter-spacing="-0.1">20.0</text><text x="435" y="245.5" font-size="10" text-anchor="end" fill="#333" font-weight="bold" letter-spacing="-0.1">19.5</text><text x="435" y="295.6" font-size="10" text-anchor="end" fill="#333" font-weight="bold" letter-spacing="-0.1">19.0</text><text x="436.2" y="310.2" font-size="10" text-anchor="middle" fill="#333" font-weight="bold">0</text><text x="483.2" y="310.2" font-size="10" text-anchor="middle" fill="#333" font-weight="bold">2</text><text x="530.2" y="310.2" font-size="10" text-anchor="middle" fill="#333" font-weight="bold">4</text><text x="577.2" y="310.2" font-size="10" text-anchor="middle" fill="#333" font-weight="bold">6</text><text x="624.2" y="310.2" font-size="10" text-anchor="middle" fill="#333" font-weight="bold">8</text><text x="671.2" y="310.2" font-size="10" text-anchor="middle" fill="#333" font-weight="bold">10</text><clipPath id="wlc"><rect x="500" y="300" width="120" height="18"/></clipPath><text x="521.5" y="320.1" font-size="10.8" fill="#7a7a7a" textLength="76" lengthAdjust="spacingAndGlyphs" clip-path="url(#wlc)">Wavelength (μm)</text><text transform="translate(410.2 152) rotate(-90)" font-size="8.6" text-anchor="middle" fill="#8a8a8a" font-family="Liberation Serif, serif" font-style="italic" textLength="60" lengthAdjust="spacingAndGlyphs">(R<tspan font-size="6" dy="1.8">p</tspan><tspan dy="-1.8">/R</tspan><tspan font-size="6" dy="1.8">*</tspan><tspan dy="-1.8">)</tspan><tspan font-size="6" dy="-3.5">2</tspan><tspan dy="3.5" font-style="normal"> × 10</tspan><tspan font-size="6" dy="-3.5">−2</tspan></text><path d="M447.9,121.3 L448.9,123.1 L449.8,121.6 L450.8,121.1 L451.7,116.6 L452.6,114.4 L453.6,113.2 L454.5,111.3 L455.5,111.4 L456.4,107.5 L457.4,101.8 L458.3,102.6 L459.2,102.1 L460.2,93.8 L461.1,92.4 L462.1,81.9 L463.0,76.5 L463.9,85.7 L464.9,97.2 L465.8,102.7 L466.8,92.2 L467.7,76.1 L468.6,61.6 L469.6,49.3 L470.5,57.4 L471.4,60.3 L472.4,70.9 L473.3,74.5 L474.3,83.5 L475.2,90.1 L476.2,90.1 L477.1,78.4 L478.0,73.7 L479.0,60.6 L479.9,58.2 L480.9,55.1 L481.8,57.5 L482.7,55.4 L483.7,57.1 L484.6,64.8 L485.6,71.7 L486.5,76.7 L487.4,83.7 L488.4,81.3 L489.3,76.4 L490.2,66.6 L491.2,60.5 L492.1,52.0 L493.1,55.1 L494.0,49.5 L495.0,46.6 L495.9,37.7 L496.8,36.1 L497.8,39.2 L498.7,33.2 L499.7,32.8 L500.6,32.6 L501.5,29.5 L502.5,30.7 L503.4,32.3 L504.4,32.0 L505.3,33.4 L506.2,36.8 L507.2,33.4 L508.1,37.1 L509.1,40.2 L510.0,37.9 L510.9,40.2 L511.9,42.7 L512.8,46.1 L513.8,44.9 L514.7,46.7 L515.6,51.3 L516.6,53.5 L517.5,54.2 L518.5,61.6 L519.4,61.1 L520.3,63.9 L521.3,68.0 L522.2,63.5 L523.2,73.8 L524.1,74.2 L525.0,75.8 L526.0,76.7 L526.9,82.5 L527.9,83.6 L528.8,83.3 L529.7,84.7 L530.7,79.1 L531.6,76.1 L532.6,75.4 L533.5,76.0 L534.4,66.4 L535.4,70.2 L536.3,62.9 L537.3,61.0 L538.2,56.6 L539.1,60.6 L540.1,58.7 L541.0,54.5 L542.0,53.5 L542.9,56.9 L543.8,52.2 L544.8,55.0 L545.7,55.6 L546.7,52.5 L547.6,52.6 L548.5,52.7 L549.5,50.6 L550.4,52.0 L551.4,57.8 L552.3,51.7 L553.2,51.1 L554.2,53.2 L555.1,53.0 L556.1,52.3 L557.0,50.8 L557.9,55.1 L558.9,50.2 L559.8,52.0 L560.8,53.3 L561.7,55.3 L562.6,53.2 L563.6,50.9 L564.5,50.1 L565.5,56.6 L566.4,52.2 L567.3,55.5 L568.3,52.3 L569.2,50.9 L570.2,53.1 L571.1,51.8 L572.0,52.3 L573.0,52.8 L573.9,52.6 L574.9,53.4 L575.8,57.0 L576.7,54.1 L577.7,49.8 L578.6,52.1 L579.6,53.5 L580.5,54.9 L581.4,52.5 L582.4,53.1 L583.3,51.8 L584.3,51.9 L585.2,53.4 L586.1,58.7 L587.1,57.5 L588.0,50.9 L589.0,53.2 L589.9,52.2 L590.8,35.6 L591.8,30.7 L592.7,28.1 L593.7,34.5 L594.6,36.0 L595.5,36.0 L596.5,38.0 L597.4,37.6 L598.4,35.2 L599.3,37.4 L600.2,39.1 L601.2,38.1 L602.1,40.1 L603.1,41.0 L604.0,35.8 L604.9,38.1 L605.9,37.8 L606.8,41.9 L607.8,40.4 L608.7,41.4 L609.6,43.5 L610.6,37.8 L611.5,33.0 L612.5,37.2 L613.4,36.9 L614.3,36.9 L615.3,36.3 L616.2,37.0 L617.2,35.0 L618.1,35.7 L619.0,36.4 L620.0,34.8 L620.9,35.1 L621.9,33.4 L622.8,36.6 L623.7,43.2 L624.7,36.9 L625.6,37.4 L626.6,36.9 L627.5,41.0 L628.4,40.7 L629.4,40.9 L630.3,39.7 L631.2,42.8 L632.2,41.5 L633.1,46.1 L634.1,48.1 L635.0,47.8 L635.9,46.1 L636.9,45.8 L637.8,47.0 L638.8,49.1 L639.7,47.8 L640.6,46.4 L641.6,50.5 L642.5,48.7 L643.5,51.1 L644.4,53.8 L645.3,53.4 L646.3,55.7 L647.2,55.3 L648.2,57.6 L649.1,57.8 L650.0,54.5 L651.0,56.5 L651.9,56.6 L652.9,55.7 L653.8,55.8 L654.7,56.0 L655.7,59.3 L656.6,57.9 L657.6,55.6 L658.5,61.9 L659.4,56.8 L660.4,57.1 L661.3,60.4 L662.3,61.1 L663.2,55.2 L664.1,60.9 L665.1,68.5 L666.0,65.6 L667.0,64.8 L667.9,64.6 L668.8,68.3 L669.8,67.0 L670.7,69.0" fill="none" stroke="#cccccc" stroke-width="0.7" stroke-linejoin="round"/><path d="M447.9,117.4V125.2M448.9,118.8V127.5M449.8,116.4V126.8M450.8,111.7V123.5M451.7,110.8V122.5M452.6,109.9V118.9M453.6,111.0V115.4M454.5,108.4V114.3M455.5,106.0V116.8M456.4,102.9V112.0M457.4,98.6V104.9M458.3,96.6V108.6M459.2,99.1V105.0M460.2,91.5V96.1M461.1,88.8V95.9M462.1,76.5V87.3M463.0,72.6V80.4M463.9,82.1V89.3M464.9,94.1V100.3M465.8,93.0V108.5M466.8,87.0V99.7M467.7,72.3V79.9M468.6,59.1V73.7M469.6,46.2V52.4M470.5,51.9V62.9M471.4,56.7V63.9M472.4,68.1V85.8M473.3,71.2V77.8M474.3,71.8V86.5M475.2,86.3V93.9M476.2,84.6V95.6M477.1,75.7V81.0M478.0,71.0V76.5M479.0,54.8V66.4M479.9,53.8V62.6M480.9,52.7V57.5M481.8,52.7V62.3M482.7,50.1V60.7M483.7,54.8V69.9M484.6,59.3V70.2M485.6,68.8V74.5M486.5,72.9V85.9M487.4,81.2V86.2M488.4,75.7V86.8M489.3,72.0V80.7M490.2,59.3V68.7M491.2,48.4V64.4M492.1,46.0V58.0M493.1,49.5V60.7M494.0,44.7V54.3M495.0,41.9V51.4M495.9,32.2V43.2M496.8,31.8V40.4M497.8,35.7V42.7M498.7,21.1V39.2M499.7,29.3V36.4M500.6,27.2V37.9M501.5,16.5V31.6M502.5,26.7V34.7M503.4,26.6V38.0M504.4,27.3V36.7M505.3,30.7V36.1M506.2,31.2V42.4M507.2,28.7V38.1M508.1,31.5V42.8M509.1,36.7V43.8M510.0,27.0V43.3M510.9,34.4V46.0M511.9,39.6V45.8M512.8,42.5V49.8M513.8,39.5V50.2M514.7,42.9V50.5M515.6,49.1V53.5M516.6,49.2V57.7M517.5,50.4V62.3M518.5,58.7V64.6M519.4,57.3V64.9M520.3,59.2V68.5M521.3,65.2V70.8M522.2,60.8V66.2M523.2,71.1V76.5M524.1,70.8V77.6M525.0,70.8V80.8M526.0,71.5V81.9M526.9,77.6V87.4M527.9,73.0V88.1M528.8,78.1V88.5M529.7,80.8V88.5M530.7,73.9V84.4M531.6,71.2V80.9M532.6,69.5V81.3M533.5,70.8V81.2M534.4,63.0V69.8M535.4,59.6V74.4M536.3,60.6V65.1M537.3,58.4V63.7M538.2,48.4V60.7M539.1,55.9V65.4M540.1,56.4V61.1M541.0,50.4V58.6M542.0,49.4V57.6M542.9,52.7V61.2M543.8,46.6V57.8M544.8,49.6V60.4M545.7,52.8V58.4M546.7,48.5V56.5M547.6,48.5V56.7M548.5,47.5V57.9M549.5,48.4V52.9M550.4,48.4V55.7M551.4,53.9V61.7M552.3,41.2V56.9M553.2,46.6V55.6M554.2,50.7V55.8M555.1,50.1V55.9M556.1,49.0V55.6M557.0,38.0V53.3M557.9,52.3V57.8M558.9,46.6V53.9M559.8,49.4V54.7M560.8,49.2V57.4M561.7,50.9V59.7M562.6,48.0V58.5M563.6,47.6V54.2M564.5,44.1V56.1M565.5,54.0V59.1M566.4,49.8V54.6M567.3,51.8V59.2M568.3,47.5V57.0M569.2,42.3V55.6M570.2,48.0V58.1M571.1,47.0V56.5M572.0,45.0V56.5M573.0,50.2V55.4M573.9,46.6V58.6M574.9,51.0V55.7M575.8,51.9V62.1M576.7,50.2V57.9M577.7,47.7V51.8M578.6,46.7V57.5M579.6,49.9V57.1M580.5,52.2V57.6M581.4,47.3V57.7M582.4,47.6V58.5M583.3,47.7V55.8M584.3,46.7V57.1M585.2,48.3V58.6M586.1,55.1V62.4M587.1,52.4V62.5M588.0,47.2V54.5M589.0,49.3V57.1M589.9,42.4V56.8M590.8,32.2V38.9M591.8,26.4V34.9M592.7,23.5V32.6M593.7,29.5V39.6M594.6,31.0V41.0M595.5,32.4V39.6M596.5,35.6V40.4M597.4,32.0V43.2M598.4,30.9V39.4M599.3,32.8V41.9M600.2,34.0V44.1M601.2,35.5V52.6M602.1,37.9V42.4M603.1,37.4V44.7M604.0,32.6V38.9M604.9,33.9V42.4M605.9,35.8V39.9M606.8,39.7V44.1M607.8,34.9V46.0M608.7,39.2V43.6M609.6,39.8V57.8M610.6,34.8V40.8M611.5,29.1V36.8M612.5,32.0V42.5M613.4,33.1V40.8M614.3,34.7V39.1M615.3,31.6V41.0M616.2,34.0V40.0M617.2,30.9V39.1M618.1,29.9V41.5M619.0,22.3V41.6M620.0,31.7V37.9M620.9,30.5V39.6M621.9,30.6V36.2M622.8,31.1V42.1M623.7,40.1V50.7M624.7,34.6V39.2M625.6,25.0V41.6M626.6,33.5V40.3M627.5,35.6V46.3M628.4,36.2V45.2M629.4,38.0V43.8M630.3,36.2V43.2M631.2,36.8V48.7M632.2,35.9V47.2M633.1,42.6V49.5M634.1,43.8V55.7M635.0,44.6V51.0M635.9,41.5V50.8M636.9,36.3V50.7M637.8,42.1V51.9M638.8,46.6V51.6M639.7,42.1V53.6M640.6,42.7V50.2M641.6,46.9V54.1M642.5,43.1V54.3M643.5,47.7V54.6M644.4,50.3V57.4M645.3,49.2V57.5M646.3,51.5V60.0M647.2,52.2V58.5M648.2,46.4V61.7M649.1,55.6V60.1M650.0,49.4V59.7M651.0,50.9V62.1M651.9,44.5V59.2M652.9,50.6V60.7M653.8,50.7V60.8M654.7,51.3V60.7M655.7,55.2V63.5M656.6,54.3V61.6M657.6,51.0V60.3M658.5,56.4V67.5M659.4,52.3V61.4M660.4,53.4V60.7M661.3,57.9V63.0M662.3,58.4V63.7M663.2,51.5V58.9M664.1,51.4V63.3M665.1,65.8V71.2M666.0,60.0V71.3M667.0,62.0V72.6M667.9,61.7V67.5M668.8,65.2V71.4M669.8,62.8V71.2M670.7,65.1V73.0" stroke="#cccccc" stroke-width="0.7"/><path d="M447.9,199.8 L448.9,201.8 L449.8,198.5 L450.8,194.9 L451.7,199.6 L452.6,195.5 L453.6,196.5 L454.5,191.8 L455.5,189.8 L456.4,187.5 L457.4,185.9 L458.3,185.2 L459.2,178.8 L460.2,176.1 L461.1,169.8 L462.1,164.8 L463.0,155.0 L463.9,162.3 L464.9,170.5 L465.8,182.7 L466.8,172.3 L467.7,154.8 L468.6,133.8 L469.6,125.7 L470.5,134.2 L471.4,140.1 L472.4,151.0 L473.3,156.8 L474.3,161.0 L475.2,171.7 L476.2,163.6 L477.1,158.4 L478.0,148.2 L479.0,146.1 L479.9,135.0 L480.9,127.5 L481.8,134.1 L482.7,136.4 L483.7,134.7 L484.6,143.7 L485.6,148.0 L486.5,154.4 L487.4,161.5 L488.4,155.5 L489.3,148.4 L490.2,145.2 L491.2,144.3 L492.1,135.0 L493.1,131.7 L494.0,129.5 L495.0,124.5 L495.9,118.2 L496.8,117.5 L497.8,114.5 L498.7,113.7 L499.7,114.7 L500.6,108.5 L501.5,111.4 L502.5,113.8 L503.4,107.8 L504.4,109.5 L505.3,109.2 L506.2,112.9 L507.2,112.3 L508.1,115.8 L509.1,119.7 L510.0,121.3 L510.9,119.0 L511.9,124.1 L512.8,126.0 L513.8,124.4 L514.7,126.4 L515.6,130.3 L516.6,130.9 L517.5,138.6 L518.5,138.4 L519.4,139.3 L520.3,143.5 L521.3,146.9 L522.2,148.0 L523.2,151.1 L524.1,154.7 L525.0,152.5 L526.0,157.7 L526.9,159.2 L527.9,161.5 L528.8,166.6 L529.7,160.5 L530.7,157.0 L531.6,157.3 L532.6,154.3 L533.5,150.8 L534.4,151.0 L535.4,143.9 L536.3,140.9 L537.3,140.2 L538.2,137.6 L539.1,137.2 L540.1,137.2 L541.0,133.5 L542.0,135.0 L542.9,132.6 L543.8,130.8 L544.8,133.8 L545.7,130.1 L546.7,130.1 L547.6,133.9 L548.5,134.0 L549.5,134.9 L550.4,134.2 L551.4,130.1 L552.3,131.0 L553.2,129.6 L554.2,131.9 L555.1,133.6 L556.1,131.1 L557.0,131.2 L557.9,131.0 L558.9,134.8 L559.8,131.3 L560.8,129.4 L561.7,128.9 L562.6,133.3 L563.6,130.3 L564.5,131.3 L565.5,133.7 L566.4,130.5 L567.3,129.0 L568.3,126.6 L569.2,134.7 L570.2,130.3 L571.1,132.6 L572.0,134.0 L573.0,133.9 L573.9,132.0 L574.9,132.3 L575.8,130.0 L576.7,132.1 L577.7,130.9 L578.6,134.0 L579.6,133.7 L580.5,128.1 L581.4,136.3 L582.4,134.4 L583.3,129.7 L584.3,131.7 L585.2,133.5 L586.1,130.3 L587.1,134.0 L588.0,129.1 L589.0,131.1 L589.9,130.4 L590.8,113.1 L591.8,103.7 L592.7,109.6 L593.7,116.2 L594.6,114.6 L595.5,111.0 L596.5,115.8 L597.4,116.5 L598.4,114.2 L599.3,116.1 L600.2,119.1 L601.2,116.6 L602.1,116.1 L603.1,114.9 L604.0,118.8 L604.9,119.7 L605.9,113.1 L606.8,119.3 L607.8,116.1 L608.7,115.2 L609.6,119.6 L610.6,116.1 L611.5,121.3 L612.5,116.6 L613.4,117.5 L614.3,118.8 L615.3,114.4 L616.2,117.1 L617.2,115.3 L618.1,114.8 L619.0,116.4 L620.0,116.8 L620.9,119.6 L621.9,117.7 L622.8,118.1 L623.7,115.7 L624.7,116.7 L625.6,121.5 L626.6,116.5 L627.5,116.2 L628.4,119.1 L629.4,120.1 L630.3,119.7 L631.2,122.4 L632.2,123.0 L633.1,123.3 L634.1,120.6 L635.0,129.0 L635.9,127.4 L636.9,127.8 L637.8,121.8 L638.8,129.9 L639.7,127.4 L640.6,132.0 L641.6,127.0 L642.5,125.5 L643.5,129.8 L644.4,129.9 L645.3,131.3 L646.3,127.9 L647.2,134.0 L648.2,131.9 L649.1,134.3 L650.0,134.8 L651.0,133.9 L651.9,137.0 L652.9,137.0 L653.8,132.8 L654.7,136.4 L655.7,135.9 L656.6,138.3 L657.6,138.5 L658.5,139.6 L659.4,141.3 L660.4,138.8 L661.3,140.1 L662.3,141.6 L663.2,142.9 L664.1,144.7 L665.1,141.5 L666.0,142.9 L667.0,140.0 L667.9,141.2 L668.8,143.1 L669.8,142.6 L670.7,147.8" fill="none" stroke="#cccccc" stroke-width="0.7" stroke-linejoin="round"/><path d="M447.9,197.3V202.4M448.9,191.8V204.9M449.8,193.8V203.1M450.8,184.4V197.6M451.7,196.3V212.1M452.6,193.4V197.5M453.6,194.2V198.9M454.5,186.0V197.6M455.5,185.3V199.3M456.4,185.3V189.7M457.4,182.2V189.6M458.3,181.3V189.1M459.2,172.9V184.7M460.2,171.4V180.7M461.1,165.2V174.5M462.1,155.9V168.2M463.0,141.4V158.7M463.9,158.5V166.0M464.9,159.1V173.3M465.8,173.5V186.1M466.8,169.2V175.4M467.7,148.9V160.6M468.6,130.4V148.2M469.6,120.0V131.3M470.5,130.9V137.6M471.4,138.0V142.1M472.4,145.0V157.0M473.3,154.7V158.9M474.3,156.5V165.6M475.2,167.6V175.8M476.2,157.8V169.4M477.1,155.8V161.1M478.0,142.4V154.0M479.0,141.3V150.9M479.9,132.0V138.0M480.9,122.8V132.3M481.8,131.1V137.1M482.7,130.5V142.3M483.7,128.9V140.6M484.6,140.0V147.3M485.6,143.7V152.3M486.5,150.9V157.9M487.4,148.8V167.1M488.4,149.9V161.2M489.3,146.0V150.8M490.2,141.9V148.4M491.2,139.8V148.8M492.1,130.2V146.3M493.1,126.9V136.4M494.0,121.8V132.8M495.0,121.1V128.0M495.9,114.4V129.1M496.8,114.2V120.8M497.8,112.5V116.6M498.7,109.9V117.4M499.7,109.0V120.4M500.6,97.7V112.9M501.5,107.5V115.2M502.5,109.7V118.0M503.4,104.3V111.4M504.4,105.3V113.7M505.3,105.8V112.6M506.2,109.5V116.4M507.2,109.7V114.8M508.1,113.6V118.0M509.1,116.6V122.9M510.0,115.8V126.8M510.9,115.8V122.3M511.9,119.7V128.6M512.8,122.4V129.7M513.8,120.9V127.9M514.7,122.8V130.0M515.6,127.3V133.3M516.6,126.9V135.0M517.5,133.3V143.8M518.5,133.4V143.3M519.4,133.9V144.6M520.3,137.9V149.0M521.3,138.5V149.5M522.2,145.2V150.7M523.2,146.7V155.5M524.1,150.6V167.2M525.0,148.5V156.5M526.0,153.8V161.5M526.9,155.2V163.3M527.9,158.4V164.6M528.8,161.9V171.4M529.7,155.8V165.2M530.7,152.0V162.0M531.6,154.7V159.8M532.6,152.3V161.8M533.5,138.3V155.3M534.4,148.9V153.1M535.4,138.2V149.6M536.3,137.2V144.6M537.3,137.0V143.5M538.2,131.8V143.5M539.1,132.2V142.3M540.1,131.5V142.9M541.0,128.9V138.2M542.0,130.1V139.9M542.9,127.6V137.6M543.8,124.9V136.8M544.8,131.0V136.6M545.7,127.1V133.0M546.7,125.6V134.5M547.6,128.9V138.9M548.5,130.3V137.6M549.5,132.2V137.6M550.4,129.8V138.5M551.4,126.7V133.5M552.3,127.7V134.3M553.2,126.7V139.8M554.2,128.5V135.3M555.1,129.0V138.2M556.1,127.0V135.2M557.0,128.8V133.6M557.9,125.7V136.2M558.9,124.3V138.0M559.8,128.5V134.0M560.8,125.5V133.3M561.7,125.1V132.8M562.6,129.8V136.7M563.6,125.3V135.3M564.5,127.3V135.3M565.5,129.2V138.1M566.4,128.4V132.6M567.3,123.8V134.1M568.3,124.0V129.2M569.2,131.0V138.3M570.2,128.1V132.5M571.1,129.3V140.5M572.0,130.0V138.0M573.0,128.1V139.6M573.9,126.3V137.6M574.9,128.1V136.4M575.8,125.0V135.1M576.7,126.9V137.2M577.7,128.5V133.4M578.6,131.3V136.8M579.6,130.0V137.4M580.5,124.7V139.1M581.4,132.0V140.5M582.4,128.8V140.0M583.3,126.2V133.2M584.3,129.6V133.8M585.2,127.5V139.4M586.1,126.7V133.9M587.1,128.9V139.1M588.0,123.7V134.6M589.0,128.8V133.4M589.9,124.5V137.7M590.8,108.9V117.2M591.8,90.1V109.1M592.7,106.4V112.7M593.7,111.4V121.0M594.6,111.4V117.7M595.5,107.2V114.7M596.5,112.4V119.3M597.4,112.9V127.4M598.4,108.2V120.1M599.3,112.9V119.3M600.2,116.8V121.3M601.2,110.9V122.3M602.1,113.6V118.5M603.1,112.6V117.1M604.0,114.1V123.5M604.9,114.6V124.8M605.9,110.9V115.3M606.8,113.8V124.9M607.8,113.2V118.9M608.7,107.4V119.1M609.6,115.8V123.5M610.6,111.2V120.9M611.5,117.0V125.7M612.5,112.8V127.4M613.4,105.5V120.8M614.3,114.7V122.8M615.3,108.5V120.2M616.2,112.5V121.7M617.2,112.6V117.9M618.1,110.5V119.2M619.0,112.4V120.3M620.0,114.2V119.4M620.9,114.8V124.4M621.9,115.1V120.3M622.8,115.5V120.7M623.7,111.5V119.9M624.7,114.4V119.0M625.6,112.3V127.3M626.6,114.0V130.2M627.5,110.7V121.6M628.4,117.0V121.1M629.4,117.6V122.7M630.3,114.1V125.4M631.2,118.3V126.6M632.2,117.8V128.1M633.1,121.2V125.4M634.1,112.9V123.6M635.0,124.1V133.9M635.9,115.6V132.3M636.9,121.9V133.8M637.8,115.8V127.8M638.8,120.7V134.7M639.7,125.4V129.4M640.6,124.9V134.9M641.6,123.4V130.5M642.5,120.9V130.1M643.5,127.1V132.4M644.4,125.1V134.6M645.3,128.1V134.5M646.3,125.7V130.1M647.2,130.8V137.3M648.2,129.2V134.6M649.1,128.3V146.2M650.0,131.4V138.2M651.0,130.9V144.3M651.9,122.6V141.9M652.9,134.6V139.5M653.8,128.1V137.5M654.7,132.3V140.5M655.7,127.2V141.7M656.6,134.9V141.7M657.6,136.0V141.1M658.5,136.9V142.4M659.4,138.9V151.9M660.4,133.7V143.8M661.3,134.3V145.9M662.3,139.3V143.9M663.2,140.7V145.1M664.1,142.4V146.9M665.1,135.7V147.4M666.0,138.9V146.8M667.0,135.7V144.3M667.9,136.8V145.5M668.8,138.0V148.2M669.8,138.7V146.5M670.7,142.9V152.7" stroke="#cccccc" stroke-width="0.7"/><path d="M447.9,282.8 L448.9,284.6 L449.8,280.5 L450.8,278.9 L451.7,275.2 L452.6,276.2 L453.6,273.5 L454.5,266.3 L455.5,267.8 L456.4,270.3 L457.4,262.5 L458.3,263.4 L459.2,262.6 L460.2,255.4" fill="none" stroke="#cccccc" stroke-width="0.7" stroke-linejoin="round"/><path d="M447.9,277.4V288.2M448.9,281.7V287.5M449.8,278.0V283.0M450.8,276.1V281.8M451.7,270.8V279.6M452.6,267.0V278.8M453.6,268.5V278.4M454.5,261.1V271.5M455.5,262.8V272.8M456.4,266.6V274.0M457.4,260.0V264.9M458.3,258.2V268.6M459.2,257.6V267.6M460.2,251.6V267.8" stroke="#cccccc" stroke-width="0.7"/><path d="M462.1,65.4 L462.2,66.8 L462.3,65.6 L462.5,63.2 L462.6,65.0 L462.8,65.7 L462.9,71.0 L463.0,70.0 L463.2,71.2 L463.3,74.1 L463.5,79.1 L463.6,81.1 L463.7,80.4 L463.9,82.7 L464.0,88.0 L464.2,85.6 L464.3,89.8 L464.4,91.8 L464.6,91.0 L464.7,95.4 L464.9,97.2 L465.0,98.6 L465.2,97.7 L465.3,101.6 L465.4,105.0 L465.6,107.6 L465.7,108.4 L465.9,109.8 L466.0,104.9 L466.1,100.5 L466.3,102.3 L466.4,96.4 L466.6,94.8 L466.7,90.2 L466.8,88.3 L467.0,84.5 L467.1,83.5 L467.3,79.7 L467.4,75.9 L467.5,77.5 L467.7,71.7 L467.8,64.9 L468.0,66.1 L468.1,61.5 L468.3,58.6 L468.4,53.9 L468.5,54.4 L468.7,52.5 L468.8,51.5 L469.0,48.8 L469.1,45.5 L469.2,42.8 L469.4,41.8 L469.5,39.8 L469.7,38.7 L469.8,38.4 L469.9,47.2 L470.1,48.0 L470.2,49.0 L470.4,52.1 L470.5,51.7 L470.7,56.4 L470.8,58.3 L470.9,56.5 L471.1,66.3 L471.2,66.5 L471.4,67.7 L471.5,69.5 L471.6,70.7 L471.8,72.6 L471.9,73.8 L472.1,77.5 L472.2,78.9 L472.3,74.2 L472.5,72.8 L472.6,71.6 L472.8,76.5 L472.9,71.2 L473.0,71.4 L473.2,71.1 L473.3,78.4 L473.5,74.7 L473.6,80.6 L473.8,84.6 L473.9,86.5 L474.0,87.1 L474.2,90.4 L474.3,96.5 L474.5,96.8 L474.6,102.9 L474.7,101.7 L474.9,101.7 L475.0,97.7 L475.2,96.9 L475.3,97.0 L475.4,92.4 L475.6,92.0 L475.7,88.2 L475.9,86.8 L476.0,84.4 L476.1,82.3 L476.3,76.1 L476.4,76.2 L476.6,75.1 L476.7,76.0 L476.9,72.0 L477.0,70.1 L477.1,68.5 L477.3,66.6 L477.4,62.6 L477.6,62.8 L477.7,60.0 L477.8,58.4 L478.0,57.3" fill="none" stroke="#15a815" stroke-width="2.4" stroke-linejoin="round"/><path d="M462.1,61.7V69.1M462.2,62.3V71.3M462.3,62.5V68.7M462.5,59.8V66.6M462.6,61.9V68.1M462.8,63.0V68.3M462.9,66.9V75.0M463.0,66.7V73.3M463.2,67.8V74.6M463.3,69.6V78.7M463.5,75.2V83.0M463.6,77.4V84.8M463.7,77.3V83.5M463.9,79.7V85.7M464.0,83.6V92.4M464.2,81.2V89.9M464.3,86.8V92.8M464.4,87.1V96.5M464.6,87.5V94.4M464.7,91.9V98.8M464.9,92.3V102.2M465.0,94.9V102.4M465.2,93.7V101.7M465.3,97.6V105.7M465.4,100.2V109.9M465.6,103.6V111.6M465.7,103.8V112.9M465.9,106.4V113.2M466.0,100.0V109.8M466.1,95.6V105.5M466.3,98.6V106.1M466.4,93.3V99.5M466.6,90.2V99.3M466.7,86.5V94.0M466.8,85.1V91.5M467.0,81.6V87.4M467.1,78.5V88.4M467.3,76.0V83.4M467.4,71.6V80.3M467.5,74.5V80.6M467.7,67.7V75.7M467.8,60.9V68.8M468.0,62.9V69.3M468.1,59.0V64.1M468.3,54.6V62.6M468.4,49.3V58.5M468.5,49.5V59.3M468.7,49.7V55.3M468.8,47.8V55.1M469.0,44.2V53.5M469.1,42.2V48.8M469.2,39.8V45.9M469.4,37.5V46.1M469.5,37.2V42.4M469.7,34.2V43.2M469.8,34.8V42.1M469.9,42.9V51.5M470.1,43.7V52.2M470.2,45.7V52.3M470.4,48.8V55.3M470.5,49.0V54.5M470.7,52.6V60.1M470.8,54.1V62.6M470.9,52.6V60.4M471.1,62.9V69.7M471.2,61.5V71.5M471.4,63.1V72.2M471.5,65.9V73.1M471.6,67.1V74.3M471.8,69.2V76.1M471.9,70.2V77.3M472.1,73.2V81.7M472.2,75.8V82.0M472.3,70.5V77.9M472.5,69.1V76.5M472.6,67.3V75.9M472.8,72.1V80.9M472.9,66.6V75.9M473.0,66.6V76.2M473.2,67.1V75.2M473.3,75.9V80.9M473.5,71.4V78.0M473.6,77.9V83.3M473.8,79.8V89.5M473.9,81.6V91.4M474.0,84.1V90.2M474.2,87.2V93.5M474.3,93.2V99.8M474.5,92.6V101.0M474.6,98.9V106.9M474.7,98.0V105.4M474.9,97.6V105.7M475.0,94.5V100.9M475.2,92.0V101.8M475.3,92.7V101.2M475.4,88.7V96.2M475.6,88.9V95.1M475.7,84.3V92.1M475.9,82.1V91.6M476.0,81.5V87.2M476.1,79.7V84.9M476.3,72.6V79.6M476.4,71.5V80.8M476.6,70.4V79.8M476.7,71.2V80.7M476.9,67.6V76.4M477.0,66.1V74.1M477.1,64.8V72.2M477.3,63.2V69.9M477.4,58.5V66.7M477.6,59.0V66.6M477.7,57.0V62.9M477.8,54.7V62.2M478.0,53.1V61.4" stroke="#15a815" stroke-width="1.2"/><path d="M481.6,131.5 L481.7,130.6 L481.9,130.3 L482.1,130.4 L482.3,128.7 L482.5,130.0 L482.7,134.7 L482.9,131.7 L483.1,136.6 L483.2,133.2 L483.4,135.6 L483.6,141.7 L483.8,140.8 L484.0,142.7 L484.2,145.6 L484.4,143.8 L484.6,145.8 L484.8,145.1 L484.9,145.5 L485.1,148.2 L485.3,149.0 L485.5,153.1 L485.7,152.1 L485.9,154.2 L486.1,153.9 L486.3,157.2 L486.4,155.9 L486.6,156.7 L486.8,160.4 L487.0,158.6 L487.2,163.5 L487.4,161.4 L487.6,163.2 L487.8,159.1 L487.9,160.1 L488.1,158.7 L488.3,163.2 L488.5,158.7 L488.7,157.0 L488.9,154.1 L489.1,152.1 L489.3,154.9 L489.5,151.5 L489.6,149.6 L489.8,148.4 L490.0,145.6 L490.2,145.8 L490.4,144.4 L490.6,143.9 L490.8,143.0 L491.0,138.9 L491.1,137.6 L491.3,138.5 L491.5,142.5 L491.7,140.0 L491.9,140.5 L492.1,135.5 L492.3,135.6 L492.5,133.6 L492.6,130.6 L492.8,132.9 L493.0,130.1 L493.2,129.9 L493.4,130.8 L493.6,130.6 L493.8,126.2 L494.0,126.1 L494.2,123.8 L494.3,122.0 L494.5,125.5 L494.7,122.7 L494.9,128.6 L495.1,123.0 L495.3,122.0 L495.5,122.6 L495.7,122.5 L495.8,122.5 L496.0,122.8 L496.2,116.8 L496.4,118.8 L496.6,117.9 L496.8,118.5 L497.0,123.6 L497.2,119.2 L497.3,116.2 L497.5,116.6 L497.7,113.9 L497.9,116.7 L498.1,114.8 L498.3,116.6 L498.5,115.4 L498.7,113.6 L498.9,116.7 L499.0,113.1 L499.2,113.0 L499.4,115.2 L499.6,110.3 L499.8,112.0 L500.0,110.1 L500.2,112.0 L500.4,110.3 L500.5,114.5 L500.7,110.8 L500.9,112.0 L501.1,111.6 L501.3,110.5 L501.5,109.6 L501.7,113.3 L501.9,113.7 L502.0,114.9 L502.2,110.2 L502.4,111.4 L502.6,108.6 L502.8,112.1 L503.0,112.1 L503.2,111.5 L503.4,110.0 L503.6,110.0 L503.7,110.6 L503.9,111.4 L504.1,113.0 L504.3,110.0 L504.5,115.0 L504.7,110.2 L504.9,112.7 L505.1,110.4 L505.2,111.5 L505.4,114.8 L505.6,111.4 L505.8,113.0 L506.0,113.6 L506.2,110.6 L506.4,115.1 L506.6,114.5 L506.7,114.9 L506.9,113.1 L507.1,114.9 L507.3,112.3 L507.5,113.3 L507.7,118.1 L507.9,115.2 L508.1,117.0 L508.3,117.2 L508.4,114.6 L508.6,117.4 L508.8,117.6 L509.0,116.8 L509.2,117.9 L509.4,117.8 L509.6,118.9 L509.8,120.2 L509.9,119.2 L510.1,121.7 L510.3,119.2 L510.5,118.5 L510.7,119.7 L510.9,120.5 L511.1,120.9 L511.3,120.9 L511.4,122.0 L511.6,121.1 L511.8,121.6 L512.0,119.2 L512.2,124.2 L512.4,121.9 L512.6,124.2 L512.8,125.8 L513.0,121.2 L513.1,124.0 L513.3,127.9 L513.5,128.3 L513.7,124.9 L513.9,119.3 L514.1,126.6 L514.3,124.4 L514.5,129.4 L514.6,126.2 L514.8,129.5 L515.0,125.6 L515.2,127.9 L515.4,127.7 L515.6,130.8 L515.8,132.9 L516.0,129.9 L516.1,131.1 L516.3,128.7 L516.5,129.3 L516.7,134.9 L516.9,133.4 L517.1,134.7 L517.3,133.5 L517.5,129.7 L517.7,135.5 L517.8,136.0 L518.0,133.6 L518.2,140.5 L518.4,137.6 L518.6,139.4 L518.8,137.7 L519.0,139.6 L519.2,139.3 L519.3,141.2 L519.5,139.3 L519.7,143.2 L519.9,142.4 L520.1,143.0 L520.3,139.6 L520.5,143.1 L520.7,140.3 L520.8,143.7 L521.0,144.4 L521.2,145.7 L521.4,148.7 L521.6,145.7 L521.8,145.9 L522.0,147.9 L522.2,149.4 L522.4,149.4 L522.5,147.4 L522.7,151.4 L522.9,147.8 L523.1,147.7 L523.3,150.2 L523.5,151.3 L523.7,150.8 L523.9,152.8 L524.0,152.3 L524.2,155.3 L524.4,155.0 L524.6,154.2 L524.8,156.2 L525.0,153.9 L525.2,156.5 L525.4,155.9 L525.5,152.8 L525.7,160.6 L525.9,156.7 L526.1,159.1 L526.3,161.6 L526.5,157.9 L526.7,158.2 L526.9,162.4 L527.1,162.2 L527.2,160.3 L527.4,158.4 L527.6,162.4 L527.8,164.8 L528.0,162.2 L528.2,169.5 L528.4,164.0 L528.6,168.2 L528.7,166.8 L528.9,166.7 L529.1,162.1 L529.3,161.7 L529.5,163.6 L529.7,160.9 L529.9,159.4 L530.1,161.6 L530.2,157.2 L530.4,160.3 L530.6,159.0 L530.8,160.8 L531.0,155.4 L531.2,160.0 L531.4,153.7 L531.6,159.1 L531.8,156.0 L531.9,155.7 L532.1,154.3 L532.3,151.3 L532.5,154.1 L532.7,151.3 L532.9,152.4 L533.1,154.1 L533.3,153.7 L533.4,153.8 L533.6,145.8 L533.8,149.1 L534.0,151.7 L534.2,148.5 L534.4,146.7 L534.6,148.2 L534.8,146.8 L534.9,147.3 L535.1,145.4 L535.3,144.4 L535.5,141.4 L535.7,145.2 L535.9,139.4 L536.1,144.7 L536.3,144.1 L536.5,140.0 L536.6,140.6 L536.8,142.6 L537.0,142.2 L537.2,141.1" fill="none" stroke="#d08a2c" stroke-width="2.2" stroke-linejoin="round"/><path d="M481.6,126.0V137.0M481.7,127.8V133.5M481.9,127.1V133.5M482.1,126.9V133.8M482.3,123.5V134.0M482.5,127.4V132.7M482.7,131.6V137.7M482.9,127.4V135.9M483.1,132.4V140.8M483.2,128.8V137.5M483.4,130.7V140.4M483.6,137.3V146.2M483.8,137.7V143.8M484.0,138.6V146.8M484.2,141.5V149.6M484.4,139.3V148.3M484.6,141.5V150.0M484.8,140.8V149.4M484.9,141.4V149.6M485.1,142.8V153.7M485.3,143.7V154.3M485.5,149.1V157.2M485.7,149.1V155.1M485.9,150.6V157.7M486.1,151.3V156.5M486.3,152.3V162.0M486.4,153.3V158.6M486.6,151.7V161.6M486.8,156.4V164.4M487.0,154.4V162.9M487.2,158.8V168.2M487.4,157.8V164.9M487.6,157.9V168.5M487.8,155.1V163.1M487.9,155.5V164.6M488.1,155.4V162.0M488.3,160.4V166.1M488.5,155.4V161.9M488.7,154.2V159.7M488.9,151.0V157.2M489.1,147.1V157.1M489.3,151.3V158.6M489.5,147.6V155.5M489.6,144.9V154.4M489.8,145.2V151.6M490.0,142.9V148.3M490.2,141.3V150.2M490.4,140.4V148.4M490.6,141.3V146.5M490.8,140.5V145.6M491.0,135.7V142.1M491.1,134.7V140.5M491.3,136.0V141.0M491.5,138.1V146.9M491.7,135.9V144.2M491.9,135.4V145.5M492.1,132.5V138.5M492.3,131.6V139.6M492.5,130.6V136.7M492.6,125.5V135.7M492.8,129.8V136.0M493.0,127.4V132.7M493.2,124.5V135.3M493.4,126.7V135.0M493.6,125.8V135.4M493.8,120.8V131.5M494.0,123.3V128.9M494.2,120.8V126.9M494.3,118.3V125.7M494.5,120.8V130.2M494.7,118.0V127.4M494.9,123.7V133.5M495.1,119.8V126.2M495.3,116.7V127.3M495.5,119.8V125.4M495.7,119.0V126.0M495.8,118.9V126.0M496.0,119.4V126.2M496.2,113.2V120.4M496.4,113.5V124.2M496.6,114.7V121.2M496.8,115.6V121.4M497.0,120.7V126.4M497.2,114.3V124.1M497.3,112.6V119.9M497.5,112.4V120.9M497.7,109.3V118.4M497.9,112.2V121.2M498.1,112.1V117.6M498.3,112.7V120.5M498.5,111.0V119.8M498.7,111.1V116.2M498.9,113.5V119.9M499.0,107.8V118.4M499.2,110.0V116.1M499.4,110.0V120.5M499.6,105.2V115.4M499.8,108.8V115.1M500.0,105.8V114.4M500.2,107.9V116.2M500.4,104.8V115.7M500.5,111.3V117.7M500.7,108.2V113.5M500.9,108.5V115.4M501.1,107.0V116.3M501.3,107.6V113.4M501.5,107.1V112.1M501.7,108.3V118.2M501.9,110.7V116.7M502.0,111.3V118.5M502.2,106.2V114.2M502.4,107.6V115.3M502.6,105.4V111.8M502.8,107.0V117.1M503.0,107.1V117.0M503.2,106.2V116.7M503.4,105.3V114.7M503.6,105.0V114.9M503.7,106.5V114.8M503.9,106.1V116.6M504.1,108.4V117.5M504.3,107.1V113.0M504.5,111.4V118.7M504.7,105.8V114.6M504.9,108.3V117.0M505.1,107.4V113.4M505.2,106.5V116.4M505.4,109.8V119.8M505.6,108.6V114.2M505.8,108.2V117.7M506.0,109.1V118.1M506.2,107.0V114.2M506.4,112.0V118.1M506.6,111.8V117.2M506.7,110.2V119.6M506.9,107.9V118.3M507.1,111.0V118.9M507.3,109.4V115.3M507.5,110.4V116.1M507.7,115.3V120.9M507.9,112.3V118.2M508.1,113.8V120.2M508.3,112.4V122.0M508.4,111.4V117.9M508.6,112.7V122.1M508.8,113.0V122.3M509.0,113.1V120.5M509.2,114.8V121.0M509.4,112.4V123.2M509.6,115.7V122.1M509.8,117.3V123.0M509.9,114.4V124.0M510.1,116.8V126.6M510.3,115.3V123.1M510.5,115.3V121.7M510.7,117.1V122.3M510.9,117.2V123.7M511.1,116.9V125.0M511.3,116.3V125.4M511.4,118.0V126.0M511.6,116.2V126.0M511.8,118.8V124.5M512.0,116.4V122.1M512.2,119.1V129.3M512.4,119.1V124.7M512.6,119.9V128.5M512.8,122.5V129.1M513.0,118.3V124.0M513.1,120.7V127.3M513.3,123.1V132.6M513.5,123.6V133.1M513.7,120.2V129.6M513.9,116.1V122.5M514.1,123.9V129.4M514.3,120.3V128.4M514.5,126.7V132.2M514.6,121.6V130.7M514.8,124.6V134.4M515.0,120.2V131.1M515.2,123.7V132.2M515.4,124.1V131.3M515.6,126.1V135.5M515.8,129.3V136.5M516.0,125.4V134.3M516.1,128.5V133.8M516.3,125.4V132.1M516.5,125.4V133.2M516.7,131.9V137.9M516.9,130.7V136.0M517.1,132.0V137.5M517.3,129.5V137.6M517.5,124.9V134.6M517.7,130.4V140.5M517.8,130.9V141.1M518.0,128.5V138.7M518.2,135.5V145.4M518.4,132.9V142.3M518.6,135.2V143.7M518.8,132.8V142.6M519.0,136.0V143.2M519.2,135.9V142.6M519.3,138.0V144.4M519.5,135.0V143.7M519.7,138.7V147.7M519.9,137.6V147.1M520.1,140.2V145.8M520.3,135.8V143.4M520.5,140.5V145.7M520.7,136.2V144.3M520.8,139.6V147.9M521.0,141.0V147.8M521.2,141.9V149.4M521.4,144.9V152.6M521.6,140.6V150.7M521.8,141.5V150.3M522.0,144.2V151.6M522.2,145.4V153.4M522.4,144.7V154.2M522.5,142.7V152.0M522.7,146.9V155.9M522.9,142.5V153.0M523.1,144.6V150.9M523.3,147.4V153.0M523.5,147.0V155.7M523.7,147.6V154.0M523.9,148.2V157.5M524.0,148.2V156.4M524.2,150.1V160.4M524.4,152.1V157.8M524.6,150.6V157.9M524.8,153.6V158.8M525.0,150.1V157.6M525.2,151.9V161.0M525.4,152.1V159.7M525.5,147.8V157.8M525.7,155.5V165.7M525.9,151.5V161.9M526.1,155.2V163.0M526.3,157.2V166.0M526.5,155.3V160.5M526.7,154.1V162.3M526.9,159.1V165.7M527.1,157.9V166.5M527.2,156.6V164.1M527.4,155.4V161.5M527.6,157.7V167.2M527.8,160.4V169.2M528.0,157.0V167.4M528.2,164.9V174.2M528.4,160.7V167.3M528.6,164.1V172.3M528.7,163.7V169.9M528.9,162.4V170.9M529.1,158.8V165.4M529.3,158.8V164.5M529.5,160.3V166.8M529.7,156.2V165.7M529.9,156.5V162.4M530.1,159.1V164.1M530.2,152.4V162.0M530.4,156.6V164.0M530.6,154.6V163.4M530.8,155.5V166.0M531.0,152.4V158.3M531.2,155.3V164.8M531.4,149.6V157.8M531.6,156.2V162.1M531.8,150.8V161.1M531.9,151.1V160.3M532.1,149.2V159.4M532.3,146.5V156.1M532.5,150.4V157.9M532.7,147.5V155.1M532.9,149.5V155.4M533.1,148.7V159.6M533.3,150.7V156.7M533.4,149.9V157.8M533.6,141.8V149.8M533.8,145.5V152.8M534.0,148.2V155.2M534.2,144.9V152.2M534.4,144.2V149.2M534.6,143.3V153.0M534.8,142.3V151.4M534.9,143.4V151.1M535.1,141.6V149.2M535.3,139.6V149.2M535.5,136.9V145.8M535.7,140.5V149.9M535.9,136.4V142.4M536.1,141.2V148.2M536.3,141.2V147.0M536.5,135.4V144.7M536.6,136.4V144.8M536.8,138.0V147.2M537.0,138.1V146.3M537.2,137.1V145.1" stroke="#d08a2c" stroke-width="1.1"/><rect x="447.1" y="201.9" width="1.6" height="3.2" fill="#d08a2c"/><rect x="456.3" y="182.9" width="1.6" height="3.2" fill="#d08a2c"/><rect x="462.0" y="153.5" width="1.6" height="3.2" fill="#d08a2c"/><rect x="467.8" y="138.6" width="1.6" height="3.2" fill="#d08a2c"/><rect x="471.6" y="146.7" width="1.6" height="3.2" fill="#d08a2c"/><rect x="474.4" y="167.0" width="1.6" height="3.2" fill="#d08a2c"/><rect x="479.1" y="134.0" width="1.6" height="3.2" fill="#d08a2c"/><rect x="539.9" y="133.4" width="1.8" height="3.6" fill="#d08a2c"/><rect x="544.6" y="130.5" width="1.8" height="3.6" fill="#d08a2c"/><rect x="549.3" y="129.5" width="1.8" height="3.6" fill="#d08a2c"/><rect x="554.0" y="132.1" width="1.8" height="3.6" fill="#d08a2c"/><rect x="558.7" y="128.1" width="1.8" height="3.6" fill="#d08a2c"/><rect x="563.4" y="129.3" width="1.8" height="3.6" fill="#d08a2c"/><rect x="568.1" y="130.2" width="1.8" height="3.6" fill="#d08a2c"/><rect x="572.8" y="129.9" width="1.8" height="3.6" fill="#d08a2c"/><rect x="577.5" y="130.1" width="1.8" height="3.6" fill="#d08a2c"/><rect x="582.2" y="129.4" width="1.8" height="3.6" fill="#d08a2c"/><rect x="586.9" y="132.8" width="1.8" height="3.6" fill="#d08a2c"/><rect x="592.3" y="109.1" width="1.8" height="3.6" fill="#d08a2c"/><rect x="597.5" y="114.8" width="1.8" height="3.6" fill="#d08a2c"/><rect x="603.3" y="115.9" width="1.8" height="3.6" fill="#d08a2c"/><rect x="609.2" y="115.4" width="1.8" height="3.6" fill="#d08a2c"/><rect x="615.1" y="113.9" width="1.8" height="3.6" fill="#d08a2c"/><rect x="621.0" y="114.8" width="1.8" height="3.6" fill="#d08a2c"/><rect x="460.2" y="267.2" width="2.2" height="9" fill="#d81818"/><path d="M462.5,242.5 L462.7,234.7 L462.9,234.0 L463.1,234.9 L463.3,238.0 L463.5,239.5 L463.6,241.1 L463.8,244.1 L464.0,247.4 L464.2,247.6 L464.4,249.7 L464.6,252.1 L464.8,252.0 L465.0,253.2 L465.2,256.1 L465.3,257.4 L465.5,257.4 L465.7,261.1 L465.9,260.9 L466.1,262.1 L466.3,254.1 L466.5,253.7 L466.7,253.4 L466.8,249.0 L467.0,246.7 L467.2,237.9 L467.4,240.5 L467.6,235.3 L467.8,236.4 L468.0,227.5 L468.2,223.3 L468.3,222.7 L468.5,218.6 L468.7,221.0 L468.9,213.8 L469.1,209.0 L469.3,209.6 L469.5,204.2 L469.7,204.6 L469.9,209.3 L470.0,206.7 L470.2,209.4 L470.4,211.7 L470.6,213.1 L470.8,215.5 L471.0,218.9 L471.2,217.1 L471.4,217.3 L471.5,219.7 L471.7,226.1 L471.9,224.5 L472.1,222.9 L472.3,225.7 L472.5,233.1 L472.7,228.1 L472.9,232.3 L473.0,233.3 L473.2,238.7 L473.4,235.0 L473.6,237.6 L473.8,242.5 L474.0,240.8 L474.2,244.3 L474.4,246.0 L474.6,244.2 L474.7,246.2 L474.9,247.6 L475.1,247.1 L475.3,246.0 L475.5,250.4 L475.7,249.7 L475.9,248.4 L476.1,246.1 L476.2,246.5 L476.4,242.4 L476.6,244.3 L476.8,245.7 L477.0,238.3 L477.2,238.9 L477.4,235.8 L477.6,233.1 L477.7,232.3 L477.9,229.0 L478.1,229.2 L478.3,227.8 L478.5,222.9 L478.7,220.6 L478.9,219.9 L479.1,222.1 L479.3,218.4 L479.4,221.5 L479.6,216.9 L479.8,215.5 L480.0,214.4 L480.2,215.3 L480.4,213.0 L480.6,210.9 L480.8,207.2 L480.9,209.0 L481.1,211.1 L481.3,210.4 L481.5,210.3 L481.7,209.2 L481.9,207.1 L482.1,214.2 L482.3,214.2 L482.4,214.9 L482.6,212.1 L482.8,211.0 L483.0,210.7 L483.2,214.5 L483.4,214.4 L483.6,216.9 L483.8,218.3 L484.0,220.5 L484.1,218.8 L484.3,218.8 L484.5,223.8 L484.7,224.3 L484.9,224.8 L485.1,229.0 L485.3,230.6 L485.5,228.0 L485.6,232.3 L485.8,234.5 L486.0,231.2 L486.2,239.2 L486.4,235.2 L486.6,232.2 L486.8,238.3 L487.0,240.8 L487.1,239.0 L487.3,236.7 L487.5,239.2 L487.7,240.7 L487.9,239.2 L488.1,240.1 L488.3,237.0 L488.5,234.6 L488.7,236.9 L488.8,237.0 L489.0,237.3 L489.2,232.5 L489.4,230.8 L489.6,232.7 L489.8,228.3 L490.0,223.5 L490.2,226.0 L490.3,223.1 L490.5,226.3 L490.7,225.2 L490.9,222.8 L491.1,224.5 L491.3,219.3 L491.5,218.8 L491.7,218.0 L491.8,219.9 L492.0,218.3 L492.2,214.0 L492.4,210.3 L492.6,213.8 L492.8,211.4 L493.0,211.0 L493.2,212.2 L493.4,211.6 L493.5,210.5 L493.7,207.1 L493.9,209.6 L494.1,208.8 L494.3,203.9 L494.5,206.2 L494.7,202.1 L494.9,204.3 L495.0,203.6 L495.2,202.2 L495.4,203.4 L495.6,204.0 L495.8,200.1 L496.0,201.6 L496.2,199.2 L496.4,200.2 L496.5,198.5 L496.7,202.3 L496.9,197.3 L497.1,196.6 L497.3,195.9 L497.5,197.2 L497.7,196.1 L497.9,194.1 L498.1,198.0 L498.2,195.0 L498.4,194.7 L498.6,195.9 L498.8,195.3 L499.0,195.7 L499.2,192.3 L499.4,196.3 L499.6,194.2 L499.7,195.0 L499.9,192.9 L500.1,194.8 L500.3,191.7 L500.5,191.2 L500.7,191.8 L500.9,194.0 L501.1,191.1 L501.2,191.9 L501.4,191.1 L501.6,192.4 L501.8,190.6 L502.0,191.9 L502.2,191.8 L502.4,194.0 L502.6,193.1 L502.8,191.1 L502.9,190.6 L503.1,189.3 L503.3,194.2 L503.5,195.8 L503.7,189.8 L503.9,189.8 L504.1,190.7 L504.3,189.0 L504.4,190.0 L504.6,192.1 L504.8,189.7 L505.0,195.4 L505.2,190.8 L505.4,191.5 L505.6,190.9 L505.8,194.5 L505.9,191.1 L506.1,193.4 L506.3,191.5 L506.5,192.6 L506.7,195.0 L506.9,194.8 L507.1,193.7 L507.3,194.8 L507.5,193.5 L507.6,193.8 L507.8,194.3 L508.0,190.8 L508.2,198.5 L508.4,198.3 L508.6,197.8 L508.8,190.2 L509.0,199.7 L509.1,197.8 L509.3,195.9 L509.5,198.9 L509.7,199.6 L509.9,199.5 L510.1,200.1 L510.3,204.7 L510.5,197.6 L510.6,199.5 L510.8,201.3 L511.0,200.3 L511.2,199.4 L511.4,198.1 L511.6,201.6 L511.8,203.4 L512.0,203.0 L512.2,202.6 L512.3,200.0 L512.5,199.1 L512.7,203.3 L512.9,202.8 L513.1,203.3 L513.3,203.1 L513.5,206.8 L513.7,204.4 L513.8,205.8 L514.0,208.0 L514.2,204.7 L514.4,206.1 L514.6,205.6 L514.8,206.6 L515.0,209.5 L515.2,208.2 L515.3,210.4 L515.5,205.9 L515.7,211.3 L515.9,212.1 L516.1,207.9 L516.3,212.0 L516.5,211.6 L516.7,210.5 L516.9,212.5 L517.0,213.7 L517.2,214.0 L517.4,216.4 L517.6,215.1 L517.8,219.2 L518.0,217.2 L518.2,216.3 L518.4,219.0 L518.5,217.9 L518.7,222.9 L518.9,219.3 L519.1,217.6 L519.3,218.1 L519.5,221.0 L519.7,220.8 L519.9,221.6 L520.0,223.7 L520.2,220.6 L520.4,222.6 L520.6,223.5 L520.8,224.0 L521.0,227.2 L521.2,227.1 L521.4,228.2 L521.6,226.9 L521.7,225.0 L521.9,227.8 L522.1,226.2 L522.3,226.9 L522.5,229.8 L522.7,226.6 L522.9,229.8 L523.1,227.4 L523.2,229.7 L523.4,232.1 L523.6,232.9 L523.8,231.0 L524.0,231.4 L524.2,232.7 L524.4,233.8 L524.6,234.8 L524.7,236.8 L524.9,236.7 L525.1,236.3 L525.3,239.7 L525.5,237.3 L525.7,237.0 L525.9,237.7 L526.1,238.9 L526.3,238.5 L526.4,237.2 L526.6,239.8 L526.8,241.2 L527.0,242.2 L527.2,242.7 L527.4,238.6 L527.6,240.2 L527.8,240.8 L527.9,241.2 L528.1,243.7 L528.3,245.8 L528.5,247.0 L528.7,247.3 L528.9,245.4 L529.1,243.2 L529.3,242.0 L529.4,243.5 L529.6,243.3 L529.8,239.9 L530.0,239.4 L530.2,236.5 L530.4,241.3 L530.6,237.2 L530.8,236.8 L531.0,237.3 L531.1,237.0 L531.3,237.0 L531.5,238.2 L531.7,235.3 L531.9,235.3 L532.1,231.8 L532.3,235.0 L532.5,232.6 L532.6,230.1 L532.8,236.8 L533.0,232.7 L533.2,231.7 L533.4,229.7 L533.6,230.9 L533.8,226.0 L534.0,226.8 L534.1,228.1 L534.3,226.0 L534.5,226.1 L534.7,228.6 L534.9,228.7 L535.1,225.5 L535.3,225.1 L535.5,221.2 L535.7,226.3 L535.8,224.1 L536.0,223.5 L536.2,226.1 L536.4,221.3 L536.6,227.2 L536.8,221.9 L537.0,221.8 L537.2,221.0 L537.3,221.9 L537.5,218.9 L537.7,220.8 L537.9,219.3 L538.1,218.8 L538.3,218.9" fill="none" stroke="#d81818" stroke-width="1.8" stroke-linejoin="round"/><path d="M462.5,239.7V245.2M462.7,231.0V238.5M462.9,230.1V237.8M463.1,231.0V238.8M463.3,234.2V241.7M463.5,234.7V244.2M463.6,236.8V245.3M463.8,239.7V248.4M464.0,243.8V251.0M464.2,243.1V252.0M464.4,245.0V254.4M464.6,248.2V255.9M464.8,248.6V255.5M465.0,250.1V256.3M465.2,252.8V259.4M465.3,252.4V262.4M465.5,254.0V260.8M465.7,257.0V265.3M465.9,256.3V265.5M466.1,258.8V265.3M466.3,248.8V259.5M466.5,248.2V259.1M466.7,248.4V258.3M466.8,243.6V254.5M467.0,241.2V252.2M467.2,234.3V241.4M467.4,237.8V243.3M467.6,232.2V238.4M467.8,233.6V239.2M468.0,224.5V230.5M468.2,219.5V227.0M468.3,218.8V226.5M468.5,213.4V223.8M468.7,217.3V224.8M468.9,210.6V217.0M469.1,205.2V212.7M469.3,204.6V214.6M469.5,199.8V208.5M469.7,201.4V207.9M469.9,206.5V212.0M470.0,202.5V210.9M470.2,205.5V213.2M470.4,206.9V216.6M470.6,208.0V218.2M470.8,211.7V219.4M471.0,216.1V221.6M471.2,213.0V221.2M471.4,213.2V221.4M471.5,214.5V224.8M471.7,222.1V230.1M471.9,221.1V227.8M472.1,219.4V226.5M472.3,222.1V229.4M472.5,228.2V238.1M472.7,224.8V231.5M472.9,229.2V235.5M473.0,230.5V236.1M473.2,235.8V241.6M473.4,231.7V238.3M473.6,234.4V240.9M473.8,237.6V247.5M474.0,237.2V244.4M474.2,239.6V249.0M474.4,241.5V250.6M474.6,239.7V248.7M474.7,240.8V251.6M474.9,243.2V251.9M475.1,242.4V251.8M475.3,241.2V250.8M475.5,246.1V254.8M475.7,246.9V252.4M475.9,245.3V251.5M476.1,242.0V250.2M476.2,242.7V250.3M476.4,237.1V247.7M476.6,239.2V249.5M476.8,242.0V249.3M477.0,233.3V243.3M477.2,234.1V243.7M477.4,232.7V239.0M477.6,229.4V236.9M477.7,228.0V236.5M477.9,224.5V233.6M478.1,226.1V232.2M478.3,223.7V231.9M478.5,219.1V226.7M478.7,216.1V225.1M478.9,217.2V222.6M479.1,219.5V224.8M479.3,214.7V222.0M479.4,217.0V226.0M479.6,213.8V219.9M479.8,211.5V219.6M480.0,211.5V217.2M480.2,210.9V219.8M480.4,208.7V217.4M480.6,207.8V214.0M480.8,201.7V212.6M480.9,204.9V213.2M481.1,207.7V214.4M481.3,206.2V214.6M481.5,207.4V213.3M481.7,206.3V212.0M481.9,201.7V212.6M482.1,211.4V216.9M482.3,209.5V218.8M482.4,211.5V218.2M482.6,206.6V217.6M482.8,206.3V215.7M483.0,208.0V213.4M483.2,211.8V217.2M483.4,211.5V217.4M483.6,212.1V221.7M483.8,214.1V222.5M484.0,215.6V225.4M484.1,214.5V223.0M484.3,213.7V223.8M484.5,220.3V227.3M484.7,221.2V227.5M484.9,219.9V229.7M485.1,223.6V234.4M485.3,226.8V234.4M485.5,223.9V232.1M485.6,227.1V237.6M485.8,230.2V238.8M486.0,226.5V235.8M486.2,235.2V243.3M486.4,232.1V238.3M486.6,229.4V235.0M486.8,234.7V241.9M487.0,236.7V245.0M487.1,236.4V241.6M487.3,232.0V241.4M487.5,235.0V243.4M487.7,238.1V243.4M487.9,235.9V242.4M488.1,236.6V243.6M488.3,233.2V240.8M488.5,230.1V239.1M488.7,232.2V241.6M488.8,234.4V239.5M489.0,232.5V242.2M489.2,227.7V237.3M489.4,225.4V236.2M489.6,229.8V235.7M489.8,224.2V232.3M490.0,219.1V227.8M490.2,220.6V231.3M490.3,219.4V226.8M490.5,223.3V229.2M490.7,222.5V228.0M490.9,219.2V226.3M491.1,219.4V229.5M491.3,216.5V222.2M491.5,215.0V222.5M491.7,214.7V221.2M491.8,216.7V223.2M492.0,212.9V223.7M492.2,211.0V216.9M492.4,205.5V215.0M492.6,209.5V218.1M492.8,208.8V214.1M493.0,208.1V213.8M493.2,209.4V215.1M493.4,208.0V215.2M493.5,206.0V215.0M493.7,203.2V210.9M493.9,205.2V214.0M494.1,204.1V213.5M494.3,199.9V208.0M494.5,201.2V211.3M494.7,198.0V206.2M494.9,199.6V209.0M495.0,198.6V208.7M495.2,197.8V206.7M495.4,200.7V206.0M495.6,198.5V209.5M495.8,195.3V204.8M496.0,198.6V204.6M496.2,195.4V203.0M496.4,196.5V203.8M496.5,194.8V202.2M496.7,197.3V207.3M496.9,194.1V200.6M497.1,193.9V199.4M497.3,192.8V198.9M497.5,194.0V200.3M497.7,193.6V198.6M497.9,190.4V197.8M498.1,194.0V201.9M498.2,191.7V198.3M498.4,191.8V197.6M498.6,192.7V199.2M498.8,192.6V198.1M499.0,191.7V199.7M499.2,189.7V194.9M499.4,192.3V200.3M499.6,189.2V199.3M499.7,190.8V199.3M499.9,188.1V197.7M500.1,189.8V199.8M500.3,186.7V196.7M500.5,186.2V196.3M500.7,188.3V195.2M500.9,189.1V198.8M501.1,187.9V194.3M501.2,188.3V195.6M501.4,186.5V195.6M501.6,188.4V196.5M501.8,186.9V194.4M502.0,189.3V194.6M502.2,188.1V195.5M502.4,191.4V196.6M502.6,190.1V196.1M502.8,185.8V196.4M502.9,187.6V193.6M503.1,186.3V192.2M503.3,189.4V198.9M503.5,191.1V200.5M503.7,186.7V192.9M503.9,186.2V193.4M504.1,185.5V196.0M504.3,185.9V192.1M504.4,185.2V194.8M504.6,189.4V194.8M504.8,185.3V194.2M505.0,190.6V200.2M505.2,185.4V196.2M505.4,188.9V194.0M505.6,187.1V194.8M505.8,191.5V197.5M505.9,186.4V195.9M506.1,189.2V197.6M506.3,187.5V195.6M506.5,189.3V195.8M506.7,190.8V199.2M506.9,191.5V198.2M507.1,189.8V197.7M507.3,191.0V198.6M507.5,189.5V197.5M507.6,190.1V197.5M507.8,190.0V198.6M508.0,188.3V193.3M508.2,193.9V203.0M508.4,194.9V201.7M508.6,195.2V200.4M508.8,186.6V193.9M509.0,195.5V203.9M509.1,193.2V202.4M509.3,191.4V200.5M509.5,195.7V202.1M509.7,194.9V204.4M509.9,194.9V204.1M510.1,197.3V202.8M510.3,199.7V209.6M510.5,195.0V200.2M510.6,195.1V203.9M510.8,197.8V204.9M511.0,197.5V203.2M511.2,194.3V204.4M511.4,193.6V202.6M511.6,196.2V207.0M511.8,198.8V207.9M512.0,198.0V208.0M512.2,198.1V207.2M512.3,195.0V205.0M512.5,196.0V202.2M512.7,200.2V206.4M512.9,199.3V206.3M513.1,198.3V208.3M513.3,199.4V206.7M513.5,202.2V211.5M513.7,200.4V208.5M513.8,202.0V209.6M514.0,204.0V212.0M514.2,200.9V208.4M514.4,203.0V209.3M514.6,203.0V208.3M514.8,203.5V209.7M515.0,205.6V213.3M515.2,203.5V213.0M515.3,207.9V213.0M515.5,202.4V209.5M515.7,206.7V215.8M515.9,209.0V215.2M516.1,204.2V211.6M516.3,207.7V216.4M516.5,206.6V216.5M516.7,205.6V215.3M516.9,209.1V215.9M517.0,211.0V216.3M517.2,210.5V217.6M517.4,213.2V219.6M517.6,211.6V218.6M517.8,216.0V222.5M518.0,212.9V221.5M518.2,213.0V219.6M518.4,216.4V221.6M518.5,214.4V221.4M518.7,219.4V226.4M518.9,215.4V223.1M519.1,214.7V220.5M519.3,213.0V223.2M519.5,217.2V224.7M519.7,218.1V223.5M519.9,217.8V225.4M520.0,220.2V227.2M520.2,216.9V224.3M520.4,217.4V227.9M520.6,219.5V227.5M520.8,220.0V228.0M521.0,223.3V231.1M521.2,221.8V232.4M521.4,223.1V233.4M521.6,223.0V230.9M521.7,221.4V228.7M521.9,225.1V230.5M522.1,221.0V231.3M522.3,222.2V231.5M522.5,225.7V234.0M522.7,223.2V229.9M522.9,225.5V234.1M523.1,224.4V230.5M523.2,225.8V233.7M523.4,227.0V237.1M523.6,228.9V236.9M523.8,226.9V235.1M524.0,225.9V236.8M524.2,230.0V235.5M524.4,229.9V237.7M524.6,230.7V238.9M524.7,232.2V241.3M524.9,233.2V240.2M525.1,231.3V241.4M525.3,235.0V244.5M525.5,231.8V242.7M525.7,233.1V240.8M525.9,232.3V243.1M526.1,234.5V243.4M526.3,234.3V242.8M526.4,232.0V242.4M526.6,236.2V243.4M526.8,236.8V245.6M527.0,239.0V245.4M527.2,238.0V247.4M527.4,234.2V243.1M527.6,236.7V243.7M527.8,237.6V244.0M527.9,238.4V243.9M528.1,240.6V246.8M528.3,241.7V249.9M528.5,243.2V250.7M528.7,244.3V250.2M528.9,240.9V250.0M529.1,239.6V246.9M529.3,237.0V246.9M529.4,240.5V246.6M529.6,238.5V248.2M529.8,237.3V242.6M530.0,236.1V242.7M530.2,232.8V240.2M530.4,237.9V244.6M530.6,234.6V239.7M530.8,233.8V239.8M531.0,233.4V241.3M531.1,233.6V240.5M531.3,233.8V240.2M531.5,233.6V242.8M531.7,232.4V238.2M531.9,231.1V239.4M532.1,227.4V236.3M532.3,232.2V237.9M532.5,230.0V235.2M532.6,225.9V234.3M532.8,232.1V241.5M533.0,229.1V236.4M533.2,227.5V235.9M533.4,224.8V234.5M533.6,228.3V233.5M533.8,221.3V230.8M534.0,224.3V229.4M534.1,223.9V232.3M534.3,222.0V229.9M534.5,221.2V231.0M534.7,225.1V232.1M534.9,224.7V232.7M535.1,220.7V230.2M535.3,220.4V229.9M535.5,218.0V224.5M535.7,221.8V230.8M535.8,221.6V226.6M536.0,219.6V227.4M536.2,222.0V230.2M536.4,218.0V224.6M536.6,222.3V232.1M536.8,219.1V224.6M537.0,216.8V226.7M537.2,217.2V224.9M537.3,217.8V225.9M537.5,214.6V223.1M537.7,218.1V223.4M537.9,215.3V223.3M538.1,215.2V222.4M538.3,215.0V222.8" stroke="#d81818" stroke-width="1.0"/><path d="M537.2,220.0 L537.5,218.6 L537.7,218.8 L538.0,217.9 L538.2,218.8 L538.4,216.9 L538.7,217.5 L538.9,216.2 L539.1,214.8 L539.4,217.7 L539.6,216.1 L539.8,215.8 L540.1,216.1 L540.3,214.1 L540.5,216.0 L540.8,214.2" fill="none" stroke="#d81818" stroke-width="2.2" stroke-linejoin="round"/><path d="M537.2,216.8V223.2M537.5,215.0V222.1M537.7,215.8V221.8M538.0,213.9V221.8M538.2,215.3V222.4M538.4,214.8V219.0M538.7,214.4V220.7M538.9,212.3V220.1M539.1,210.9V218.7M539.4,214.7V220.8M539.6,212.9V219.3M539.8,212.2V219.5M540.1,213.7V218.5M540.3,211.6V216.6M540.5,212.9V219.0M540.8,212.0V216.3" stroke="#d81818" stroke-width="1.0"/><path d="M540.8,208.9V223.9M542.8,204.6V217.8M544.8,209.2V222.4M546.8,205.0V222.0M548.8,199.3V213.9M550.8,206.0V222.8M552.8,206.1V221.6M554.8,205.8V218.9M556.8,206.3V218.1M558.8,203.6V217.0M560.8,208.2V223.4M562.7,204.7V213.7M564.7,200.8V219.6M566.7,199.5V214.3M568.7,206.3V217.8M570.7,202.7V212.5M572.7,198.9V213.6M574.7,204.3V221.3M576.7,205.7V219.0M578.7,203.9V217.3M580.7,202.1V217.3M582.7,204.2V220.0M584.7,205.2V219.2M586.7,204.7V219.4M588.7,205.3V217.9" stroke="#d81818" stroke-width="1.2"/><path d="M540.8,211.9V215.9M542.8,207.8V211.8M544.8,212.1V216.1M546.8,211.4V215.4M548.8,207.2V211.2M550.8,211.1V215.1M552.8,209.9V213.9M554.8,208.3V212.3M556.8,210.2V214.2M558.8,208.8V212.8M560.8,212.1V216.1M562.7,207.1V211.1M564.7,207.7V211.7M566.7,206.7V210.7M568.7,208.8V212.8M570.7,205.6V209.6M572.7,206.8V210.8M574.7,209.3V213.3M576.7,209.2V213.2M578.7,207.5V211.5M580.7,208.9V212.9M582.7,209.0V213.0M584.7,210.6V214.6M586.7,211.9V215.9M588.7,210.0V214.0" stroke="#d81818" stroke-width="2.1"/><path d="M591.3,172V188" stroke="#d81818" stroke-width="1.6"/><path d="M592.5,174.3V190.7M593.9,187.4V206.5M595.3,193.6V207.0M596.7,189.6V205.7M598.1,188.9V207.0M599.5,189.9V208.4M600.9,191.5V206.4M602.3,191.0V207.5M603.8,188.6V204.6M605.2,190.7V202.8M606.6,188.3V204.8M608.0,191.8V207.8M609.4,188.7V204.9M610.8,189.9V205.8M612.2,186.6V202.6M613.6,192.4V207.7M615.0,188.9V206.2M616.4,188.1V204.6M617.9,185.6V201.4M619.3,190.4V201.5M620.7,187.7V207.6M622.1,190.7V202.9M623.5,192.0V206.4" stroke="#d81818" stroke-width="1.2"/><path d="M592.5,182.4V186.4M593.9,195.6V199.6M595.3,198.2V202.2M596.7,195.2V199.2M598.1,196.9V200.9M599.5,197.7V201.7M600.9,196.6V200.6M602.3,194.6V198.6M603.8,195.1V199.1M605.2,194.9V198.9M606.6,194.7V198.7M608.0,195.6V199.6M609.4,196.6V200.6M610.8,195.5V199.5M612.2,192.7V196.7M613.6,195.8V199.8M615.0,194.3V198.3M616.4,194.8V198.8M617.9,192.3V196.3M619.3,193.8V197.8M620.7,196.0V200.0M622.1,195.0V199.0M623.5,196.0V200.0" stroke="#d81818" stroke-width="2.1"/><path d="M624.2,182.3V201.2M625.3,187.4V204.8M626.3,185.4V203.4M627.4,188.8V209.2M628.4,194.3V210.2M629.5,190.9V212.6M630.5,188.2V206.2M631.6,185.8V207.5M632.7,194.1V212.0M633.7,196.3V215.7M634.8,198.2V216.5M635.8,194.8V217.0M636.9,193.9V211.7M637.9,194.1V213.1M639.0,196.8V215.6M640.1,198.3V216.2M641.1,196.7V215.7M642.2,203.6V222.4M643.2,201.9V220.1M644.3,205.8V223.4M645.3,202.3V216.7M646.4,204.1V218.9M647.5,202.6V220.6M648.5,207.8V225.7M649.6,202.0V219.9M650.6,202.4V223.1M651.7,208.6V225.7M652.8,207.6V225.1M653.8,210.3V227.5M654.9,212.5V229.9M655.9,209.8V226.9M657.0,207.2V225.3M658.0,205.8V225.2M659.1,209.0V228.1M660.2,213.8V229.4M661.2,207.3V224.8M662.3,210.2V225.3M663.3,210.3V227.0M664.4,215.0V230.0M665.4,208.8V226.6M666.5,210.7V232.2M667.6,208.3V224.7M668.6,214.3V230.7M669.7,216.8V232.0M670.7,222.6V238.8" stroke="#d81818" stroke-width="1.2"/><path d="M624.2,192.0V196.0M625.3,191.8V195.8M626.3,194.3V198.3M627.4,198.2V202.2M628.4,201.8V205.8M629.5,199.9V203.9M630.5,198.2V202.2M631.6,195.6V199.6M632.7,200.1V204.1M633.7,204.5V208.5M634.8,204.0V208.0M635.8,204.3V208.3M636.9,202.1V206.1M637.9,204.1V208.1M639.0,205.5V209.5M640.1,205.7V209.7M641.1,205.6V209.6M642.2,209.7V213.7M643.2,209.0V213.0M644.3,210.8V214.8M645.3,208.3V212.3M646.4,210.2V214.2M647.5,210.8V214.8M648.5,214.6V218.6M649.6,207.3V211.3M650.6,209.7V213.7M651.7,213.0V217.0M652.8,213.4V217.4M653.8,216.8V220.8M654.9,216.5V220.5M655.9,217.5V221.5M657.0,212.3V216.3M658.0,215.1V219.1M659.1,219.0V223.0M660.2,218.6V222.6M661.2,216.2V220.2M662.3,214.4V218.4M663.3,216.2V220.2M664.4,220.8V224.8M665.4,217.7V221.7M666.5,218.8V222.8M667.6,213.1V217.1M668.6,220.9V224.9M669.7,221.6V225.6M670.7,227.6V231.6" stroke="#d81818" stroke-width="2.1"/>
</svg>
</body></html>
